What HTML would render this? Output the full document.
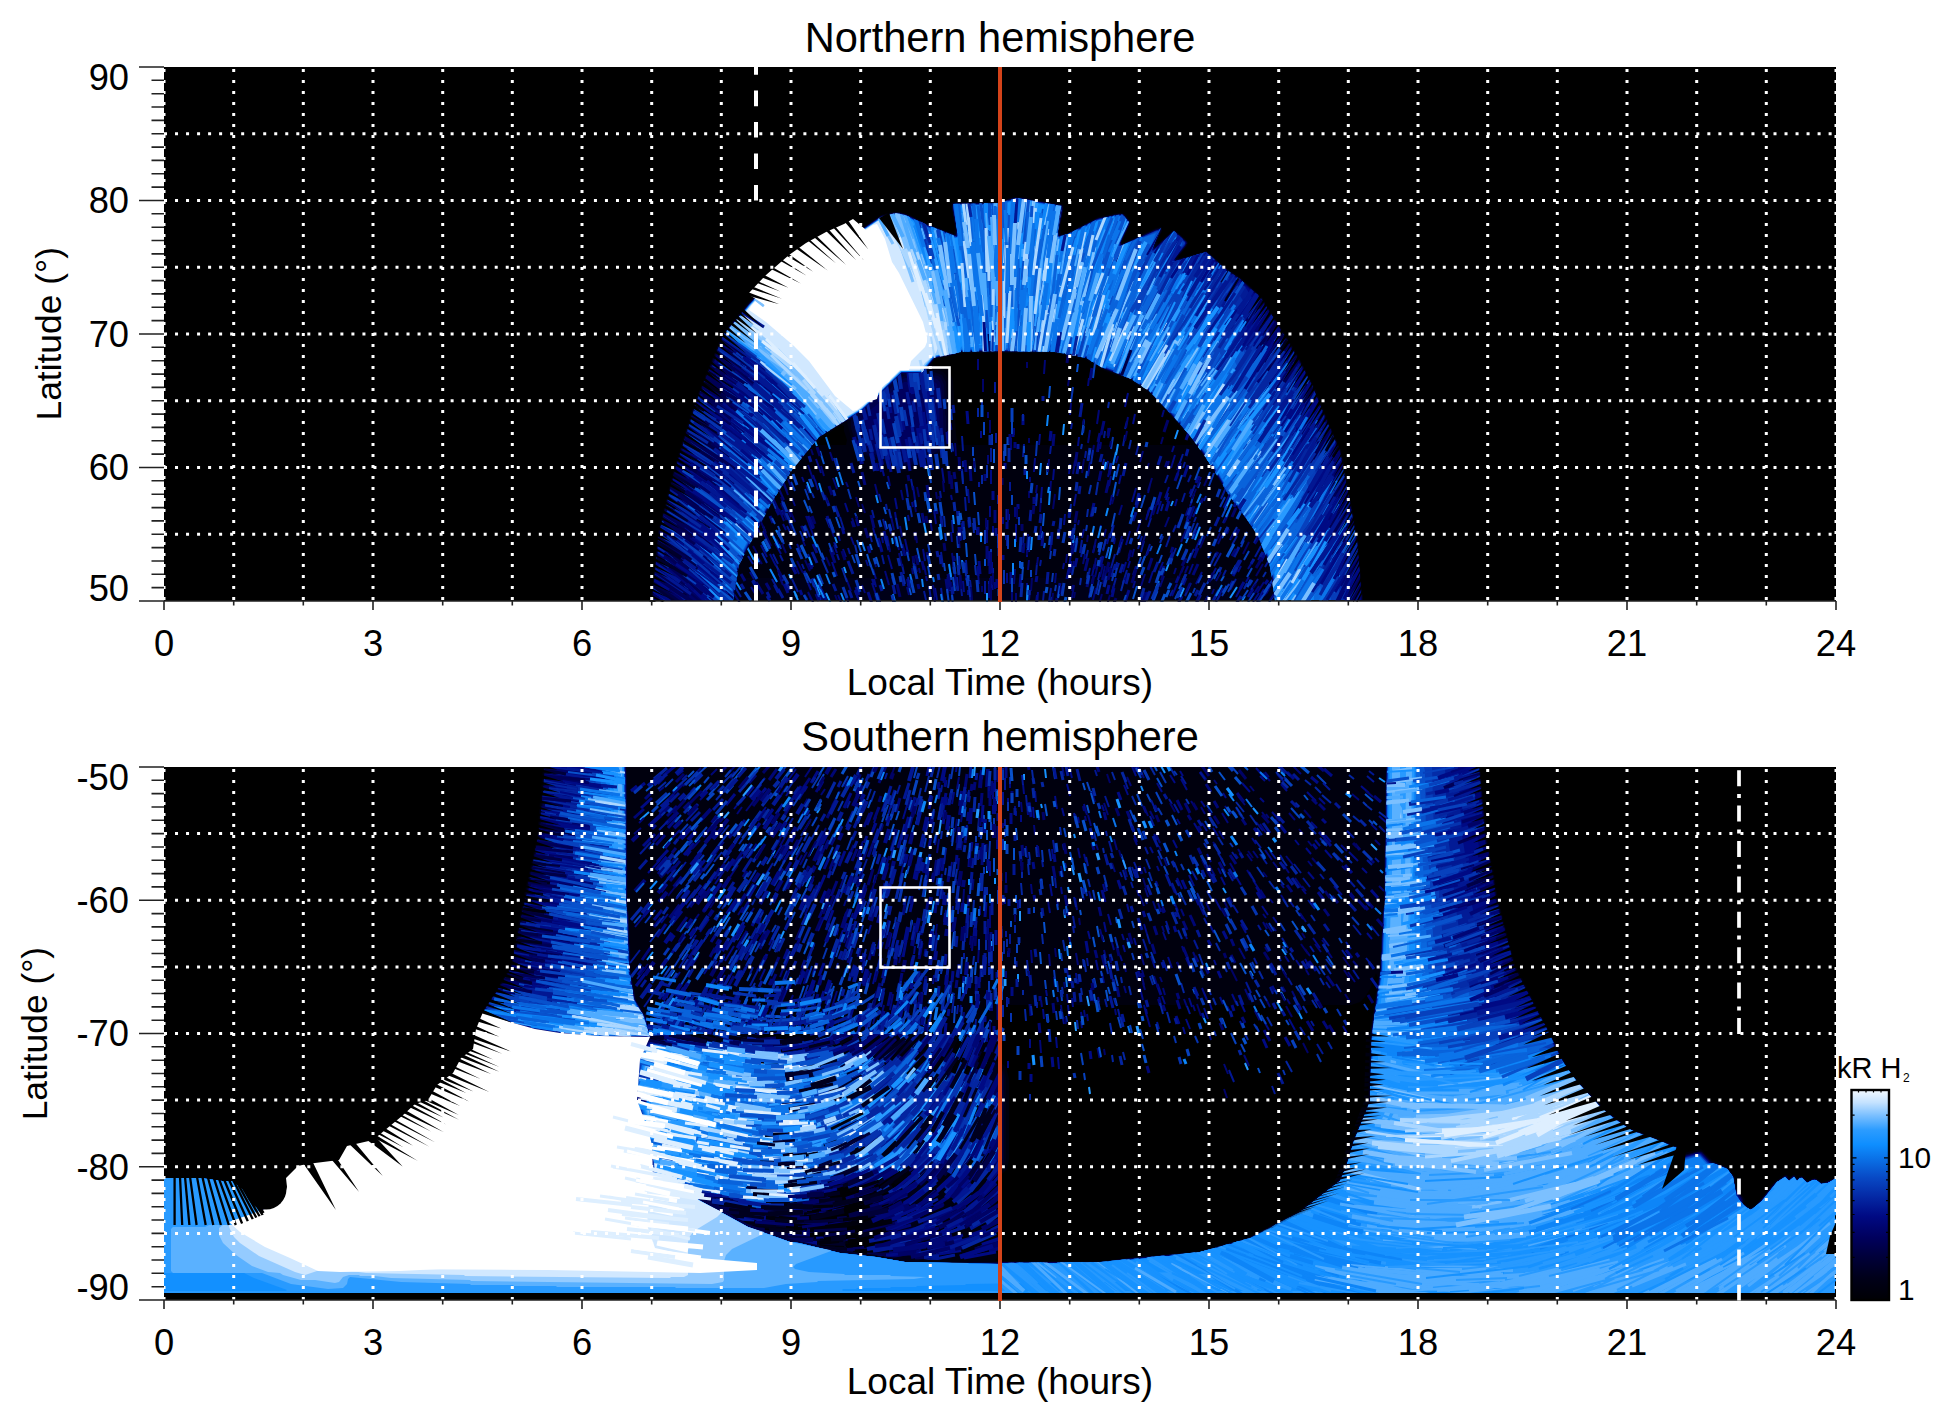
<!DOCTYPE html>
<html><head><meta charset="utf-8"><title>Aurora</title>
<style>html,body{margin:0;padding:0;background:#fff}svg{display:block}text{font-family:"Liberation Sans",sans-serif;fill:#000}</style></head><body>
<svg width="1950" height="1423" viewBox="0 0 1950 1423">
<rect width="1950" height="1423" fill="#fff"/>
<rect x="164.0" y="67.0" width="1672.0" height="534.0" fill="#000"/>
<rect x="164.0" y="767.0" width="1672.0" height="533.0" fill="#000"/>
<clipPath id="cn"><rect x="164" y="67" width="1672" height="535"/></clipPath>
<g clip-path="url(#cn)">
<path d="M1363 594l-1-1-4-55-17-88-12-26-13-34-20-38-34-55-22-20-15-10-18-16-28 7-1-1 9-11 1-4-13-12-2 0-15 14-1-3 5-10 0-4-6 1-33 15-1-1 9-20-6-8-8-1-19 4-31 16-6 1-1-6 4-22-2-2-22-3-17-4-10 0-16 5-44 0-2 2 4 24-1 6-28-11-16-8-10-3-8 0-11 3-21 14-10-9-29 21-40 26-33 36-25 29-30 75-19 61-16 63-7 69 712 0zM844 426l0 5 3 9-1 5-28 0-1-1 4-6 20-13zM932 363l3-4 27-6 92 0 31 6 18 11 27 10 18 12 27 28 18 24-1 1-234 0-2-10-3-55-3-8-4-4-13-3z" fill="#00000e" fill-rule="evenodd"/>
<path d="M1363 596l-1-1-4-55-17-89-33-76-12-22-34-55-22-20-15-10-19-17-21 7-7 1-1-1 11-15-4-5-10-8-17 15-1-3 6-12-1-3-39 17-1-1 9-19 0-3-6-7-3-1-24 5-31 16-6 1-1-6 4-19-1-5-46-8-20 6-43 0-1 5 4 21-1 6-28-11-21-10-9-2-17 4-20 14-9-9-2 0-27 20-40 26-25 27-34 39-27 66-22 70-1 8-15 56-7 67 712 0zM739 571l1-5 32-63 19-31 29-35 22-14 5-1 6 23 3 6 5 5 7 4 31 12 13-1 32-18 6-6 2-6-3-59-3-7-3-3-4-2-7 0-4-2 6-9 28-7 92 0 31 6 18 11 27 10 18 12 13 13 34 39 16 23 15 27 20 26 11 17 12 32 0 9-1 1-528 0z" fill="#000018" fill-rule="evenodd"/>
<path d="M1362 594l-1-1-4-55-17-88-33-76-12-22-34-55-20-18-15-10-19-17-31 8-1-1 11-13 1-4-12-11-2 0-17 16-2-1 7-15 0-3-5 1-34 16-1-3 9-20-7-8-6 0-19 4-31 16-8 2-1-2 5-25-1-4-22-3-17-4-10 0-16 5-44 0-1 4 5 27-1 1-30-11-21-10-9-2-15 4-21 14-10-9-29 21-40 26-32 35-26 31-1 5-28 68-19 61-16 63-7 69 82 0 5-34 26-49 5-12 20-32 29-36 28-17 3-1 1 1 0 8 5 17 7 9 36 15 10 0 5-2 28-16 5-5 2-5 0-18-1-1-2-40-4-7-8-3-8 0-1-2 10-12 13-2 13-4 94 0 31 6 18 11 27 10 18 12 39 42 24 34 18 31 18 23 12 20 10 26 5 33 87 0z" fill="#000028" fill-rule="evenodd"/>
<path d="M1362 596l-1-1-4-55-17-89-33-76-12-22-34-55-22-20-15-10-11-11-7-5-19 6-11 2-1-1 10-12 2-5-12-11-2 0-18 17-1-3 7-17-40 17-1-1 9-19 0-4-6-7-5 0-22 5-29 15-8 2-1-3 5-25-2-3-22-3-17-4-8 0-16 5-44 0-2 3 5 27-1 3-31-12-15-8-10-3-8 0-11 3-20 14-3 0-7-8-2 0-26 19-40 26-26 28-33 38-27 66-22 70-16 63-7 68 81 0 6-35 32-62 20-32 28-34 31-19 3 0 1 1-1 6 5 18 2 4 6 6 36 14 8-1 26-14 10-10 0-26-1-1-1-30-3-7-3-2-15-2 5-9 6-7 27-6 37 0 1-1 3 1 54 0 31 6 18 11 28 11 15 10 28 29 16 19 19 27 18 31 28 38 13 32 5 34 87 0zM900 376l2-2 3 1-3 2z" fill="#000038" fill-rule="evenodd"/>
<path d="M1362 596l-1-1-4-55-18-91-31-72-12-22-36-58-20-18-15-10-19-17-30 9-1-3 12-15-13-12-19 17-2-1 8-18-6 1-34 15-1-2 9-19 0-3-6-7-26 5-29 15-9 2-1-4 4-19 0-7-41-8-6 0-16 5-44 0-2 1 0 7 4 21-1 4-29-11-18-9-10-3-6 0-11 3-21 14-3 0-7-8-2 0-26 19-40 26-26 28-33 38-4 13-23 54-22 70 0 4-15 57-7 69 80 0 6-36 31-60 20-32 30-36 39-23 2 1-5 7 0 6 4 14 4 7 10 6 27 10 9-1 30-17 4-8-2-47-2-9-3-3-6-2-26 1-9 5-9 9-2-1 17-18 21 0 1-3 10-12 21-4 7-3 92 0 31 6 18 11 27 10 18 12 41 44 23 32 18 31 28 38 12 30 5 35 87 0zM880 396l1 1-4 3-1-1z" fill="#00004b" fill-rule="evenodd"/>
<path d="M933 381l-29 1-36 30-8 9 0 8 6 16 7 5 26 10 9 0 29-16 3-4-1-42-2-14zM1361 594l-1-1-4-55-17-88-32-74-12-22-34-55-20-19-15-10-19-17-8 1-23 7-2-2 11-13 1-4-11-10-2 0-18 17-2-1 0-2 8-17-24 9-16 8-1-3 9-19-3-6-5-4-24 5-31 16-7 1-1-7 4-23-46-8-20 6-43 0 4 25-1 7-30-11-20-10-8-2-18 4-20 14-9-9-2 0-27 20-40 26-57 64-4 13-23 54-22 70-16 64-7 67 79 0 6-34 33-64 20-32 26-32 45-27 17-15 22-23 21 0 12-15 28-7 92 0 31 6 21 12 26 10 18 12 38 41 23 32 18 31 26 35 6 11 10 26 5 33 85 0z" fill="#00005e" fill-rule="evenodd"/>
<path d="M1361 596l-1-1-4-55-17-89-33-76-12-22-34-55-21-19-15-10-18-16-31 8-1-2 12-15 0-2-11-10-2 0-19 18-1-4 7-17-39 17-1-4 9-20-6-7-6 0-19 4-31 16-8 2-2-3 5-28-45-8-20 6-44 0 5 30-1 2-6-1-25-10-20-10-9-2-17 4-20 14-10-9-68 46-33 36-25 30 0 5-25 59-18 57 0 4-4 10-9 37-5 26-1 37-3 31 73 0 6-35 32-62 20-32 26-32 6-5 39-23 40-38 21 0 13-16 22-4 4-2 94 0 31 6 18 11 27 10 18 12 40 43 23 32 18 31 28 38 13 33 5 33 85 0z" fill="#000571" fill-rule="evenodd"/>
<path d="M669 600l63 0 6-35 32-62 20-32 29-35 42-25 40-38 20 0 2-1 10-14 28-7 38 0 1-1 1 1 54 0 31 6 18 11 27 10 18 12 28 29 16 19 19 27 18 31 28 38 13 32 5 34 84 0 0-5-1-1-4-55-17-88-33-76-12-22-34-55-22-20-12-8-19-17-27 8-4 0-1-2 12-16-12-11-20 18-2-1 8-20-40 17-1-2 10-22-6-7-6 0-19 4-31 16-8 2-2-3 5-25-1-3-38-7-10 0-16 5-43 0-1 3 5 27-2 3-23-10-8-2-15-8-14-4-15 4-21 14-2 0-8-9-26 19-40 26-60 67 0 2 8 7 0 4-26 57-9 27-11 45-1 10-12 55-1 38z" fill="#000a84" fill-rule="evenodd"/>
<path d="M724 334l1 3 14 10 8 9-28 56-7 18 0 4-9 28 0 4-6 20-13 57 0 29-3 28 51 0 6-36 31-60 20-32 31-37 42-25 40-38 20 0 12-15 27-6 37 0 1-1 3 1 54 0 31 6 18 11 28 11 18 12 43 48 19 27 18 31 26 35 14 34 5 34 80 0-5-57-19-89-10-20-17-42-18-33-27-42-6-16-8-13-9-9-20-15-10-10-4 0-28 8-2-2 12-15 0-3-11-10-21 19-1-3 8-18-3 0-34 16-3 0-1-2 9-20 0-3-5-6-5 0-20 4-31 16-9 2-1-3 5-27-39-8-10 0-16 5-43 0-1 3 5 27-1 3-32-12-15-8-10-3-8 0-11 3-20 14-3 0-8-9-27 20-40 26z" fill="#021b96" fill-rule="evenodd"/>
<path d="M724 335l20 15 12 11 6 7 0 2-20 35-13 28-28 110-2 18 0 21-3 18 36 0 5-33 16-33 17-32 20-32 28-34 45-27 13-13 4-2 20-21 2-1 20 0 12-15 22-4 6-3 92 0 31 6 18 11 29 11 18 12 39 42 23 32 18 31 28 38 13 32 5 35 72 0 0-11-5-46-14-63-6-22-14-28-14-34-21-37-13-19-14-33-22-35-19-18-14 3-14 5-5-1 0-2 12-15 0-2-10-9-2 0-19 18-3-1 8-20-36 16-3 0-1-3 9-21-6-7-4 0-19 4-31 16-10 2-1-4 5-26-40-8-8 0-16 5-44 0-1 2 5 27-1 4-33-12-19-10-13-1-11 3-20 14-3 0-7-8-2 0-26 19-40 26-34 37z" fill="#042ca8" fill-rule="evenodd"/>
<path d="M725 334l0 2 11 7 30 26 14 14 2 5-6 7-17 27-9 20-6 21-10 23-24 67-6 47 27 0 6-35 32-62 20-32 30-36 42-25 40-38 21 0 12-15 21-4 7-3 93 0 31 6 18 11 27 10 18 12 41 44 23 32 18 31 27 37 14 34 5 33 63 0-5-54-11-47-12-39-10-18-19-43-26-43-18-43-22-33-12-23-5-1-21 6-6-1 1-4 11-14-11-10-21 19-2-1 0-2 8-18-3 0-36 16-2-2 10-21-3-6-4-3-24 5-29 15-10 2-1-5 4-19 0-6-40-8-6 0-16 5-44 0-1 7 4 21-1 5-21-7-19-8-8-5-10-3-6 0-12 3-20 14-3 0-7-8-2 0-26 19-40 26-34 37z" fill="#073db9" fill-rule="evenodd"/>
<path d="M725 334l0 2 24 17 14 14 8 6 16 18 3 5 0 3-7 8-15 23-27 55-27 72-5 43 22 0 7-38 32-61 21-33 28-33 42-25 40-38 21 0 12-15 20-4 7-3 37 0 1-1 3 1 54 0 31 6 18 11 28 11 18 12 25 26 19 23 18 26 18 31 28 38 13 32 5 34 54 0-4-43-3-16-9-35-14-40-33-66-8-12-28-63-12-21-21-31-16-11-4 1-7-1 1-5 9-12 0-3-8-8-22 19-2-2 8-20-36 16-3 0-1-3 10-22-5-6-6 0-19 4-29 15-10 3-3-3 5-28-43-8-22 6-42 0 5 30-2 2-3 0-21-9-3 0-14-6-5-4-12-4-6 0-11 3-23 15-8-9-2 0-27 20-40 26-32 35z" fill="#0851cc" fill-rule="evenodd"/>
<path d="M725 334l1 2 22 16 34 31 11 16 2 6-12 15-15 24-23 47-26 66-6 43 17 0 1-1 5-33 8-17 25-47 20-32 26-32 6-5 9-4 31-19 40-38 20 0 12-15 27-6 3-2 91 0 31 6 21 12 28 11 15 10 29 30 16 19 19 27 18 31 28 38 13 32 5 35 45 0-6-52-15-50-12-29-7-11-62-127-22-34-28-23-5-11 1-12-5-4-7 6-4-1 0-3 6-16-17 6-16 8-5-1 9-22 0-2-5-6-24 4-31 16-9 2-2-4 5-27-38-7-10 0-16 5-43 0 5 29-2 4-33-12-3 5-4-8-3-3-17-6-15 3-22 15-8-8-3-1-27 20-40 26-32 35z" fill="#0a67de" fill-rule="evenodd"/>
<path d="M726 333l2 4 22 16 29 26 17 23 4 9-11 13-16 25-22 43-25 67-2 24-3 17 8 0 1-2 5-33 33-63 20-32 29-35 11-5 34-21 39-37 20 0 12-15 23-5 7-4 35 0 1-1 3 1 53 0 31 6 19 11 28 11 18 12 29 31 18 22 16 23 15 27 31 43 13 33 5 33 36 0 0-11-4-33-14-47-11-25-17-31-22-46-36-63-15-21-6-6-9-6-15-15-5-7-6-14-4-4-6-11-1-14-2-4-4-1-16 7-4-2 10-23-5-7-23 4-31 16-10 2-2-2 5-28-1-1-38-7-8 0-16 5-43 0-1 1 5 30-4 2-8-4-12-3-5 21-5-4-9-25-4-4-7-3-9-2-15 4-21 14-2 0-8-9-26 19-40 26z" fill="#0c7df1" fill-rule="evenodd"/>
<path d="M726 334l20 15 37 34 25 36-11 15-15 25-15 33-4 6-7 19 30-49 26-32 8-6 5 1 35-21 40-38 22-1 12-15 24-5 5-6 34 0 1-1 5 1 53 0 31 6 19 11 26 10 19 12 14 13 35 42 16 24 18 32 27 38 13 34 4 33 29 0-5-45-8-27-7-18-46-89-41-64-12-15-19-11-16-13-8-9-7-11-16-36-3-12-3-3 3-11 0-17-1-1-20 3-29 15-10 3-4-4 5-27-42-8-22 6-41 0 5 29-2 3-4 0-7-3-1 1-3 32-2 7-4-4-14-24-6-20-3-6-3-2-11-4-8 0-4 2-4 0-24 15-2 0-8-9-26 19-40 26-35 38z" fill="#1290ff" fill-rule="evenodd"/>
<path d="M904 216l-12-1-11 3-20 14-3 0-7-8-4 1-24 18-40 26-33 36-23 28 2 3 22 16 32 29 23 32 17 17 7-2 30-18 42-39 20 0 12-15 20-4 5-3 1-17-6-23-25-50-8-13-1-6-7-18z" fill="#289aff" fill-rule="evenodd"/>
<path d="M904 217l-11-2-11 3-21 14-3 0-7-8-4 1-24 18-40 26-33 36-20 25 1 3 21 15 35 32 21 29 19 19 8-3 26-16 40-38 20 0 12-15 12-2 9-3 1-2 1-12-5-23-26-54-7-11-7-23-3-6z" fill="#5ab1ff" fill-rule="evenodd"/>
<path d="M897 216l-15 2-23 15-9-9-26 19-40 26-47 52-2 4 1 3 21 15 35 32 26 35 15 14 4-1 25-15 17-15 20-21 2-1 19 0 13-15 12-3 3-5 1-12-5-21-26-53-6-9-6-21z" fill="#94cbff" fill-rule="evenodd"/>
<path d="M887 218l-9 3-18 12-2 0-7-8-3 0-24 18-40 26-34 37-9 12 0 2 15 10 28 24 17 17 26 35 14 12 3 0 16-9 40-38 20-1 5-7 11-10 3-8 0-11-5-18-24-49-8-13-6-21-7-14z" fill="#d1e8ff" fill-rule="evenodd"/>
<path d="M877 224l-4 1-13 9-2 0-8-9-26 19-40 26-33 36-2 4 17 12 28 24 15 15 26 35 18 15 4-1 9-7 34-33 9 0 2-9 14-14 2-5 0-5-4-15-24-49-7-11-7-23z" fill="#ffffff" fill-rule="evenodd"/>
<clipPath id="cnb"><polygon points="652.0,601.0 659.0,533.0 676.0,467.0 697.0,400.0 724.0,334.0 753.0,301.0 783.0,268.0 825.0,240.0 850.0,222.0 859.0,232.0 881.0,217.0 896.0,213.0 905.0,215.0 930.0,226.0 958.0,237.0 953.0,204.0 998.0,203.0 1017.0,198.0 1062.0,206.0 1057.0,237.0 1068.0,234.0 1098.0,219.0 1122.0,214.0 1129.0,222.0 1118.0,247.0 1161.0,228.0 1150.0,254.0 1174.0,231.0 1187.0,243.0 1172.0,262.0 1206.0,252.0 1223.0,267.0 1241.0,280.0 1260.0,297.0 1276.0,322.0 1294.0,352.0 1312.0,385.0 1327.0,422.0 1340.0,452.0 1349.0,497.0 1357.0,542.0 1362.0,601.0 1275.0,601.0 1270.0,567.0 1258.0,536.0 1246.0,518.0 1228.0,494.0 1210.0,464.0 1191.0,437.0 1173.0,416.0 1149.0,391.0 1131.0,379.0 1101.0,367.0 1086.0,358.0 1055.0,352.0 1000.0,351.0 961.0,352.0 934.0,358.0 922.0,373.0 901.0,373.0 883.0,391.0 862.0,410.0 843.0,422.0 819.0,437.0 792.0,470.0 772.0,502.0 755.0,534.0 739.0,565.0 733.0,601.0"/></clipPath>
<g clip-path="url(#cnb)"><path d="M1299 404l23 -36M693 490l-35 -22M700 474l-15 -10M717 422l-19 -13M677 540l-18 -14M1249 325l30 -39M682 550l-38 -22M710 473l-36 -25M684 565l-24 -16M700 476l-23 -17M1346 551l14 -27M693 529l-44 -30" stroke="#000047" stroke-width="4" fill="none" stroke-linecap="butt"/>
<path d="M723 530l-16 -12M1325 503l13 -19M1328 474l11 -19M1298 468l22 -38M1263 395l33 -44M1305 412l17 -30M717 514l-21 -17M710 602l-26 -20M780 398l-25 -19M1317 469l14 -23M1324 520l19 -33M1331 521l13 -20M1311 462l16 -27M769 391l-27 -20M707 540l-15 -11M735 478l-23 -19M1262 387l22 -36M1332 530l14 -23M668 554l-17 -10M1329 592l31 -46M1337 553l10 -17M779 400l-39 -30M741 383l-16 -11M718 496l-45 -31M1341 583l20 -31M723 574l-33 -29M1309 489l18 -30M748 377l-29 -23M748 403l-32 -20M703 564l-25 -18M698 522l-21 -13M724 469l-35 -24M1115 262l14 -33M1210 292l24 -38M750 431l-31 -23M721 464l-25 -17M691 546l-19 -14M730 479l-41 -32M738 485l-32 -21M1306 416l13 -21M708 541l-28 -18M700 524l-19 -15M1292 455l30 -48M1326 523l30 -45M744 530l-48 -34M747 435l-23 -17M1249 372l20 -29M714 511l-24 -18M710 616l-39 -30M1214 281l11 -16M744 383l-30 -19M1339 600l27 -53M712 600l-18 -17M765 375l-36 -30M703 590l-44 -37M1314 489l18 -33M733 448l-24 -18M1318 446l17 -25M734 443l-38 -26M1339 503l11 -16M722 474l-23 -18M1336 581l11 -17M774 414l-49 -33M779 509l-14 -16M704 571l-29 -25M724 493l-29 -20M1153 255l9 -16M1319 497l28 -44M674 546l-29 -18" stroke="#000675" stroke-width="3" fill="none" stroke-linecap="butt"/>
<path d="M1271 453l17 -27M977 376l-7 -57M1168 320l29 -49M1308 603l14 -24M1196 334l17 -25M1148 295l16 -35M1140 315l24 -47M1177 310l26 -42M1291 489l17 -25M1204 342l22 -39M955 364l-3 -23M1198 299l14 -20M1180 284l12 -22M795 418l-13 -13M1183 334l22 -43M1290 546l18 -29M797 462l-42 -39M1122 278l17 -42M1211 483l15 -25M815 478l-38 -37M1072 382l15 -53M1139 394l12 -24M1143 321l19 -31M1206 337l18 -27M1169 323l27 -51M757 535l-14 -14M1293 523l20 -33M764 534l-37 -32M1131 386l9 -17M1154 348l21 -41M1291 560l24 -34M1293 532l13 -21M1138 299l12 -26M1197 327l27 -47M1165 314l21 -32M1203 387l28 -45M1171 352l19 -28M1272 526l33 -48M790 483l-42 -35M1183 296l14 -28" stroke="#1792ff" stroke-width="3" fill="none" stroke-linecap="butt"/>
<path d="M1148 338l15 -26M1282 444l32 -49M1299 560l12 -17M1194 286l22 -30M1259 497l17 -25M1048 334l5 -59M1089 336l13 -53M1330 523l16 -25M970 344l-5 -55M1005 214l1 -21M1046 345l5 -50M1040 352l9 -50M1255 467l21 -30M1173 424l28 -49M1025 357l1 -23M1057 318l8 -45M1125 329l22 -52M1243 509l13 -21M779 432l-45 -36M780 487l-28 -24M749 586l-44 -40M1005 245l2 -55M1030 253l7 -50M975 350l-5 -55M1104 267l7 -23M1115 361l8 -17M1301 505l27 -42M972 331l-7 -45M1232 510l33 -44M779 508l-38 -37M948 282l-14 -56M1165 344l18 -28M1101 295l11 -33M1180 445l26 -51M969 242l-6 -55M804 403l-22 -18M1179 271l11 -17M1012 245l2 -31M737 571l-40 -36M1212 326l15 -21M1155 338l12 -25M1159 391l27 -53M1044 350l5 -42M1155 411l17 -31M1084 301l7 -24M1130 391l16 -29M1018 336l3 -42M1153 322l16 -32M1064 262l4 -26M1160 425l18 -29M1130 404l20 -47M974 285l-5 -29M1170 405l23 -37M1248 535l32 -49M969 280l-4 -24M1215 498l33 -47M1318 614l24 -42M1250 507l21 -31M1005 349l2 -59M1087 308l7 -31M993 334l1 -27M1223 479l18 -24M1216 513l30 -48M970 247l-3 -25M983 346l-6 -46M1123 333l28 -50M1246 528l33 -46M1236 486l13 -21M1091 354l11 -33M947 279l-9 -48M811 424l-21 -22M1057 288l10 -59M1104 298l11 -30M1174 355l16 -29M1031 300l1 -23M1105 309l21 -55M1043 250l5 -32M1003 269l4 -56M960 303l-2 -20M1250 343l13 -19M1007 282l-2 -57M1260 410l21 -36M1322 563l10 -16M1323 579l16 -28M1023 342l4 -54M1275 589l24 -37M761 532l-15 -14M1304 596l19 -34M1277 560l18 -31M1226 432l10 -17M1326 566l16 -23M986 235l-1 -48M1032 309l7 -57M1043 332l9 -52M1147 377l20 -39M1189 409l15 -21" stroke="#0963db" stroke-width="2" fill="none" stroke-linecap="butt"/>
<path d="M1125 301l26 -54M743 553l-18 -17M768 507l-26 -21M1118 309l14 -29M1109 305l12 -33M1164 382l24 -47M1153 391l19 -37M1025 352l2 -37M1124 267l19 -38M800 466l-22 -25M1179 381l10 -17M1138 373l19 -42M760 528l-31 -32M1102 372l20 -53M1246 367l30 -41M1212 432l19 -30M786 410l-35 -26M767 423l-14 -12M1174 420l29 -43M1221 496l13 -17M1289 575l29 -49M946 306l-8 -42M1049 269l5 -39M1286 429l29 -48M1101 269l12 -30M1152 284l11 -20M1037 319l6 -40M1300 611l27 -37M1163 296l18 -31M1031 341l4 -29M1279 482l12 -19M1113 299l12 -33M1163 353l20 -35M1201 440l13 -19M1087 295l6 -26M1201 474l18 -29M1242 490l24 -41M1096 377l11 -35M1050 256l5 -28M1291 564l28 -40M1129 341l19 -47M1166 322l18 -31M1074 302l5 -19M1221 446l13 -22M1081 353l5 -21M1228 427l11 -19M723 609l-38 -32M1007 260l3 -45M1292 576l24 -37M1299 470l32 -45M718 539l-36 -24M1165 334l16 -26M826 436l-18 -22M988 329l1 -48M825 468l-34 -35M959 296l-7 -50M735 441l-41 -28M1162 408l11 -22M990 225l-2 -38M1275 510l26 -36M1145 318l14 -25M718 506l-35 -27M1265 503l16 -25M777 407l-21 -18M749 423l-20 -14M1125 285l13 -35M1160 369l9 -16M1184 331l19 -38M995 372l2 -50M1248 477l11 -18M1024 288l4 -40M1203 471l20 -28M974 275l-3 -42M1020 358l3 -31M1283 551l35 -47M767 518l-32 -30M1264 506l27 -47M726 519l-21 -17M1146 346l20 -44M761 420l-43 -37" stroke="#0851cc" stroke-width="4" fill="none" stroke-linecap="butt"/>
<path d="M745 376l-23 -18M770 483l-38 -31M1241 394l18 -29M1246 435l34 -45M723 439l-17 -14M1344 552l22 -41M1204 361l25 -37M1305 522l27 -39M1224 344l12 -17M1169 283l23 -38M685 572l-27 -20M1226 337l12 -19M750 501l-30 -26M1215 350l34 -49M1289 449l11 -20M1276 441l9 -16M1181 318l27 -50M722 384l-23 -13M678 533l-24 -17M1192 331l27 -42M947 258l-8 -54M1306 512l10 -17M1189 269l10 -17M1218 327l23 -38M1292 456l22 -35M685 568l-27 -21M1210 316l26 -44M768 426l-25 -18M1149 271l25 -43M1314 432l10 -17M1164 267l19 -31M1247 382l12 -17M733 382l-21 -16M1328 491l24 -35M727 613l-30 -28M727 601l-28 -28M1322 592l29 -51M1189 272l16 -24M1347 580l16 -33M761 483l-17 -15M751 527l-44 -36" stroke="#0425a0" stroke-width="2" fill="none" stroke-linecap="butt"/>
<path d="M771 390l-33 -29M1338 614l26 -44M766 430l-30 -25M1289 439l26 -44M707 597l-16 -12M713 607l-17 -17M1240 322l18 -28M1166 248l17 -29M724 484l-35 -22M770 424l-17 -16M1315 518l19 -34M742 483l-18 -13M779 426l-40 -34M764 427l-25 -22M739 461l-19 -16M782 417l-23 -22M766 456l-19 -16M719 610l-33 -30M1333 592l14 -24M1266 407l25 -42M1293 432l25 -39M747 444l-31 -27M737 428l-20 -17M1318 503l9 -17M791 413l-41 -33" stroke="#000a84" stroke-width="2" fill="none" stroke-linecap="butt"/>
<path d="M732 446l-34 -26M713 444l-17 -11M739 439l-47 -33M1274 360l10 -17M719 576l-42 -31M755 430l-40 -26M723 390l-25 -17M736 417l-37 -27M680 577l-19 -15M762 425l-44 -36M731 521l-43 -31M733 482l-37 -24M1244 324l17 -22M734 433l-43 -30M742 483l-40 -30M1120 226l8 -22M736 452l-19 -15M751 373l-48 -35M723 598l-45 -36M1354 608l11 -23M1291 406l26 -41M1254 363l25 -42M766 370l-27 -18M755 595l-37 -33M702 589l-16 -12M726 431l-18 -13M697 588l-41 -31M669 581l-28 -20M690 543l-16 -12M738 501l-46 -37M754 377l-41 -29M1305 446l25 -45M774 406l-28 -24M711 593l-32 -23M1270 365l15 -24M1296 397l15 -20M760 375l-32 -22M706 608l-38 -30M1278 420l28 -41M1329 474l11 -17M701 590l-39 -32M706 447l-32 -21M1330 543l23 -45M706 608l-37 -26M711 454l-34 -21M708 564l-49 -31M1297 385l17 -25M731 511l-46 -30M1259 327l15 -25M711 499l-15 -11M704 584l-40 -28M1257 319l11 -15M710 449l-24 -17M707 497l-31 -20M711 512l-27 -17M711 562l-29 -22M1310 463l20 -33M745 420l-17 -12M691 607l-34 -25M708 522l-43 -34M699 479l-20 -14M770 398l-39 -26M715 601l-29 -26M738 408l-43 -30" stroke="#000266" stroke-width="3" fill="none" stroke-linecap="butt"/>
<path d="M1292 538l15 -21M1125 332l20 -41M824 429l-31 -37M1161 339l12 -24M1190 342l13 -24M956 326l-5 -20M1030 323l1 -59M914 233l-7 -19M1025 225l2 -46M1253 559l23 -34M998 250l-0 -41M1123 384l20 -51M795 449l-28 -25M1245 518l25 -39M958 233l-3 -37M1190 329l19 -31M1107 249l9 -20M1021 366l1 -39M1125 280l17 -36M1112 283l8 -24M1176 375l13 -26M1106 308l19 -54M1141 406l25 -41M785 378l-21 -16M1207 411l25 -36M973 320l-2 -24M1239 451l36 -46M1182 333l19 -35M988 234l-4 -45M807 405l-38 -39M1097 277l9 -35M1178 382l27 -43M783 500l-25 -22M747 564l-36 -35M1002 238l-1 -31M1189 365l23 -44M955 365l-5 -32M950 318l-12 -44M1242 464l31 -40M779 514l-25 -22M780 373l-29 -24M813 404l-42 -40M1158 312l27 -48M1277 559l10 -17M969 280l-5 -51M1071 273l6 -26M1015 291l4 -51M988 365l-5 -57M944 272l-9 -45M1246 526l27 -43M823 427l-28 -35M1146 316l15 -24M1086 341l14 -48M759 543l-24 -24M1052 295l5 -55M1176 373l29 -49M999 268l-2 -46M744 597l-25 -25M1136 311l10 -22M1016 325l1 -43M1271 495l29 -47M748 618l-40 -40M1027 241l6 -50M936 284l-15 -46M1197 362l12 -20M1270 541l14 -22M1203 418l31 -49M1034 223l3 -20M1163 318l10 -20M1057 305l7 -41M1178 443l29 -50M1001 267l-1 -19M1200 352l14 -26M1189 330l13 -22M1114 308l17 -38M1201 478l23 -38M757 546l-33 -28M1186 403l12 -17M1097 351l7 -28" stroke="#289aff" stroke-width="3" fill="none" stroke-linecap="butt"/>
<path d="M1136 364l9 -19M1025 251l2 -19M1133 360l13 -30M1155 294l16 -32M1169 365l19 -31M985 291l-4 -50M738 576l-46 -37M753 529l-23 -19M1181 282l10 -18M974 355l-8 -44M1186 440l33 -49M1116 369l11 -33M1094 309l11 -41M1229 487l30 -39M967 335l-2 -21M828 437l-14 -18M1099 260l16 -48M1038 314l2 -34M1182 389l21 -40M1085 281l9 -33M1098 250l10 -37M1045 277l2 -24M1178 329l11 -16M1232 500l19 -30M1278 439l12 -20M975 360l-6 -54M1186 311l18 -29M1111 364l21 -46M954 295l-5 -27M1023 319l2 -37M984 243l0 -27M1016 330l4 -50M1083 347l16 -57M1112 385l10 -31M1137 383l16 -34M1026 315l0 -23M1190 389l13 -22M1074 299l14 -48M1308 593l29 -43M1204 317l21 -33M1030 318l2 -56M1233 503l15 -19M748 519l-30 -23M1002 227l-0 -36M1308 545l17 -25M1030 327l2 -46M1204 431l24 -43M948 308l-14 -52M1070 312l6 -40M749 536l-25 -22M1268 447l24 -39M1302 533l16 -27M1172 309l30 -48" stroke="#0d85f8" stroke-width="2" fill="none" stroke-linecap="butt"/>
<path d="M1016 318l0 -34M1280 570l28 -43M960 235l-7 -46M1097 278l13 -43M1247 562l30 -47M1265 573l31 -43M1285 445l11 -17M1091 369l8 -34M1123 312l16 -34M1338 573l11 -19M1091 331l16 -55M1068 260l13 -47M993 349l-2 -35M1181 443l15 -30M1124 382l18 -40M1114 276l15 -37M1018 332l-1 -56M1110 270l14 -31M1218 456l31 -46M1051 330l10 -48M737 607l-19 -18M1144 336l21 -42M1066 360l5 -28M1241 515l14 -24M1109 290l9 -26M960 319l-4 -22M1091 332l12 -39M1244 348l16 -22M1157 382l25 -43M1142 315l22 -38M985 239l-0 -35M1080 272l14 -52M1115 344l13 -30M1121 384l21 -48M1183 438l18 -36M1230 437l15 -21M992 318l0 -22M1152 248l10 -19M1020 228l4 -56M1016 360l4 -36M1019 366l2 -51M786 502l-27 -30M811 446l-36 -32M1120 330l15 -30M968 249l-6 -35M1066 359l8 -42M1250 487l13 -17M1136 293l13 -29M1244 457l19 -28M1280 518l15 -24M1205 393l33 -46M1229 501l24 -31M1215 295l13 -23M1123 389l10 -28M1001 239l1 -34M1128 304l23 -51M1018 298l-1 -49M963 243l-12 -56M1093 299l11 -45M1067 262l14 -52M1273 601l26 -38M1192 420l19 -35M1268 549l32 -43M1016 251l2 -20M1038 341l4 -23M995 251l-2 -42M1081 361l11 -42M1331 567l12 -18M960 296l-5 -32M1071 319l14 -57M774 420l-20 -15M1202 418l20 -34M1134 386l22 -42M795 441l-36 -37M1079 327l12 -42M1135 307l10 -19M982 245l-0 -37M811 450l-19 -22M1052 318l12 -58M733 503l-36 -27M1294 470l23 -42M754 411l-27 -19M1171 433l21 -38M959 230l-6 -29M1332 575l10 -17M1097 330l6 -21" stroke="#0963db" stroke-width="4" fill="none" stroke-linecap="butt"/>
<path d="M1294 514l21 -29M1155 325l29 -45M718 576l-32 -25M1296 566l12 -22M1345 560l14 -22M758 386l-42 -28M1191 314l14 -24M817 479l-36 -44M1238 438l34 -47M1290 517l25 -36M1219 506l18 -32M1265 355l26 -34M780 476l-19 -19M796 447l-17 -17M1031 375l7 -53M1131 307l11 -28M1246 406l16 -22M1212 366l16 -26M1251 352l22 -36M753 581l-31 -31M751 595l-34 -35M1220 367l27 -44M1314 561l9 -16M1245 450l23 -33M722 461l-31 -20M1258 456l16 -21M701 593l-40 -26M739 400l-24 -17M728 610l-35 -29M1281 415l17 -27M741 425l-17 -15M777 385l-26 -18M724 555l-21 -18M1158 277l9 -18M1322 486l27 -41M726 584l-21 -19M1218 351l11 -17M734 497l-21 -17M737 574l-22 -19M782 410l-42 -35M731 544l-30 -25M1267 401l28 -38M948 291l-11 -39M1072 383l14 -53M1236 439l20 -31M1179 305l16 -31M1304 437l23 -36M1310 484l19 -29M1256 337l11 -15M1229 439l31 -39M1242 418l17 -28M1304 588l34 -48M1250 563l27 -34M1057 222l7 -30M1202 346l16 -23M758 389l-39 -27M709 596l-44 -36M1207 376l22 -31M761 514l-43 -37M1237 340l27 -42M1170 306l19 -31M791 470l-31 -27M717 507l-39 -30M808 438l-27 -30M717 519l-30 -24M943 275l-7 -30M1229 424l26 -39M1139 331l28 -51M774 434l-31 -24M804 419l-30 -31M1243 449l28 -38M1353 586l11 -20M1190 321l32 -45M801 442l-29 -25M1080 368l10 -30M743 520l-43 -31M1203 352l26 -48M1311 585l24 -39M749 440l-23 -19M1272 494l13 -17M1287 416l24 -41M754 483l-45 -33M1307 585l25 -42M760 453l-16 -16M755 507l-28 -23M1253 376l28 -36M1255 472l30 -40M1138 277l9 -20M1198 323l28 -51M1170 255l12 -22M785 518l-31 -33M748 350l-26 -15M1076 374l10 -47M772 476l-23 -20M836 449l-29 -33M756 501l-16 -16M934 258l-17 -50" stroke="#0741bd" stroke-width="3" fill="none" stroke-linecap="butt"/>
<path d="M687 581l-49 -31M709 410l-23 -13M700 490l-37 -27" stroke="#000038" stroke-width="2" fill="none" stroke-linecap="butt"/>
<path d="M728 433l-48 -29M1284 491l23 -33M744 408l-48 -33M742 580l-34 -30M1316 469l26 -42M1304 526l13 -19M744 529l-29 -26M755 522l-40 -36M735 494l-46 -33M1307 552l9 -17M762 494l-21 -16M1353 578l9 -16M1278 465l26 -43M1315 548l18 -26M1278 381l22 -38M1214 282l17 -24M758 398l-25 -21M708 451l-18 -12M1285 512l16 -24M1218 314l30 -51M803 424l-24 -25M720 443l-35 -23M1266 376l21 -32M745 350l-22 -16M1187 338l23 -38M1153 281l14 -24M745 561l-41 -32M708 522l-42 -30M1324 543l26 -43M1210 385l30 -42M1299 553l21 -38M1176 301l16 -25M1199 318l18 -30M1233 403l26 -34M761 374l-25 -21M1188 327l14 -21M1323 585l12 -18M1300 549l31 -44M1314 556l19 -36M1234 416l19 -29M935 269l-18 -53M1257 401l13 -22M1173 287l14 -26M1319 577l27 -45M716 506l-32 -21M726 413l-35 -20M1176 280l9 -17M746 368l-40 -23M751 502l-21 -17M1314 581l15 -26M1307 448l14 -20M1182 296l24 -45M1260 430l11 -16M805 407l-31 -26M705 518l-16 -13M1264 433l10 -15M781 443l-25 -23M1175 321l24 -46M785 442l-24 -24M707 532l-42 -27M760 502l-30 -23M727 466l-47 -28M755 522l-32 -26M1163 284l26 -41M1189 298l13 -23M1226 390l13 -18M719 440l-39 -28M1302 531l16 -26M1151 272l14 -28M718 611l-42 -33M1341 507l9 -17M1345 598l27 -51M1261 411l12 -18M804 418l-13 -15M1183 292l24 -45M1235 378l28 -45M1249 319l24 -38M784 436l-16 -14M1197 374l28 -38M1286 390l25 -41M704 531l-34 -23M711 465l-23 -17" stroke="#0533af" stroke-width="3" fill="none" stroke-linecap="butt"/>
<path d="M953 354l-11 -46M1269 535l19 -32M849 434l-27 -34M929 305l-9 -33M912 276l-14 -37M1203 417l10 -19M1232 477l12 -16M1032 213l2 -18M817 391l-39 -42M825 406l-20 -23M1093 310l10 -27M967 292l-5 -48M1095 341l11 -37M776 357l-24 -21M814 388l-24 -26M815 404l-17 -16M932 280l-11 -45M1129 380l21 -36M762 337l-46 -32M919 278l-9 -21M990 335l2 -54M938 318l-9 -36M1102 267l13 -46M937 304l-7 -26M938 376l-7 -39M1086 333l11 -32M939 315l-17 -53M1140 367l27 -44M830 415l-17 -20" stroke="#acd7ff" stroke-width="2" fill="none" stroke-linecap="butt"/>
<path d="M781 389l-20 -18M1319 474l15 -22M740 525l-37 -28M739 492l-32 -27M1312 496l23 -43M773 461l-40 -30M782 429l-28 -24M1317 501l19 -30M753 416l-30 -22M722 495l-15 -11M718 492l-27 -22M1241 347l24 -33M709 574l-29 -20M747 512l-32 -24M738 491l-29 -24M714 539l-16 -14M717 519l-36 -29M764 387l-15 -12M1237 322l24 -34M1283 453l24 -40M762 367l-17 -11M723 460l-24 -16M707 500l-48 -30M717 534l-29 -23M1290 447l30 -49M757 464l-39 -30M1318 498l13 -18M1333 561l25 -37M1273 376l13 -19M727 600l-37 -30M716 593l-26 -24M825 456l-21 -27" stroke="#000a84" stroke-width="4" fill="none" stroke-linecap="butt"/>
<path d="M1236 471l31 -43M943 289l-7 -28M749 413l-32 -22M1228 393l10 -16M1262 379l14 -23M1036 329l6 -34M1191 343l18 -33M1299 472l11 -20M1125 318l17 -33M1082 363l11 -32M1250 543l22 -33M1235 397l12 -19M708 541l-24 -16M784 396l-19 -17M770 394l-16 -13M1098 329l10 -28M1009 359l-1 -33M794 446l-18 -17M1229 428l20 -32M1139 328l15 -35M984 245l-3 -26M1049 351l7 -35M1133 290l10 -18M1216 327l30 -50M1300 592l10 -17M807 454l-18 -20M697 603l-30 -26M1266 502l18 -25M1241 340l33 -47M1051 255l3 -26M1113 261l12 -25M1210 481l27 -40M1174 322l25 -40M1180 445l20 -39M990 262l-2 -32M1306 584l20 -32M711 529l-17 -12M1258 512l15 -22M1066 293l5 -31M1284 559l18 -26M1066 323l7 -50M1160 299l13 -27M1142 313l14 -29M1192 405l31 -47M1295 579l25 -37M1268 384l26 -36M766 536l-24 -21M736 461l-32 -24M1024 271l1 -36M1024 375l3 -52M1173 405l22 -35M1063 377l9 -59M1332 591l10 -15M1038 238l5 -29M994 233l-2 -35M754 429l-33 -27M1194 447l31 -50M1128 355l20 -50M1119 274l22 -55M1255 502l18 -24M1259 367l31 -42M1140 287l23 -38M759 503l-42 -39M1278 444l18 -31M1275 511l17 -26M1141 358l11 -23M751 462l-34 -26M1027 273l4 -31M1295 451l19 -32M1038 257l5 -28" stroke="#0851cc" stroke-width="2" fill="none" stroke-linecap="butt"/>
<path d="M1325 490l21 -32M719 432l-33 -20M711 476l-22 -16M718 453l-35 -20M714 491l-38 -28M1331 553l23 -43M704 603l-16 -13M733 388l-36 -22M720 448l-19 -14M691 563l-25 -20M1315 495l27 -46M1347 601l25 -52M743 399l-30 -21M684 551l-17 -12M700 605l-43 -33M1303 435l17 -26M1329 544l30 -49M751 367l-24 -17M1306 407l13 -24M711 493l-22 -15M713 545l-23 -20" stroke="#000266" stroke-width="4" fill="none" stroke-linecap="butt"/>
<path d="M1029 238l7 -50M801 459l-16 -15M1071 367l12 -44M977 321l-3 -35M840 426l-16 -23M893 244l-27 -49M1169 358l11 -20M1084 297l11 -50M1078 308l7 -24M908 246l-15 -41M1013 309l3 -36M1204 426l27 -48M1188 420l22 -34M764 306l-15 -12M781 367l-34 -25M1187 435l13 -22M1017 275l1 -28M958 323l-6 -57M965 232l-1 -20M1251 486l12 -18M821 400l-34 -39M1288 577l24 -40M1077 329l7 -28M913 282l-19 -56M950 348l-4 -21M975 334l-2 -19M906 238l-9 -27M1014 241l5 -50M919 267l-12 -38M1255 513l12 -16M1170 370l21 -33M952 331l-6 -32M1067 344l10 -38M1285 612l31 -45M1096 364l17 -42M933 317l-10 -35M1246 443l14 -17M1074 329l9 -28M1039 355l5 -27M1109 347l13 -40M982 253l-1 -22M742 337l-16 -12M952 288l-3 -26M1012 237l2 -25M801 468l-27 -27M1260 505l27 -39M1042 262l9 -47M1184 386l24 -43M954 358l-6 -38M912 260l-8 -25M1153 364l17 -28M1031 341l2 -36M1156 380l20 -40M914 247l-15 -34M816 427l-15 -15M1201 477l28 -40M954 289l-11 -55M792 377l-15 -13M1205 457l18 -28M1055 261l3 -22M1100 295l15 -37M1253 523l23 -34M928 301l-10 -42M957 358l-6 -26M952 290l-7 -29M1127 372l25 -45M1039 344l5 -28M1039 283l3 -48M1053 257l3 -34M945 325l-9 -30M1156 412l21 -38M1066 304l3 -19M1187 400l24 -35M1045 226l5 -23M1244 464l10 -16M993 353l-2 -26M769 357l-31 -22M1229 441l20 -34M1052 341l8 -56M820 409l-27 -29M754 543l-19 -19M1143 391l24 -49M1184 419l28 -44M834 412l-34 -36M1000 270l-2 -26M1218 439l12 -19M1115 338l20 -48" stroke="#7cc0ff" stroke-width="3" fill="none" stroke-linecap="butt"/>
<path d="M1306 504l21 -30M1055 291l5 -32M1192 371l10 -18M1317 538l22 -34M1055 277l2 -26M1121 310l24 -49M1163 393l28 -52M1203 469l22 -38M1050 318l3 -24M1081 340l13 -45M996 305l-1 -52M1100 274l11 -31M973 337l-4 -58M1185 429l18 -34M957 335l-3 -38M1271 594l35 -47M1013 257l0 -26M1045 320l2 -27M1207 429l26 -45M969 295l-1 -25M773 505l-16 -18M1285 556l19 -28M1246 520l12 -20M1225 443l28 -40M988 297l-1 -27M776 541l-46 -38M994 276l-2 -32M1248 487l19 -32M1020 322l4 -60M1082 250l12 -46M1108 243l11 -26M1192 306l31 -43M1140 358l10 -21M1119 282l23 -45M1151 386l23 -50M973 289l-4 -44M1130 297l8 -19M827 438l-42 -41M1119 390l23 -53M1168 413l11 -24M972 259l-1 -21M1028 321l1 -27M942 291l-10 -42M1281 610l16 -25M1230 492l15 -23M1258 403l13 -18M1197 391l13 -20M1323 598l15 -22M1121 392l18 -48M1246 528l19 -29M1096 383l17 -51M829 453l-37 -45M974 318l-4 -33M1241 379l22 -36M1041 302l6 -54M1159 390l20 -33M1055 330l5 -43M987 292l-6 -54M1029 339l6 -55M1149 356l12 -20M971 320l-2 -18M1146 311l9 -18M1161 380l15 -24M1185 305l20 -34M822 451l-40 -43M1067 320l7 -27M972 292l-5 -32M956 266l-8 -45M1098 246l16 -39M1200 408l11 -16M1265 501l14 -19M1000 295l2 -25M1070 330l5 -20M1004 334l1 -20M1252 441l28 -41M1159 339l16 -26M1157 361l21 -40M1098 234l9 -22M1126 330l14 -28M1003 356l3 -32M1110 339l12 -29M1254 545l16 -23M1057 338l6 -26M1230 398l24 -34M1198 426l10 -17M1025 300l2 -21M1136 380l10 -18M955 296l-13 -55M1017 262l4 -47M1207 411l15 -24M1136 380l19 -34M1241 440l15 -22M948 265l-7 -29M982 313l-3 -26M1229 451l11 -17M804 412l-37 -33M771 475l-46 -34M732 588l-22 -20" stroke="#0b74ea" stroke-width="2" fill="none" stroke-linecap="butt"/>
<path d="M907 250l-15 -38M1274 560l21 -33M1231 493l24 -35M810 385l-14 -15M1031 281l4 -35M1251 538l12 -17M992 286l-2 -37M1077 258l5 -25M748 331l-18 -11M905 257l-10 -22M1253 532l26 -33M1018 365l1 -60M799 388l-27 -28M1216 424l14 -23M932 291l-11 -38M1276 580l14 -20M1172 395l27 -42M797 376l-44 -37M1114 273l13 -38M1262 520l17 -24M1113 331l23 -54M1066 355l7 -26M1146 377l10 -19M953 344l-8 -36M1233 490l32 -44M946 366l-7 -25M1273 616l30 -39M984 241l-4 -43M1181 397l14 -28M1026 250l1 -49M796 475l-30 -28M926 307l-14 -54M916 251l-13 -35M1221 444l29 -46M1173 400l20 -39M757 346l-20 -12M1243 526l20 -27M922 274l-19 -51M1281 575l11 -16M995 314l-3 -46M1038 313l7 -38M1144 339l11 -20M747 332l-17 -12M1168 394l30 -46M1246 469l12 -20M996 246l2 -43M953 344l-5 -29M927 281l-14 -42M992 369l-1 -45M1011 352l2 -23M974 267l-5 -35M976 355l-3 -29M772 351l-31 -26M912 266l-19 -42M1066 337l10 -45" stroke="#7cc0ff" stroke-width="2" fill="none" stroke-linecap="butt"/>
<path d="M1324 586l21 -32M1285 467l26 -43M1263 451l26 -42M1258 435l19 -30M1296 531l21 -30M1241 387l21 -27M1283 479l15 -25M1317 585l14 -22M1289 462l24 -36M1202 330l35 -48M1204 358l27 -46M765 473l-33 -26M763 519l-38 -37M750 455l-20 -18M781 437l-17 -17M1261 429l18 -26M707 443l-36 -23M1316 535l31 -49M1071 247l5 -28M1309 552l21 -30M679 608l-36 -25M1225 317l19 -31M1316 583l14 -26M1256 396l23 -34M1198 311l15 -23M721 559l-21 -16M699 549l-40 -24" stroke="#0425a0" stroke-width="4" fill="none" stroke-linecap="butt"/>
<path d="M1158 314l19 -34M1260 424l16 -22M982 239l-3 -21M1104 368l17 -38M936 248l-6 -32M932 267l-10 -43M1308 505l10 -15M1190 420l10 -19M985 331l-2 -33M1219 332l15 -22M1240 531l29 -45M1243 436l25 -36M794 411l-21 -18M1209 434l10 -17M1011 233l2 -21M1189 332l16 -24M1030 294l3 -32M1225 350l18 -30M1019 316l5 -46M1262 579l21 -31M1094 376l18 -56M1220 448l19 -24M1272 592l12 -19M1159 378l17 -34M1028 320l2 -23M1042 225l6 -30M1099 371l10 -31M975 309l-1 -18M1120 348l18 -38M970 254l-7 -42M1017 302l2 -21M1268 473l15 -20M1076 278l12 -48M993 360l2 -52M1147 370l10 -17M1165 365l9 -17M1064 348l4 -29M1005 331l2 -27M1265 580l24 -41M982 334l-2 -21M1102 299l8 -18M1205 339l22 -37M1323 606l19 -31M1099 333l9 -32M1228 433l12 -18M802 399l-40 -37M1031 329l3 -56M1045 285l6 -47M1162 273l18 -35M746 541l-26 -23M994 346l-3 -51M961 263l-4 -49M1299 534l12 -17M1165 257l10 -20M1076 286l8 -38M976 286l-2 -32M735 600l-39 -37M1103 286l8 -25M1179 396l13 -22M797 449l-26 -28M1033 314l3 -22M1088 309l16 -49M1209 352l26 -36M1147 360l12 -22M1023 232l1 -35M1172 293l21 -38M981 262l-2 -24M1084 329l6 -28M1271 616l27 -42M1158 262l25 -46M1044 356l8 -39M1096 256l8 -30M1275 583l28 -42M1036 289l6 -32M797 448l-32 -30M1030 304l0 -29M1157 279l14 -25M1004 293l2 -35M1045 236l7 -39M1001 344l-1 -43M884 406l-12 -21M1246 419l25 -41M986 332l-7 -53M1297 572l26 -41M1038 342l2 -29M1170 339l28 -49" stroke="#0d85f8" stroke-width="3" fill="none" stroke-linecap="butt"/>
<path d="M996 230l-2 -44M1172 357l13 -21M1093 291l10 -26M1049 371l9 -49M816 447l-39 -44M972 347l-2 -45M760 345l-15 -11M1237 503l35 -44M810 397l-46 -38M953 341l-5 -31M1200 404l12 -17M914 238l-17 -43M1027 237l2 -37M1129 355l18 -39M814 455l-37 -36M1100 289l12 -36M941 255l-5 -25M1273 602l26 -35M1254 541l12 -15M748 343l-23 -14M763 344l-20 -13M1156 386l18 -37M920 266l-6 -17M1080 341l11 -44M1184 450l21 -41M1266 484l12 -21M942 259l-7 -29M1275 526l17 -27M1097 290l22 -52M774 365l-34 -25M835 439l-19 -23M796 391l-43 -41M1301 594l20 -29M1035 350l6 -45M1199 419l29 -39M1197 370l21 -29M941 310l-12 -48M1207 432l32 -43M1250 474l16 -25M827 423l-25 -26M964 253l-3 -40M1130 371l15 -30M757 575l-42 -36M977 252l-3 -29M1128 372l14 -25M814 431l-15 -19M933 307l-10 -29M1110 333l16 -50M1209 396l28 -47M1051 277l8 -53M914 256l-14 -46M925 277l-12 -49M936 304l-11 -40M1022 288l1 -39M809 397l-19 -21M1284 581l18 -30M1201 422l17 -24M794 495l-38 -39M1238 465l30 -42M1134 376l10 -22M1054 352l7 -40M915 255l-10 -32M955 322l-6 -49M1124 317l24 -48M1131 333l12 -27M985 373l-1 -49M968 300l-2 -22M1153 293l12 -19M993 339l1 -41M942 321l-8 -52M996 248l-0 -49M1202 479l25 -45M1175 379l11 -17M1230 472l25 -36M888 236l-16 -33M1135 306l9 -22M977 332l-4 -32M1137 310l10 -21M1177 446l20 -38M765 347l-50 -32M1264 518l23 -36M954 353l-3 -24M995 323l-1 -33M1002 354l-1 -48M783 371l-46 -32M1047 315l4 -45M1228 466l27 -41M1121 331l20 -42M1239 474l19 -27M939 299l-11 -46M932 271l-10 -43M1004 350l2 -39M1132 336l22 -41M999 349l0 -30M829 426l-26 -29" stroke="#4eabff" stroke-width="3" fill="none" stroke-linecap="butt"/>
<path d="M714 597l-39 -31M689 559l-17 -13M728 464l-33 -27M1331 531l18 -35M1336 604l23 -47M747 402l-39 -31M1338 497l16 -32M1342 549l9 -16M726 500l-43 -30M751 458l-43 -34M1289 410l21 -37M1336 577l12 -24M687 597l-29 -23M1247 346l21 -33M1312 510l21 -36M1348 531l11 -20M1341 529l13 -23M1257 382l28 -41M775 402l-21 -19M1281 356l16 -26M708 594l-29 -24M1266 338l11 -15M733 419l-15 -11M724 552l-42 -35M769 455l-46 -38M1263 353l22 -33M757 453l-35 -27" stroke="#000675" stroke-width="4" fill="none" stroke-linecap="butt"/>
<path d="M793 392l-27 -22M1173 310l10 -17M835 453l-34 -43M1266 481l26 -37M1255 450l31 -41M756 462l-38 -27M699 574l-23 -17M1267 462l29 -43M792 495l-25 -25M1164 331l26 -48M1143 290l24 -54M998 368l-2 -36M1301 579l14 -26M742 578l-38 -33M1168 343l28 -47M696 584l-21 -15M804 438l-26 -27M789 483l-37 -36M1226 293l18 -23M1251 470l23 -31M1137 279l23 -43M1292 557l18 -27M769 507l-45 -39M1268 466l27 -37M771 476l-19 -17M717 570l-44 -30M1298 490l13 -22M1261 455l20 -35M774 444l-43 -31M1255 479l33 -46M932 252l-12 -34M1310 582l11 -16M1251 440l29 -40M1269 370l20 -32M1036 368l2 -36M765 475l-14 -15M766 495l-21 -20M1262 477l13 -20M1149 307l18 -29M711 581l-27 -24" stroke="#0741bd" stroke-width="2" fill="none" stroke-linecap="butt"/>
<path d="M1017 230l-0 -52M922 289l-17 -40M997 296l-1 -23M993 342l-2 -21M950 369l-8 -39M1043 358l8 -59M973 295l-5 -37M929 301l-17 -52M1005 263l2 -35M1278 577l15 -26M835 420l-26 -29M1029 346l1 -38M1138 401l31 -51M1115 367l19 -45M1031 252l4 -44M1044 281l5 -48M928 305l-6 -27M847 427l-11 -16" stroke="#acd7ff" stroke-width="4" fill="none" stroke-linecap="butt"/>
<path d="M1218 385l28 -47M930 270l-15 -45M1059 306l8 -38M1179 283l25 -38M1012 254l2 -50M1104 270l9 -24M1089 301l17 -48M1061 281l9 -54M1160 393l13 -20M1094 266l8 -22M1271 589l19 -27M1184 450l28 -46M1172 306l13 -22M1200 417l30 -42M1058 269l6 -43M1162 377l17 -26M997 284l3 -54M986 227l-0 -35M1005 306l0 -25M1070 272l5 -34M1119 345l19 -44M1083 324l5 -24M1072 354l8 -49M1066 260l14 -48M1171 405l19 -32M1280 481l23 -32M1016 321l1 -33M1020 304l3 -47M1188 422l27 -42M1236 338l11 -16M1302 570l26 -40M1185 420l10 -15M1109 334l18 -51M1035 241l2 -29M1200 351l25 -36M1088 345l9 -28M1157 405l21 -40M1099 284l11 -42M772 448l-17 -13M1149 318l22 -43M1150 344l9 -19M1047 305l4 -48M1185 325l23 -42M1297 596l34 -48M1282 494l26 -44M1034 276l8 -46" stroke="#0d85f8" stroke-width="4" fill="none" stroke-linecap="butt"/>
<path d="M1118 354l16 -39M1114 246l21 -52M1189 410l23 -33M953 283l-5 -38M1298 588l30 -42M1269 542l22 -32M935 256l-7 -24M1202 441l26 -42M936 293l-12 -53M1053 252l8 -42M798 392l-43 -42M1180 440l19 -37M1038 363l8 -43M1004 368l-2 -37M1048 345l4 -21M814 411l-30 -31M1262 553l25 -36M955 353l-4 -22M1276 475l16 -26M1273 526l21 -28M1296 529l14 -25M1056 280l10 -49M1149 348l22 -39M1232 459l26 -43M1057 361l12 -53M1252 562l27 -41M1279 577l21 -34M1133 367l19 -34M1057 320l3 -19M834 436l-15 -17M1128 277l18 -35M1038 287l2 -19M1146 411l22 -43M1099 249l7 -19M1182 378l32 -47M956 365l-4 -33M801 488l-29 -32M1166 333l26 -48" stroke="#289aff" stroke-width="4" fill="none" stroke-linecap="butt"/>
<path d="M1252 431l20 -30M1307 566l16 -22M787 465l-35 -29M720 440l-28 -18M1137 279l24 -43M933 263l-8 -24M1347 564l13 -22M745 493l-16 -14M1324 510l20 -34M734 597l-18 -15M1249 416l14 -19M1324 602l15 -25M804 422l-22 -20M734 605l-24 -22M1285 475l22 -30M1145 313l22 -41M717 519l-39 -32M1207 335l30 -50M1253 344l28 -37M734 588l-40 -37M1159 309l20 -42M722 427l-30 -21M742 420l-44 -32M1013 361l-0 -22M1185 309l9 -18M1303 595l31 -48M793 447l-38 -38M1263 326l11 -16M763 521l-43 -41M1306 564l19 -36M1324 504l27 -44M1292 495l25 -37M734 400l-38 -27M770 502l-35 -34M1335 545l29 -51" stroke="#0533af" stroke-width="4" fill="none" stroke-linecap="butt"/>
<path d="M688 521l-38 -24M1222 283l15 -23M684 574l-46 -28" stroke="#000038" stroke-width="4" fill="none" stroke-linecap="butt"/>
<path d="M1093 249l6 -20M1235 528l29 -40M1189 423l17 -30M1071 303l8 -29M1163 341l10 -20M1192 388l31 -45M769 518l-45 -39M1182 407l23 -38M1115 244l14 -39M1274 539l21 -28M1236 495l27 -38M1246 532l31 -46M1268 476l13 -17M1232 300l12 -19M764 489l-16 -15M1049 313l4 -19M955 274l-2 -25M1272 507l19 -32M1068 258l6 -22M1028 276l4 -52M1159 421l27 -53M1283 622l28 -49M1299 579l11 -17M1175 369l15 -27M975 232l-5 -52M1133 281l10 -22M1024 244l5 -48M765 504l-23 -21M761 364l-16 -11M1296 455l21 -35M741 457l-21 -18M1241 462l27 -41M1224 389l11 -17M1238 483l15 -23M1227 491l11 -15M1251 474l32 -44M814 443l-36 -40M738 555l-15 -15M972 250l-2 -22M1267 474l12 -20M1180 416l21 -42M1160 399l25 -47M1270 548l25 -34M1247 551l30 -44M785 508l-35 -33M990 261l-1 -30M1103 264l9 -29M1138 373l23 -48M1141 306l11 -23M743 586l-29 -24M1181 310l16 -29M1075 281l14 -45M1053 359l7 -32M763 480l-44 -38M714 577l-23 -17M1179 435l15 -26M754 456l-32 -26M1214 403l17 -30M1269 486l23 -37M998 280l1 -45M1138 308l11 -20M1175 362l13 -25M1199 376l20 -33M947 261l-7 -51M1191 374l22 -38M740 418l-20 -16M1241 473l25 -42M1222 285l10 -17M990 350l-1 -53M759 467l-27 -24M1111 382l15 -42M807 468l-28 -28M1127 334l20 -49M827 451l-33 -38M1226 443l31 -50M1233 519l16 -25M1304 561l12 -17M1029 259l3 -53M1017 308l2 -40M1158 333l23 -37M1127 286l22 -42M761 482l-42 -34M1027 366l3 -35M1130 331l15 -33M1175 442l23 -37M1213 462l20 -33M946 262l-4 -25M984 231l-4 -33M999 301l-2 -48M1270 562l24 -38M1246 457l28 -40M1265 580l19 -27M1139 340l13 -22M1157 280l16 -26M1245 485l25 -36M1117 317l7 -19M996 330l1 -43M1121 334l20 -55M1015 346l5 -42M752 412l-21 -16M1197 393l23 -39M948 281l-5 -39M1262 617l29 -47M1245 464l16 -25M1103 272l15 -51M1006 307l1 -29M1274 553l34 -46M1021 233l5 -47M1062 353l6 -25M1111 247l19 -52M1061 284l5 -39M1157 305l29 -51M791 482l-18 -17M1186 319l18 -27M746 613l-35 -32M1244 487l26 -42M1176 328l24 -47M1238 502l32 -50M1186 335l12 -20M1108 276l22 -53M1233 504l23 -33M1022 280l2 -20M1158 297l12 -23M815 445l-18 -20M1271 557l29 -43M947 260l-10 -37M1183 443l13 -25M1234 331l25 -40M1221 491l18 -25M1036 292l5 -33M1325 539l22 -42M988 359l-1 -50M1236 527l22 -27M1098 376l13 -37M1277 408l19 -26M959 326l-9 -39M1298 463l15 -25M763 373l-21 -16M1180 331l15 -25M1115 256l10 -28M1175 337l29 -45M1334 567l25 -38M1329 571l29 -47M1164 386l17 -35M1004 228l-1 -52M1223 490l11 -15M1151 342l18 -37M1287 559l28 -46M1027 326l1 -20M1080 328l16 -52M1037 357l4 -25M1091 271l21 -53M1149 304l12 -24M1208 440l32 -43M1231 410l23 -33M752 572l-24 -24M975 259l-1 -44M1088 373l9 -26M724 509l-37 -27M1085 305l6 -23" stroke="#0851cc" stroke-width="3" fill="none" stroke-linecap="butt"/>
<path d="M1071 341l10 -52M1309 522l23 -44M1187 416l20 -34M973 269l-3 -33M1016 331l0 -28M982 287l0 -31M1086 262l12 -34M1267 444l29 -46M1140 359l29 -52M1262 496l11 -15M1112 349l9 -25M1082 313l17 -51M1007 258l-2 -48M1038 295l4 -55M965 341l-3 -51M991 333l-4 -45M1125 369l19 -40M779 464l-37 -32M1333 592l11 -19M959 302l-4 -22M992 283l-3 -27M1271 431l19 -30M1162 414l20 -33M1124 284l12 -28M1319 547l15 -22M1076 354l8 -40M1202 405l33 -47M991 306l1 -36M1001 310l1 -44M1060 262l7 -42M1293 609l25 -34M1037 268l3 -20M1191 323l16 -23M798 441l-40 -43M1041 273l7 -38M1308 530l29 -49M720 592l-25 -23M1016 317l-0 -27M1032 272l1 -30M967 345l-9 -48M1066 365l9 -43M1142 353l16 -29M776 375l-37 -32M1072 295l8 -44M1016 257l3 -28M1214 321l28 -47M1083 325l12 -55M1109 299l18 -54M1068 253l8 -27M1239 547l36 -47M1096 295l16 -39M1257 589l33 -49M954 286l-7 -57M1032 278l7 -46M1119 328l19 -38M1097 243l10 -30M1146 330l18 -38M1042 270l6 -53M1278 487l29 -48M762 475l-38 -28M1049 229l7 -36M784 510l-28 -29M1194 302l29 -47M1288 450l19 -33M1089 369l17 -46M973 242l-2 -36M1157 400l9 -16M1200 405l24 -34M1185 324l28 -51M1194 415l10 -15M1030 316l4 -52M1232 462l34 -48M1022 342l3 -54M1063 295l6 -30M1187 275l12 -18M1188 289l29 -44M972 311l-3 -21M1239 420l33 -47M1001 286l-2 -59M1279 577l20 -32M957 312l-11 -57M1109 281l6 -20M1061 363l7 -38M1227 421l18 -23M1037 317l2 -51M1052 364l11 -57M1095 247l17 -45M766 453l-31 -29M734 598l-46 -36M1222 477l23 -34M787 491l-36 -36M1250 539l32 -42M970 365l-4 -50M1058 334l6 -36M1269 578l11 -17M1112 240l8 -19M979 344l-5 -42M817 469l-33 -36M1235 474l32 -50M765 364l-21 -15M979 339l-4 -47M802 409l-36 -31M1283 593l20 -27M1159 429l26 -46M1109 252l10 -22M955 273l-4 -27M1142 384l27 -45M1061 286l7 -35M951 313l-10 -57M1130 378l19 -37M1027 363l5 -51M1259 491l10 -16M1029 251l2 -33M1003 359l1 -38M996 230l1 -23M1113 328l8 -25M963 233l-5 -34M1285 548l18 -26M805 465l-20 -23M1320 601l17 -29M1298 550l31 -48M975 258l-2 -47M1222 439l34 -47M1113 296l10 -26M1104 277l8 -20M1227 453l33 -43M967 277l-7 -34M1072 322l17 -52M1172 413l9 -18M772 450l-37 -32M976 284l-3 -35M1245 499l17 -27M1091 349l8 -32M1063 347l7 -30M1035 301l4 -23M1005 272l2 -29M1059 324l8 -36M1206 345l29 -40M774 473l-32 -33M1254 410l33 -47M1079 297l8 -42M1258 575l30 -45M1266 526l18 -25M1283 578l13 -20M1019 356l1 -30M1312 588l11 -19M972 337l-3 -24M1282 575l23 -38M1268 503l10 -16M1112 280l11 -24M1163 380l33 -50M800 477l-32 -28M1168 372l13 -23M984 256l-3 -33M1180 366l14 -22M1057 338l8 -41M1038 239l3 -26M1011 259l2 -46M980 285l-1 -23M752 468l-28 -24" stroke="#0b74ea" stroke-width="3" fill="none" stroke-linecap="butt"/>
<path d="M737 394l-45 -26M744 368l-19 -14M747 385l-34 -22M1354 577l10 -19M705 513l-36 -24M696 566l-15 -11M716 515l-30 -24M689 574l-25 -21M698 551l-26 -17M1329 504l26 -41M726 408l-23 -13M689 501l-22 -13M1262 344l27 -41M716 481l-31 -20M1286 392l23 -40M698 487l-43 -28M1313 459l27 -48M719 435l-19 -14M715 463l-45 -33M736 417l-27 -19M1243 331l30 -50M726 397l-20 -12M720 517l-47 -33M713 479l-42 -26M1055 236l14 -58M694 573l-20 -16M690 483l-15 -10M989 370l-1 -36M1264 362l28 -47M743 429l-40 -33M730 404l-45 -28M673 537l-18 -11M729 458l-31 -24M689 596l-35 -25M743 416l-29 -23M686 553l-45 -28M713 548l-40 -33M1257 349l28 -35M713 518l-48 -32M1331 554l31 -51M1330 528l23 -37M716 486l-39 -27" stroke="#000056" stroke-width="3" fill="none" stroke-linecap="butt"/>
<path d="M705 424l-19 -11M693 491l-16 -12M695 534l-15 -12M719 462l-21 -13M701 602l-36 -30M1347 604l24 -46M724 388l-19 -10M720 468l-18 -12M1346 579l25 -38M1288 397l25 -43M731 463l-45 -28M702 505l-24 -19M1307 448l30 -43M723 435l-18 -14M1345 560l22 -36M722 374l-19 -13M694 521l-22 -14M692 530l-45 -29M706 548l-37 -25M1303 398l16 -22M699 507l-23 -17M1253 319l15 -20M724 436l-37 -23M1294 403l13 -19M723 413l-23 -16" stroke="#000056" stroke-width="2" fill="none" stroke-linecap="butt"/>
<path d="M1275 601l21 -34M945 247l-6 -28M945 286l-7 -49M1137 289l23 -40M1035 326l5 -43M1039 293l3 -33M977 226l-2 -21M921 254l-17 -50M817 427l-34 -37M1000 229l-3 -42M1040 275l5 -42M961 282l-10 -57M1259 491l25 -41M1190 333l17 -31M944 285l-17 -55M990 341l-0 -19M1301 570l25 -35M945 299l-13 -48M798 394l-13 -13M759 531l-37 -35M745 556l-27 -24M1137 299l18 -37M1228 504l34 -46M1150 345l22 -41M1112 257l11 -26M1052 344l8 -41M1282 598l29 -42M1258 476l32 -41M1071 278l8 -28M1173 379l16 -24M964 357l-3 -44M1143 334l11 -19M1233 435l36 -47M1279 523l27 -42M1140 303l18 -39M1306 555l11 -18M1281 524l29 -51M1180 372l12 -18" stroke="#289aff" stroke-width="2" fill="none" stroke-linecap="butt"/>
<path d="M1112 311l17 -34M1082 279l11 -48M1004 328l2 -35M1184 331l9 -16M1164 350l28 -53M972 239l-3 -30M1126 307l10 -21M1252 445l12 -18M1068 278l6 -23M816 427l-25 -26M965 270l-5 -49M1259 505l14 -20M1133 367l19 -44M970 330l-3 -23M803 444l-22 -23M961 239l-3 -41M1117 335l18 -40M1250 449l10 -17M1111 317l11 -26M1276 402l14 -19M1010 285l0 -31M1297 532l12 -18M742 603l-38 -30M1039 259l6 -34M1298 491l28 -39M966 278l-5 -50M1064 317l5 -31M1020 359l4 -29M1238 471l28 -36M987 297l-5 -37M1162 381l11 -21M1084 253l13 -41M1103 258l15 -44M1278 532l25 -33M799 461l-35 -39M1273 538l30 -47M975 259l-2 -18M794 418l-31 -26M1043 346l6 -32M1254 543l25 -41M1291 609l30 -41M1069 289l10 -44M961 250l-5 -49M1282 545l21 -28M987 288l-3 -58M936 274l-8 -33M1197 384l22 -32M1189 396l18 -30M1136 357l16 -28M1242 467l34 -44M1242 381l20 -28M991 317l1 -59M1066 333l9 -34M760 512l-20 -16M1000 349l1 -23M1255 344l10 -16M1219 441l24 -34M1189 384l26 -43M1143 315l22 -41M1051 309l6 -54M1133 323l21 -47M1093 317l15 -49M1292 455l11 -19M1196 287l11 -16M1155 405l25 -40M1234 400l33 -50M1048 257l6 -53M756 544l-24 -20M1037 366l7 -42M1275 594l23 -37M777 411l-30 -26M985 348l-2 -59M1163 420l21 -41M1186 294l29 -43M1226 445l11 -17M1018 301l-0 -42M1228 490l20 -28M771 397l-22 -20M984 252l-6 -46M1082 357l7 -29M1125 260l19 -37M1312 536l12 -21M1010 287l-0 -33M1314 530l11 -20M1190 404l22 -33M1142 329l18 -35M1204 473l13 -20M756 516l-13 -14M1320 566l26 -43M954 322l-6 -33M1281 543l15 -20M1243 488l24 -34M999 250l-0 -51M1086 374l16 -48M1296 472l32 -46M1249 513l13 -20M1274 432l25 -42M962 314l-3 -31M1056 304l3 -30M785 437l-41 -40M1027 257l1 -36M1264 423l12 -16M1240 506l11 -15M1225 341l21 -30M1046 349l5 -39M773 546l-37 -34M1178 431l11 -19M737 540l-49 -35M1015 264l1 -51M1055 245l3 -28M1156 418l31 -47M1205 294l15 -21M1012 307l-0 -27M996 230l-1 -24M1288 545l23 -38M1255 528l27 -37M787 421l-43 -37M1289 477l13 -18M1059 318l6 -29M1202 449l27 -38M1088 358l6 -19M769 505l-28 -27M1234 467l34 -47M1292 582l14 -19M758 478l-35 -30M1236 397l31 -51M1174 368l15 -28M1045 355l7 -57M1148 323l19 -33M976 232l-2 -29M1227 409l15 -21M989 281l-1 -28M1093 252l7 -31M1286 618l30 -49M1027 243l1 -31M1176 355l15 -28M977 348l-7 -47M1066 341l8 -49M1284 589l28 -48M1109 313l7 -19M1250 403l29 -47M1116 322l10 -30M1072 324l10 -35M1131 301l23 -48M1235 494l23 -31M964 258l-4 -26M1268 548l9 -16M1134 326l25 -47M742 459l-21 -17M1021 297l7 -56M1249 499l31 -43M1249 492l19 -31M1239 485l18 -30M1250 438l15 -18M957 316l-6 -29M1087 362l20 -53M1156 384l22 -38M1032 253l3 -24M1091 378l16 -43M1034 296l6 -57M1014 254l1 -31M1131 291l8 -19M1258 505l28 -48M1122 377l18 -46M1123 383l11 -27M1059 346l9 -59M1007 275l-1 -33M1217 448l24 -34M1090 363l9 -39M968 334l-6 -40" stroke="#0963db" stroke-width="3" fill="none" stroke-linecap="butt"/>
<path d="M801 486l-26 -25M1137 310l10 -23M1262 452l11 -15M1307 541l9 -17M1161 329l17 -35M1172 286l10 -15M1341 545l8 -16M723 497l-40 -27M703 556l-43 -34M1124 283l16 -42M1163 356l21 -41M1171 312l21 -34M1284 418l30 -52M1206 372l17 -30M1064 376l7 -43M1131 312l29 -51M1163 422l12 -21M947 278l-9 -48M1208 343l22 -34M1230 398l17 -21M891 230l-13 -26M757 356l-42 -25M722 477l-25 -17M1304 456l14 -25M1309 476l28 -45M799 453l-29 -25M1298 537l20 -36M716 581l-17 -16M796 498l-42 -37M743 592l-29 -27M754 535l-17 -15M1251 424l17 -26M1199 347l18 -34M1188 345l25 -45M1255 425l21 -27M753 604l-40 -36M1257 378l27 -34M1153 321l26 -47M723 460l-33 -26M1156 286l8 -17M796 420l-15 -16M757 440l-26 -19M1167 322l16 -26M1294 556l20 -37M751 512l-25 -22M1303 566l30 -51M933 259l-12 -47M719 480l-19 -12M1255 325l20 -30M1158 290l15 -23M1294 570l30 -41M1189 275l29 -41M1151 280l22 -38M1163 253l19 -30M1215 353l13 -22M1183 326l22 -33" stroke="#0741bd" stroke-width="4" fill="none" stroke-linecap="butt"/>
<path d="M796 373l-34 -26M1117 244l19 -37M994 269l-3 -52M1113 384l21 -49M990 272l-4 -59M1299 571l18 -29M1160 417l15 -28M996 265l-2 -45M1278 601l13 -21M1214 422l23 -31M1053 227l6 -32M960 365l-7 -42M938 294l-5 -19M1147 295l8 -17M1126 352l16 -40M1075 266l10 -47M1080 364l10 -35M1086 336l4 -19M861 443l-32 -48M1197 398l20 -29M805 476l-33 -37M771 522l-37 -32M1259 464l18 -25M1267 532l23 -33M1188 382l11 -19M984 289l-4 -27M941 304l-8 -34M1130 362l27 -48M1201 386l13 -18M1077 293l6 -30M1154 401l15 -30M758 349l-25 -17M1040 271l8 -50M1061 274l6 -37M934 283l-6 -18M922 271l-12 -31M827 262l-21 -29M1239 521l31 -41M1150 361l19 -34M1040 290l2 -32M1262 506l23 -32M1189 398l11 -18M819 407l-22 -24" stroke="#4eabff" stroke-width="2" fill="none" stroke-linecap="butt"/>
<path d="M747 364l-43 -28M711 444l-27 -17M1112 401l19 -51M680 552l-34 -25M1262 335l18 -29M1270 352l19 -25M698 569l-46 -37M1297 414l27 -47M747 371l-35 -23M729 387l-34 -24M685 560l-45 -27M705 513l-45 -34M695 538l-37 -27M732 403l-25 -18M695 516l-18 -14M716 450l-40 -25M697 472l-25 -16M683 561l-29 -20M691 610l-43 -31M732 409l-45 -25M1276 361l22 -37M692 559l-37 -23" stroke="#000047" stroke-width="3" fill="none" stroke-linecap="butt"/>
<path d="M710 528l-43 -28M1282 377l28 -40M1178 268l10 -18M686 535l-28 -22M732 371l-16 -12M746 357l-40 -29M729 397l-21 -15M722 467l-40 -30M749 364l-39 -23M721 426l-16 -11" stroke="#000047" stroke-width="2" fill="none" stroke-linecap="butt"/>
<path d="M1007 343l3 -52M1196 429l28 -45M1024 261l2 -19M948 343l-3 -21M1004 318l0 -37M1274 614l26 -45M984 352l0 -27M815 394l-29 -35M1096 240l14 -35M1039 352l7 -42M807 390l-36 -35M993 305l0 -23M1093 335l11 -40M758 331l-34 -24M1110 361l18 -39M927 303l-19 -52M1080 254l5 -22M933 307l-16 -44M930 320l-12 -52M925 380l-5 -20M910 267l-18 -38M1196 452l33 -49M997 325l1 -28M939 334l-6 -29M946 372l-15 -51M966 225l-3 -23M925 277l-8 -25M1024 284l3 -37M971 246l-4 -43M1035 314l5 -46M929 295l-10 -30M1139 392l28 -47M1013 271l1 -26M969 278l-5 -37M792 369l-21 -18M965 307l-3 -44M1100 370l16 -57M1033 275l8 -57M984 328l-2 -39M1095 294l8 -21M987 272l-1 -44M1048 341l6 -32M1060 297l13 -50M989 281l-1 -44M860 441l-37 -45M1070 367l13 -48M1026 282l1 -35M1101 351l14 -39M796 389l-40 -30M1082 285l11 -50M1005 293l2 -48M1074 292l8 -44M840 428l-14 -19" stroke="#acd7ff" stroke-width="3" fill="none" stroke-linecap="butt"/>
<path d="M1341 570l15 -23M695 580l-30 -22M704 599l-21 -15M725 533l-30 -23M716 394l-16 -10M1310 445l17 -29M731 487l-41 -32M733 430l-38 -27M717 444l-40 -23M707 438l-23 -13M1321 465l19 -35M1306 459l35 -49M750 380l-16 -13M1342 500l10 -18M1276 389l16 -25M741 605l-16 -14M1269 384l27 -37M734 484l-23 -17" stroke="#000266" stroke-width="2" fill="none" stroke-linecap="butt"/>
<path d="M1007 293l1 -45M999 285l-0 -23M769 440l-33 -29M986 304l-7 -59M1011 237l3 -57M970 319l-3 -22M782 499l-20 -18M1185 400l12 -18M1048 258l6 -47M1042 320l5 -37M1234 482l14 -19M1184 382l19 -35M981 309l-4 -59M1113 324l18 -53M1285 493l21 -37M1249 550l28 -35M1295 605l15 -22M997 309l2 -44M1089 354l9 -25M1295 594l11 -19M987 355l-2 -27M1115 364l11 -25M1050 367l7 -48M1060 336l7 -34M978 254l-2 -35M1286 619l27 -43M967 355l-2 -26M982 316l-6 -45M1021 310l1 -20M1280 601l12 -18M924 247l-13 -44M948 283l-5 -24M1044 366l9 -44M1275 583l16 -23M1171 291l11 -16M1284 584l23 -41M995 277l3 -58M1017 222l5 -45M1119 264l13 -28M1260 559l20 -27M766 489l-34 -29M978 366l-3 -56M1084 309l18 -55M1151 329l19 -34M1210 416l18 -27M1207 339l11 -17M1030 277l3 -54M1197 475l29 -46M1224 486l31 -40M1200 423l28 -38M972 276l-1 -19M1025 345l5 -43M1162 383l15 -27M722 569l-14 -13M1064 331l7 -39M1015 277l2 -37M976 287l-3 -45M785 522l-33 -31M1061 331l11 -52M997 322l1 -19M1213 428l15 -27M1079 249l5 -24M787 484l-25 -22M961 246l-7 -58M1049 220l4 -21M1077 293l12 -37M944 261l-6 -23M1109 284l7 -22M968 343l-4 -25M813 451l-29 -29" stroke="#0b74ea" stroke-width="4" fill="none" stroke-linecap="butt"/>
<path d="M723 376l-17 -11M685 609l-44 -32M672 541l-20 -12M686 596l-48 -32M695 488l-34 -21M679 554l-30 -20M1259 332l23 -37M681 550l-28 -21M703 440l-27 -15" stroke="#000038" stroke-width="3" fill="none" stroke-linecap="butt"/>
<path d="M1313 528l22 -38M677 524l-23 -15M1229 351l31 -42M759 510l-39 -38M1293 465l15 -21M770 438l-26 -22M804 414l-40 -35M1345 591l27 -52M1211 306l24 -34M683 593l-49 -32M1211 306l14 -22M1322 560l10 -15M768 445l-26 -25M1263 410l12 -19M803 428l-39 -37M1282 449l24 -39M693 474l-22 -15M728 594l-45 -33M1231 357l29 -45M1309 526l26 -44M777 451l-28 -22M1187 301l27 -46M784 459l-40 -32M1225 325l20 -26M713 591l-21 -20M1346 619l28 -52M746 425l-18 -16M1292 470l33 -48M1240 338l17 -28M1325 550l23 -35M1201 275l21 -29M1224 340l11 -15M1275 420l30 -49M1322 546l9 -17M1271 382l16 -21M683 539l-29 -17M696 568l-42 -30" stroke="#021792" stroke-width="2" fill="none" stroke-linecap="butt"/>
<path d="M1291 521l29 -52M1255 414l30 -43M1324 516l11 -19M751 358l-45 -32M1327 600l22 -36M726 507l-16 -14M1273 405l24 -38M1324 485l28 -47M1345 606l30 -44M750 483l-32 -29M800 428l-40 -36M780 406l-31 -28M772 379l-17 -15M731 576l-41 -36M715 551l-14 -12M1340 522l18 -36M1241 351l14 -19M729 542l-29 -26M1166 257l23 -36M1312 592l28 -41M1194 272l19 -31M765 549l-26 -25M773 439l-18 -17M1204 290l15 -21M1160 277l22 -40M1273 452l9 -16M1208 333l27 -40M755 460l-46 -35M1275 420l31 -51M1062 251l6 -30M1015 227l4 -57M1246 350l14 -18M1290 459l28 -46M764 327l-42 -28M751 455l-16 -14M714 437l-20 -15M1196 316l31 -50M1265 380l23 -33M1222 307l15 -27M723 551l-24 -19M761 478l-40 -30M697 509l-34 -23M790 444l-34 -31M1217 370l34 -49M721 559l-25 -19M787 402l-45 -35M718 584l-20 -16M1188 296l22 -37M1318 538l16 -23M731 583l-42 -32M1236 351l23 -33M691 594l-40 -28" stroke="#021792" stroke-width="3" fill="none" stroke-linecap="butt"/>
<path d="M747 390l-32 -21M685 558l-48 -27M685 527l-25 -16M1333 526l23 -42M1268 371l24 -31M731 424l-26 -17M753 384l-36 -28M685 584l-31 -20M695 544l-27 -20M1284 382l25 -39M1332 535l31 -50M730 390l-39 -23M735 469l-50 -33M685 535l-21 -13M1333 524l24 -46M706 514l-28 -19M737 394l-21 -16M1302 416l11 -21M702 594l-45 -37M724 393l-32 -21M1350 606l13 -23M742 403l-32 -20M694 603l-48 -32M1344 543l12 -23" stroke="#000056" stroke-width="4" fill="none" stroke-linecap="butt"/>
<path d="M704 564l-16 -14M1321 584l28 -48M729 550l-28 -26M670 601l-32 -19M721 616l-34 -32M1241 337l24 -32M758 498l-44 -36M1293 455l19 -32M739 508l-32 -27M707 549l-15 -11M722 583l-24 -19M716 537l-26 -18M783 514l-24 -22M669 590l-28 -19M757 409l-37 -28M766 441l-43 -38M672 574l-20 -13M703 583l-27 -19M775 412l-16 -14M1310 502l26 -50M1324 565l22 -37M1171 278l22 -33M1253 346l14 -19M1187 275l14 -25M1305 504l19 -34M737 510l-43 -34M987 381l-3 -59M1201 282l13 -22M710 540l-22 -17M1321 532l20 -36M1281 426l11 -17M740 511l-32 -24M773 383l-30 -26M1335 592l14 -23M719 578l-17 -13M1344 599l19 -38M735 560l-43 -38M1226 329l11 -19M1289 419l25 -40M1291 395l13 -23M1285 432l19 -29M1243 346l31 -51M719 595l-21 -19M720 583l-23 -18M1268 375l17 -23M1311 543l29 -47M1318 542l24 -39M761 457l-15 -14M727 516l-24 -17M722 420l-40 -26M769 447l-38 -28M1187 272l15 -26M791 399l-23 -21M1317 480l13 -23M1281 421l12 -22M1245 389l29 -48M763 469l-22 -19M765 455l-45 -35M1226 299l18 -26M694 466l-22 -13M1334 579l13 -24M692 462l-23 -15M1316 479l13 -18" stroke="#000a84" stroke-width="3" fill="none" stroke-linecap="butt"/>
<path d="M708 557l-23 -17M1341 586l13 -23M706 483l-27 -18M1329 520l19 -38M1198 268l15 -26M1308 493l26 -46M725 475l-37 -23M756 407l-46 -33M748 426l-37 -30M1309 442l14 -20M1257 372l22 -33M763 415l-23 -20M716 556l-26 -18M1343 510l15 -23M694 590l-27 -22M739 505l-23 -20M1147 255l23 -40M774 408l-49 -33M768 534l-17 -17M748 463l-44 -37M1011 364l1 -26M724 521l-23 -17M1337 554l15 -24M712 574l-44 -38M1301 442l21 -33M757 389l-22 -18M739 466l-23 -16M760 384l-34 -24M722 485l-29 -19M753 439l-46 -35M1207 278l16 -24" stroke="#000675" stroke-width="2" fill="none" stroke-linecap="butt"/>
<path d="M797 368l-35 -27M759 333l-27 -19M931 315l-17 -51M903 249l-10 -31M921 291l-12 -39M940 341l-5 -23M806 377l-40 -38M815 388l-22 -25M947 362l-10 -49M936 328l-7 -28M863 441l-34 -46" stroke="#deefff" stroke-width="3" fill="none" stroke-linecap="butt"/>
<path d="M1030 355l1 -59M939 304l-6 -33M1096 358l21 -49M803 380l-13 -14M802 466l-16 -19M758 340l-46 -28M1208 451l21 -31M1024 285l3 -26M948 296l-8 -51M1188 435l16 -23M1022 366l4 -58M1018 245l7 -55M1140 395l24 -42M1136 362l11 -22M948 298l-8 -44M968 248l-4 -26M1012 352l2 -19M974 306l-5 -52M953 363l-6 -33M1260 603l30 -42M1228 476l11 -16M1190 394l20 -37M1194 444l34 -47M1076 287l6 -25M752 326l-22 -14M1140 363l10 -21M1112 352l8 -24M1117 300l19 -51M1264 566l17 -23M1062 340l13 -51M1295 614l19 -31M1051 263l5 -30M1045 353l10 -59M1002 373l0 -57M819 409l-37 -37M1275 595l15 -22M1012 285l-0 -31M950 283l-5 -41M1012 273l3 -50M1189 385l12 -23M898 238l-11 -31M995 245l-1 -30M817 414l-29 -36M1268 562l20 -33M1044 359l7 -42" stroke="#7cc0ff" stroke-width="4" fill="none" stroke-linecap="butt"/>
<path d="M1289 482l18 -33M691 556l-31 -21M785 442l-36 -35M1220 395l32 -45M758 477l-29 -24M1253 402l25 -38M760 362l-35 -25M1190 308l21 -34M1070 373l7 -37M1301 537l23 -32M1346 540l11 -19M1340 575l27 -46M743 423l-26 -17M1227 338l15 -21M733 563l-40 -29M1266 419l21 -31M1265 430l14 -18M740 364l-28 -20M669 567l-16 -11M1269 471l24 -35M1318 441l19 -31M1289 448l12 -18M1278 470l13 -20M1236 370l17 -27M1271 418l15 -23M1249 408l19 -25M1202 303l23 -41M701 527l-26 -18M1219 348l12 -19M1182 291l33 -48M1299 471l17 -28M1303 541l28 -47M1248 392l28 -42M1297 426l24 -43M729 474l-46 -30M1188 282l10 -18M801 408l-23 -24M1251 400l33 -49M1348 561l17 -29M1222 337l17 -26M930 243l-12 -37M1320 595l23 -42M739 348l-18 -14M697 519l-48 -33M1153 307l26 -51M769 504l-41 -38M1197 277l19 -29M1228 352l12 -20M716 420l-30 -19M768 454l-24 -21M1287 451l9 -16M971 217l-4 -25M1183 462l22 -42M1252 403l33 -44M708 443l-36 -23M1183 298l22 -42M1199 323l23 -40M715 476l-35 -24M1284 500l31 -47M1315 566l13 -20M1264 433l32 -45M750 493l-27 -21M1295 471l25 -39M1264 422l13 -19M1166 269l26 -50M796 399l-21 -20M1156 271l20 -31M780 450l-26 -21" stroke="#0425a0" stroke-width="3" fill="none" stroke-linecap="butt"/>
<path d="M1187 350l31 -43M1288 525l12 -16M1114 274l13 -31M1195 455l14 -21M1203 469l13 -23M1305 565l13 -18M1241 431l29 -37M1192 369l24 -41M961 362l-7 -36M835 458l-34 -43M1028 378l1 -56M1303 580l26 -45M1265 487l18 -26" stroke="#1792ff" stroke-width="4" fill="none" stroke-linecap="butt"/>
<path d="M835 431l-15 -20M795 503l-33 -33M1027 254l4 -37M925 280l-7 -20M1054 235l10 -54M1181 389l14 -25M903 237l-17 -36M791 458l-30 -28M809 396l-24 -21M998 306l-1 -25M1125 336l10 -21M1175 421l11 -21M986 310l-2 -37M1112 364l14 -33M1279 578l26 -43M951 321l-6 -31M797 495l-29 -31M1064 353l11 -40M1076 311l9 -44M1128 378l16 -31M983 295l-5 -42M1233 450l19 -30M832 428l-35 -40M1071 337l6 -28M1180 448l24 -43M997 345l2 -33M1146 319l13 -25M848 444l-30 -35M1230 492l23 -33M782 509l-35 -33M1215 447l30 -44M1090 301l8 -28M956 371l-4 -40M942 296l-6 -26M957 366l-8 -40M848 252l-29 -34M994 289l-5 -53M1284 572l14 -25" stroke="#4eabff" stroke-width="4" fill="none" stroke-linecap="butt"/>
<path d="M1345 575l22 -38M992 372l1 -42M703 533l-36 -22M1147 290l8 -17M1173 340l30 -47M1246 556l28 -37M738 598l-45 -39M1156 262l11 -22M1232 385l30 -49M1301 537l13 -20M739 393l-23 -17M1318 467l33 -50M790 392l-34 -32M710 573l-43 -37M1281 399l25 -41M725 570l-26 -20M1292 399l25 -40M1309 534l25 -43M714 442l-38 -26M1273 434l13 -18M734 608l-45 -39M713 463l-32 -21M1253 434l27 -43M1154 261l13 -22M1281 456l15 -24M764 491l-27 -26M1332 513l27 -45M1148 286l22 -43M758 551l-38 -36M1309 567l20 -36M1267 430l27 -43M765 378l-32 -25M715 412l-15 -11M1297 519l24 -37M1230 426l28 -43M793 518l-41 -39M754 375l-34 -24M1164 302l14 -28M1250 346l27 -37" stroke="#0533af" stroke-width="2" fill="none" stroke-linecap="butt"/>
<path d="M1195 328l32 -47M1184 274l17 -31M767 490l-47 -37M1298 472l19 -34M1268 425l25 -34M779 394l-24 -20M1195 277l14 -21M1243 315l27 -41M1325 541l25 -41M746 517l-45 -35M761 458l-34 -26M1309 491l20 -34M760 498l-38 -34M747 474l-33 -25M1054 370l6 -38M1296 427l13 -19M1170 266l10 -20M1309 428l22 -35M782 422l-15 -14M1259 442l33 -48M1238 314l28 -47M1233 392l28 -46M1311 573l27 -39M1226 357l20 -30M1292 461l24 -37M1244 318l27 -39M1317 492l16 -31M782 408l-29 -23M1310 507l23 -31M680 582l-22 -16M1310 535l13 -20M1261 332l19 -26M1234 516l11 -17M777 419l-40 -36" stroke="#021792" stroke-width="4" fill="none" stroke-linecap="butt"/>
<path d="M733 388l-48 -32M1225 301l27 -45M706 466l-49 -29M704 411l-18 -10" stroke="#00001e" stroke-width="2" fill="none" stroke-linecap="butt"/>
<path d="M1176 289l9 -16M1259 434l20 -28M730 609l-21 -20M744 583l-32 -30M1179 308l13 -27M1154 345l21 -43M1210 350l21 -32M943 280l-10 -48M792 385l-26 -21M1091 366l5 -19M775 493l-15 -17M1298 569l12 -20M760 357l-24 -18M1141 286l10 -18M746 571l-25 -26M1273 474l26 -43M743 539l-17 -17M804 474l-39 -34M1178 350l20 -33M1177 341l28 -46" stroke="#1792ff" stroke-width="2" fill="none" stroke-linecap="butt"/>
<path d="M681 558l-34 -22" stroke="#00002b" stroke-width="4" fill="none" stroke-linecap="butt"/>
<path d="M721 393l-33 -19M1333 457l11 -19M700 451l-32 -17" stroke="#00001e" stroke-width="3" fill="none" stroke-linecap="butt"/>
<path d="M1281 350l13 -19" stroke="#00001e" stroke-width="4" fill="none" stroke-linecap="butt"/>
<path d="M932 313l-6 -20M929 310l-7 -24" stroke="#deefff" stroke-width="2" fill="none" stroke-linecap="butt"/>
<path d="M687 576l-50 -30M685 492l-25 -14M1326 451l15 -29" stroke="#00002b" stroke-width="3" fill="none" stroke-linecap="butt"/>
<path d="M717 433l-49 -30" stroke="#00002b" stroke-width="2" fill="none" stroke-linecap="butt"/></g>
<clipPath id="cnd"><polygon points="733.0,601.0 739.0,565.0 755.0,534.0 772.0,502.0 792.0,470.0 819.0,437.0 843.0,422.0 862.0,410.0 883.0,391.0 901.0,373.0 922.0,373.0 934.0,358.0 961.0,352.0 1000.0,351.0 1055.0,352.0 1086.0,358.0 1101.0,367.0 1131.0,379.0 1149.0,391.0 1173.0,416.0 1191.0,437.0 1210.0,464.0 1228.0,494.0 1246.0,518.0 1258.0,536.0 1270.0,567.0 1275.0,601.0 1275.0,602.0 733.0,602.0"/></clipPath>
<g clip-path="url(#cnd)"><path d="M773 523l-3 -7M1160 576l4 -10M1007 529l0 -7M910 407l-2 -10M884 453l-3 -13M859 595l-3 -8M802 595l-2 -5M1157 505l4 -13M1175 481l3 -8M868 446l-5 -20M1166 511l3 -10M874 460l-4 -16M1233 576l4 -7M1196 483l3 -7M961 540l-1 -13M960 541l-1 -14M885 412l-3 -15M844 534l-2 -7M1058 597l2 -14M882 552l-4 -14M1112 597l2 -9M1005 469l0 -6M989 566l-0 -15M922 418l-2 -15M1003 560l0 -5M978 576l-0 -10M996 536l-0 -8M887 544l-3 -13M872 604l-4 -12M1234 507l3 -7M1184 477l4 -12M993 500l-0 -9M1176 583l3 -7M951 430l-1 -7M891 413l-2 -13M886 444l-4 -17M896 391l-2 -14M1190 494l2 -5M948 444l-1 -12M911 393l-2 -10M1186 440l3 -8M1091 517l3 -14M826 600l-5 -11M1178 604l4 -8M830 524l-3 -8M788 593l-4 -9M813 529l-5 -13M891 472l-4 -22M1224 508l6 -13M915 455l-2 -10M1100 567l3 -11M910 471l-3 -20M870 553l-2 -7M1261 561l5 -9M878 471l-2 -8M1013 437l0 -6M1183 585l3 -7M796 574l-5 -10M1034 504l0 -7M1193 539l4 -9M968 424l-1 -13M1050 441l1 -10M1070 538l1 -8M1011 584l0 -12M1107 594l2 -9M1125 602l4 -12M929 401l-3 -23M883 451l-4 -19M1248 597l5 -8M992 590l-0 -9M1265 584l3 -4M978 535l-0 -8M1075 567l2 -9M1042 546l1 -14M1069 572l2 -11M987 530l-0 -10M1023 425l0 -10M1143 605l5 -13M1061 592l1 -6M817 553l-4 -9M882 430l-3 -16M1136 508l4 -13M928 445l-2 -16M1020 587l1 -13M1133 521l3 -9M1036 582l1 -6M1067 579l2 -10M980 574l-1 -13M959 548l-1 -15M930 432l-1 -11M1240 589l4 -7M904 430l-2 -12M1018 509l0 -5M908 449l-2 -10M1069 516l1 -7M880 402l-2 -11" stroke="#000a84" stroke-width="3" fill="none" stroke-linecap="butt"/>
<path d="M911 595l-3 -12M1043 526l1 -13M822 557l-5 -13M1113 497l3 -15M975 505l-1 -13M967 557l-1 -14M872 550l-2 -6M889 489l-2 -7M1179 589l6 -13M1106 558l3 -11M1059 500l1 -13M920 562l-3 -14M871 567l-4 -13M833 529l-3 -7M1221 581l3 -5M1133 599l4 -13M1082 435l2 -15M886 514l-2 -7M824 464l-4 -13M1077 372l1 -8M1058 598l2 -12M1020 568l0 -7M861 552l-4 -12M809 512l-5 -12M840 528l-4 -11M994 463l-0 -14M1047 475l1 -12M879 567l-3 -10M1044 548l1 -5M1222 538l5 -10M952 452l-1 -6M1143 561l2 -5M767 552l-5 -10M887 529l-2 -8M860 487l-2 -6M958 566l-1 -13M1041 538l1 -7M1000 478l-0 -12M1231 574l5 -9M1049 398l1 -12M985 566l-0 -7" stroke="#0851cc" stroke-width="2" fill="none" stroke-linecap="butt"/>
<path d="M862 450l-3 -10M860 460l-4 -17M930 395l-2 -21M910 385l-2 -16M900 448l-4 -20M912 449l-2 -10M913 394l-2 -17M925 431l-2 -19M921 449l-3 -21M862 460l-5 -18M878 431l-3 -12M929 444l-3 -20M923 441l-2 -16M889 456l-3 -15M862 464l-4 -17M858 454l-4 -17M882 465l-3 -15M897 434l-2 -10" stroke="#000a84" stroke-width="4" fill="none" stroke-linecap="butt"/>
<path d="M779 571l-3 -6M958 524l-1 -13M1188 482l3 -7M962 596l-1 -10M839 560l-2 -6M1041 533l0 -6M807 538l-5 -12M1074 533l1 -9M1131 516l2 -6M1080 553l2 -13M1255 557l6 -11M1117 569l2 -6M1251 590l7 -11M881 502l-2 -8M943 602l-2 -14M953 533l-1 -13M998 504l-0 -9M783 561l-3 -6M755 586l-3 -5M1182 502l3 -9M1112 592l4 -14M1214 566l7 -13M1185 596l6 -13M1111 577l2 -7M953 601l-2 -14M999 503l-0 -14M931 600l-2 -14M1223 576l3 -6M821 600l-5 -12M904 574l-2 -10M941 513l-1 -11M1085 458l1 -7M1232 545l5 -9M1161 511l2 -7M1123 583l4 -13M989 586l-0 -5M1115 570l2 -8M1136 455l3 -12M1189 560l5 -11M1146 556l4 -12M1197 603l4 -8M844 530l-4 -13M1093 553l2 -8M777 582l-4 -7M778 590l-6 -11M941 498l-1 -7M1183 468l2 -6M753 564l-5 -8M958 589l-1 -12M1089 598l2 -11M926 600l-2 -9M872 542l-2 -7M910 588l-2 -11M813 567l-5 -13M1040 566l1 -6M1086 559l2 -9M1204 501l2 -5M1138 549l4 -13M804 569l-2 -5M1043 601l1 -10M963 467l-0 -6M971 588l-1 -8M1081 557l2 -10M1233 571l6 -11M954 573l-1 -11M778 593l-4 -8M1187 519l2 -6M1194 522l2 -5M790 532l-3 -6M1141 552l3 -11M985 594l-0 -13M1113 570l2 -6M966 511l-1 -14M858 598l-3 -7M887 510l-1 -6M1111 536l2 -9M850 554l-2 -6M1029 549l1 -13M894 584l-2 -7M1123 446l2 -11M1230 590l6 -11M1166 547l4 -11M960 569l-1 -13M990 598l-0 -9M1007 546l0 -11M1170 596l3 -6M1223 523l6 -12M1098 580l2 -8M1103 465l1 -6M1173 532l3 -7M874 518l-2 -8M1190 497l5 -12M943 567l-2 -15M884 564l-2 -9M1137 504l2 -7M810 537l-5 -12M1049 602l2 -14M995 393l-0 -11M1269 586l3 -4M1087 581l3 -13M1230 540l3 -6M1148 527l3 -9M886 530l-3 -11M1265 567l4 -7M830 528l-4 -10M1023 457l1 -13M1029 552l1 -8M778 564l-5 -10M1215 604l5 -9M894 602l-2 -7M993 583l-0 -15M741 597l-6 -10M991 462l-0 -14M913 490l-2 -11M1254 543l6 -12M1189 560l4 -9M1023 545l1 -12M1221 499l6 -14M1166 500l2 -7M1106 469l2 -8M1178 468l5 -14M1071 429l1 -6M963 482l-1 -13M1036 575l1 -12M1172 558l4 -10M1099 566l2 -9M1103 551l3 -12M798 592l-6 -13M979 487l-0 -5M963 451l-1 -15M1050 454l1 -8M996 443l-0 -10M1125 429l2 -8M1006 540l0 -5M1104 438l1 -7M908 497l-2 -13M1111 568l4 -14M1147 517l3 -10M967 574l-1 -14M1009 520l0 -6M1165 483l3 -8M1010 491l0 -9" stroke="#021792" stroke-width="2" fill="none" stroke-linecap="butt"/>
<path d="M1112 532l2 -7M760 533l-3 -5M776 541l-4 -8M896 519l-1 -7M881 472l-2 -9M1123 572l3 -10M1007 583l0 -10M1246 582l3 -5M1167 502l2 -5M1172 596l5 -12M937 600l-2 -12M1150 519l4 -13M993 536l-0 -10M1236 597l7 -13M1108 572l1 -5M880 602l-2 -7M1027 590l0 -7M1050 551l1 -6M754 579l-4 -7M801 552l-4 -8M776 566l-6 -12M815 481l-2 -6M925 561l-2 -12M1092 576l2 -9M969 503l-1 -14M1133 588l2 -7M944 483l-2 -15M1108 438l2 -10M876 579l-3 -10M821 473l-5 -14M1258 560l4 -7M913 507l-1 -5M859 601l-4 -11M1078 446l1 -9M990 517l-0 -11M1039 445l1 -11M936 524l-2 -14M1034 472l1 -14M1195 551l5 -12M811 590l-3 -7M964 592l-1 -11M1003 524l0 -7M1107 544l3 -11M1219 596l4 -8M1238 572l3 -6M883 543l-1 -6M1119 553l4 -14M1177 476l4 -13M952 542l-1 -10M1116 463l2 -7M1108 477l2 -8M1064 525l1 -11M1082 538l2 -9M1147 555l2 -5M837 576l-5 -14M1029 600l1 -10M1036 603l1 -8M757 597l-6 -10M875 535l-2 -7M884 476l-3 -13M1110 505l2 -10M876 587l-2 -8M1189 574l4 -10M818 490l-3 -10M1126 545l4 -14M1037 605l1 -13M1112 593l2 -8M1036 501l1 -8M1016 530l0 -6M1132 502l4 -14M846 557l-3 -8M908 553l-3 -14M1133 575l3 -9M874 585l-2 -6M781 554l-6 -11M981 438l-0 -7M1196 602l6 -12M1175 506l2 -7M868 566l-2 -6M964 570l-1 -9M1261 594l3 -5M1165 498l4 -11M767 557l-6 -12M1098 452l1 -8M1119 484l2 -9M1172 452l2 -6M892 569l-4 -14M977 535l-0 -6M1171 468l4 -13M1027 557l0 -8M837 553l-3 -8M897 509l-2 -11M1193 517l4 -9M1069 567l2 -13M1114 544l1 -6M1149 583l4 -12M1041 499l1 -12M991 484l-0 -14M968 595l-0 -5M979 584l-1 -11M1133 424l2 -10M840 541l-2 -7M1074 506l2 -12M992 573l-0 -11M1128 568l2 -7M962 529l-0 -6M780 547l-4 -8M1213 574l3 -6M915 500l-2 -14M1141 566l2 -6M927 581l-1 -5M767 540l-4 -9M1040 540l1 -14M848 512l-3 -9M1069 474l1 -10M889 546l-2 -10M956 586l-1 -13M1071 556l1 -7M1088 476l2 -14M1090 593l1 -6M836 548l-2 -6M804 482l-2 -5M1053 480l1 -11M1253 602l6 -9M1063 569l1 -6M1125 407l3 -14M1159 572l4 -10M1157 514l4 -13M854 545l-3 -8M952 500l-1 -5M909 588l-2 -9M786 530l-3 -6M1248 569l3 -5M1196 584l6 -12M1016 542l0 -14M1190 506l2 -5M876 595l-4 -12M1146 520l3 -11M909 521l-1 -6" stroke="#000a84" stroke-width="2" fill="none" stroke-linecap="butt"/>
<path d="M895 594l-2 -9M852 598l-3 -8M958 591l-1 -5M770 598l-3 -6M1260 557l3 -5M938 557l-1 -6M1146 601l4 -10M1213 601l6 -11M1257 602l7 -11M1126 584l3 -11M829 506l-3 -8M1185 528l3 -9M1158 465l3 -9M1047 584l1 -12M915 386l-1 -10M882 591l-2 -6M889 469l-3 -13M1169 562l4 -10M1154 572l4 -10M950 591l-2 -14M1051 545l1 -13M1025 475l0 -7M911 451l-2 -14M902 432l-4 -22M904 586l-3 -14M953 594l-1 -8M1195 596l3 -6M1040 523l1 -9M790 590l-4 -7M1030 521l1 -11M758 588l-5 -8M971 601l-1 -14M1215 526l4 -9M811 462l-2 -6M1069 518l1 -6M1251 564l3 -5M889 550l-4 -14M1136 505l3 -12M954 413l-1 -8M817 563l-5 -11M915 412l-2 -11M1120 573l3 -9M836 591l-3 -7M854 473l-3 -10M853 574l-5 -13M1000 510l0 -15M1236 604l5 -8M942 527l-1 -11M1100 462l2 -8M922 444l-2 -11M839 517l-4 -11M1079 494l1 -8M1053 526l1 -5M909 404l-2 -12M1186 456l2 -7M889 401l-3 -17M770 601l-3 -5M1018 449l0 -5M744 589l-3 -5M1230 586l3 -5M1187 539l4 -9M815 583l-2 -5M783 598l-5 -9M872 440l-2 -11M964 534l-1 -13M1123 476l3 -13M1073 552l2 -11M914 440l-2 -14M784 515l-2 -5M810 493l-3 -8M1007 520l0 -11M926 443l-2 -12M942 439l-1 -11M881 466l-5 -22M1043 401l0 -5M897 546l-2 -10M783 581l-4 -8M941 564l-1 -9M1080 417l2 -14M1151 510l3 -9M871 452l-5 -20M1058 539l1 -10M809 581l-5 -10M1234 573l7 -13M1234 557l5 -10M925 388l-2 -16M1077 474l2 -12" stroke="#021792" stroke-width="3" fill="none" stroke-linecap="butt"/>
<path d="M899 473l-3 -16M935 442l-2 -18M865 452l-3 -14M932 440l-2 -14M901 467l-3 -18M925 458l-2 -12M912 417l-2 -12M919 385l-3 -21M872 452l-3 -11M882 433l-4 -20M899 465l-2 -11M901 389l-2 -15M925 385l-2 -15M940 408l-2 -20M888 400l-2 -11M918 398l-3 -19M879 448l-5 -23M920 411l-2 -16M932 470l-2 -15" stroke="#0425a0" stroke-width="4" fill="none" stroke-linecap="butt"/>
<path d="M765 531l-2 -5M1241 544l6 -12M952 420l-1 -11M1241 547l3 -7M1138 539l2 -5M823 584l-4 -10M1112 581l2 -8M857 518l-2 -5M795 491l-4 -9M808 583l-4 -10M1111 449l2 -12M1050 559l1 -8M1095 513l1 -6M1198 488l2 -6M1209 486l5 -13M1008 549l0 -14M1099 555l3 -13M975 472l-1 -14M1203 606l5 -10M992 445l-0 -11M1004 461l0 -10M1207 584l4 -8M1219 532l2 -5M1268 604l8 -12M1089 494l2 -9M965 539l-1 -12M879 547l-4 -13M1000 463l-0 -12M998 548l-0 -14M1098 595l3 -13M1191 503l3 -9M1207 536l4 -9M1052 582l1 -9M784 544l-6 -14M958 548l-1 -12M1222 596l7 -12M796 535l-5 -12M1055 591l1 -6M930 554l-2 -10M776 509l-6 -14M1220 507l5 -10M1153 600l5 -12M1083 433l1 -7M1036 456l1 -15M1051 602l1 -5M781 549l-2 -5M964 540l-1 -9M1004 584l0 -14M946 541l-1 -8M851 499l-3 -10M902 556l-1 -5M1019 525l0 -8M1086 531l1 -6M1269 585l7 -10M999 466l-0 -7M1071 402l2 -15M991 560l-0 -11M1208 558l3 -6M1193 593l2 -5M1115 577l2 -9M985 544l-0 -14M809 500l-4 -11M1198 583l4 -8M1228 592l6 -11M1117 555l4 -13" stroke="#0533af" stroke-width="2" fill="none" stroke-linecap="butt"/>
<path d="M927 407l-3 -22M888 460l-5 -22M930 468l-2 -13M906 462l-3 -15M935 420l-3 -23M930 427l-3 -21M866 440l-3 -13M875 471l-4 -18M883 445l-3 -14M859 432l-4 -16M924 393l-3 -21M922 467l-3 -17M925 398l-3 -22M918 450l-2 -14M925 468l-3 -18M938 440l-1 -10M866 420l-3 -12M893 452l-3 -14M922 426l-3 -19" stroke="#021792" stroke-width="4" fill="none" stroke-linecap="butt"/>
<path d="M1132 557l2 -8M941 534l-1 -5M913 574l-1 -6M784 521l-5 -12M1165 527l4 -10M1216 581l5 -9M1102 580l3 -14M1100 577l3 -13M935 597l-2 -12M917 572l-2 -8M991 565l-0 -13M851 591l-5 -13M1037 565l1 -8M1257 593l7 -11M858 526l-2 -7M1012 602l0 -14M1181 573l3 -7M833 461l-3 -9M932 531l-2 -12M1174 574l2 -6M1142 545l4 -12M1270 600l6 -9M837 489l-4 -11M1088 443l2 -13M1050 493l1 -12M865 593l-3 -8M742 606l-8 -12M824 476l-3 -10M855 527l-3 -9M1255 544l5 -8M1197 487l4 -10M1185 534l5 -13M821 587l-4 -10M1218 544l4 -9M799 574l-4 -9M1181 542l5 -12M890 552l-1 -6M811 599l-3 -7M1066 563l1 -9M783 585l-3 -7M760 564l-5 -9M1027 548l1 -14M953 452l-1 -7M991 584l-0 -8M969 528l-1 -8M954 568l-2 -15M949 443l-1 -12M890 486l-2 -10M1072 575l2 -14M903 500l-2 -10M1008 522l0 -13M1078 525l1 -5M784 500l-5 -11M1093 600l3 -12M814 527l-4 -10M1119 547l3 -11M1186 592l4 -9M1095 577l3 -13M1014 435l0 -7M1224 523l4 -8M1160 575l2 -5M814 528l-3 -7M978 370l-0 -11M1162 417l2 -7M1073 474l2 -13M805 546l-3 -8M1014 584l1 -15M787 491l-4 -10M1137 532l4 -13M1140 462l3 -11M1119 515l3 -10M891 534l-2 -10M926 575l-2 -9M1055 583l1 -10M1097 424l2 -14M995 589l-0 -7M1015 517l0 -10M1124 583l2 -6M966 580l-0 -6M813 479l-5 -14M828 503l-3 -8M848 487l-2 -5M1148 491l4 -13M1044 374l1 -14M1072 591l1 -6M814 537l-5 -13M1251 598l8 -12M1264 596l7 -11M894 530l-3 -14M791 517l-3 -7M788 495l-5 -13M1095 564l1 -6M804 532l-3 -6M988 464l-0 -9M1048 472l1 -13M814 604l-5 -10M791 487l-3 -8M1083 564l2 -10M1160 587l4 -11M909 595l-2 -8M987 543l-0 -14M1011 450l0 -12M1262 595l8 -12M876 567l-1 -5M795 506l-3 -8M1104 537l2 -8M989 598l-0 -14M878 496l-3 -12M1109 486l2 -10M1128 561l2 -8M1185 573l3 -7M881 605l-4 -12M1103 584l3 -12M859 526l-3 -10M974 468l-0 -7M1167 468l2 -7M1165 467l2 -6M1126 428l2 -11M1141 586l4 -12M889 585l-4 -14M1070 415l1 -12M1100 449l1 -7M1097 452l2 -12M1030 482l0 -5M1227 534l2 -5M1076 545l1 -8M1093 553l3 -14M902 537l-2 -11M1028 570l1 -10M1075 549l2 -13M779 511l-6 -13M1214 546l6 -13M1266 594l3 -5M920 573l-1 -5M1083 425l1 -6M1197 533l3 -7M842 605l-4 -10M1148 493l2 -8M899 550l-2 -9M955 561l-1 -5M1100 530l1 -5M1036 493l1 -8M810 526l-4 -10M902 567l-3 -14M1088 386l1 -8M1212 594l2 -5M988 418l-0 -6M1072 598l2 -13M1016 604l0 -11" stroke="#000675" stroke-width="2" fill="none" stroke-linecap="butt"/>
<path d="M830 449l-4 -12M934 582l-1 -5M1197 503l4 -9M1226 517l6 -13M1156 588l3 -7M1113 465l3 -13M898 547l-2 -10M1186 543l2 -5M1157 554l4 -10M1216 596l6 -11M941 540l-2 -13M768 551l-5 -10M912 582l-2 -8M791 579l-2 -5M780 537l-4 -7M896 605l-3 -11M830 584l-4 -10M865 551l-3 -9M943 605l-2 -11M963 569l-1 -9M1027 600l1 -15M1098 538l3 -12M1113 480l2 -9M843 485l-4 -13M1092 536l2 -10" stroke="#0b74ea" stroke-width="2" fill="none" stroke-linecap="butt"/>
<path d="M1060 594l1 -8M1087 542l1 -7M786 553l-4 -9M785 513l-4 -10M982 592l-0 -6M1092 456l2 -11M1177 470l2 -7M1161 580l4 -11M1071 548l2 -14M1231 539l5 -9M1112 504l2 -7M795 522l-5 -12M766 533l-5 -11M758 555l-5 -9M1179 577l4 -10M956 456l-1 -13M952 587l-1 -5M1153 515l4 -13M950 590l-2 -14M1200 548l5 -12M1192 499l4 -10M1243 554l6 -12M813 455l-2 -6M1052 603l1 -10M940 501l-1 -5M917 543l-1 -7M849 604l-3 -8M983 392l-0 -13M1027 368l0 -6M1029 498l0 -7M1253 588l3 -4M1110 447l1 -6M823 600l-2 -5M993 585l-0 -12M1256 576l7 -12M830 566l-4 -9M810 571l-5 -11M935 603l-1 -6M762 564l-6 -10M916 512l-2 -11M771 546l-6 -13M1161 444l2 -7M837 600l-2 -5M1040 512l1 -14M879 607l-4 -12M1000 562l-0 -11M944 492l-1 -11M1147 469l2 -6M986 527l-0 -9M1074 598l1 -6M792 530l-3 -8M803 573l-6 -12M1204 486l4 -9M919 497l-2 -10M1125 441l2 -10M1177 528l2 -6M834 537l-5 -14M784 505l-3 -8M1017 519l0 -12M859 507l-3 -10M972 601l-1 -14M991 601l-0 -13M1053 509l2 -15M1082 473l2 -14M1027 555l1 -11M1031 591l1 -13M959 544l-1 -13M820 597l-5 -11M865 513l-3 -9M1107 605l3 -10M937 499l-1 -7M1099 605l3 -11M990 433l-0 -13M1117 496l2 -7M990 590l-0 -12M1029 443l0 -5M1068 386l1 -7" stroke="#000266" stroke-width="2" fill="none" stroke-linecap="butt"/>
<path d="M890 407l-2 -13M895 585l-3 -12M914 593l-3 -13M1098 566l1 -6M926 501l-1 -9M913 427l-3 -21M1146 447l1 -5M1247 587l4 -7M860 567l-4 -13M783 542l-5 -10M1264 593l6 -9M859 459l-4 -15M859 461l-6 -21M933 390l-2 -19M757 579l-7 -12M813 487l-3 -8M1153 601l4 -10M968 581l-0 -6M1151 510l4 -13M1008 445l0 -8M876 564l-2 -6M1005 456l0 -12M1185 539l5 -13M1031 493l1 -10M944 457l-2 -22M1141 575l3 -8M1099 552l2 -10M1223 593l4 -7M1012 422l0 -14M795 567l-4 -9M920 523l-2 -10M942 516l-2 -14M797 485l-4 -11M879 603l-3 -10M1090 597l3 -11M1156 583l4 -12M951 580l-1 -7M915 443l-2 -11M1213 546l3 -7M919 390l-3 -24M770 549l-5 -10M898 413l-3 -19M885 411l-4 -20M881 527l-2 -7M1130 524l3 -9M824 560l-3 -7M1161 575l3 -7M945 409l-1 -10" stroke="#0741bd" stroke-width="3" fill="none" stroke-linecap="butt"/>
<path d="M1027 479l0 -8M777 582l-7 -13M839 470l-3 -9M951 577l-2 -13M1131 517l3 -10M1242 601l3 -5M1177 556l5 -12M893 544l-1 -6M818 588l-4 -9M779 548l-6 -12M1073 543l1 -8M845 603l-4 -10M824 598l-6 -13M884 589l-3 -10M1109 559l3 -14M1015 547l0 -8M981 542l-0 -10M923 587l-1 -8M1048 493l1 -6M878 503l-2 -8M822 493l-3 -10M1040 475l1 -12M907 530l-2 -13M1027 601l1 -15M942 539l-2 -15M954 524l-1 -9M1106 516l2 -8M1049 505l1 -14M1013 575l0 -12M1047 426l1 -11M1196 514l5 -13M741 590l-5 -8M1031 550l1 -13M817 547l-5 -11" stroke="#0d85f8" stroke-width="2" fill="none" stroke-linecap="butt"/>
<path d="M916 389l-2 -16M867 443l-5 -23M928 391l-1 -11M903 421l-2 -14M899 437l-3 -16M938 445l-3 -24M898 443l-4 -20M896 456l-4 -19M910 458l-2 -11M888 449l-3 -12M898 405l-3 -15M897 392l-3 -15M929 390l-2 -16" stroke="#0741bd" stroke-width="4" fill="none" stroke-linecap="butt"/>
<path d="M1194 558l4 -10M787 520l-4 -9M1085 571l3 -13M763 594l-7 -12M1053 446l1 -12M924 570l-2 -9M955 479l-1 -7M865 485l-3 -13M1072 554l1 -8M1109 475l2 -9M950 587l-2 -13M1056 604l1 -6M971 481l-1 -14M1215 557l3 -5M1071 573l2 -9M745 581l-4 -7M1087 587l2 -10M812 569l-3 -6M835 563l-5 -14M779 515l-3 -6M1075 552l2 -11M908 555l-1 -5M995 523l-0 -13M1201 503l2 -5M1106 493l3 -13M1186 516l3 -8M985 481l-0 -7M1193 575l5 -11M1101 435l3 -14M1090 380l2 -12M854 527l-2 -6M1148 570l4 -12M997 588l-0 -9M990 574l-0 -11M1143 599l2 -7M905 556l-3 -12M1108 436l1 -8M919 589l-1 -5M966 472l-1 -12M1232 556l4 -7M834 555l-3 -8M1076 544l1 -6M1099 481l2 -10M987 559l-0 -13M770 590l-4 -7M1010 444l0 -10M1072 540l1 -9M819 601l-3 -7M948 593l-2 -14M1236 535l3 -6M1141 604l3 -10M874 528l-3 -13M929 499l-2 -14M1015 448l0 -6M1075 466l2 -14M924 523l-2 -10M1189 519l5 -13M1023 553l1 -10M937 514l-1 -6M1171 553l2 -6M1094 569l1 -5M1098 442l2 -9" stroke="#000675" stroke-width="3" fill="none" stroke-linecap="butt"/>
<path d="M1060 529l1 -11M1188 515l3 -8M807 600l-3 -5M1110 469l1 -6M883 459l-4 -17M940 446l-2 -16M957 493l-1 -11M900 462l-2 -11M1233 574l4 -7M870 416l-3 -15M1141 598l3 -10M1029 595l0 -5M1088 461l2 -13M1076 491l1 -9M825 500l-3 -8M1182 583l4 -9M1219 572l2 -5M1224 535l4 -8M1104 587l3 -11M939 580l-1 -6M1035 533l1 -7M955 511l-1 -9M896 414l-3 -19M1072 539l2 -11M1039 540l0 -5M1112 542l2 -7M1199 595l6 -12M938 438l-1 -12M889 399l-4 -22M918 453l-2 -11M1092 516l2 -9M1020 552l1 -15M835 496l-2 -6M942 458l-1 -12M900 566l-2 -8M931 462l-2 -16M975 530l-1 -12M1054 556l1 -7M990 445l-0 -10M970 527l-1 -9M889 419l-2 -12M999 556l-0 -13M927 391l-3 -22M791 524l-5 -11M970 525l-1 -8M1021 597l1 -14M898 461l-2 -10M959 575l-1 -10M1009 462l0 -14" stroke="#0425a0" stroke-width="3" fill="none" stroke-linecap="butt"/>
<path d="M812 565l-3 -8M987 606l-0 -13M1195 540l5 -13M811 493l-4 -11M1180 597l4 -9M929 476l-1 -8M1012 592l0 -11M759 562l-4 -8M1116 455l2 -11M820 595l-3 -7M1171 506l2 -5M822 586l-5 -11M1175 439l3 -9M798 600l-3 -6M831 604l-5 -11M846 573l-2 -6M839 487l-3 -10M754 560l-7 -13M837 543l-2 -6M1230 598l7 -11M797 597l-3 -6M817 446l-2 -5M1063 435l1 -11M1166 571l4 -11M1225 510l6 -13M926 533l-2 -10M1104 470l2 -8" stroke="#1792ff" stroke-width="2" fill="none" stroke-linecap="butt"/>
<path d="M1098 548l1 -5M1116 477l3 -13M1167 565l3 -7M955 591l-2 -14M1076 543l1 -5M1012 592l0 -14M1093 378l2 -15M1141 567l4 -11M979 525l-1 -13M874 575l-4 -12M807 601l-3 -6M811 583l-5 -10M1086 478l1 -7M1244 560l5 -9M1022 580l1 -13M1124 601l2 -6M953 606l-1 -11M1141 508l4 -13M1160 539l2 -5M1214 579l5 -10M1192 539l2 -5M1247 577l5 -9M1187 563l4 -10M902 548l-3 -12M855 563l-3 -8M1091 590l2 -11M945 571l-1 -8M1222 517l5 -11M1159 563l3 -8M1137 569l4 -12M976 565l-1 -11M775 524l-3 -6M1175 599l4 -8M916 507l-1 -7M780 531l-2 -5M930 577l-2 -11M1075 552l2 -12M1211 580l3 -6M819 597l-2 -5M1199 545l4 -10M973 456l-0 -9M1259 602l8 -12M1089 455l1 -5M931 483l-2 -14M1112 527l3 -14M1150 551l2 -5M1049 545l1 -9M949 604l-2 -15M1031 577l0 -7M1195 480l5 -13M1177 489l5 -14M839 470l-3 -12M1208 477l2 -5M832 552l-3 -9M909 561l-2 -9M812 487l-3 -8M1028 550l1 -13M1024 453l0 -7M955 573l-1 -11M1012 434l0 -13M1242 599l6 -9M812 513l-3 -7M984 435l-0 -13M1247 604l7 -11M1012 505l0 -10" stroke="#0741bd" stroke-width="2" fill="none" stroke-linecap="butt"/>
<path d="M821 589l-2 -6M970 597l-1 -11M1070 512l1 -8M898 529l-2 -11M982 484l-0 -9M1080 585l1 -7M791 549l-2 -5M1263 577l3 -5M838 471l-4 -13M804 541l-4 -10M828 573l-6 -14M818 594l-5 -12M1129 449l2 -9M912 517l-2 -11M1072 575l2 -9M966 576l-1 -13M982 409l-0 -8M847 582l-5 -14M1096 495l2 -13M987 478l-0 -13M960 522l-1 -11M953 451l-1 -8M1233 534l4 -7M857 553l-2 -8M1160 543l3 -7M1081 449l1 -5M1041 503l0 -5M784 507l-2 -6M963 484l-1 -13M814 498l-2 -5M905 584l-2 -9M1108 408l1 -6M1191 531l3 -8M837 548l-2 -5M915 572l-2 -12M1244 589l3 -6M967 496l-1 -10M1087 517l1 -8M1087 578l1 -6M891 518l-2 -9M1110 538l3 -12M1036 506l1 -12M767 563l-5 -10M1121 591l3 -11M814 587l-3 -8M978 417l-0 -9M1091 464l2 -14M1096 594l3 -14M1210 566l6 -13M1193 534l5 -11M945 527l-1 -11M976 575l-1 -10M1023 421l0 -7M1103 550l3 -11M974 533l-1 -10" stroke="#0425a0" stroke-width="2" fill="none" stroke-linecap="butt"/>
<path d="M960 471l-1 -14M927 523l-1 -7M832 495l-3 -9M950 484l-1 -13M1256 568l6 -10M820 456l-3 -9M918 565l-2 -10M783 579l-5 -9M1075 523l2 -12M1022 531l0 -7M952 489l-1 -14M1182 566l4 -8M1232 517l4 -9M1205 602l3 -5M1129 557l2 -7M1033 514l1 -9M1132 583l4 -14M916 540l-1 -8M815 524l-3 -8M961 589l-1 -14M1002 485l0 -7M1209 582l4 -9M900 597l-3 -13M1114 603l2 -5M914 563l-1 -7M945 551l-1 -8M909 481l-1 -6M1108 580l3 -12M868 538l-3 -10M1106 573l3 -11M928 559l-1 -7M1164 432l4 -12M845 560l-3 -9M1067 363l2 -14M1092 584l2 -9" stroke="#000266" stroke-width="3" fill="none" stroke-linecap="butt"/>
<path d="M933 425l-1 -12M955 574l-1 -7M1062 596l2 -13M926 447l-2 -18M901 582l-1 -6M978 592l-1 -12M861 444l-5 -20M1130 544l2 -6M885 434l-3 -15M891 531l-2 -7M1178 528l5 -14M1217 497l3 -8M895 607l-3 -12M867 439l-4 -15M917 579l-3 -13M964 573l-1 -11M802 559l-5 -11M1183 559l4 -9M834 533l-5 -14M1087 584l2 -9M930 566l-2 -11M907 426l-3 -16M787 512l-4 -10M1155 593l4 -10M806 531l-2 -5M886 405l-4 -20M859 428l-3 -12M930 513l-2 -11M909 510l-2 -12M788 584l-5 -9M1177 598l5 -11M931 419l-2 -20M934 448l-2 -18M1063 543l2 -11M902 469l-3 -17M894 467l-4 -19M894 466l-3 -13M869 445l-4 -16M944 464l-2 -22M835 512l-2 -6M968 586l-1 -8M1170 564l2 -6M1182 560l5 -11M1152 599l5 -12M927 389l-2 -20M929 452l-1 -11M931 437l-2 -14M860 592l-4 -12M947 466l-1 -15M847 598l-4 -11M1083 554l2 -10M886 403l-2 -10M1249 585l3 -5" stroke="#0533af" stroke-width="3" fill="none" stroke-linecap="butt"/>
<path d="M918 400l-3 -18M916 465l-3 -16M863 461l-4 -15M885 456l-4 -21M886 455l-2 -10M912 387l-2 -17M932 395l-2 -17M934 422l-3 -23M896 466l-2 -11M900 436l-4 -20M858 431l-4 -17M938 469l-2 -15" stroke="#0533af" stroke-width="4" fill="none" stroke-linecap="butt"/>
<path d="M1227 557l7 -13M1185 529l3 -7M1064 606l2 -9M1237 519l4 -8M1022 569l0 -7M751 601l-6 -9M1046 593l1 -6M807 558l-6 -13M982 417l-0 -12M835 577l-2 -5M1166 597l3 -7M959 525l-1 -9M929 510l-2 -12M1185 605l6 -12M999 596l-0 -7M936 511l-1 -8M961 520l-1 -7M1161 604l4 -10M1026 464l0 -9M1168 589l3 -6" stroke="#0851cc" stroke-width="3" fill="none" stroke-linecap="butt"/></g>
<polygon points="748.0,294.0 766.0,275.0 789.0,255.0 806.0,243.0 826.0,232.0 844.0,224.0 853.0,219.0 865.0,229.0 872.0,242.0 880.0,267.0 890.0,284.0 902.0,308.0 911.0,328.0 914.0,340.0 906.0,348.0 899.0,352.0 897.0,368.0 889.0,382.0 880.0,387.0 877.0,399.0 868.0,402.0 858.0,399.0 848.0,391.0 838.0,379.0 828.0,365.0 818.0,352.0 804.0,338.0 792.0,328.0 781.0,318.0 771.0,310.0 762.0,303.0" fill="#fff"/>
<path d="M740.9 293.7L743.7 290.6L779.4 304.2ZM746.7 287.4L748.9 285.1L782.0 298.8ZM752.3 281.3L754.2 279.4L780.3 291.5ZM757.5 275.7L760.2 272.8L788.5 287.8ZM766.8 266.9L768.8 265.1L800.9 283.4ZM776.1 258.6L777.9 257.0L806.7 275.8ZM782.3 253.2L784.7 251.0L813.3 271.8ZM792.1 245.8L794.8 243.9L827.7 270.5ZM804.1 237.6L806.3 236.4L836.2 263.6ZM810.4 234.1L813.1 232.6L846.3 265.1ZM822.5 227.4L825.7 226.0L856.0 260.1ZM829.9 224.0L832.3 223.0L864.4 261.1ZM841.8 218.5L845.4 216.4L868.2 249.2Z" fill="#000"/>
<polygon points="879,218 889,213 903,249" fill="#000"/>
<path d="M646.4 600.1L646.8 596.6L671.7 610.6ZM646.9 595.4L647.2 592.5L673.0 606.7ZM647.6 589.0L647.9 586.2L667.6 597.5ZM648.3 582.3L648.5 579.9L674.2 594.1ZM648.9 576.4L649.3 572.3L666.9 583.4ZM649.6 569.6L649.9 566.6L668.6 577.9ZM650.1 564.8L650.4 561.8L675.5 576.5ZM650.7 558.9L651.1 555.7L672.9 568.9ZM651.2 554.3L651.5 552.0L669.5 562.9ZM651.8 548.6L652.1 546.1L671.9 558.1ZM652.3 543.8L652.6 541.3L673.2 553.9ZM653.0 537.7L653.2 535.0L673.4 547.5ZM653.3 534.4L653.7 530.3L670.9 542.0ZM654.3 528.1L655.2 524.6L678.4 539.6ZM655.8 522.3L656.7 518.6L677.2 532.3ZM657.1 517.0L657.8 514.4L680.6 528.9ZM658.8 510.7L659.5 507.7L685.4 524.4ZM660.0 506.0L661.0 502.2L679.3 515.1ZM661.1 501.9L661.9 498.8L682.5 512.7ZM662.3 496.9L663.3 493.3L689.0 510.7ZM663.8 491.2L664.8 487.5L683.4 500.8ZM665.7 484.1L666.4 481.1L692.1 498.4ZM666.9 479.4L667.6 476.8L686.1 489.7ZM667.9 475.6L668.6 472.8L690.2 487.8ZM669.5 469.2L670.5 465.6L687.8 478.5ZM671.1 463.3L672.1 460.1L693.9 475.8ZM672.6 458.5L673.6 455.2L693.5 469.8ZM673.9 454.4L674.9 451.3L692.4 464.4ZM675.2 450.3L676.2 447.1L696.6 462.2ZM676.7 445.4L677.7 442.2L694.9 455.3ZM678.7 439.0L679.4 436.8L701.0 452.3ZM680.5 433.4L681.6 429.9L707.3 449.1ZM682.7 426.2L683.7 423.3L701.4 437.0ZM684.4 421.0L685.4 417.9L711.4 437.5ZM685.9 416.3L686.7 413.5L706.3 428.6ZM687.1 412.3L687.9 409.8L710.8 427.1ZM689.1 406.0L690.3 402.4L712.7 420.2ZM690.4 401.9L691.3 399.1L715.3 417.7ZM691.7 397.7L692.4 395.5L719.9 416.3ZM693.5 393.1L694.5 390.7L714.4 406.5ZM695.7 387.7L697.0 384.7L723.0 405.4ZM697.7 382.9L699.3 379.0L723.9 399.4ZM699.8 377.9L701.0 374.8L726.0 395.1ZM702.3 371.8L703.7 368.2L723.5 385.2ZM704.8 365.7L705.7 363.5L728.1 381.7ZM706.7 361.0L707.8 358.2L728.2 375.4ZM709.1 355.1L710.3 352.3L736.7 374.3ZM711.1 350.2L712.3 347.3L734.6 366.4ZM714.0 343.2L715.1 340.5L732.6 355.9ZM715.5 339.4L717.0 335.9L735.7 352.9ZM717.9 333.6L719.4 330.1L746.4 353.8ZM719.7 329.8L721.6 327.4L739.0 343.3ZM722.4 326.4L724.5 323.8L745.9 343.2ZM726.3 321.6L728.5 318.9L755.8 343.3ZM729.6 317.6L731.3 315.5L752.6 334.7ZM731.4 315.3L734.0 312.1L756.8 333.5ZM734.9 311.0L736.7 308.7L753.9 324.9ZM737.0 308.3L739.6 305.2L763.8 328.0Z" fill="#000"/>
<path d="M1262.4 290.4L1264.5 293.7L1248.1 313.9ZM1265.6 295.5L1267.3 298.1L1253.0 316.2ZM1267.9 299.0L1269.7 301.8L1251.6 325.2ZM1270.2 302.7L1271.6 304.8L1258.4 321.8ZM1272.6 306.4L1274.4 309.3L1258.3 329.8ZM1276.4 312.4L1277.9 314.7L1262.7 334.7ZM1280.5 318.8L1282.1 321.6L1266.3 342.1ZM1284.1 325.0L1286.2 328.3L1272.1 345.9ZM1287.4 330.5L1289.2 333.4L1272.1 356.0ZM1290.5 335.7L1292.6 339.1L1277.9 357.7ZM1293.1 340.0L1294.4 342.1L1280.5 360.9ZM1295.1 343.3L1297.0 346.5L1281.4 366.8ZM1297.6 347.4L1299.2 350.5L1282.1 373.5ZM1300.1 352.1L1302.0 355.6L1283.5 380.4ZM1304.0 359.4L1305.3 361.6L1291.8 380.1ZM1306.5 363.8L1307.6 366.0L1290.7 389.8ZM1308.8 368.1L1310.5 371.2L1295.2 391.8ZM1311.0 372.1L1312.5 375.0L1293.6 401.5ZM1314.4 378.4L1315.7 380.8L1301.0 401.4ZM1316.2 382.4L1317.6 385.7L1305.2 402.3ZM1319.0 389.3L1320.1 392.0L1301.6 418.7ZM1321.8 396.1L1323.2 399.7L1303.8 427.3ZM1324.0 401.6L1325.1 404.4L1308.1 429.1ZM1325.9 406.3L1327.3 409.7L1313.5 428.8ZM1328.2 412.1L1329.5 415.2L1315.7 434.7ZM1330.2 417.0L1331.2 419.4L1314.8 443.7ZM1331.9 421.0L1333.3 424.2L1317.2 447.5ZM1334.6 427.1L1335.8 430.0L1318.0 456.4ZM1336.6 431.7L1337.9 434.8L1323.3 455.9ZM1339.6 438.7L1340.7 441.2L1327.8 460.2ZM1341.2 442.5L1342.2 444.8L1327.8 466.6ZM1343.6 449.2L1344.1 451.7L1329.0 475.1ZM1345.0 456.3L1345.6 459.5L1333.5 477.6ZM1345.9 461.2L1346.5 463.8L1327.6 493.5ZM1346.7 464.9L1347.4 468.5L1330.3 494.8ZM1348.1 471.9L1348.5 474.1L1336.0 493.8ZM1349.1 476.8L1349.8 480.5L1337.2 499.5ZM1350.0 481.7L1350.5 484.3L1332.7 512.9ZM1351.0 486.8L1351.7 490.1L1335.6 515.3ZM1352.2 493.1L1352.9 496.8L1337.8 520.3ZM1353.2 498.7L1353.7 501.3L1338.5 525.9ZM1354.4 505.4L1354.9 508.4L1337.9 536.1ZM1355.7 512.8L1356.4 516.4L1337.5 547.1ZM1356.5 517.3L1357.0 520.3L1343.1 542.8ZM1357.3 521.9L1357.8 524.9L1341.8 551.1ZM1358.1 526.6L1358.6 529.0L1342.0 556.7ZM1359.3 533.2L1360.0 536.9L1341.8 566.9ZM1360.3 541.0L1360.5 544.1L1344.7 570.6ZM1360.7 546.0L1361.0 550.1L1343.2 579.9ZM1361.3 553.3L1361.5 556.1L1349.5 576.3ZM1361.7 558.2L1362.0 561.5L1350.2 581.0ZM1362.4 566.3L1362.6 568.8L1345.6 598.6ZM1363.0 573.5L1363.3 577.3L1345.7 607.7ZM1363.6 581.0L1363.9 584.3L1349.3 609.5ZM1364.0 586.5L1364.3 590.0L1347.0 620.4Z" fill="#000"/>
</g>
<clipPath id="cs"><rect x="164" y="767" width="1672" height="534"/></clipPath>
<g clip-path="url(#cs)">
<path d="M164 1177l0 116 1671 0 0-116-7 4-7 1-5-4-3 0-5 3-6-5-5 2-2-3-2 0-4 3-2-3-2 0-11 7-11 15-8 8-5 3-6-5 1-4-8-10-2-12-8-10-14-6-12-12-18 4-3-6-50-19-23-17-33-35-7-10-52-102-18-69-3-22-4-17-5-31-5-58-937 0-6 70-13 58-13 67-3 9-26 41 5 4 19 7 28 8 12 1 13 3 26 1 14 2 32 0 6 2-6 17-3 28 0 19 15 47 0 17-1 1-6-2-1 82-1 1-298 0-30-17-37-29-7-2-5 1-8-9-17-13-10 0-22-3-35 0zM1378 978l-8 54-2 70-16 39-8 27-5 11-40 32-50 26-50 14-100 10-103 0-1-1 2-2 0-79 10-10 2-10 0-80-3-12-6-5 0-56 1-1 350 0 9-3 5-5 5-8 6-16z" fill="#00000e" fill-rule="evenodd"/>
<path d="M164 1177l0 116 1671 0 0-115-13 5-7-5-7 4-7-6-4 3-3-4-5 4-3-4-10 6-19 23-5 4-3 0-6-5 0-5-7-10-2-12-6-8-17-7-11-11-16 5-3-6-5-3-45-17-26-19-29-31-11-15-50-98-18-69-3-22-7-34-7-74-94 0-2 139-1 1-3 63-9 61-2 70-16 39-8 27-6 13-41 32-50 26-50 14-100 10-175 0-5-2 1-1 5 0 6-3 0-80 5-3 8-1 16 0 9-2 33 0 4-5 1-6 0-81-2-8-4-4 0-3-7-3-92-20-97-10-76-3-1-1-36 0-28 4-11 3-3-5-3-12-10-16-5-29-2-59-1-1-1-144-83 0-6 69-13 58-14 72-28 46 6 4 19 7 34 9 6 0 13 3 26 1 14 2 40 0 1 1-7 13-2 7-3 31 1 16 12 34 3 18 0 9-2 2-8-2 0 47-1 1 0 34-1 1-303 0-29-17-33-26-5-2-6 0-9-11-17-13-10 0-22-3-35 0z" fill="#000018" fill-rule="evenodd"/>
<path d="M164 1177l0 116 1671 0 0-115-7 4-7 1-5-4-3 0-6 3-5-5-2 0-3 3-2-4-2 0-4 4-2-4-2 0-8 5-15 19-9 8-3 1-7-5 0-5-7-9-2-13-7-9-15-6-11-11-18 4-3-7-50-19-26-19-28-30-10-14-52-101-18-69-3-22-4-17-5-31-5-59-93 0-2 141-1 1-3 62-9 61-2 70-16 39-8 27-5 11-7 7-34 26-50 26-50 14-100 10-162 1-1-1-31 0-29-5-14-1-1-1 1-1 9 0 4-2 0-65-1-2 2-2 9-1 40-11 67-2 8-1 3-3 1-4 0-85-1-4-5-7-12-4-44-10-44-8-39-2-62-7-19 0-1-1-19 0-1-1-19 0-1-1-19 0-1-1-21 0-43 6-5-9-3-12-9-14-6-32-2-59-1-1-1-142-81 0-6 68-13 58-14 72-11 20-17 25 0 3 25 10 31 8 32 4 13 0 14 2 38 0 8 2-7 10-3 8-3 26 0 21 12 34 3 15 0 15-2 2-9-3 0 47-1 1 0 34-1 1-306 0-27-16-31-25-7-3-4 0-10-12-17-13-10 0-22-3-35 0z" fill="#000028" fill-rule="evenodd"/>
<path d="M164 1177l0 116 1671 0 0-115-9 5-5 0-5-4-3 0-6 3-5-5-2 0-3 3-3-4-5 4-4-4-8 5-15 19-9 8-3 1-7-5-1-6-6-8-2-12-7-10-16-6-9-10-6 0-13 4-4-8-49-19-26-19-28-30-11-15-21-43-11-18-19-38-18-69-3-22-7-34-7-74-93 0-2 141-1 1-3 63-9 61-2 69-15 37-8 27-7 15-40 31-50 26-50 14-100 10-99 0-1 1-94-1-29-5-36-4-22-5-1-1 3-2 0-44-2-3 22-15 6-2 37-1 48-11 61-1 8-2 3-8 0-78-1-6-3-6-9-4-37-9-53-10-103-6-1-1-81-3-1-1-61 3-4-6-4-15-10-17-5-28-2-59-1-1-1-144-80 0-6 67-13 58-14 72-2 6-27 41 0 2 26 10 31 8 6 0 13 3 26 1 13 2 44 0 4 2-7 9-4 10-3 27 0 18 13 38 3 25-3 4-10-3 0 47-1 1 0 34-1 1-308 0-24-14-34-27-8-2-11-13-17-13-10 0-22-3-35 0z" fill="#000038" fill-rule="evenodd"/>
<path d="M164 1177l0 116 1671 0 0-114-9 4-5 0-8-4-5 4-6-6-2 0-3 3-4-4-4 4-4-4-11 8-17 21-5 4-3 0-6-5-3-8-4-5-3-15-5-7-11-5-6-1-10-11-18 4-4-8-48-18-26-19-30-32-11-15-21-43-11-18-18-36-18-69-3-22-7-34-7-75-92 0-2 139-1 1-3 62-9 61-2 70-17 42-8 27-5 11-42 33-51 26-46 13-70 6-31 4-163 1-1-1-31 0-29-5-36-4-41-10-9-1-25-10 0-16-1-2-5-2 2-2 35-5 6-2 41-23 40-1 49-11 61-1 6-2 2-3 0-87-1-3-8-6-50-12-45-8-74-4-1-1-17 0-1-1-80-2-1-1-71 1-4-9-3-12-10-17-5-29-2-59-1-1-1-144-80 0-6 70-13 58-14 72-29 45 27 11 31 8 6 0 13 3 12 0 27 3 46 0 3 2-6 6-4 7-3 10-1 20-1 1 0 20 13 38 2 11 0 17-4 1-9-3 0 47-1 1 0 34-1 1-310 0-22-13-31-25-7-4-3 0-12-14-17-13-10 0-22-3-35 0z" fill="#00004b" fill-rule="evenodd"/>
<path d="M1835 1179l-13 5-7-5-7 4-7-6-4 4-3-5-5 5-3-5-8 5-5 5-14 18-5 4-5 1-7-6-1-5-5-7-3-14-7-9-12-5-3 0-8-9-4-2-16 5-3-8-51-20-26-19-27-29-13-18-18-38-14-23-18-36-18-69-3-22-7-34-7-74-91 0-2 140-1 1-3 62-9 61-2 70-16 39-8 27-6 13-6 6-34 26-52 27-46 13-14 2-10 0-77 8-99 0-5 2-92-2-29-5-36-4-41-10-9-1-42-15-44-24-3-3 1-2 52 10 10 0 37-6 42-23 40-1 42-10 72-3 3-4 0-86-1-2-6-5-17-5-73-15-68-4-1-1-16 0-1-1-18 0-1-1-52-1-1-1-25 0-1-1-59 0-10 2-5 4-6 10-3 14-1 36 14 42 1 23-3 2-11-4 0 47-1 1 0 34-1 1-312 0-21-13-31-25-5-3-4 0-12-15-17-13-10 0-22-3-35 0-1-1 0 116 1671 0zM548 767l-6 68-19 88-8 45-6 10-11 12-14 22 22 9 27 8 17 2 12 3 25 1 14 2 47 0 2 1 1-2-6-19-10-16-5-28-2-59-1-1-1-146z" fill="#00005e" fill-rule="evenodd"/>
<path d="M1835 1179l-7 4-7 1-7-5-3 3-4 1-5-5-2 0-3 3-4-4-4 4-4-4-11 8-16 20-5 4-5 0-5-4-2-6-6-9-2-13-6-8-11-5-6-1-9-10-5 0-13 4-2-2-1-6-48-18-17-11-11-9-29-31-12-17-9-20-19-35-4-5-18-36-18-69-3-22-7-34-7-75-91 0-2 141-1 1-3 62-9 61-2 70-16 39-8 27-6 13-41 32-48 25-53 15-100 10-99 0-1 1-93-2-29-5-36-4-41-10-9-1-42-15-48-26-2-2 1-3 50 10 14 1 38-6 28-16 15-7 41-1 42-10 31 0 13-2 23 0 5-5 0-84-2-4-11-5-11-2-19-6-55-10-70-4-1-1-37-1-1-1-25 0-1-1-50-1-1-1-56 0-9 2-4 3-5 7-4 15-2 34 14 43 2 26-4 2-11-4 0 47-1 1 0 34-1 1-313 0-21-13-31-25-8-3-12-15-17-13-10 0-22-3-35 0-1-1 0 116 1671 0zM550 767l-5 67-26 134-8 14-8 4-5 5-14 20 4 3 16 5 5 3 25 7 12 1 13 3 25 1 19 3 47 0-5-19-11-19-5-29-2-59-1-1-1-143z" fill="#000571" fill-rule="evenodd"/>
<path d="M1835 1179l-7 4-7 1-5-4-3 0-6 3-5-5-2 0-3 3-3-4-5 4-4-4-8 5-14 18-10 9-3 1-8-6-7-14-2-13-6-8-14-6-3 0-10-10-17 5-2-2-1-7-48-18-17-11-11-9-29-31-10-14-29-55-6-7-11-4-15-32-16-67-11-66-5-68-85 0-2 141-1 1-3 62-9 61-2 70-16 39-8 27-6 13-41 32-50 26-50 14-101 10-98 0-1 1-94-2-29-5-36-4-41-10-9-1-42-15-48-26-4-4 2-2 5 0 5 2 46 9 11 0 34-5 34-19 12-5 34 0 50-11 31 0 1-1 33-1 2-1 2-5 0-80-2-5-11-5-34-9-51-9-73-4-1-1-18 0-1-1-69-2-1-1-80-1-7 2-7 7-4 10-2 14-1 28 14 43 2 25-2 2-3 0-11-4 0 47-1 1 0 34-1 1-315 0-20-13-28-23-9-4-13-16-17-13-10 0-22-3-35 0-1-1 0 116 1671 0zM557 767l-4 64-24 138-9 16-10 1-9 4-10 11-5 7-1 4 22 9 24 7 29 5 25 1 14 2 51 1-6-21-10-17-5-29-2-58-1-1-1-144z" fill="#000a84" fill-rule="evenodd"/>
<path d="M1835 1179l-7 4-7 1-5-4-3 0-6 3-5-5-2 0-3 3-3-4-5 4-4-4-8 5-14 18-10 9-3 1-8-6-7-13-2-14-6-8-9-4-9-2-8-9-5 0-14 4-3-9-49-19-26-19-29-31-10-14-26-48-4-3-17-5-21-9-2-3-11-30-8-46-5-21-3-29-6-37-4-68-71 0-2 142-1 1-3 62-9 61-2 69-16 39-8 27-6 13-41 32-50 26-50 14-100 10-99 0-1 1-94-2-29-5-36-4-41-10-9-1-42-15-48-26-5-5 2-2 5 0 5 2 46 9 14 0 33-5 37-21 10-3 35 0 49-11 31 0 1-1 30-1 3-3 0-84-1-2-8-4-41-11-48-8-77-4-1-1-18 0-1-1-92-3-1-1-52 0-6 2-7 7-5 19-1 34 14 42 1 22 1 1-1 3-2 1-14-5 0 47-1 1 0 34-1 1-316 0-17-11-31-25-7-3-14-17-17-13-10 0-22-3-35 0-1-1 0 116 1671 0zM568 767l-4 71-11 69-7 59-3 9-7 15-24 0-1 1-2-1-11 5-7 7-6 9 2 2 21 8 33 9 6 0 13 3 26 1 13 2 48 0 2 1 1-2-6-19-10-16-5-29-2-59-1-1-1-144z" fill="#021b96" fill-rule="evenodd"/>
<path d="M1835 1179l-7 4-7 1-5-4-3 0-6 3-5-5-2 0-3 3-3-4-5 4-4-4-8 5-14 18-10 9-3 1-5-3-5-6-5-10-2-14-6-8-9-4-9-2-9-9-18 4-3-9-49-19-26-19-32-35-15-23-4-10-10-16-37-11-30-14-3-3-8-30-10-67-4-45-3-19-3-71-58 0-2 142-1 1-3 62-9 61-2 69-16 39-8 27-6 13-41 32-50 26-50 14-100 10-99 0-1 1-94-2-29-5-36-4-41-10-9-1-42-15-48-26-5-4 1-4 55 11 18 0 31-5 43-23 40-1 41-10 9-1 29 0 1-1 29-1 3-4 0-79-1-3-9-5-18-4-22-7-40-7-72-4-1-1-37-1-1-1-66-2-1-1-72-1-5 2-6 6-5 16-2 33 14 43 2 13 0 16-3 1-14-5 0 47-1 1 0 34-1 1-317 0-21-14-28-23-5-2-14-17-17-13-10 0-22-3-35 0-1-1 0 116 1671 0zM579 767l-3 72-8 61-6 68-7 24-16 3-34 0-11 5-9 11 5 3 35 12 36 7 25 1 14 2 49 0-5-19-11-20-4-25-2-59-1-1-1-145z" fill="#042ca8" fill-rule="evenodd"/>
<path d="M1835 1179l-7 4-7 1-5-4-3 0-6 3-5-5-2 0-3 3-3-4-5 4-4-4-8 5-14 18-10 9-3 1-8-6-7-12-2-15-6-8-12-5-7-1-9-9-17 5-3-10-49-19-26-19-29-31-12-17-2-5-4-4-3-8-6-8-27-6-28-9-25-12-15-10-7-33-7-69 0-12-5-51-2-69-44 0-2 140-1 1-3 62-9 61 0 18-2 8-1 45-16 39-8 27-6 13-41 32-50 26-50 14-100 10-98 0-1 1-95-2-29-5-36-4-41-10-9-1-42-15-53-29-1-4 2-2 53 11 14 1 38-6 33-19 10-4 40-1 47-11 27 0 11-2 22-1 2-5 0-73-1-1 1-1-2-4-10-4-7-1-39-12-33-5-77-4-1-1-18 0-1-1-82-3-1-1-68-1-8 5-4 8-2 8-1 24-1 1 1 16 14 43 1 23-4 1-14-5 0 47-1 1 0 34-1 1-318 0-22-15-27-22-4-1-11-15-20-16-10 0-22-3-35 0-1-1 0 116 1671 0zM590 767l-2 68-7 69-3 60-5 29-2 2-8 2-23 3-38 0-11 5-5 6 23 10 17 4 7 3 22 3 6 2 26 1 13 2 49 0-5-19-11-19-4-25-2-59-1-1-1-146z" fill="#073db9" fill-rule="evenodd"/>
<path d="M1835 1179l-7 4-7 1-5-4-3 0-6 3-5-5-2 0-3 3-3-4-5 4-4-4-8 5-14 18-10 9-3 1-8-6-6-9-3-18-6-8-12-5-8-1-7-8-18 4-3-10-47-18-17-11-11-9-29-31-13-20-3-2-6-9-25-4-28-7-30-11-20-11-10-15-5-36-8-128-1-1-1-65-1-4-36 0-2 141-1 1-3 62-9 61-3 70-16 39-8 27-6 13-41 32-50 26-50 14-100 10-98 0-1 1-95-2-29-5-36-4-41-10-9-1-42-15-53-29-2-2 0-3 2-2 58 12 13 0 33-5 35-20 10-4 39-1 43-11 34-2 23-5 0-75-5-4-40-14-15-4-15-2-91-5-1-1-119-5-1-1-42 0-8 5-4 10-3 25 0 18 14 42 2 27-2 2-17-6 0 47-1 1 0 34-1 1-319 0-23-16-23-19-5-3-3 0-1-1 2-1-10-13-20-16-10 0-22-3-35 0-1-1 0 116 1671 0zM596 767l-2 70-1 1-4 70-1 1-2 59-4 26-8 5-14 4-8 0-9 2-45 0-11 6 23 10 17 4 7 3 12 1 13 3 11 0 6 2 24 1 1 1 48 0-5-18-11-19-5-29-2-59-1-1-1-143z" fill="#0851cc" fill-rule="evenodd"/>
<path d="M1835 1179l-7 4-7 1-5-4-3 0-6 3-5-5-2 0-3 3-3-4-5 4-4-4-8 5-14 18-10 9-3 1-5-3-9-11-3-19-6-8-12-5-7 0-8-8-18 4-3-11-49-19-15-10-19-17-21-23-12-18-5-2-28-3-36-7-41-14-11-13-11-24 0-10-3-21-6-124-1-1-1-72-1-4-31 0-2 142-1 1-3 62-9 60-3 70-16 39-8 27-6 13-41 32-50 26-50 14-100 10-98 0-1 1-95-2-29-5-36-4-41-10-9-1-42-15-53-29-3-3 1-4 4-1 14 4 41 8 15 0 32-5 29-17 15-7 40-2 23-6 22-8 0-91-10-6-15-3-244-13-6 1-7 5-5 18-2 29 2 10 13 38 2 27-3 1-17-6 0 47-1 1 0 34-1 1-320 0-19-13-28-23-7-3 2-1-10-13-20-16-10 0-22-3-35 0-1-1 0 116 1671 0zM601 767l-1 73-1 1-1 34-2 18-1 57-1 1 0 22-1 1-1 21-21 11-8 2-26 3-19 0-1-1-20-1-6 3 17 8 20 5 3 2 29 5 25 1 17 3 46 0 1-2-5-16-11-18-5-29-2-59-1-1-1-144z" fill="#0a67de" fill-rule="evenodd"/>
<path d="M1835 1179l-7 4-7 1-5-4-3 0-6 3-5-5-2 0-3 3-3-4-5 4-4-4-8 5-14 18-10 9-3 1-5-3-9-11-3-19-6-8-12-5-9 0-6-7-5 0-12 4-2-2 0-6-2-4-49-19-26-19-29-31-10-15-67 0-39-8-6-3-14-14-4-6-6-13-6-23-6-150-1-1 0-80-28 0-2 143-1 1-3 62-9 60-3 69-16 39-8 27-6 13-41 32-50 26-50 14-100 10-98 0-1 1-95-2-29-5-36-4-41-10-9-1-42-15-53-29-4-6 2-3 3 0 14 4 15 2 26 6 16 0 8-2 7 0 16-3 42-24 8-2 22-2 5-2 0-109-218-12-8 3-4 6-3 11-1 24-1 1 1 14 13 38 3 30-2 2-19-7 0 47-1 1 0 34-1 1-321 0-20-14-27-22-7-1-1-1 4-2-10-13-20-16-10 0-22-3-35 0-1-1 0 116 1671 0zM606 767l-1 72-1 1-2 74-1 1-1 81-7 5-22 11-9 2-18 2-45-1 8 4 29 9 12 1 12 3 12 0 27 3 49 0-5-19-8-12-3-7-4-25-2-59-1-1-1-145z" fill="#0c7df1" fill-rule="evenodd"/>
<path d="M1709 1164l27 30-3-17-5-7-13-6zM866 1133l-3-2-13 1-12 5-4 4 0 2 3 2 13-1 12-5 4-4zM1835 1179l-7 4-7 1-5-4-3 0-6 3-5-5-2 0-3 3-3-4-5 4-4-4-8 5-14 18-12 10-3-1-9-9-6 7-32 27-8 0-39-8-3-2 0-4 4-7-2-9 2-33 1-3 4-3 21-6 0-6-2-4-47-18-17-11-11-9-21-22-17-22-110 1-3-3-15 0-8-8-8-19-3-14-3-27-2-103-1-1 2-126-26 0-3 159-1 1-2 45-9 61 0 18-1 1 0 15-2 1-1 34-16 39-8 27-6 13-41 32-50 26-50 14-100 10-98 0-1 1-95-2-29-5-36-4-41-10-9-1-42-15-53-29-4-3-1-6 6-1 9 3 42 8 17 1 33-6 23-15 6-6 0-117-170-10-8 4-4 10-3 27 0 14 14 41 3 32-1 1-5-3-16-5 0 47-1 1 0 34-1 1-322 0-16-11-31-25-6-1-1-1 4-2-10-13-20-16-10 0-22-3-35 0-1-1 0 116 1671 0zM624 767l-14 0-1 84-1 1 0 27-1 1 0 85-1 1 1 30-13 11-22 11-29 4-22 0 4 2 36 8 12 0 27 3 48 0-5-18-11-19-5-35 0-23-1-1 0-22-1-1 0-64-1-1z" fill="#1290ff" fill-rule="evenodd"/>
<path d="M1715 1164l19 21-1-8-5-7zM864 1133l-11-1-10 3-7 5 0 3 11 1 10-3 7-5zM1835 1179l-7 4-7 1-5-4-3 0-6 3-5-5-2 0-3 3-3-4-5 4-4-4-8 5-14 18-10 9-3 1-7-5-3 1-34 30-5 3-6 0-40-8-6-2-3-4-4 0-55 18-10-1-7-12-9-26 4-6 37-10 34-12 7 1 6 8 3-19 6-5 22-6 1-1-1-4-25-11-23-8-17-11-11-9-29-31-7-11-10 1-109 0-1-1 4-2-1-1-14 0-5 1-5 3-26 0-1-1 3-4 3-10 3-44 3-2 2-6-1-10-4-4 0-52 1-1 0-16 2-18 2-135-24 0-2 148-1 1-2 54-7 55 0 36 1 6 3 2-1 1-10 0-1 32-16 39-8 27-6 13-41 32-41 21 42-21 45-35 1 1 0 19 2 2 0 61-2 5 0 24-1 1-502 0-1-1 1-1 13 0 1-1 33 0 1-1 25 0 1-1 48-1 1-1 237-3 1-1 30-1 6-1 0-1-29-3-16 0-1-1-53-1-1-1-48-2-6-1-1-1 1-1 33-4-19 2-99 0-1 1-1-1-30 0-1-1-63-1-29-5-36-4-41-10-9-1-42-15-53-29-5-4-4-7 2-2 23 6 44 7 1-1 1 1 9-1 13-5 0-60 18-4 8-6 0-2-2-1-10 0-13 5-1-1 0-69-123-7-7 3-4 9-2 12-1 30 14 42 3 31-2 1-5-3-16-5 0 47-1 1 0 34-1 1-323 0-16-11-28-23-4-2-6 0-1-1 6-3-13-16-17-13-10 0-22-3-35 0-1-1 0 96 80 0 10 5 33 12-1 1-122 0 0 2 1671 0zM614 767l0 59-1 1 0 45-1 1 0 97 1 1 1 25-16 15-26 13-10 2-19 1 17 4 11 0 5 2 11 0 13 2 48 0-5-18-8-12-4-9-4-25-2-59-1-1-1-144z" fill="#289aff" fill-rule="evenodd"/>
<path d="M1606 1170l-1-2-5-2-15 8-25 10-19 6-35 8-34 4-44 0-13-2-4 6 0 3 4 6 22 1 1 1 41-1 31-4 38-9 5-2 7-7 40-12 4-4 2-4zM861 1133l-13 1-7 3-3 3 1 3 13-1 7-3 3-3zM801 1121l-5-1-12 3-5 4 0 2 5 1 12-3 5-4zM1612 1117l-16-14-25-28-41 18-37 10-39 4-26-1-9-2-10 1-10 4-5 4-5 9-1 11 2 10 4 8 8 9 12 8 17 2 38 0 27-3 21-4 37-11 26-11 19-10zM1434 1069l8 0 4-2-8 0zM927 1277l-36-1-1-1-45 0-1-1-35-2-14-3-2-2 3-3 35-13-1-1-40-8-42-15-58-32-5-6-21-10 6-1 31 9 18 3 1-1 1 1 13 0 1-1 2 1 0-73 9-7 1-6-4-3-6-1 0-47-82-5-5 2-2 4-4 17-1 30 14 41 2 14 0 13 2 5 3 3-2 1-10-6-16-5 0 47-1 1 0 34-1 1-325 0-38-30-10-6-13 3-16 8-23 0-4 2-32 0-2 2 0 42 2 2 89 0 29 11 37 5 15-1 4-4 1-5 2-2 51 5 69 2 1 1 42 0 1 1 42 0 1 1 118 0 1 1 88 0 22-4 31-2 1-1 96-2zM1409 993l-2 8 2 6 2 0 2-8-2-6zM1412 767l-6 0-1 115-1 1 0 29-2 18-1-1 0-96 2-16-1-9-2-3 0-38-8 0 0 127-1 1-2 74-4 31 5 17 3 5-2 12-1 58-1 10-15 37-8 27-4 8 1 2 3 0 3-4 9-29 17-42 2-71 9-61 3-64 1-1zM618 767l0 130-1 4 1 1 1 72 2 12 0 11-21 20-25 12-7 1 6 2 11 0 5 2 10 0 1 1 46 0 1-1-5-16-13-21-4-25-2-60-1-1-1-144z" fill="#5ab1ff" fill-rule="evenodd"/>
<path d="M764 1232l-16-5-48-26-42-26-20-8-2 0 0 47-1 1 0 34-1 1-326 0-41-32-6-3-17 4-12 6-9 0-4 3 0 7 4 8 13 12 16 11 16 6 12 1 3 2 18 5 14 0 20 3 4-1 4-5 6-2 10 0 1 1 15 0 16 2 79 2 1 1 241 3 11-2 1-2 0-19 2-6 6-6 31-15zM860 1135l-9-1-8 3-3 4 9 1 8-3zM784 1127l7 0 4-2 1-2-7 0-4 2zM745 1106l-3-3-4-1-7 1-8 4-4 7 3 3 4 1 7-1 8-4zM1603 1110l-25-26-9 6-23 11-22 8-23 6-39 5-24 0-23-3-10 8-2 4 0 10 5 9 5 5 6 2 51 1 26-3 28-6 33-11 35-17 8-5zM655 1049l-4 2-4 10-3 38 7 23 7 17 2 10 1 21 3 4 28 7 1-1 4 1 2-1 0-55 9-4 6-7 0-5-5-4-9 1-1-1 0-30 1-1-1-22zM647 1034l-5-18-9-13-6-4-26 24-18 8 5 2 10 0 1 1zM1401 812l-1 4 1 12 1-4z" fill="#94cbff" fill-rule="evenodd"/>
<path d="M722 1212l-22-11-42-26-22-8 0 47-1 1 0 34-1 1-329 0-42-33-7 0-15 4-9 4-3 0 0 2 5 10 6 6 19 13 36 16 10 3 15-5 6-4 0-3-4-5 1-2 15 7 13 8 15 2 98 2 1 1 205 2 1-1 13 0 4-2 0-33 2-6 4-5 23-14zM686 1147l-7-1-5 4 0 3 7 1 5-4zM857 1135l-9 1-4 2-1 3 9-1 4-2zM1566 1122l-8 2-10 5-2 3 8-2 10-5zM704 1113l-2-1-4 1-2 4 2 1 4-1zM742 1107l-5-3-6 1-6 3-3 5 5 3 6-1 6-3zM696 1073l-6-1-3 1-3 4 6 1 3-1zM655 1050l-5 8-2 7-2 35 4 13 12 28 2 11 0 15 2 3 2-1 0-118zM647 1034l-6-19-6-7-5-3-28 24-7 3 6 2z" fill="#d1e8ff" fill-rule="evenodd"/>
<path d="M327 1250l15 8 13 10 10 0 1 1 227 1 6 1 1-1 28-1 4-3 2-4 0-12zM636 1167l0 39 4-8 8-6 7-1 13 3 13 0 3-2-1-2-25-15zM847 1139l4 0 2-2-4 0zM737 1108l-5-1-4 2-1 3 5 1 4-2z" fill="#ffffff" fill-rule="evenodd"/>
<path d="M876 817l-2 6M1315 840l5 6M1289 1019l6 11M908 802l-5 17M782 845l-8 13M1252 838l4 6M1146 1009l1 5M766 807l-10 14M823 848l-6 12M1183 1027l2 7M990 861l-0 15M959 833l-1 7M1215 899l6 11M1296 960l4 6M984 958l-1 16M1201 801l4 6M1168 957l4 11M1307 792l9 9M1299 913l4 6M664 778l-6 6M1104 922l2 10M1334 886l8 9M1262 906l6 9M1311 822l6 6M1177 878l5 11M1379 816l9 8M1277 774l7 8M1202 988l5 12M1227 1006l4 8M1235 854l3 4M1067 784l3 12M1154 834l3 6M745 797l-5 6M1076 973l1 9M1162 996l3 8M1241 924l5 9M1220 997l3 7M680 830l-8 8M1088 931l2 8M1123 945l2 7M1256 822l7 9M875 823l-3 9M1084 854l2 8M668 914l-7 9M1122 934l2 6M1049 907l1 6M1055 796l2 13M1362 787l7 6M680 972l-4 6M1098 997l1 5M1015 806l0 7M1242 783l8 9M1189 875l5 11M1016 811l0 5M1306 848l5 6M1046 990l1 6M1127 904l2 8M860 859l-2 6M995 776l-0 16M1232 994l5 11M1102 805l2 6M954 792l-2 12M1150 847l3 6M1264 1021l5 9M1062 808l2 8M1021 815l0 7M1120 955l2 6M1349 852l9 9M1082 892l2 8M790 790l-4 6M832 995l-5 16M1008 951l0 6M1253 880l7 11M1308 872l6 7M1170 775l5 8M1260 798l4 4M1069 766l3 12M831 868l-3 8M701 773l-9 9M742 799l-8 10M1206 965l3 8M1144 1005l3 12M1134 938l2 7M1131 764l5 12M1143 806l3 7M1235 875l6 10M1090 995l1 6M1008 1061l0 7M1134 835l3 7M1173 840l4 8M1209 1001l3 9M1151 821l2 5M1214 960l2 5M1184 931l3 8M709 966l-5 8M993 783l-0 16M942 800l-3 16M1325 835l6 7M886 858l-4 14M997 840l-0 9M1072 998l1 9M945 913l-1 9M1209 1034l2 6M1189 998l3 9M922 858l-3 15M1067 994l1 9M1265 850l7 10M761 918l-3 6M851 920l-6 17M1177 819l3 5M1033 807l1 11M934 975l-1 9M1102 973l2 10M1069 936l2 10M787 786l-7 11M1162 905l3 7M871 925l-3 9M1273 917l4 6M1350 895l4 5M1281 784l6 7M1194 823l6 10M929 1019l-2 14M1043 1009l1 10M1157 866l2 5M1081 1012l2 13M1181 779l6 11M883 857l-5 17M1008 798l0 6M1285 956l4 6M680 911l-6 9M1050 884l2 12M1343 1026l5 9M1362 868l5 5M1103 884l2 8M1202 823l5 8M737 964l-8 14M885 964l-3 14M981 965l-1 17M1171 884l4 9M1052 849l1 10M1137 890l2 6M680 910l-7 9M937 833l-2 12M1075 898l2 12M1108 914l3 11M1204 1008l4 11M1061 887l1 7M843 930l-6 17M1225 806l6 8M796 769l-10 14M1272 812l8 9M1068 1005l1 11M724 871l-9 13M764 873l-9 14M1035 791l1 11M1319 798l6 6M776 930l-7 15M691 851l-4 5M1257 887l7 11M1275 819l6 8M877 967l-4 17M1240 1001l5 11M1056 1037l1 11M1213 828l5 8M1124 785l4 10M989 959l-0 7M1207 854l4 8M1091 988l2 13M709 919l-9 13M1151 956l4 12M1371 824l6 6M1260 776l5 5M734 946l-9 15M1325 850l7 8M1155 805l3 6M952 862l-2 15M1144 867l2 6M765 969l-5 11M1163 932l3 8M1221 877l4 8M1010 780l0 8M725 975l-8 14M1210 925l4 8M967 923l-1 7M1063 1019l1 5M915 946l-1 8M1186 1019l4 10M957 764l-1 8M1156 881l2 5M1144 924l3 10M1027 805l1 10M643 917l-8 10M1158 903l3 9M1096 960l2 10M1084 804l2 9M1023 784l1 10M1305 959l4 7M737 841l-8 11M1186 958l4 9M1367 933l5 6M769 1017l-4 9M1057 899l1 7M1199 904l5 11M958 888l-2 15M1256 887l7 11M1078 817l1 6M1140 988l3 12M1295 840l4 5M1075 814l2 8M896 836l-3 11M983 1028l-0 13M1157 783l5 9M664 787l-5 4M683 833l-5 6M1037 845l1 8M1256 768l8 9M690 779l-7 7M1313 938l7 10M1067 968l1 9M930 763l-3 12M696 935l-8 12M660 860l-12 13M942 874l-2 12M1111 939l3 11M1030 1039l0 9M678 995l-4 7M824 917l-6 14M714 998l-5 9M980 906l-0 9M1005 897l0 7M1361 786l8 7M866 954l-5 17M1018 900l0 9M869 1003l-4 16M1038 846l1 11M1180 771l3 5M1223 793l3 5M1281 884l3 4M1058 1057l1 12M853 913l-4 12M904 863l-4 16" stroke="#000a84" stroke-width="2" fill="none" stroke-linecap="butt"/>
<path d="M1253 808l5 6M794 868l-6 11M1379 778l6 4M887 848l-3 9M1281 992l4 8M991 941l-0 11M952 829l-1 7M672 838l-9 10M1282 949l4 6M1018 974l0 8M1250 971l3 5M811 876l-5 11M1161 766l4 7M815 845l-6 11M1298 1011l4 8M820 808l-3 5M770 892l-3 6M997 792l-0 12M843 819l-4 9M882 989l-3 12M1024 774l0 6M1074 834l1 4M671 1033l-3 4M667 966l-6 8M995 878l-0 6M987 866l-0 7M850 928l-3 10M684 992l-6 11M912 920l-1 6M1206 963l3 7M784 931l-4 9M913 977l-2 10M1041 804l1 4M1005 841l0 9M1203 1016l3 7M1064 910l1 8M949 994l-1 10M653 952l-6 8M720 814l-7 9M683 1010l-3 4M1072 865l2 10M649 812l-9 8M1045 769l1 9M1223 888l3 5M934 901l-2 12M775 850l-3 6M1002 839l0 5M907 870l-2 8" stroke="#1792ff" stroke-width="2" fill="none" stroke-linecap="butt"/>
<path d="M670 842l-5 6M997 972l-0 6M964 802l-1 7M1346 950l6 8M866 888l-3 10M913 899l-3 13M1118 792l3 8M685 936l-9 12M928 817l-3 13M970 850l-1 17M796 893l-4 8M941 858l-3 17M762 886l-4 7M741 941l-4 7M972 842l-1 9M655 834l-12 12M823 781l-5 9M1054 854l1 8M949 1009l-1 7M915 797l-4 15M957 855l-1 9M1345 865l7 8M784 1012l-5 12M943 797l-2 12M919 865l-3 15M781 939l-4 8M814 892l-4 10M946 1023l-1 13M755 920l-3 6M846 995l-3 11M969 792l-1 10M838 859l-4 8M1324 838l7 8M1287 772l7 7M872 910l-3 10M746 1002l-5 11M1298 1004l3 6M707 990l-6 11M760 823l-9 12M1086 941l2 12M701 860l-6 8M1102 890l3 12M683 770l-6 5M766 931l-7 13M824 991l-5 15M860 879l-3 8M988 859l-0 12M688 1010l-5 9M867 836l-3 7M887 798l-5 14M985 1016l-0 6M902 834l-4 14M705 860l-7 9M1040 996l0 5M842 937l-4 11M721 940l-8 13M1280 825l6 8M829 858l-5 11M1218 971l3 7M1319 832l6 6M667 884l-6 8M1029 1063l0 6M818 771l-7 12M789 956l-6 14M853 1008l-4 13M872 812l-5 13M675 766l-12 10M752 947l-7 13M868 842l-2 6M851 793l-7 15M799 840l-8 15M773 809l-8 11M1313 844l4 5M959 964l-1 14M813 879l-4 9M864 953l-3 9M1285 1037l5 9M644 967l-6 8M788 949l-4 10M812 894l-5 10M678 817l-10 11M1030 807l1 10M1006 766l0 12M1052 1057l1 10M847 923l-3 9M1033 862l1 7M697 946l-8 12M830 1019l-5 16M713 1028l-7 13M790 851l-7 12M801 790l-6 10M926 949l-1 7M989 785l-0 13M1257 892l4 7M1194 894l5 11M847 1026l-5 16M910 1020l-2 14M984 824l-0 8M735 794l-9 11M677 945l-5 8M801 786l-8 12M872 890l-2 8M1077 979l1 5M662 910l-8 10M1174 926l2 6M1318 892l6 8M979 977l-0 11M803 1015l-4 12M838 928l-2 7M945 810l-2 14M1012 987l0 9M1176 1016l3 8M1311 777l7 6M761 784l-4 5M838 845l-4 10M736 1017l-8 15M674 794l-10 10M1322 819l4 4M784 995l-3 7M825 875l-7 16M1208 940l3 6M913 957l-2 13M1118 880l3 9M681 1011l-6 11M694 843l-10 12M836 948l-6 17M824 963l-5 13M645 783l-10 8M998 813l-0 8M996 930l-0 15M932 796l-3 13M888 924l-3 14M847 886l-3 7M964 976l-1 13M791 862l-7 12M752 844l-9 14M1324 769l8 7M887 885l-4 15M1356 953l3 4M819 1029l-3 8M819 888l-5 12M650 909l-7 8M1272 986l3 6M882 932l-4 17M930 762l-3 14M729 832l-6 7M847 912l-3 8M1138 971l2 6M975 927l-1 9M953 835l-1 7M959 835l-2 15M698 955l-7 11M931 837l-2 10M668 850l-11 12M1031 1074l0 8M1136 764l5 11M833 910l-6 16M1090 1051l1 8M922 973l-1 8M1254 828l6 8M652 798l-11 10M732 893l-6 9M944 858l-2 13M1371 890l7 8M953 971l-1 11M1157 984l4 11M677 997l-8 12M956 879l-1 6M719 872l-5 7M917 864l-3 15M691 994l-4 6M861 853l-6 17M730 1001l-6 11M637 786l-6 5M824 1009l-2 6M1034 895l1 6M790 981l-6 14M666 924l-9 13M1232 1005l2 6M884 1011l-2 8M695 788l-4 4M937 974l-1 8M745 820l-9 11M983 843l-1 17M656 825l-4 4M983 805l-1 17M922 992l-2 14M876 823l-4 10M689 892l-5 7M645 974l-9 12M1223 931l4 8M1001 873l0 8M845 851l-6 15M1182 880l4 9M906 941l-3 16M899 1000l-2 8M838 828l-4 8M785 845l-5 9M767 954l-5 11M1263 1039l4 9M726 895l-6 9M864 899l-5 15M1242 939l4 8M919 1002l-1 6M718 931l-7 11M795 834l-4 8M941 1024l-1 8M830 991l-4 13M994 1026l-0 13M1143 911l2 6M756 885l-8 14M946 793l-3 17M899 945l-2 9M946 780l-1 7M976 921l-1 13M968 981l-0 7M749 901l-7 12M916 975l-1 7M1000 972l-0 12M817 963l-4 12M735 772l-5 6M1011 813l0 11M805 960l-3 8M852 943l-3 8M947 980l-2 17M763 910l-7 13M850 937l-3 11M682 911l-11 14M946 954l-1 11M766 788l-8 10M985 887l-1 16M891 933l-3 14M875 947l-2 9M693 846l-7 8M1309 961l7 10M738 901l-6 9M986 902l-1 15M1069 975l1 8" stroke="#000a84" stroke-width="3" fill="none" stroke-linecap="butt"/>
<path d="M1053 1003l1 10M889 883l-4 15M928 901l-2 13M1350 893l4 5M836 769l-5 8M667 1010l-9 15M741 970l-4 8M915 923l-1 6M849 780l-4 7M1139 866l3 8M835 837l-4 8M998 770l-0 12M973 879l-1 11M810 778l-9 13M711 901l-8 11M912 896l-2 8M861 946l-3 11M756 996l-3 7M902 992l-2 12M747 871l-4 6M1287 885l5 7M1206 784l5 8M874 841l-6 16M720 951l-6 9M922 994l-1 10M1312 799l5 5M822 783l-6 9M680 861l-9 11M1098 1048l2 10M676 848l-4 5M886 766l-7 17M1060 871l1 5M854 845l-4 9M1368 902l5 6M809 970l-5 14M1358 900l8 9M823 909l-4 9M1188 815l3 5M939 782l-1 7M1198 826l3 5M651 793l-6 6M873 910l-3 9M1214 801l4 7M1307 1021l6 10M687 917l-10 14M849 937l-3 10M959 827l-2 16M677 806l-10 10M1039 1023l1 10M1198 848l3 6M1152 944l3 10M949 874l-1 8M777 769l-8 11M902 879l-3 12M852 949l-4 14M926 976l-2 13M1242 819l4 6M1065 895l2 11M891 992l-3 14M1230 855l6 9M837 881l-6 15M941 962l-1 9M765 939l-5 10M698 896l-8 11M1147 1066l2 7M776 974l-5 11M1237 793l7 9M992 781l-0 14M777 895l-4 8M651 947l-9 13M813 1006l-5 14M991 932l-0 7M879 807l-5 13M981 847l-1 12M720 868l-7 10M691 972l-3 5M902 973l-3 17M805 811l-5 8M905 904l-2 11M1177 993l2 6M998 826l-0 14M866 885l-4 14M1195 956l3 6M1327 976l7 10M936 933l-2 17M743 851l-10 15M746 967l-5 9M1190 915l5 11M666 865l-8 9M936 905l-1 8M867 848l-4 12M957 980l-1 8M808 799l-4 7M677 873l-7 8M1154 926l3 9M715 1003l-7 13M922 926l-1 9M1012 791l0 12M860 785l-4 8M661 918l-7 9M1231 955l4 8M983 850l-1 15M793 801l-9 15M1067 909l1 7M969 895l-1 11M1319 804l6 6M734 976l-7 13M992 783l-0 8M975 782l-1 8M795 1023l-6 15M779 957l-4 9M913 813l-4 15M772 979l-3 6M1163 1005l2 6M1177 800l5 10M829 895l-5 13M905 984l-2 10M982 793l-1 13M959 898l-1 11M873 944l-4 16M665 835l-9 10M922 943l-3 16M807 786l-3 5M1030 1004l1 12M911 797l-3 11M702 850l-7 9M834 859l-4 10M757 844l-7 11M1377 919l6 7M996 992l-0 8M1096 763l3 9M1022 845l1 11M1095 950l2 8M747 931l-6 10M809 866l-7 15M733 833l-4 5M1222 909l4 7M1200 772l6 8M842 1027l-5 17M684 1023l-4 7M1264 1030l6 11M1185 803l5 10M661 833l-8 9M1183 947l5 12M800 938l-7 16M897 1026l-2 13M733 829l-5 7M888 863l-3 10M1219 862l6 11M998 1003l-0 17M697 999l-9 15M1332 896l6 7M1260 890l5 8M1162 908l2 5M1117 987l2 10M863 798l-3 7M697 927l-5 7M1355 844l5 6M889 920l-4 15M1370 859l4 4M1282 987l3 5M777 994l-3 7M1053 866l2 12M1092 843l2 7M1231 939l3 7M1374 796l7 6M885 1013l-1 6M1102 955l3 12M1099 907l2 9M945 777l-1 6M1317 765l7 6M1323 1021l5 8M740 1000l-7 14M715 948l-5 9M977 977l-1 17M1029 802l1 6M967 774l-2 15M1127 811l4 10M967 826l-2 17M713 825l-10 12M724 956l-3 6M885 883l-4 15M818 994l-4 12M789 845l-8 14M1177 1000l3 9M726 767l-5 5M757 844l-8 12M724 1023l-3 6M840 855l-7 16M896 833l-5 17M880 983l-3 11M1183 921l4 9M1104 812l2 8M999 886l-0 6M1028 763l1 7M1324 909l5 7M920 858l-3 14M1242 1017l3 6M986 844l-0 8M782 1029l-4 10M793 878l-6 11M1255 1010l5 10M857 849l-5 12M934 811l-2 10M756 775l-7 8M900 798l-4 14M972 784l-1 7M1365 906l3 4M770 876l-6 11M644 809l-10 9M1134 765l3 7M692 956l-8 13M835 802l-8 16M870 813l-6 14M675 859l-8 9M990 791l-0 15M725 994l-4 7M858 803l-3 7M716 873l-6 9M691 826l-9 10" stroke="#000675" stroke-width="3" fill="none" stroke-linecap="butt"/>
<path d="M683 783l-10 10M905 847l-4 15M682 877l-8 10M821 846l-7 15M968 915l-1 13M913 831l-3 13M961 841l-1 9M868 971l-4 15M678 812l-12 12M654 962l-9 13M896 958l-1 7M860 791l-7 15M907 834l-3 10M711 888l-7 10M755 1023l-4 9M981 776l-1 12M831 765l-5 9M962 801l-2 14M965 790l-2 15M716 830l-11 13M972 936l-1 9M766 956l-8 15M746 894l-7 11M669 806l-9 9M987 927l-0 13M842 833l-3 7M759 873l-6 9M667 892l-8 10M772 1012l-3 6M986 1029l-0 13M730 877l-7 11M862 785l-5 11M638 835l-6 6M947 929l-1 7M969 812l-1 9M826 1015l-4 11M665 885l-7 8M955 917l-2 15M686 991l-6 10M913 849l-4 17M882 824l-2 7M875 906l-4 15M770 789l-9 12M940 1025l-1 7M971 808l-1 16M734 844l-10 13M767 891l-7 13M860 774l-5 11M933 812l-2 12M680 905l-10 13M728 819l-6 8M725 967l-7 12M862 873l-4 12M887 867l-4 13M822 975l-3 10M807 896l-3 6M995 797l-0 14M754 884l-7 12M962 791l-2 15M723 841l-10 14M763 1008l-7 15M792 979l-4 10M981 1029l-0 11M781 823l-9 14M881 958l-2 8M934 873l-2 9M835 1003l-4 13M909 1000l-3 17M702 997l-5 9M942 890l-1 9M847 913l-5 15M782 868l-4 8M769 930l-8 15M758 934l-7 12M908 928l-2 12M829 840l-4 9M991 1000l-0 7M937 860l-2 15M711 809l-11 12M692 919l-6 9M815 866l-3 6M690 803l-6 6M717 816l-5 7M758 788l-8 10M989 919l-0 9M747 1014l-5 11M894 861l-2 9M891 947l-2 7M713 910l-4 6M645 880l-10 11M725 864l-5 7M991 1002l-0 9M782 880l-6 11M714 985l-7 13M926 863l-2 10M706 891l-9 13M703 868l-8 11M915 931l-3 15M965 926l-1 16M876 897l-4 15M719 995l-5 9M849 909l-6 16M796 827l-4 7M982 770l-1 9M964 880l-1 7M988 769l-1 18" stroke="#000675" stroke-width="4" fill="none" stroke-linecap="butt"/>
<path d="M748 933l-7 12M741 1026l-5 11M925 878l-1 8M955 1006l-1 17M761 909l-4 8M905 882l-1 6M869 978l-2 7M877 897l-5 16M1166 857l3 8M1130 1025l2 8M1286 1020l3 5M867 781l-6 13M895 923l-2 6M925 1016l-1 10M1034 907l0 6M798 893l-6 12M1057 904l1 6M1091 791l2 6M1115 998l2 8M936 834l-2 9M942 906l-1 9M1231 1033l5 11M993 934l-0 17M834 834l-5 10M833 847l-5 11M687 931l-7 9M1261 1015l5 9M1231 766l7 8M960 767l-1 9M867 929l-4 13M1084 1073l1 7M817 817l-5 9M874 1000l-4 16M1132 921l2 7M927 910l-2 14M916 803l-4 14M1259 848l6 9M1369 820l4 4M958 787l-1 8M755 819l-6 8M793 1008l-3 7M1164 866l4 9M788 786l-4 6M967 957l-1 8M834 1026l-4 14M866 909l-4 13M1291 808l9 10M949 826l-2 11M971 880l-1 14M920 939l-2 9M690 970l-9 15M793 1017l-2 6M1045 980l1 9M770 827l-4 5M734 781l-5 5M789 911l-4 9M1061 1009l1 9M719 784l-10 11M1256 990l4 7M1017 944l0 9M761 861l-4 6M678 1026l-4 7M1115 975l3 11M909 866l-2 8M771 1025l-4 10M835 925l-4 10M906 1010l-3 15M858 887l-3 10M1260 999l5 9M991 822l-0 8M814 944l-2 6M1339 938l3 5M778 1002l-6 13M959 784l-2 13M789 803l-5 8M811 988l-2 6M1137 794l5 12M1250 963l5 10M1081 887l2 11M1241 1044l4 8M795 912l-7 14M1155 883l3 7M875 944l-3 10M805 870l-4 7M1002 977l0 12M1154 807l2 5M1222 869l4 8M641 915l-7 8M984 815l-0 9M1130 810l4 9M918 763l-4 15M1064 828l2 9M1046 997l1 8M747 999l-6 11M1296 986l3 5M810 954l-3 8M1094 978l2 9M659 973l-7 10M789 817l-9 14M954 828l-2 18M776 893l-6 12M683 820l-6 6M1053 766l2 13M709 777l-5 6M1087 782l3 9M1317 775l9 9M985 895l-1 16M708 765l-13 12M910 896l-4 17M1147 794l4 8M1156 792l6 12M749 881l-6 10M1102 935l2 7M733 956l-4 8M1118 1017l3 11M834 1027l-4 13M1136 768l5 10M962 957l-1 17M824 774l-7 12M1207 805l5 8M722 814l-10 12M1205 821l5 8M780 786l-10 13M1038 810l1 10M1052 876l1 10M1140 1029l3 10M888 805l-6 17M1101 971l1 5M1081 1053l2 12M980 878l-0 8M1002 952l0 9M986 852l-0 7M1002 988l0 12M1121 854l4 12M802 992l-4 11M828 901l-5 12M764 960l-5 11M1061 990l1 11M773 854l-6 10M830 1010l-4 13M807 888l-6 12" stroke="#0741bd" stroke-width="2" fill="none" stroke-linecap="butt"/>
<path d="M989 994l-0 14M890 795l-3 9M899 1027l-3 18M982 873l-1 18M895 1005l-3 14M722 926l-6 10M701 999l-4 8M942 804l-3 16M747 879l-9 13M686 1010l-4 7M666 870l-5 6M858 932l-5 16M779 781l-5 6M910 1015l-3 15M747 947l-7 13M801 944l-3 8M849 784l-7 13M739 1023l-7 14M807 816l-8 13M699 859l-9 12M938 966l-2 12M813 933l-5 12M793 905l-6 12M743 822l-10 14M850 886l-3 9M815 904l-7 15M679 944l-5 7M727 850l-4 5M988 997l-0 13M734 887l-7 11M997 789l-0 10M838 939l-5 14M872 1011l-4 16M977 991l-0 10M797 894l-5 10M785 815l-3 5M718 915l-3 5M862 810l-5 13M811 837l-8 15M753 956l-4 8M788 971l-4 10M709 1009l-3 6M921 796l-2 9M901 912l-2 10M986 887l-0 8M702 774l-9 9M889 906l-2 7M750 1025l23 2M872 1018l9 -7M654 1028l21 5M985 999l5 -9M690 1028l21 4M651 1020l11 3M858 1019l10 -6M773 1025l16 -0M672 1036l22 6M682 1017l25 4M734 1037l14 2M758 1034l10 1M700 998l10 3M900 1004l8 -10M906 1040l13 -16M731 1024l26 4M709 995l16 4M769 1027l18 1M646 990l22 6M682 1035l14 3M733 1014l15 3M796 1044l17 -4" stroke="#0425a0" stroke-width="4" fill="none" stroke-linecap="butt"/>
<path d="M846 900l-2 6M1009 952l0 5M1262 812l5 7M1104 950l2 8M1163 988l2 7M1273 862l6 8M1125 869l2 8M1218 868l3 6M1147 1016l3 11M1100 929l3 12M1003 823l0 5M1292 991l3 6M1031 884l1 10M1238 796l7 9M793 995l-6 14M990 906l-0 14M1134 838l3 7M1342 866l4 4M739 825l-9 12M766 810l-8 11M1286 856l7 9M1031 950l1 13M1287 999l3 5M875 1016l-2 8M1048 900l1 8M1104 803l4 12M826 828l-7 14M671 1006l-7 12M1266 814l3 4M788 832l-8 14M1061 1005l1 11M1193 952l4 9M1092 792l3 10M964 1012l-1 10M1026 846l1 12M826 845l-5 11M1263 914l3 4M853 878l-3 8M1245 989l5 11M1124 963l2 9M754 908l-5 8M973 938l-1 13M1159 997l2 8M1300 913l6 9M808 969l-4 9M1141 954l3 11M1347 831l6 6M783 833l-8 14M644 818l-5 5M1267 1001l3 6M1293 766l8 8M756 798l-10 13M1247 870l5 8M1081 1021l1 7M1308 861l4 5M1375 840l5 5M1174 902l4 9M1087 1014l1 7M1145 888l3 9M1222 813l6 10M893 994l-3 16M700 840l-8 9M802 855l-8 16M825 789l-4 6M1156 834l4 9M1348 972l7 10M736 765l-10 11M1021 802l1 10M1352 794l7 6M790 968l-5 11M902 1003l-2 12M702 891l-6 8M1281 895l5 8M1236 808l6 9M1305 964l3 5M1244 1055l5 11M1184 999l3 8M1080 975l1 7M916 1003l-2 14M1263 773l7 8M959 858l-1 12M1181 909l3 7M1140 770l4 8M1191 801l4 6M1270 899l3 4M1308 841l4 5M742 807l-5 7M1239 948l6 11M1379 886l5 5M780 840l-8 13M1061 866l2 11M889 856l-4 13M964 889l-1 16M725 954l-8 13M1302 886l4 5M1230 863l5 9M1281 993l4 8M846 872l-6 16M738 865l-8 12M1040 1040l1 13M1302 889l4 5M972 1000l-1 15M1142 970l2 7M840 791l-8 15M1306 970l3 5M706 920l-4 7M874 766l-5 12M1219 831l5 8M1049 954l1 12M1083 806l1 5M719 939l-3 5M798 1014l-5 14M676 869l-7 9M670 807l-9 9M1229 897l3 6M859 985l-2 7M1341 845l6 6M979 946l-1 17M1150 811l4 8M1084 1010l1 7M717 826l-6 7M1154 976l4 12M1162 926l2 6M1114 839l3 11M641 828l-7 6M1201 807l4 7M1089 891l2 8M1205 967l3 7M863 841l-6 16M1062 765l2 11M908 787l-3 11M1315 944l6 8M992 946l-0 16M1096 844l2 6M1213 842l3 4M743 907l-5 8M849 1015l-5 16M670 863l-9 11M1214 780l3 4M959 777l-2 12M724 980l-5 9M863 844l-4 10M699 914l-5 7M1247 854l5 7M1160 977l2 5M701 768l-8 8M727 930l-4 7M1224 1064l4 10M1076 953l2 12M1085 816l1 5M1209 865l6 11M1322 940l4 5M810 903l-5 12M717 769l-6 6M726 815l-6 7M849 929l-5 14M1253 851l5 7M884 1005l-3 12M895 936l-4 16M1265 947l3 5M742 944l-4 6M1266 923l6 9M1238 849l3 5M1250 786l4 5M1260 824l6 9M674 866l-7 8M1127 777l4 9M1141 973l3 12M1085 808l2 7M800 851l-5 9M817 885l-3 6M1078 848l2 10M917 1033l-1 7M1305 949l5 7M939 839l-2 14M1159 846l2 5M815 762l-10 15M783 969l-3 8M1143 983l2 7M963 807l-2 15M1366 791l7 6M839 891l-4 11M719 782l-5 6M851 991l-4 14M1093 994l2 9M1111 964l1 5M961 1005l-1 7M1029 971l0 6M1193 1005l2 6M799 1027l-3 8M1164 858l3 8M1144 806l4 10M1054 977l1 10M706 793l-6 7M718 819l-7 9M1273 927l3 4M1158 999l2 7M878 971l-3 11M1295 878l7 10M1263 922l4 7M1265 772l4 5M865 800l-4 10M1041 878l1 8M1006 872l0 11M1140 895l4 11M736 955l-4 8M1283 864l6 9M1006 971l0 7M1088 815l3 11M807 852l-7 13M1325 947l7 11M738 991l-6 12M1353 961l5 6M1112 863l3 9M1206 902l4 9M814 876l-3 6M921 939l-2 10M847 933l-3 9M1289 813l6 7M1124 986l2 7M1182 946l2 6M1153 901l3 9M1041 1000l1 7M1115 1009l1 6M837 991l-5 16M1034 825l1 10" stroke="#000675" stroke-width="2" fill="none" stroke-linecap="butt"/>
<path d="M1003 839l0 11M1005 829l0 8M1088 879l2 8M712 928l-9 14M979 818l-1 13M1094 832l2 9M1216 943l4 8M687 778l-11 10M893 1012l-2 8M1150 976l3 9M1084 884l3 12M949 799l-1 6M1170 767l5 9M1315 787l6 6M1025 1009l1 12M1150 766l5 9M1064 909l1 6M1103 848l1 5M795 779l-9 13M746 1023l-3 7M1104 954l2 10M665 1001l-8 13M890 921l-3 14M1028 864l1 11M808 833l-4 8M1311 915l4 6M1036 847l1 10M1129 986l2 9M1003 1005l0 12M969 1025l-1 15M995 765l-0 9M1029 852l1 8M961 1018l-1 16M1325 965l6 9M1236 1001l2 5M1213 998l3 7M1309 827l7 7M1353 816l7 6M1085 864l2 10M1280 965l6 10M810 821l-9 15M1167 1012l3 11M750 958l-4 8M722 852l-8 10M967 979l-1 15M660 929l-10 13M1259 971l4 8M1214 1031l2 5M760 997l-6 13M1305 780l6 5M671 1010l-5 8M989 951l-0 12M859 923l-5 15M1234 812l3 5M1007 997l0 10M1224 966l3 6M809 872l-7 14M881 1017l-2 8M688 959l-6 9M1276 772l7 7M901 981l-2 9M1032 770l1 8M694 1028l-5 9M832 983l-6 17M691 826l-6 6M1182 897l4 8M1019 801l0 6M974 900l-1 14M1328 1042l4 7M756 870l-9 15M698 927l-8 12M999 817l-0 13M912 920l-2 12M1123 1052l2 8M1203 909l4 8M1077 1020l1 9M1199 954l4 11M1379 812l9 7M1062 1012l1 7M837 862l-5 13M802 823l-5 8M896 917l-1 6M1026 966l1 10M1236 802l8 10M1083 959l1 8M1326 959l6 8M1132 796l4 9M665 812l-5 5M1114 998l2 7M1312 1000l5 8M943 881l-3 18M1320 838l7 8M797 763l-8 11M1004 941l0 13M1030 1094l0 6M921 788l-3 13M1283 899l5 8M974 956l-1 9M1020 899l0 9M814 994l-2 7M763 846l-4 6M755 983l-3 6M942 831l-1 8M1177 962l4 10M823 845l-3 6M1081 988l1 7M1174 862l4 10M1315 966l5 8M957 869l-2 14M1264 996l3 5M1049 849l2 12M1357 880l8 9M1209 817l5 9M1149 872l3 9M857 1000l-3 9M1112 772l3 8M1007 939l0 8M747 1016l-3 7M1063 940l2 11M1010 777l0 7M1060 827l1 8M1209 990l2 5M989 967l-0 8M1021 883l1 12M1239 813l5 6M767 819l-4 6M666 782l-8 7M755 899l-3 6M866 949l-2 8M688 1007l-9 15M934 822l-2 11M941 761l-4 17M664 916l-8 10M819 825l-8 15M1178 930l4 9M950 774l-2 14M1062 987l1 7M965 827l-1 10M1322 795l9 8M896 835l-5 16M790 951l-6 13M1345 856l7 7M1284 777l4 4M986 940l-0 10M1022 872l0 6M724 791l-8 9M871 789l-4 11M1367 806l5 4M808 985l-5 14M1280 880l4 5M1112 1055l1 7M763 912l-3 6M979 803l-1 13M1320 978l4 7M1221 858l4 8M1329 894l5 6M732 774l-9 9M1207 891l5 9M1023 990l0 5M1257 828l5 7M1106 965l2 9M1250 815l7 10M684 937l-8 11M727 1014l-3 6M1303 1006l4 7M1181 983l3 10M1160 1003l3 11M780 876l-6 10M1166 925l3 9M1290 953l4 7M1146 859l4 10M1015 925l0 8M1204 843l3 5M882 823l-6 16M745 944l-7 13M1121 977l1 6M797 1026l-5 14M672 874l-11 13M946 868l-1 7M1218 837l5 8M690 992l-9 15M761 784l-11 13M1000 805l-0 6M748 832l-9 12M962 1007l-1 14M755 986l-5 11M1299 990l6 11M1031 1006l1 9M991 967l-0 7M1269 881l6 8M783 854l-4 7M777 962l-6 14M1199 899l5 10M1042 934l1 10M808 1003l-5 13M729 856l-5 7M1210 817l7 11M1197 893l5 11M1281 987l2 4M852 957l-5 16M899 983l-2 9M1200 967l4 9M929 776l-4 16M724 868l-6 8M1286 1061l6 11M1349 775l5 4M1110 1023l2 11M819 886l-7 15M1282 859l5 7M881 955l-4 16M1084 960l2 12M729 825l-8 10M866 901l-3 8M1277 765l8 9M875 791l-4 11M830 932l-6 15M990 934l-0 17M1245 1034l3 6M1267 1017l5 9" stroke="#0425a0" stroke-width="2" fill="none" stroke-linecap="butt"/>
<path d="M696 919l-9 14M987 830l-0 10M1014 848l0 12M715 1013l-7 14M681 815l-6 7M1304 795l4 5M791 903l-6 12M876 854l-5 16M867 960l-2 6M919 812l-3 12M644 883l-8 9M1108 987l2 7M1338 894l4 5M1258 1013l4 8M1066 906l1 7M863 778l-4 9M997 791l-0 10M715 1021l-3 6M1087 805l2 8M757 941l-7 14M1106 990l2 11M767 915l-7 13M688 841l-8 10M1080 910l1 5M1154 765l3 6M705 968l-8 12M1044 922l1 11M1180 892l2 5M763 839l-6 9M744 844l-5 7M752 987l-7 15M872 892l-5 16M842 987l-4 14M966 794l-2 16M1016 895l0 8M815 971l-2 6M1116 917l1 6M1265 930l4 6M772 989l-5 10M815 1021l-6 16M840 852l-3 7M1016 828l1 12M1108 961l2 8M653 785l-7 6M970 843l-1 15M730 917l-7 12M1244 766l4 4M1207 881l5 10M764 882l-8 14M906 861l-2 6M715 926l-5 8M979 909l-0 7M695 780l-6 6M1373 821l4 4M664 990l-3 5M1093 937l2 10M949 987l-1 13M1138 1002l1 6M939 974l-1 7M1083 783l2 7M1061 871l1 6M1193 989l2 5M1240 963l6 11M781 940l-6 12M1097 926l2 11M703 968l-7 11M976 962l-1 13M804 986l-2 6M1094 994l1 7M691 840l-10 12M1070 852l2 10M743 769l-9 11M871 800l-3 8M1219 772l6 8M674 920l-10 14M905 840l-2 9M1084 863l2 10M670 793l-13 12M1222 1018l4 10M830 905l-3 8M926 1024l-1 7M692 945l-10 15M749 905l-9 15M1142 1044l2 7M821 804l-3 6M1072 858l2 12M894 824l-5 16M1157 778l5 9M964 981l-1 7M1365 794l8 7M809 942l-5 12M792 1029l-3 7M1045 804l2 12M720 1024l-8 16M745 765l-4 5M694 771l-6 6M1226 914l5 9M845 1001l-3 11M1223 1000l5 11M1327 956l6 9M687 922l-7 10M1258 1068l2 5M754 885l-7 11M886 925l-3 13M684 904l-6 8M1040 952l1 12M1091 793l3 11M1094 823l3 10M1172 815l5 10M751 973l-4 8M704 831l-9 11M1214 930l6 12M798 846l-7 12M1292 921l6 9M1189 881l6 12M683 889l-6 8M912 800l-3 10M834 986l-5 17M934 925l-2 15M760 1003l-6 13M953 993l-1 6M959 819l-1 7M743 929l-6 11M954 932l-2 17M1200 971l3 7M824 767l-5 8M1129 870l4 11M839 792l-3 7M994 858l-0 14M808 1022l-3 9M914 825l-2 7M721 911l-4 6M683 865l-10 12M999 855l-0 13M831 994l-6 17M777 821l-5 8M1148 878l4 10M1011 921l0 6M714 864l-9 12M752 844l-7 11M899 830l-4 15M1099 1047l2 10M791 977l-5 13M899 811l-3 9M851 946l-4 12M932 929l-1 9M1201 873l3 6" stroke="#0851cc" stroke-width="2" fill="none" stroke-linecap="butt"/>
<path d="M1145 899l2 5M1194 940l4 9M1323 783l7 7M1375 858l4 4M686 887l-10 12M1151 800l5 11M1353 925l8 10M1317 1044l6 10M1288 978l4 7M942 785l-1 7M1346 942l5 7M1147 934l3 10M1176 880l3 6M1336 984l5 8M1308 900l7 9M900 785l-3 9M1003 792l0 13M1200 772l5 7M1379 826l6 6M1125 781l3 8M1005 778l0 12M1105 882l2 9M687 775l-5 5M1105 796l4 11M1228 872l5 9M773 863l-8 13M1260 854l7 10M865 961l-3 12M1010 934l0 10M1006 931l0 6M887 773l-2 6M1150 816l4 10M937 938l-2 16M946 848l-2 16M1131 882l2 6M1127 938l2 9M681 880l-5 6M967 825l-1 15M1280 855l3 5M793 1028l-4 10M1181 776l5 8M964 953l-0 6M1209 873l5 10M731 1008l-5 10M1073 916l2 12M1057 997l1 5M729 898l-7 11M845 884l-5 14M716 854l-9 12M920 947l-1 8M1303 878l7 9M1105 999l2 8M1347 831l7 7M717 961l-4 7M1005 819l0 7M1176 908l4 11M1311 1021l3 5M651 842l-11 12M1300 1027l5 8M1065 863l1 5M1095 770l2 6M1166 921l3 9M1027 960l1 11M1073 926l1 7M1136 972l2 8M1278 956l3 5M1086 857l2 9M940 881l-2 15M752 940l-4 8M1204 918l3 6M1232 852l5 7M1254 958l3 6M1132 867l4 11M958 1023l-1 10M846 968l-5 16M1310 946l4 6M1172 898l3 8M793 818l-7 12M894 800l-3 8M1134 862l4 10M1109 841l3 11M892 802l-4 13M1158 856l4 10M1366 958l8 10M765 778l-5 6M1187 957l3 8M1169 799l3 5M1087 958l1 8M869 901l-4 14M865 883l-4 12M837 895l-6 15M1196 865l3 6M922 1009l-1 8M1348 879l7 8M1026 795l1 11M1229 1070l5 12M802 837l-6 11M1003 768l0 9M1055 878l1 10M979 850l-1 10M1192 871l5 9M1294 864l7 9M1258 925l3 5M748 964l-7 13M871 973l-4 15M1240 1021l3 7M922 941l-1 7M653 994l-9 13M1163 960l4 11M1123 870l3 10M1307 963l3 5M688 954l-9 14M793 1011l-6 15M912 959l-1 7M668 821l-9 9M710 929l-4 6M954 996l-2 17M1335 854l8 8M1326 982l4 6M980 1019l-0 8M853 811l-7 16M692 901l-5 7M1246 982l5 11M1289 900l5 7M723 983l-9 16M1323 938l6 8M1367 776l7 6M712 928l-7 11M883 942l-4 14M758 970l-8 16M1042 860l1 7M1143 939l4 12M1371 926l8 10M820 882l-3 7M867 859l-6 16M671 967l-8 11M753 967l-3 7M1106 831l1 5M1172 883l5 12M1022 775l1 10M1312 903l4 5M1120 872l2 5M920 931l-2 11M1281 767l9 9M640 950l-10 13M1353 970l6 9M959 900l-1 14M1270 851l6 8M1074 897l2 10M834 822l-6 13M970 796l-1 6M774 940l-5 11M1074 813l2 11M1320 874l4 5M1187 1006l3 8M1063 844l1 6M953 906l-2 17M968 921l-1 17M1195 992l3 7M1145 847l3 7M838 963l-2 6M1271 963l4 7M850 801l-3 7M688 891l-5 6M1118 1009l2 9M1233 905l5 8M1363 898l7 8M958 1005l-1 9M1270 987l3 7M883 980l-1 6M686 862l-6 8M894 847l-4 13M1174 804l5 9M698 808l-12 13M1255 840l6 8M884 992l-3 15M1249 872l6 10M779 935l-4 8M1282 938l6 10M1272 1086l3 8M976 1019l-1 12M1053 840l2 13M646 967l-9 12M1367 860l5 5M720 1005l-8 15M969 790l-1 7M1369 771l5 4M675 870l-8 9M1218 853l5 8M1037 1002l0 6M1342 950l5 7M1157 1022l2 7" stroke="#021792" stroke-width="2" fill="none" stroke-linecap="butt"/>
<path d="M1096 1000l2 12M821 800l-6 11M887 911l-2 8M1054 801l1 6M1157 888l2 6M1300 814l4 4M902 845l-4 16M1011 768l1 13M887 885l-4 13M1262 854l3 5M936 779l-2 11M1164 843l4 9M1232 811l5 7M1144 1055l2 8M690 980l-7 11M916 848l-2 7M747 999l-5 11M792 768l-10 14M1083 880l3 12M979 883l-1 13M1329 895l5 6M785 871l-5 9M800 894l-6 12M795 1017l-5 12M1227 807l3 5M705 874l-4 5M1069 975l1 6M953 910l-1 12M715 886l-4 5M944 847l-1 8M859 993l-4 16M963 826l-1 12M1178 833l4 8M858 782l-4 9M747 844l-5 7M1243 1038l3 6M818 985l-2 7M857 807l-7 15M858 892l-3 10M1082 1016l1 9M1047 1014l1 8M855 984l-4 15M772 968l-8 16M933 1035l-1 6M965 807l-1 10M1096 826l3 10M1007 825l0 11M689 885l-5 7M1110 934l2 8M990 815l-0 7M868 840l-5 14M844 934l-3 8M737 824l-7 9M1176 974l4 11M1191 888l5 11M741 833l-7 10M769 872l-5 8M1133 815l3 7M857 928l-5 16M691 806l-4 5M757 768l-10 12M760 1005l-6 14M779 790l-4 6M672 953l-5 7M770 877l-4 7M756 826l-7 10M752 912l-6 10M1235 777l6 7M702 818l-11 12M960 987l-1 12M1142 1016l1 5M1301 766l8 7M1215 786l7 10M998 869l-0 6M1166 820l3 6M849 762l-7 12M791 869l-4 7M1083 820l3 11M941 878l-1 9M684 1026l19 3M668 1023l12 3M704 1016l12 3M646 1013l24 7M748 1030l11 2M782 1032l24 -1M916 1037l7 -10M961 1044l10 -16M722 1022l10 2M760 989l14 1M801 1019l21 -6M717 985l15 3M658 1029l15 2M765 1016l21 1M844 1012l18 -10M776 1006l19 -2M662 1020l18 3M668 1020l13 2M670 1019l12 2M733 1036l20 2" stroke="#0851cc" stroke-width="3" fill="none" stroke-linecap="butt"/>
<path d="M1093 788l2 8M1344 1020l3 5M853 924l-4 11M971 1028l-0 9M801 975l-4 9M1330 878l8 10M965 802l-1 7M922 803l-3 14M1116 961l2 10M991 951l-0 11M707 1005l-9 15M995 768l-0 12M792 1002l-6 14M1111 853l2 5M1042 782l1 5M982 970l-0 7M925 909l-2 12M890 950l-2 8M1214 844l6 10M928 821l-3 12M899 886l-3 13M1172 861l3 6M876 851l-2 6M1282 782l6 6M776 981l-3 7M784 1029l-3 9M839 852l-2 6M810 927l-7 16M779 926l-7 14M835 782l-8 16M869 782l-3 6M1307 821l7 8M944 996l-2 15M769 809l-6 9M1249 993l4 9M1079 974l1 8M1003 895l0 8M1080 993l1 9M745 796l-8 9M1227 962l3 7M784 938l-6 13M772 793l-10 13M750 779l-11 13M689 808l-5 5M761 923l-5 10M930 854l-3 16M1308 924l7 10M925 918l-3 15M706 1024l-8 15M950 866l-1 10M903 940l-4 17M1040 889l1 6M1110 954l2 7M1291 866l6 8M777 822l-8 13M862 904l-3 9M1033 788l1 10M805 1008l-2 6M992 966l-0 14M1190 855l4 9M1360 820l6 6M904 1030l-1 7M1204 861l4 8M906 828l-2 7M784 1026l-4 9M1090 990l2 10M1119 909l3 10M1001 929l0 9M889 795l-6 16M1075 978l1 5M1129 819l4 11M746 1015l-7 14M772 1019l-3 7M1065 968l1 5M779 1030l-4 11M692 840l-4 5M1122 772l4 10M797 897l-3 6M1049 1029l1 13M801 1006l-4 9M1033 778l1 6M1123 886l3 9M952 789l-2 11M734 779l-11 13M934 765l-3 12M724 786l-6 6M853 891l-3 8M641 964l-10 13M1139 769l3 6M668 907l-5 7M802 1010l-4 11M751 871l-4 6M700 873l-6 8M949 896l-1 9M761 850l-8 12M955 862l-2 15M938 878l-1 7M729 938l-6 11M975 797l-1 15M904 854l-3 10M895 804l-4 14M1227 898l5 9M1020 851l1 10M1295 930l7 10M991 993l-0 15M922 799l-4 16M1319 887l5 6M1356 889l7 8M848 951l-3 9M893 866l-3 12M696 788l-12 12M871 1003l-4 16M771 878l-7 13M1110 863l2 6M960 835l-1 13M845 872l-3 7M1121 1017l2 10M874 945l-2 7M1239 1050l2 5M861 862l-5 14M851 973l-2 8M833 957l-4 11M778 840l-6 10M730 862l-6 8M889 886l-3 12M1061 991l1 6M1061 771l2 9M1323 944l5 8M742 1022l-4 9M1295 803l4 4M761 811l-10 14M851 909l-3 8M712 783l-12 13M778 996l-6 13M1183 928l3 8M976 848l-1 17M1172 912l5 12M906 982l-1 7M1035 995l1 11M642 907l-11 13M753 849l-6 9M1029 859l0 6M762 1026l-6 14M669 999l-9 14M667 768l-13 11M835 917l-6 15M1242 941l5 10M1093 979l2 9M1255 980l4 7M1120 1056l2 9M1083 888l1 6M927 951l-1 6M910 790l-4 15M964 933l-1 17M995 986l-0 14M678 1028l-4 7M859 860l-3 8M724 956l-4 6M1028 803l1 8M1029 908l0 6M887 1029l-1 6M965 845l-1 7M1019 937l0 6M706 844l-8 10M859 948l-2 6M1294 997l4 8M869 1018l-3 13M900 1016l-3 16M769 919l-7 13M1266 944l4 7M927 983l-2 12M959 881l-2 18M818 1035l10 -3M735 1013l18 3M963 1035l12 -23M653 1038l12 1M711 1027l17 2M879 1048l16 -16M759 1028l17 -0M974 1039l9 -18M740 1028l16 1M943 1012l11 -19M709 1012l22 3M654 1033l17 4M890 1017l16 -16M647 1027l23 6M669 1010l23 3M767 1040l19 1M843 1026l11 -4M775 1040l20 -1M877 1030l11 -10M780 1034l22 -1M775 1023l23 -2M837 1004l20 -12" stroke="#0425a0" stroke-width="3" fill="none" stroke-linecap="butt"/>
<path d="M1281 1009l4 7M1371 978l7 10M957 936l-1 11M919 1031l-2 15M667 774l-13 11M735 935l-9 15M767 1022l-6 15M741 833l-7 10M1292 878l7 10M699 1027l-6 10M884 988l-3 12M768 891l-3 5M973 858l-1 10M895 790l-5 15M874 942l-2 8M876 845l-3 10M678 1016l-9 15M683 1019l-7 13M844 989l-2 7M1277 815l7 8M1001 926l0 11M889 819l-2 7M875 889l-3 9M985 953l-0 11M902 998l-1 6M951 981l-1 13M1240 853l3 5M840 889l-4 12M971 764l-1 14M734 882l-6 9M1175 1018l2 6M757 819l-8 11M766 893l-5 9M985 921l-0 13M1207 868l5 10M783 804l-7 10M730 927l-5 8M1315 999l6 9M918 798l-4 16M878 906l-3 11M713 858l-10 13M869 774l-3 7M1132 826l2 6M825 814l-4 7M696 890l-11 14M740 902l-5 8M813 895l-6 13M839 845l-5 12M698 804l-7 8M793 798l-8 13M948 967l-1 10M1030 975l1 11M891 906l-2 9M876 875l-2 8M1349 903l7 8M1307 963l3 4M1313 993l6 10M909 783l-5 16M1278 1073l5 11M694 958l-8 12M1198 820l4 6M919 971l-2 15M1202 1013l2 5M1287 877l6 8M708 996l-3 6M1241 920l6 10M916 1004l-2 14M663 993l-4 6M885 924l-4 16M723 799l-10 11M1014 864l0 11M856 921l-3 9M943 803l-2 14M1369 962l5 7M862 875l-3 8M716 958l-5 8M694 995l-9 15M1280 862l5 7M698 940l-4 6M1008 998l0 6M958 970l-1 7M885 926l-2 9M739 932l-6 10M880 854l-3 10M992 900l-0 15M734 960l-4 8M1131 906l2 6M700 812l-9 9M718 847l-7 9M832 1011l-3 9M1105 854l3 11M780 943l-4 9M1077 769l3 12M646 980l-5 7M1335 803l5 5M693 969l-5 8M894 939l-3 14M856 831l-4 9M1072 981l1 7M810 896l-7 16M1146 1000l2 7M1090 828l3 11M905 824l-4 16M815 777l-3 5M767 1005l-6 13M983 1015l-1 17M1135 869l3 9M701 885l-9 12M1166 874l5 12M647 860l-8 9M914 955l-2 9M815 889l-3 6M791 917l-6 13M809 810l-3 5M797 888l-6 13M1175 912l2 5M1016 961l0 6M1122 1014l2 8M1009 899l0 7M715 979l-4 6M902 857l-2 9M770 1001l-3 7M944 892l-1 7M697 940l-6 9M906 896l-2 9M888 1012l-2 12M1147 885l4 10M898 940l-3 12M1015 832l0 9M908 995l-3 16M669 803l-10 9M1202 870l3 7M1212 874l4 8M823 831l-6 11M1029 803l0 6M1015 808l0 7M778 986l-3 7M873 1009l-3 11M667 1020l-6 9M885 1015l-3 15M902 875l-2 7M1293 774l6 6M860 1026l-3 10M716 872l-8 11M1138 918l4 12M822 854l-5 11M931 795l-2 7M1290 948l3 4M972 872l-1 11M796 961l-4 9M666 1028l-9 14M831 871l-3 7M968 908l-1 15M1162 962l2 6M829 923l-3 7M1110 969l2 10M976 976l-0 8M783 986l-7 16M1153 836l5 11M1263 823l7 10M939 859l-3 17M1230 1011l2 6M1197 930l3 7M891 786l-4 13M853 933l-5 16M984 955l-1 17M807 914l-5 11M926 979l-2 13M1291 801l6 6M977 773l-1 7M731 850l-4 5M762 981l-3 6M675 916l-5 7M679 793l-9 9M846 949l-4 11M1054 768l2 11M1194 987l4 9M1074 992l1 10M730 975l-8 15M1017 979l0 8M915 926l-3 14M744 922l-7 11M841 781l-3 6M860 815l-6 13M799 787l-5 7M887 967l-4 16M939 986l-1 11M842 951l-3 8M1066 766l2 10M812 868l-7 14M873 906l-3 11M752 858l-9 14M940 788l-2 11M769 795l-6 8M1270 964l6 11M1042 908l1 8M757 928l-6 11M719 781l-9 9M774 826l-5 8M1113 979l3 12M857 841l-3 7M678 839l-4 5M951 793l-2 12M739 995l-6 13M766 884l-6 11M726 915l-6 9M884 1015l-3 12M779 991l-4 9M1324 924l5 7M790 825l-5 8M790 838l-5 9M1110 996l3 12M1035 949l1 8M1239 995l4 10M1273 1003l3 6M976 917l-1 16M803 1026l-5 13M1229 869l6 10M1302 961l5 8M814 943l-6 16M1164 794l3 5M819 840l-4 8M750 944l-5 9M746 768l-8 9M863 763l-6 12M842 826l-3 6M965 787l-2 13M863 1018l18 -15M805 993l10 -1M792 1001l19 -3M810 1030l12 -3M758 1027l23 1M917 1020l10 -13M725 997l14 3M846 1031l19 -13M764 996l17 -1M804 1024l21 -4M721 1038l23 5M828 1025l23 -9M907 1000l8 -10M961 1001l9 -21M873 1046l17 -12M703 994l23 4M655 1010l22 5M654 1019l21 5M831 1024l21 -8M746 989l12 2M648 1025l21 6M833 1014l20 -8M661 1026l19 3M657 1036l19 5M689 1022l16 5M680 1038l15 3M659 983l11 3M792 1043l25 -6M722 1008l20 2M840 1044l12 -7M704 1022l23 5M911 1043l9 -11M742 1011l21 3M670 1028l21 5M706 1023l20 5M686 1001l25 7M670 1004l10 2" stroke="#021792" stroke-width="3" fill="none" stroke-linecap="butt"/>
<path d="M723 901l-5 7M1041 1056l1 11M713 961l-5 8M920 1026l-1 9M720 950l-5 9M892 814l-2 6M1335 844l8 9M868 983l-3 11M843 977l-3 8M1056 843l1 9M949 893l-1 8M939 960l-1 6M839 855l-4 8M1097 867l2 7M849 990l-3 10M1209 767l3 5M733 785l-7 8M1018 1046l0 9M1343 814l8 8M699 869l-10 13M1199 1023l2 6M1242 1023l2 5M1324 1008l3 5M672 808l-4 4M1294 1005l5 8M972 967l-1 16M1322 841l4 4M699 787l-11 12M826 971l-3 9M890 955l-3 14M714 793l-7 7M943 956l-2 15M861 868l-2 6M835 818l-6 12M1187 1049l2 7M849 1006l-2 6M838 924l-4 12M1225 908l4 8M1113 982l2 9M1029 806l1 6M853 873l-5 13M954 881l-1 12M1226 763l7 8M1004 1034l0 7M921 1004l-1 8M1275 827l4 5M801 872l-5 10M893 948l-2 8M741 899l-8 13M878 840l-3 8M680 851l-6 7M780 934l-7 15M1060 1011l1 8M900 984l-3 17M753 1024l-3 6M1101 978l1 5M812 1017l-2 7M1296 906l3 4M1138 828l5 12M801 876l-5 9M883 767l-5 12M1292 1040l4 8M1007 844l0 10M887 793l-3 7M658 806l-6 6M1193 958l4 9M1075 816l3 12M1012 793l0 10M864 799l-7 16M693 1003l-8 14M875 767l-4 10M1271 817l6 7M1241 939l5 9M778 1001l-7 17M1285 779l7 7M1157 909l2 5M1015 908l0 7M902 763l-3 9M1017 789l0 8M1041 879l1 10M917 780l-4 15M1299 985l6 10M912 1046l14 -20M684 1014l23 5M678 1029l10 3M825 993l9 -4M967 1023l11 -19M652 1034l24 4M940 1004l10 -19M788 1029l16 -1M873 1032l10 -7M861 1039l17 -12M827 1045l21 -10M769 990l12 0M850 1021l20 -12M663 1036l24 7M694 995l23 7M744 1028l23 1M841 1010l18 -9M966 1018l8 -13M743 1020l11 2M738 1033l10 2M652 1013l20 5M863 1045l17 -13M690 993l13 2M861 1004l20 -13M766 1021l19 -1M981 1037l10 -17M974 1015l5 -14M800 1010l21 -3M878 1030l18 -16M845 1045l12 -7M828 1031l17 -6M803 1030l13 -4M783 1020l17 -1M674 1031l24 5M884 1047l14 -11M713 1033l23 6M653 1026l19 3M674 1003l23 5M911 1021l8 -11M689 1001l15 3M712 1016l17 4" stroke="#0741bd" stroke-width="3" fill="none" stroke-linecap="butt"/>
<path d="M1368 995l5 8M1214 816l5 8M1264 952l5 8M834 895l-4 10M824 777l-4 7M684 934l-5 8M1064 843l2 11M685 800l-12 13M1193 803l4 7M920 993l-1 9M890 932l-4 17M1009 948l0 5M980 818l-0 8M666 1016l-4 6M1220 1023l3 7M721 818l-11 13M805 964l-4 10M1092 983l1 7M1353 843l4 4M1002 900l0 5M748 777l-9 11M1202 766l7 10M1318 1001l4 7M782 786l-5 7M763 793l-10 13M822 917l-6 14M873 869l-5 16M764 934l-6 12M1156 815l3 7M1325 891l5 7M877 991l-4 17M1043 812l1 8M765 844l-9 15M1117 947l2 9M1239 770l7 9M1022 862l0 8M785 846l-8 13M821 1016l-4 13M1329 1025l6 10M1224 953l2 5M976 930l-1 16M946 812l-1 7M798 840l-6 11M926 1024l-1 7M770 765l-7 8M971 858l-1 8M802 926l-6 14M684 774l-8 8M785 988l-6 15M828 902l-5 12M989 934l-0 18M1006 885l0 8M881 796l-2 6M1262 815l7 8M1129 933l3 11M1116 808l3 8M808 804l-3 6M702 791l-12 12" stroke="#000266" stroke-width="3" fill="none" stroke-linecap="butt"/>
<path d="M932 931l-2 16M889 829l-4 14M945 895l-1 10M912 983l-1 6M945 766l-3 15M908 927l-3 15M753 786l-7 9M734 859l-8 12M967 962l-1 13M697 1015l-6 11M690 829l-9 10M684 988l-9 14M988 990l-0 10M827 833l-5 11M947 975l-1 10M681 984l-7 11M667 959l-6 9M806 786l-8 13M826 891l-5 12M963 903l-1 9M928 869l-3 17M830 980l-4 12M814 980l-6 17M723 827l-10 12M855 965l-4 12M919 918l-3 14M688 983l-9 14M721 945l-5 8M740 954l-5 8M860 902l-6 17M798 774l-5 7M985 819l-1 14M695 929l-5 7M779 872l-7 13M852 876l-4 10M760 790l-8 10M714 896l-10 15M807 895l-3 6M786 822l-5 8M790 878l-6 12M936 951l-1 9M880 915l-2 8M931 897l-1 8M833 1020l-2 7M681 821l-7 7M698 999l-4 7M721 883l-10 15M701 853l-10 12M737 899l-10 15M813 984l-4 12M767 1008l-5 11M909 817l-4 15M925 1007l-3 18M708 1016l-6 11M867 969l-4 15M764 924l-5 10M747 1012l-4 9M880 1025l-3 15M773 815l-9 14M707 884l-8 11M949 815l-2 15M684 903l-9 12M927 817l-3 14M864 794l-3 6M889 816l-2 6M947 910l-2 15M891 1014l-3 17M661 815l-12 11M825 835l-6 11M744 925l-8 14M672 933l-7 10M728 941l-6 10M696 831l-8 9M806 896l-6 14M669 991l-6 9M830 932l-4 10M994 805l-0 9M809 993l-6 15M907 854l-2 9M753 1015l-5 11M975 928l-0 8M978 994l-1 14M869 1012l-4 15M667 857l-11 13M670 865l-8 10M946 797l-1 8M903 1002l-3 15M856 967l-2 8M674 935l-4 6M860 1015l-3 11M788 846l-5 9M804 971l-5 13M707 791l-6 6M862 890l-3 9" stroke="#000a84" stroke-width="4" fill="none" stroke-linecap="butt"/>
<path d="M1161 900l2 6M1099 811l2 7M856 1016l-3 12M854 882l-3 8M763 763l-8 9M985 823l-0 6M1367 924l5 6M1380 870l3 3M961 794l-1 6M712 855l-5 7M1246 799l6 8M999 823l-0 12M1067 946l1 10M677 997l-6 10M937 795l-2 8M990 894l-0 9M702 834l-7 8M1066 977l1 10M1260 772l7 7M1375 908l6 6M851 779l-4 7M886 970l-1 6M1053 990l1 7M1113 818l3 9M952 994l-1 9M966 977l-0 7M1254 1006l3 6M732 899l-4 6M803 814l-5 9M1128 1026l2 7M939 935l-1 5" stroke="#0b74ea" stroke-width="2" fill="none" stroke-linecap="butt"/>
<path d="M1363 802l4 4M1019 938l0 7M1280 923l5 8M990 841l-1 18M787 765l-7 9M976 836l-0 6M984 867l-0 7M821 799l-4 8M1158 850l4 9M954 761l-3 18M731 770l-6 7M916 1000l-3 17M1319 966l6 9M806 905l-6 13M698 825l-4 5M1364 1004l4 6M1252 962l3 6M1256 1026l3 6M1008 802l0 9M847 875l-6 17M1269 965l4 8M1243 938l5 10M785 860l-6 11M906 840l-3 13M989 981l-0 11M668 860l-9 10M1066 1016l1 6M996 988l-0 9M934 809l-2 10M852 986l-4 13M840 945l-4 12M693 923l-4 5M810 814l-3 5M848 776l-6 11M760 943l-5 9M843 801l-5 10M748 873l-4 6M729 899l-5 8M693 877l-7 9M736 1029l-6 12M1254 995l2 5M771 1026l-5 11M1195 1036l3 7M783 1014l-4 11M801 794l-8 12M955 931l-1 15M942 966l-1 8M1337 1009l4 7M1144 821l2 5M860 815l-3 6M926 875l-2 13M750 936l-5 9M985 845l-1 17M1025 848l1 9M896 791l-5 14M798 978l-3 7M949 917l-1 9M913 768l-4 12M1296 910l4 6M1174 1036l2 7M1186 799l3 5M749 829l-7 9M671 966l-6 9M721 921l-7 11M994 818l-0 7M1283 1070l2 5M737 950l-6 11M1003 770l0 10M1178 893l2 5M753 944l-4 8M1047 1015l1 8M1250 972l3 7M683 953l-9 14M931 765l-2 8M1230 843l3 4M742 765l-10 12M911 816l-3 12M742 857l-10 14M897 804l-2 8M1275 990l2 4M1015 957l0 7M740 859l-8 12M888 814l-2 6M807 859l-4 9M1057 981l1 11M756 772l-10 12M968 974l-1 10M1115 937l3 11M931 1014l-2 13M1132 953l2 7M827 948l-4 11M765 940l-3 6M1054 970l1 9M1269 923l5 8M707 827l-11 13M926 838l-2 10M1174 771l3 4M673 779l-8 8M798 1015l-3 9M1257 867l7 10M1254 1024l3 5M904 849l-4 15M764 779l-7 9M789 879l-6 12M838 1006l-4 13M933 1005l-1 7M1181 864l3 6M922 875l-3 15M689 1014l-5 9M803 843l-7 12M939 881l-2 15M771 827l-4 6M824 1018l-5 17M851 1007l-3 11M864 874l-3 7M979 939l-0 11M782 907l-4 8M655 910l-10 13M998 970l-0 7M1042 850l1 12M1352 917l7 8M1160 772l6 11M793 1016l-3 7M821 773l-9 15M878 1020l-2 10M863 925l-3 10M1098 1001l2 9M1056 1011l1 9M1158 808l4 7M776 925l-4 7M758 770l-11 13M694 939l-7 11M749 1026l-4 8M1151 952l4 11M1317 1054l4 8M775 1015l-6 15M982 827l-1 12M1156 1024l3 11M678 858l-5 6M980 827l-1 10M1061 953l1 8M1283 946l4 7M1152 975l3 9M704 855l-11 13M969 852l-1 7M1104 875l3 12M812 966l-6 17M688 824l-8 9M1041 912l1 6M1308 1036l2 4M729 832l-11 14M1236 807l6 9M1011 1013l0 9M654 843l-5 6M1093 890l2 10M1247 935l4 8M999 966l-0 11M781 854l-7 12M748 912l-6 9M855 991l-3 11M999 856l-0 18M935 1033l-1 9M852 837l-5 13M998 890l-0 14M849 895l-2 6M857 1015l-4 13" stroke="#0533af" stroke-width="2" fill="none" stroke-linecap="butt"/>
<path d="M674 998l-5 8M925 889l-1 8M652 903l-5 6M1307 988l4 6M1143 821l3 7M1117 799l3 9M1118 919l2 9M930 910l-2 13M1003 967l0 10M971 996l-0 7M739 924l-7 12M725 889l-7 10M885 922l-2 7M748 940l-4 7M1227 788l6 8M902 987l-2 11M989 811l-0 8M1273 838l3 4M736 966l-3 6M1033 1055l1 10M674 970l-4 6" stroke="#1792ff" stroke-width="3" fill="none" stroke-linecap="butt"/>
<path d="M961 871l-2 15M905 960l-2 12M877 765l-3 7M994 824l-0 14M665 872l-5 5M893 773l-2 6M697 805l-9 10M896 829l-2 7M830 889l-4 9M717 965l-6 11M963 927l-1 14M915 806l-3 11M801 883l-3 6M779 813l-7 11" stroke="#000266" stroke-width="4" fill="none" stroke-linecap="butt"/>
<path d="M837 851l-4 8M911 847l-2 6M1245 1063l3 7M963 983l-0 5M824 903l-2 6M1123 860l3 9M1302 926l4 6M729 812l-5 6M834 926l-4 11M887 904l-2 8M1277 1002l5 9M1068 887l1 5M722 919l-5 8M1089 1087l1 7M941 820l-2 14M1020 911l0 10M1087 996l2 10M1000 956l-0 5M1000 990l0 5M752 785l-9 11M699 952l-5 8M848 965l-4 12M975 766l-1 10M1371 844l6 6M1075 1022l1 9" stroke="#289aff" stroke-width="2" fill="none" stroke-linecap="butt"/>
<path d="M730 912l-7 11M961 1033l-1 8M657 881l-7 8M723 813l-4 4M1229 794l5 7M687 1012l-4 6M963 987l-0 6M1070 942l1 6M973 769l-1 9M1281 772l4 4M663 884l-4 5M677 787l-4 4M884 772l-3 8M781 900l-6 12M731 926l-3 6M1188 869l3 5M1098 892l2 9M663 1002l-6 10M760 843l-6 8M865 907l-3 10M701 785l-5 5M949 904l-2 13M840 824l-6 13M1059 949l1 10M782 831l-3 5M936 1022l-2 13M1063 861l2 10M1141 786l2 5M808 808l-4 7M927 857l-1 7M1175 851l2 5M1268 847l4 5M745 1024l-3 7M1313 955l5 8M1055 979l1 8M963 806l-1 7M890 1020l-2 9M969 879l-0 6M1110 836l2 6M749 819l-5 7M922 1028l-1 5M886 793l-3 9M766 836l-6 9M858 894l-5 14M756 828l-8 12M763 1017l-6 12M910 1028l-2 14M1224 809l5 7M1283 942l3 5" stroke="#0d85f8" stroke-width="2" fill="none" stroke-linecap="butt"/>
<path d="M777 893l-3 6M985 957l-1 18M858 967l-4 15M898 946l-3 13M700 865l-7 9M875 889l-3 11M675 1002l-6 10M812 884l-3 7M806 871l-8 16M740 971l-4 8M872 1028l-3 13M885 857l-3 8M685 794l-6 6M958 900l-1 10M941 1023l-2 17M920 855l-3 16M712 1026l-5 9M661 775l-13 11M851 852l-5 11M879 829l-5 14M780 795l-7 10M766 882l-9 16M650 903l-8 10M735 887l-8 12M784 769l-8 10M924 834l-3 13M919 1015l-1 9M773 910l-7 12M683 767l-7 7M867 801l-5 11M812 869l-4 8M895 869l-4 15M651 984l-10 14M673 854l-4 5M890 884l-3 12M884 1020l-2 11M931 957l-1 8M830 907l-5 13M879 1030l-3 14M710 1020l-4 8M923 862l-2 9M894 1008l-2 12M842 812l-4 9M857 876l-3 7M880 987l-3 11M977 843l-1 9M973 913l-1 12M708 916l-9 14M803 804l-6 10M908 981l-2 10M855 966l-3 10M828 1005l-5 14M856 775l-6 11M669 800l-8 7M961 832l-2 16M663 981l-7 10M749 848l-5 7M913 767l-4 14M837 800l-7 14M767 857l-5 8M787 777l-7 10M970 977l-1 11M743 971l-8 15M841 1007l-3 10M798 860l-4 8M737 779l-9 10M920 812l-3 13M703 940l-10 15M898 922l-4 17M797 944l-6 13M707 987l-7 13M916 992l-2 12M740 992l-7 13M666 1015l-3 6M689 890l-7 9M840 1024l-4 15M850 824l-3 6M744 946l-5 10M736 1023l-7 15M938 899l-1 6M866 1015l11 -7M767 1040l13 -0M951 1039l11 -22M817 1000l14 -3M742 1006l17 2M872 1037l10 -7M790 1007l24 -5M955 1035l8 -13M773 1035l12 -0M938 1033l8 -16M719 1004l25 2M888 1041l10 -9M662 1026l12 3M687 1011l13 2M671 992l14 3M905 1033l13 -16M780 1014l10 -1M688 1008l14 3M744 1039l24 1M752 1022l16 2M791 1024l25 -4M935 1034l9 -15M979 1039l6 -11" stroke="#021792" stroke-width="4" fill="none" stroke-linecap="butt"/>
<path d="M1304 810l7 8M1224 901l4 8M1104 1049l1 6M877 874l-5 16M897 760l-5 14M1065 1017l1 7M1263 872l4 5M1208 809l4 6M1301 944l7 10M1170 803l5 9M1286 1006l6 11M990 1021l-0 17M1302 933l3 5M1021 860l1 12M862 872l-5 13M1202 860l4 8M722 972l-6 11M1299 829l4 5M957 819l-2 13M901 955l-2 8M1064 982l1 6M853 925l-4 12M1143 878l3 10M1107 774l3 9M1015 914l0 8M1231 969l6 12M1001 984l0 8M1344 970l6 9M972 937l-1 11M1222 908l5 9M1110 957l1 6M1312 858l7 8M1283 971l4 7M1079 918l1 7M1248 851l5 7M717 897l-7 11M811 819l-8 14M1303 1043l5 10M1055 948l1 9M1119 850l2 7M1345 994l5 8M750 843l-5 7M1224 1089l3 9M648 964l-8 11M816 841l-8 16M1311 900l7 9M1021 859l0 7M675 887l-7 9M937 924l-2 16M1343 957l7 10M1207 871l4 7M1177 962l2 6M1197 1004l4 12" stroke="#000266" stroke-width="2" fill="none" stroke-linecap="butt"/>
<path d="M921 852l-1 5M999 790l-0 6M1137 1026l2 9M784 764l-5 7M1302 927l3 4M764 874l-7 11M1000 912l-0 12M810 913l-5 12M978 809l-1 9M1097 853l2 7M1005 979l0 7M698 863l-8 10M1128 942l2 6M1079 873l2 9M694 1009l-3 5M895 850l-2 8" stroke="#289aff" stroke-width="3" fill="none" stroke-linecap="butt"/>
<path d="M907 1027l-1 8M1226 924l5 10M902 888l-3 14M852 918l-4 13M1241 887l5 8M940 962l-1 9M1139 1002l2 6M1252 906l5 9M934 935l-2 16M761 909l-8 14M738 955l-8 15M886 808l-3 9M1220 1018l3 6M789 827l-6 10M803 875l-4 8M1333 853l6 7M972 912l-1 15M996 1030l-0 10M1041 881l1 8M1146 953l2 5M1295 1031l5 9M677 973l-8 12M1129 867l3 10M710 881l-6 8M1191 963l3 9M698 772l-13 13M1144 770l5 10M673 994l-7 11M642 786l-8 7M673 1008l-8 13M727 801l-11 13M1363 851l9 9M667 793l-11 10M1188 890l5 11M671 863l-10 12M990 771l-1 15M1143 831l3 8M919 773l-2 6M953 817l-1 11M1230 919l6 11M690 871l-10 13M669 948l-5 7M1317 862l8 9M1074 1073l1 5M804 926l-5 12M1205 839l3 5M821 999l-4 10M729 930l-4 7M673 970l-7 10M860 982l-3 11M1020 1071l0 9M860 779l-5 10M1148 913l3 8M1201 855l5 9M1201 998l3 7M1186 830l4 7M811 956l-5 12M1098 803l2 6M689 944l-9 13M926 880l-3 17M670 860l-6 7M903 873l-4 16M810 799l-5 8M919 933l-2 11M1179 1057l2 7M887 881l-3 11M977 1034l-0 7M743 1022l-6 12M1193 857l5 9M1230 957l3 5M888 1038l15 -15M892 1042l19 -17M719 1003l20 3M690 1012l10 3M905 1000l16 -18M894 1029l15 -16M931 1044l7 -13M737 1013l21 2M678 1032l10 2M836 1043l23 -11M913 1042l10 -14M688 1037l12 3M757 1019l10 0M877 1041l18 -17M811 1019l13 -3M698 1016l15 4M733 993l23 3M899 1042l8 -9M964 1049l11 -19M767 1004l22 -1M888 1039l10 -8M914 987l15 -20M761 1000l16 2M916 1021l9 -12M774 1036l17 0" stroke="#0533af" stroke-width="3" fill="none" stroke-linecap="butt"/>
<path d="M975 908l-1 13M1276 887l4 6M937 1007l-2 13M1234 872l3 5M673 1030l-6 10M825 857l-6 13M869 907l-2 7M977 846l-1 8M966 828l-1 8M665 1037l18 6M706 1016l24 4M647 1013l23 3M670 1037l18 3M933 1032l12 -22M703 1016l17 4M650 1019l13 2M646 1019l21 4M870 1030l19 -17M781 1011l20 -1M692 1022l22 6M996 1004l7 -18M884 1034l17 -16M648 1009l16 3M848 988l10 -4M956 1028l6 -12M820 1041l24 -7M818 1022l19 -6M655 1003l25 7M781 1005l14 -1M993 989l5 -10M970 1036l5 -11M899 1032l11 -12M688 1040l20 4M836 1044l14 -5M832 1016l23 -10M706 1025l24 5M653 977l23 4M785 1034l24 -2M752 1000l13 -0M674 1017l13 3M649 1031l14 4M909 1034l7 -8" stroke="#0b74ea" stroke-width="3" fill="none" stroke-linecap="butt"/>
<path d="M1171 896l3 8M790 797l-7 10M1167 765l3 6M785 828l-3 5M1149 821l3 7M1037 810l1 8M819 1007l-3 8M712 894l-5 7M764 1005l-5 11M1196 868l3 6M917 962l-2 9M833 952l-2 6M813 942l-2 5M902 993l-1 7M1093 842l1 4M798 1026l-4 10M1346 793l5 4M940 878l-1 6M966 904l-1 10M1314 903l5 7M1184 1059l2 5M852 777l-4 8M925 801l-3 11M846 1003l-4 14M936 988l-1 7M984 766l-1 9M1231 836l6 9M1250 944l4 7M884 863l-3 11M691 1032l24 6M712 1015l24 6M889 1023l8 -8M670 1017l24 5M752 1025l16 0M670 1026l20 4M713 1018l20 2M893 1029l9 -7M810 1018l15 -4M733 1037l23 4M895 1015l13 -14" stroke="#0d85f8" stroke-width="3" fill="none" stroke-linecap="butt"/>
<path d="M798 1005l16 -2M835 1005l15 -6M885 1027l13 -11M762 1042l14 1M719 1032l23 5M657 1034l25 5M891 1046l10 -10M801 1001l12 -3M997 1041l6 -13M826 1020l23 -9M806 1021l25 -5M696 1036l11 3M738 1017l15 1M661 1012l16 3M818 1036l14 -6M811 1036l18 -4" stroke="#0533af" stroke-width="4" fill="none" stroke-linecap="butt"/>
<path d="M706 1016l23 5M675 1000l20 4M745 1027l16 2M731 1008l16 4M724 1005l19 2M878 1044l14 -11M809 1019l14 -3M647 1008l23 4M732 1037l22 4M721 1028l12 1M833 1033l22 -9M691 1032l12 2M823 1011l20 -6M805 1016l14 -4M707 1024l24 5M931 1011l12 -18M747 1015l11 2M719 1040l10 2M747 1026l12 2M957 1052l13 -22M827 1031l24 -10M910 1004l8 -12M892 1048l17 -16M979 1023l12 -21M658 1037l25 4M866 1017l12 -9" stroke="#0963db" stroke-width="3" fill="none" stroke-linecap="butt"/>
<path d="M904 1038l13 -15M712 1009l21 5M775 983l20 -1M727 1030l11 2M839 1040l16 -8M789 1029l12 -1M799 1034l22 -5M835 1034l23 -10M738 1015l12 2M726 1017l15 4M704 1014l25 3M700 1023l13 2M960 1039l4 -9M737 1040l13 2M713 1022l12 3M741 1008l14 3M658 1030l17 3M831 1044l13 -5" stroke="#0b74ea" stroke-width="4" fill="none" stroke-linecap="butt"/>
<path d="M983 1042l5 -13M684 1007l18 3M846 1002l14 -6M848 1042l21 -12M733 1027l24 4M862 1042l18 -11M669 1028l14 4M731 1028l24 5M867 1045l17 -14M971 1022l4 -10" stroke="#0741bd" stroke-width="4" fill="none" stroke-linecap="butt"/>
<path d="M860 1026l17 -13M993 1044l8 -17M739 989l24 1M678 1017l14 3M756 1038l17 1M680 1035l15 4M929 1004l7 -11M721 1008l13 2M728 1013l13 3" stroke="#0851cc" stroke-width="4" fill="none" stroke-linecap="butt"/>
<path d="M670 1009l21 3M902 991l15 -20M758 990l15 1M808 1033l16 -5M682 1014l24 6M684 1034l10 2M810 1027l19 -6M932 1030l10 -16M666 990l25 5M674 1032l20 3" stroke="#0963db" stroke-width="4" fill="none" stroke-linecap="butt"/>
<path d="M930 1032l11 -15M764 1029l24 -1M698 998l21 6M653 1030l23 5M924 1017l10 -15M800 1004l21 -4M706 985l23 4" stroke="#0d85f8" stroke-width="4" fill="none" stroke-linecap="butt"/>
<clipPath id="clb"><polygon points="545.0,767.0 539.0,833.0 525.0,900.0 511.0,968.0 495.0,994.0 483.0,1012.0 510.0,1022.0 535.0,1029.0 560.0,1033.0 600.0,1036.0 650.0,1037.0 650.0,1037.0 643.0,1015.0 634.0,1000.0 629.0,968.0 626.0,900.0 625.0,767.0"/></clipPath>
<g clip-path="url(#clb)"><path d="M580 914l27 3M570 1015l36 5M600 799l23 4M554 994l55 11M600 921l30 5M575 960l42 5M580 791l39 4M517 1005l37 7M569 901l58 7M560 969l50 5M576 806l35 5M586 956l53 7M580 894l31 5M577 1010l23 3M577 955l29 4M594 997l23 5M487 1007l43 6M584 816l52 8M577 780l36 8M587 838l25 2M572 931l39 6M578 1009l28 6M536 1025l23 2M563 892l56 9M592 864l31 5M578 991l35 6M565 981l49 6M610 837l32 4M584 790l28 5M517 1003l57 8M613 920l27 3M551 1019l26 4" stroke="#0b74ea" stroke-width="2" fill="none" stroke-linecap="butt"/>
<path d="M535 927l32 4M508 983l57 8M545 764l54 7M491 990l31 6M525 896l24 4M529 925l38 5M509 969l29 6M520 946l37 4M517 789l58 10M519 942l53 6M519 915l25 4M528 920l36 3M526 955l23 5M531 785l52 8M541 919l24 5M540 770l41 7M546 795l29 4M490 990l26 4M503 980l52 9M539 873l29 4M540 767l49 6M534 820l32 4M517 961l47 7M521 907l47 10M515 923l44 4" stroke="#000266" stroke-width="2" fill="none" stroke-linecap="butt"/>
<path d="M588 846l43 8M604 889l39 8M583 931l42 7M590 989l27 6M596 966l24 2M564 1025l45 6M578 897l49 5M610 820l28 4M592 921l22 3M597 913l48 6M597 891l50 9M549 1005l54 11M608 797l32 6M568 1011l51 6M579 874l53 9M574 1025l46 4M577 1018l58 11M607 903l24 2M576 941l53 11" stroke="#289aff" stroke-width="2" fill="none" stroke-linecap="butt"/>
<path d="M582 825l37 7M577 856l48 7M573 952l36 5M509 1007l48 9M560 851l31 4M576 939l27 4M566 870l22 3M531 982l39 4M519 984l55 10M589 774l25 2M544 893l32 5M573 770l24 4M579 988l20 3M563 800l44 6M565 923l22 4M581 864l41 6M553 850l48 7M569 797l29 4M490 1015l21 3M549 925l45 9M568 993l39 7M564 910l56 5M583 966l28 3M553 924l39 5M563 841l20 3M559 852l32 5M553 957l40 8M557 916l41 8M531 972l55 7M558 808l26 3M563 819l26 3M575 959l41 7M556 897l37 8M473 995l45 6M537 928l43 9M545 948l46 6M572 902l46 6" stroke="#0741bd" stroke-width="2" fill="none" stroke-linecap="butt"/>
<path d="M593 789l27 5M608 873l25 5M596 771l25 4M590 878l50 11M568 1029l21 3M588 771l41 8M490 1015l44 7M615 961l20 3M607 930l36 4M596 881l59 6M585 912l38 4M595 891l48 7M608 919l28 3M599 920l48 6M575 985l48 8M496 1016l41 9M604 947l26 5" stroke="#1792ff" stroke-width="2" fill="none" stroke-linecap="butt"/>
<path d="M477 1000l27 3M526 770l37 7" stroke="#00000c" stroke-width="2" fill="none" stroke-linecap="butt"/>
<path d="M554 1000l34 6M579 930l24 3M582 945l25 2M563 898l58 7M545 850l39 5M553 856l42 8M545 936l41 4M543 842l30 6M499 990l36 7M580 857l24 3M538 969l35 5M554 850l28 6M561 874l20 3M565 866l54 11M573 888l36 4M518 968l38 4M603 907l48 6M560 938l51 10M543 930l24 5M541 947l25 4M563 942l39 4M579 918l24 4M549 914l45 8M543 966l37 7M568 876l46 8M580 941l23 3M489 988l39 6M577 798l51 9M530 888l58 12M492 985l40 5M581 884l22 4" stroke="#0533af" stroke-width="3" fill="none" stroke-linecap="butt"/>
<path d="M550 821l40 6M528 963l46 7M542 901l50 8M516 906l25 3M535 874l58 10M494 965l43 5M538 931l39 6M532 942l50 5M535 960l45 5M546 793l34 7M528 891l52 11M565 822l24 4M537 877l44 8M497 949l44 9M534 936l23 3M545 796l50 7M527 766l41 8M539 883l55 8M536 853l33 6M541 765l58 8M542 872l35 4M537 855l59 9M545 901l28 6M549 765l39 8M546 885l27 5M524 986l59 10" stroke="#000675" stroke-width="3" fill="none" stroke-linecap="butt"/>
<path d="M532 882l58 7M544 790l36 4M535 894l40 6M606 807l40 5M580 790l33 4M535 926l40 6M551 828l35 4M562 907l55 6M521 931l44 8M526 923l41 6M537 866l35 6M580 784l27 2M545 805l35 7M537 799l40 8M549 771l39 8M558 938l56 8M529 957l37 6M612 932l32 3M542 998l40 5M552 988l44 6M556 961l45 6M537 1005l23 4M583 787l23 4M542 993l55 9M560 865l54 11M515 977l47 8M521 859l41 6M536 850l27 5M509 972l33 4M537 840l35 5M567 952l37 8M581 844l28 3M476 1005l44 6M542 780l54 8M562 924l52 5M547 857l25 5M564 955l38 8" stroke="#0425a0" stroke-width="3" fill="none" stroke-linecap="butt"/>
<path d="M521 936l50 8M536 968l56 9M568 875l53 7M570 961l44 9M613 984l38 3M575 877l36 4M560 995l54 9M567 969l48 9M531 957l30 3M545 854l40 6M536 924l28 3M568 783l21 3M507 988l25 3M523 947l49 6M569 772l57 12M576 905l26 4M580 951l30 3M552 831l53 9M545 813l58 8M539 923l28 3M545 996l56 8M537 908l44 7M552 776l56 12M565 987l53 6M525 961l34 6M558 900l22 2M561 976l44 6M552 966l30 6M588 817l24 3" stroke="#0533af" stroke-width="2" fill="none" stroke-linecap="butt"/>
<path d="M534 806l41 7M527 815l48 7M511 960l45 9M528 825l54 7M487 985l39 4M535 849l26 5M523 850l53 6M522 958l25 5M522 844l51 9M519 842l49 5M513 932l46 5M506 949l56 6M518 967l32 3M515 928l56 6M507 909l55 5" stroke="#000056" stroke-width="2" fill="none" stroke-linecap="butt"/>
<path d="M553 778l30 5M539 891l31 5M564 861l39 6M541 810l39 8M518 916l45 9M539 885l30 3M527 980l34 4M542 777l46 5M527 906l33 4M545 810l20 2M559 956l56 10M567 895l28 6M516 940l46 9M530 948l34 5M543 863l30 5M549 788l33 4M561 886l47 7M541 873l25 4M559 992l23 4M528 935l55 11M551 989l44 7M509 922l50 7M477 986l53 9M571 888l40 6M545 884l20 3M570 985l26 5M549 990l53 10M504 986l54 6M565 872l52 6M536 782l41 7M543 792l42 4M530 945l41 6M524 849l54 8M517 927l55 6M565 830l45 7" stroke="#0425a0" stroke-width="2" fill="none" stroke-linecap="butt"/>
<path d="M537 920l42 6M528 938l51 6M532 971l49 7M517 881l31 4M542 890l34 7M556 815l29 4M539 958l48 8M539 819l50 8M532 834l21 3M545 779l31 6M529 914l47 5M533 866l59 10M541 774l56 6M559 767l30 4M526 947l35 7M540 841l40 7M547 830l37 4M525 898l48 6M531 983l46 10M529 890l48 6M533 940l24 2M535 873l31 5M531 947l27 3M564 776l22 4M520 913l50 7" stroke="#000675" stroke-width="2" fill="none" stroke-linecap="butt"/>
<path d="M514 952l32 5M533 986l58 8M567 965l31 3M515 910l49 6M513 904l45 8M554 795l50 10M545 909l57 10M488 998l32 5M484 994l44 4M500 997l49 5M526 870l49 8M572 851l21 2M538 990l37 7M505 893l59 9M545 984l49 5M563 811l44 5M520 907l39 7M527 896l32 5M520 999l32 3M527 826l59 9M523 989l53 11M534 767l59 9M565 956l24 3M529 922l30 3M519 992l50 7M531 766l54 5M545 855l20 4M536 994l21 4M565 886l40 5M538 989l56 10M535 868l39 6M565 782l52 5M517 946l24 4M523 811l55 9M552 956l55 11M511 901l41 6M528 904l33 4M600 835l53 6" stroke="#021792" stroke-width="3" fill="none" stroke-linecap="butt"/>
<path d="M569 780l24 5M545 974l30 3M547 876l34 5M531 903l57 8M540 927l27 4M553 910l34 5M562 826l20 2M551 776l50 10M543 905l42 5M539 958l48 6M491 984l23 3M558 824l32 5M531 963l57 7M546 859l53 7M547 921l55 11M532 986l21 4M526 1027l34 6M504 949l33 5M547 984l20 2M529 888l51 7M547 859l54 9M562 766l40 6M539 972l33 3M539 881l56 9M502 977l25 3M530 912l53 9M561 842l34 7M568 835l33 4M548 959l40 7" stroke="#000a84" stroke-width="3" fill="none" stroke-linecap="butt"/>
<path d="M515 871l36 4M495 946l45 7" stroke="#00002b" stroke-width="2" fill="none" stroke-linecap="butt"/>
<path d="M593 980l27 3M591 991l21 3M601 854l41 5M602 988l42 4M601 974l44 6M514 1022l43 6M514 1022l55 7M557 1015l23 2M614 828l21 4M521 1022l35 6M521 1023l21 4M582 841l54 7M589 1007l56 7M582 911l53 9M567 999l59 8" stroke="#289aff" stroke-width="3" fill="none" stroke-linecap="butt"/>
<path d="M549 855l24 3M524 880l55 7M518 915l42 8M518 978l23 3M508 938l56 9M526 906l29 3M484 987l37 7M541 776l48 7M487 964l52 11M538 828l32 3M527 971l41 5M539 768l46 6M513 933l57 10M529 956l31 5M523 928l47 6M528 840l40 6M514 965l46 7M531 885l36 4M509 977l54 8M534 872l33 5M503 969l57 7M531 879l46 8M518 971l47 9M520 942l37 4M540 856l44 8M526 815l55 8M482 988l47 8M533 889l36 5M523 979l33 4" stroke="#000266" stroke-width="3" fill="none" stroke-linecap="butt"/>
<path d="M607 1008l54 9M585 866l52 8M602 970l24 3M604 938l44 7M601 823l27 3M587 915l57 12M591 1017l59 7M610 995l28 3M569 1010l51 7M621 1030l26 3M582 892l56 11M597 830l36 7M608 834l21 4M591 939l60 5M585 982l53 5M598 905l30 4M589 1020l50 5M599 882l33 3M624 1019l35 3" stroke="#7cc0ff" stroke-width="3" fill="none" stroke-linecap="butt"/>
<path d="M554 857l36 7M514 868l51 8M477 992l37 8M541 961l29 4M506 976l24 4M493 994l53 9M529 799l41 8M551 779l52 9M531 915l55 11M545 900l58 11M568 774l37 4M557 844l27 4M552 922l43 6M550 896l31 6M519 900l41 8M529 850l27 4M536 977l55 11M535 795l24 3M557 951l24 4M519 805l59 12M523 815l45 5M547 884l41 7M561 906l21 4M552 864l36 5M560 792l46 9M542 858l48 6M551 960l24 2M530 982l45 4M550 940l28 5M539 987l49 8" stroke="#000a84" stroke-width="2" fill="none" stroke-linecap="butt"/>
<path d="M538 976l53 10M569 944l24 5M519 948l27 3M622 986l21 2M611 826l29 3M518 942l28 3M578 819l22 4M558 846l44 7M541 988l43 9M524 943l42 8M530 794l43 5M536 988l57 8M567 768l36 5M537 874l31 5M519 813l53 10M547 844l20 3M528 768l55 9M615 963l30 3M502 953l59 10M556 936l54 7M530 938l22 4M559 860l54 11M520 912l38 7M523 846l55 10M548 971l40 9M615 814l20 2M549 978l46 5M531 881l28 3M571 930l24 4M559 978l40 6M517 855l51 7M521 876l48 5M551 926l54 5M555 901l31 6M505 947l48 10M553 847l52 9M518 964l43 6M548 899l57 11M524 879l38 7" stroke="#021792" stroke-width="2" fill="none" stroke-linecap="butt"/>
<path d="M605 991l43 5M604 1021l55 11M616 1032l29 3M587 1008l48 10M579 1027l35 6M598 892l47 10M611 1022l24 4M599 985l55 10M574 1025l39 4M582 1018l34 3M605 769l27 5M614 863l21 2M604 1010l57 10M560 1021l54 10M606 921l23 4M604 997l29 3M599 993l58 12M600 1028l47 5M600 892l48 10M605 803l31 5M595 888l50 9M615 1029l37 7" stroke="#acd7ff" stroke-width="2" fill="none" stroke-linecap="butt"/>
<path d="M594 938l28 4M581 1010l32 4M587 891l55 8M536 1022l31 6M598 951l31 4M575 1031l32 4M597 965l22 4M598 861l31 4M599 790l33 4M623 1021l45 8" stroke="#4eabff" stroke-width="2" fill="none" stroke-linecap="butt"/>
<path d="M592 862l53 6M581 926l58 10M569 996l40 5M600 896l29 4M517 1013l45 6M585 834l29 3M494 1007l20 3M595 774l56 9M585 1035l39 4M599 987l22 2M578 792l47 6M581 796l37 7M577 805l43 4M590 879l47 6M593 965l38 6M605 975l49 10M589 1002l37 4M590 1001l40 8M563 1020l41 5M596 832l37 6M533 1008l29 5M593 871l53 9M580 832l42 7M573 1011l44 5M606 824l20 3M589 886l55 10M557 1018l44 8M557 1003l50 6" stroke="#0d85f8" stroke-width="2" fill="none" stroke-linecap="butt"/>
<path d="M511 864l54 9M518 907l29 5M521 824l55 11M512 950l25 5M520 856l35 3M515 909l29 5M531 799l32 7M520 823l44 8" stroke="#000047" stroke-width="2" fill="none" stroke-linecap="butt"/>
<path d="M576 1006l47 6M597 962l38 5M574 872l50 7M596 766l23 3M480 1010l58 9M602 992l26 3M600 948l22 3M491 1013l54 5M531 1026l25 4M565 929l52 6M568 1006l54 9M523 1022l57 9M573 887l48 10M591 934l52 7M577 989l41 5M577 1004l42 4M600 945l38 4M589 800l51 5M566 988l54 7M600 974l34 4M586 919l50 5M584 981l32 5M563 932l57 7M585 766l35 5" stroke="#0d85f8" stroke-width="3" fill="none" stroke-linecap="butt"/>
<path d="M585 850l35 7M564 816l43 7M591 1035l27 2M528 999l23 4M577 952l50 8M554 912l56 12M560 1003l50 6M582 918l33 5M522 999l44 8M549 988l36 4M586 984l21 4M570 979l56 5M573 798l31 5M477 1001l42 5M503 1019l34 6M567 907l31 4M516 1012l49 5M547 989l20 3M556 935l27 5M553 948l29 4M568 772l48 6M577 903l51 5M547 1010l24 5M565 950l30 6M587 920l29 4M539 1013l36 7M511 995l25 5M567 995l56 11M600 813l53 8" stroke="#0851cc" stroke-width="2" fill="none" stroke-linecap="butt"/>
<path d="M510 871l46 4M513 891l30 3M497 905l54 8" stroke="#00001e" stroke-width="2" fill="none" stroke-linecap="butt"/>
<path d="M577 933l32 4M535 989l47 5M540 971l56 7M552 849l48 8M545 965l41 8M555 989l27 4M515 993l32 5M591 798l24 5M579 852l47 9M557 836l41 4M542 982l49 8M559 815l47 7M545 839l44 9M534 976l44 9M576 852l44 8M521 1007l27 5M543 876l53 11M575 959l42 7M545 910l44 6M549 914l57 12M563 842l27 3M539 978l34 4M592 774l22 3M496 994l51 7M556 819l40 5M603 948l51 9M503 989l43 9M480 992l49 10M552 889l46 6M564 932l31 5M548 956l38 4" stroke="#0741bd" stroke-width="3" fill="none" stroke-linecap="butt"/>
<path d="M596 828l54 6M596 799l24 3M603 854l36 4M593 1009l22 2M595 803l45 7M580 978l37 6M602 988l55 8M562 1016l58 5M606 983l28 4M578 978l51 5M610 890l27 3M579 801l58 8M574 1024l21 2M595 900l49 9M597 942l41 6M591 937l33 4M589 996l43 8M606 963l32 4M565 1022l37 4M606 885l30 3M555 1029l44 5M594 833l58 8M610 985l39 8M573 982l48 10M595 798l42 4M582 945l36 7M606 881l38 4M593 824l28 3M596 775l51 10M590 779l51 6M614 908l20 4" stroke="#1792ff" stroke-width="3" fill="none" stroke-linecap="butt"/>
<path d="M575 853l42 7M585 911l52 6M567 995l35 6M585 994l51 9M580 789l40 6M574 945l29 3M597 877l25 3M576 837l38 5M572 1011l39 3M543 1020l32 4M600 998l23 3M530 1005l52 5M584 927l47 9M512 1007l44 6M532 1017l57 6M520 1004l23 4M585 799l59 12M576 811l36 7M565 991l48 6M524 1022l31 5M552 997l53 7" stroke="#0b74ea" stroke-width="3" fill="none" stroke-linecap="butt"/>
<path d="M608 834l31 4M629 1027l37 7M599 1024l54 11M603 931l44 7M588 876l49 9M588 799l53 8M606 892l38 6M591 931l48 9M598 879l54 9M599 799l33 7M602 960l29 6M607 919l39 8M597 908l38 6M623 1025l25 3M553 1029l33 3M607 952l21 3M601 869l30 4M608 917l33 4M592 905l45 9M590 809l48 8M622 1020l36 5M606 1020l24 2" stroke="#7cc0ff" stroke-width="2" fill="none" stroke-linecap="butt"/>
<path d="M550 817l20 3M536 775l49 5M506 939l45 7M499 972l46 6M506 954l39 7M530 934l23 2M489 983l43 9M525 873l25 5M522 881l41 7M529 773l34 6M515 839l58 9M515 796l56 5M522 847l51 5" stroke="#000056" stroke-width="3" fill="none" stroke-linecap="butt"/>
<path d="M523 821l41 8M496 922l57 9M513 861l47 5" stroke="#000038" stroke-width="2" fill="none" stroke-linecap="butt"/>
<path d="M579 1012l55 5M607 928l31 6M613 1007l32 6M584 1017l47 8M614 1005l49 9M589 1028l42 9M597 909l54 11M595 802l48 5M600 857l33 6M596 985l59 9M559 1027l50 8M597 1024l45 5M607 899l27 5M599 918l51 6M598 1024l27 3M594 1003l53 7M572 1016l44 7M588 1001l59 9" stroke="#acd7ff" stroke-width="3" fill="none" stroke-linecap="butt"/>
<path d="M579 993l49 7M575 830l29 4M573 841l39 4M576 859l25 3M563 953l42 6M558 962l48 7M570 985l24 4M577 816l28 3M563 912l41 7M568 818l55 10M594 815l32 6M573 900l20 3M568 1004l39 8M554 1010l37 7M564 897l46 4M585 1002l24 2M620 1010l46 6M553 989l50 7M567 811l55 9M571 947l39 5M521 1019l28 3M559 930l49 8M566 914l54 7" stroke="#0963db" stroke-width="2" fill="none" stroke-linecap="butt"/>
<path d="M565 831l52 8M494 999l52 9M565 896l57 11M516 1017l30 5M589 981l26 4M591 988l28 3M574 969l59 8M579 931l53 9M580 981l53 7M581 899l50 10M592 822l39 7M557 907l57 5M568 995l52 11M565 976l40 5M560 888l57 11M574 1000l43 9M579 905l51 11" stroke="#0963db" stroke-width="3" fill="none" stroke-linecap="butt"/>
<path d="M579 833l26 6M558 978l25 2M562 981l26 4M579 845l49 7M557 885l44 8M585 974l34 4M562 901l41 8M562 962l33 7M584 999l23 2M536 981l48 10M553 991l28 6M559 904l25 4M558 931l42 8M561 938l43 4M551 942l51 10M575 835l20 3M586 922l38 7M583 910l37 7M591 932l24 5M552 946l52 7M542 936l48 6M553 993l41 5M551 965l43 8M540 1011l32 3M560 813l46 9M549 1010l29 4M519 997l50 10M604 818l43 4M485 1014l33 5M542 907l48 5M585 802l33 6M583 954l25 5M607 878l39 5M579 982l35 7" stroke="#0851cc" stroke-width="3" fill="none" stroke-linecap="butt"/>
<path d="M500 906l46 6" stroke="#00000c" stroke-width="3" fill="none" stroke-linecap="butt"/>
<path d="M582 981l57 12M590 874l51 7M592 837l40 6M567 1012l49 7M593 797l36 7M570 1010l32 5M583 847l56 10M595 1013l43 4M553 1029l38 7M602 923l47 5M563 1026l21 3M593 875l34 6M597 1011l37 4M581 1014l57 12" stroke="#4eabff" stroke-width="3" fill="none" stroke-linecap="butt"/>
<path d="M488 967l46 5M489 974l43 9M525 829l38 6M522 860l24 5M491 974l32 4M502 907l51 11M528 767l38 7" stroke="#000038" stroke-width="3" fill="none" stroke-linecap="butt"/>
<path d="M502 894l48 7M511 879l39 4M491 937l51 6" stroke="#00001e" stroke-width="3" fill="none" stroke-linecap="butt"/>
<path d="M524 881l23 3M507 851l55 9M517 917l24 4M524 871l22 3M511 912l23 4M516 932l22 3M511 869l55 7" stroke="#000047" stroke-width="3" fill="none" stroke-linecap="butt"/></g>
<path d="M539.3 763.6L538.9 768.0L557.7 769.7ZM538.9 768.4L538.6 771.8L558.3 774.3ZM538.4 773.9L538.0 778.0L563.6 781.5ZM537.8 780.4L537.5 784.0L555.7 786.2ZM537.3 785.5L537.0 789.4L559.5 792.4ZM536.9 790.4L536.5 794.8L560.0 797.9ZM536.1 799.1L535.8 802.2L560.5 806.4ZM535.5 805.5L535.3 808.6L552.9 811.2ZM534.9 812.4L534.7 815.1L554.6 818.5ZM534.5 817.4L534.2 820.8L561.0 825.6ZM533.9 823.2L533.6 826.7L558.6 831.1ZM533.6 827.4L533.2 831.0L556.8 835.0ZM532.4 835.3L531.7 838.4L554.5 842.6ZM531.4 840.1L530.6 844.1L557.0 848.8ZM529.6 848.6L529.1 851.1L548.8 854.9ZM528.4 854.4L527.7 857.9L552.2 862.6ZM527.0 861.4L526.3 864.3L546.9 868.3ZM525.8 867.0L525.0 870.6L546.5 874.6ZM524.6 872.5L523.9 876.0L548.6 881.0ZM523.7 877.1L523.0 880.5L542.6 884.2ZM522.2 884.0L521.7 886.5L544.5 891.6ZM521.4 887.9L520.8 891.0L548.6 897.3ZM520.2 893.5L519.6 896.5L547.6 903.0ZM519.5 897.0L518.6 901.3L548.2 907.6ZM518.4 902.5L517.9 905.1L539.8 910.1ZM516.8 910.0L516.2 913.0L539.2 918.2ZM515.7 915.5L515.0 919.1L537.8 924.1ZM514.1 923.2L513.4 926.5L538.2 932.3ZM512.5 931.0L511.8 934.4L540.2 941.4ZM511.0 938.6L510.3 941.8L537.1 948.6ZM509.7 944.7L508.9 948.4L533.4 954.3ZM508.3 951.4L507.6 955.0L534.5 961.8ZM506.7 959.3L506.0 962.9L536.8 971.1ZM506.4 964.4L504.0 968.2L535.2 976.3ZM503.4 969.2L502.0 971.5L525.1 977.9ZM501.7 972.0L499.5 975.5L520.6 980.5ZM498.2 977.6L496.2 980.9L527.1 989.4ZM494.8 983.1L492.9 986.2L523.2 994.8ZM492.5 986.9L490.4 990.2L515.0 996.8ZM489.8 991.4L487.6 994.7L519.7 1003.9ZM486.0 997.0L483.6 1000.6L514.9 1009.5ZM482.8 1001.9L481.2 1004.2L513.2 1014.3ZM478.7 1007.9L476.5 1011.3L508.2 1020.7Z" fill="#000"/>
<clipPath id="crb"><polygon points="1387.0,767.0 1385.0,900.0 1381.0,968.0 1372.0,1035.0 1370.0,1101.0 1354.0,1142.0 1346.0,1167.0 1340.0,1181.0 1300.0,1212.0 1250.0,1238.0 1200.0,1252.0 1100.0,1262.0 1000.0,1263.0 1000.0,1293.0 1836.0,1293.0 1836.0,1178.2 1829.3,1182.6 1822.0,1184.8 1814.6,1179.7 1808.0,1184.8 1801.3,1177.5 1797.6,1183.4 1794.0,1176.7 1789.5,1182.6 1786.5,1176.7 1776.0,1183.0 1761.0,1202.0 1751.0,1210.0 1744.0,1206.0 1736.0,1196.0 1733.0,1177.0 1727.0,1169.0 1713.0,1163.0 1683.0,1169.0 1680.0,1149.0 1652.0,1138.0 1631.0,1130.0 1613.0,1118.0 1601.0,1108.0 1591.0,1097.0 1576.0,1081.0 1562.0,1061.0 1550.0,1035.0 1534.0,1005.0 1515.0,968.0 1497.0,900.0 1485.0,833.0 1479.0,767.0"/></clipPath>
<g clip-path="url(#crb)"><path d="M1699 1264l88 -53M1766 1249l79 -80M1218 1231l69 28M1783 1267l73 -55M1807 1263l53 -47M1808 1222l51 -45M1380 1167l59 10M1580 1294l90 -32M1332 1239l62 12M1671 1273l98 -63M1443 1225l76 -7M1457 1183l78 -7M1409 1214l65 5M1337 1121l108 20M1600 1150l54 -34M1425 1078l116 -11M1580 1266l89 -34M1372 1150l65 13M1323 1267l55 11M1241 1268l50 22M1497 1191l58 -10M1795 1205l35 -39M1367 1042l73 7M1690 1263l58 -35M1099 1251l96 67M1214 1272l43 18M1580 1155l41 -21M1663 1262l84 -47M1364 1079l75 12M1746 1262l75 -65M1075 1262l57 47M1521 1259l90 -25M1225 1269l41 21M1646 1274l98 -47M1697 1257l96 -64M1074 1251l51 43M1529 1269l51 -11M1193 1248l64 32M1724 1249l32 -25M1602 1182l68 -33M1698 1297l60 -33M1628 1159l59 -34M1325 1231l51 11M1733 1227l73 -57M1543 1171l92 -33M1519 1230l64 -12M1359 1103l94 15M1255 1285l48 14M1794 1204l48 -44M1309 1239l98 20M1343 1039l82 23M1414 1257l71 1M1051 1240l61 55M1328 1205l66 16M1320 1204l76 15M1323 1176l50 18M1148 1257l88 47M1373 1226l40 4M1515 1163l101 -39M1498 1201l58 -12M1504 1264l54 -12M1653 1263l71 -45M1757 1210l38 -33M1761 1207l45 -39M1588 1267l87 -32M1330 1224l89 20M1551 1189l50 -22M1555 1200l55 -19M1429 1118l110 -19M1136 1262l59 36M1342 1195l71 10M1271 1212l48 17M1506 1195l82 -27M1359 1250l50 7M1619 1184l68 -38M1327 1020l100 -3M1354 1039l95 8M1765 1227l66 -63M1589 1282l93 -42M1040 1239l94 68M1339 1176l117 15M1692 1261l58 -41M1590 1269l79 -31M1690 1254l96 -66M1052 1265l49 36M1574 1279l43 -15M1064 1258l82 57M1316 1122l116 24M1512 1096l76 -31M1767 1246l68 -63M1334 1169l58 14M1366 1243l116 15M1323 1149l69 19M1731 1297l61 -45M1803 1210l32 -31M1179 1248l86 40M1168 1263l39 22M1457 1232l115 -25M1690 1322l98 -69M1783 1254l33 -25M1705 1266l78 -52M1409 1184l62 -3M1177 1278l52 27M1369 1265l88 9M1657 1255l72 -36M1189 1238l77 38M1402 1247l80 3M1375 1225l72 7M1711 1256l68 -43M1092 1281l35 22M1691 1320l96 -56M1322 1119l94 22M1318 1172l92 19M1021 1250l79 71M1404 1292l89 -2M1504 1247l86 -21M1297 1210l112 29" stroke="#289aff" stroke-width="5" fill="none" stroke-linecap="butt"/>
<path d="M1460 1194l65 -12M1311 1212l42 13M1625 1222l60 -34M1504 1216l114 -28M1402 924l41 -10M1173 1280l43 23M1242 1238l61 23M970 1251l82 70M1580 1230l105 -47M1471 1177l65 -8M1408 866l23 -3M1324 1234l42 10M1353 1190l56 11M1731 1276l66 -43M1394 963l42 -6M1470 1239l118 -16M1405 1102l51 2M1460 1277l46 -0M1459 1239l111 -15M1627 1253l64 -30M1328 1124l81 21M1261 1286l49 13M1716 1261l63 -45M1539 1223l80 -25M1157 1253l76 42M1809 1221l34 -35M1317 1253l75 20M1511 1256l113 -35M1624 1191l94 -65M1376 1231l105 -1M1386 850l15 -1M1489 1083l61 -14M1347 1065l61 22M1641 1314l90 -43M1398 1075l82 5M1332 1256l57 11M1048 1244l51 41M1402 1062l47 2M1500 1084l42 -15M1305 1196l50 14M1219 1234l102 45M1640 1253l38 -18M1393 977l30 -5M1134 1257l61 42M1303 1233l45 14M1302 1134l113 26M1317 1102l112 32M1539 1269l104 -37M1736 1257l70 -51M1479 1183l82 -21M1157 1242l96 48M1641 1250l90 -61M1661 1209l53 -29M1354 1063l39 12M1698 1230l42 -33M1220 1227l97 41M1382 913l33 -4M1712 1276l35 -23M1388 859l44 -5M1753 1265l85 -74M1181 1252l70 35M1474 1259l50 -4M1589 1248l54 -18M1575 1216l85 -40M1410 981l35 -9M1582 1195l101 -55M1296 1219l63 17M1665 1279l46 -28M1592 1256l63 -30M1292 1270l100 20M1447 1251l41 -2M1315 1219l67 13M1610 1228l64 -27M1290 1259l72 21M1615 1305l55 -25M1570 1249l90 -30M1206 1236l89 42M1102 1249l92 52M1014 1239l63 56M1778 1247l76 -78M1536 1274l49 -10M1287 1248l106 28M1415 1250l119 -5M989 1238l83 70M1630 1277l88 -51M1479 1248l111 -16M1613 1215l39 -18M1774 1257l43 -37M1688 1256l77 -49M1250 1230l64 25M1528 1267l86 -29M1697 1221l38 -30M1287 1239l61 18M1073 1237l94 73M1128 1263l66 38M1035 1240l68 63M1671 1266l63 -35M1384 1016l73 -11M1329 1185l93 16M1381 1243l115 8M1393 1079l49 10" stroke="#1792ff" stroke-width="3" fill="none" stroke-linecap="butt"/>
<path d="M1421 1092l111 -6M1671 1265l85 -54M1759 1263l76 -58M1377 1225l101 7M1365 1149l56 8M1627 1256l77 -43M1358 1137l71 10M1548 1278l81 -21M1517 1265l104 -36M1416 1253l92 2M1355 1238l100 7M1389 906l19 -3M1791 1245l79 -82M1019 1242l56 56M1433 1244l102 -12M1319 1181l65 13M1512 1263l81 -23M1588 1275l46 -19M1727 1222l36 -24M1297 1171l98 30M1398 1082l60 3M1307 1189l97 24M1353 1059l106 15M1339 1238l64 14M1683 1268l95 -55M1769 1224l34 -27M1642 1285l71 -36M1364 1094l69 12M1586 1169l76 -36M1605 1277l82 -37M1183 1241l81 41M1079 1262l35 24M1619 1176l90 -67M1479 1093l72 -16M1794 1262l48 -41M1326 1218l48 10M1245 1224l108 33M1623 1267l69 -31M1461 1207l83 -12M1256 1257l111 40M1403 961l26 -3M1385 1109l40 8M1186 1252l88 38M1418 1287l85 4M1112 1250l60 38M1394 1236l54 1M1367 1184l40 7M1307 1124l97 35M1607 1239l47 -24M1518 1195l49 -15M1469 1106l60 -10M1746 1295l90 -64M1723 1237l71 -51M1010 1268l44 36M1176 1258l103 48M1692 1217l84 -68M1305 1278l45 9M1324 1256l62 14M1265 1189l106 32M1344 1183l41 12M1276 1180l106 38M1388 1183l92 2M1304 1186l58 21M993 1266l42 40M1353 1277l81 11M1623 1254l40 -16M1491 1212l114 -37M1505 1244l94 -29M1382 1079l76 14M1592 1239l63 -24M1379 1074l85 14M1675 1279l89 -51M1479 1281l68 -7M1034 1270l31 29M1418 1180l44 -1M1484 1261l68 -9M1749 1238l42 -35M1191 1257l73 40M1563 1252l86 -31M1065 1259l92 66M1778 1202l41 -34M1612 1278l67 -25M1658 1267l92 -52M1361 1087l47 14M1426 1257l105 -7M1737 1254l55 -44M1350 1206l49 9M1754 1253l39 -34M1292 1209l57 19M1451 1250l49 -2M1343 1228l63 13M1413 1257l96 3M1790 1235l48 -45M1681 1319l101 -52M1409 966l19 -3M1346 1194l80 14M1402 904l23 -5M1557 1254l84 -25M1432 1085l82 -6M1478 1278l62 -7M1385 1233l111 10M1407 926l17 -3M1718 1226l42 -31M1466 1237l117 -14M1422 1251l42 -2M1754 1229l53 -50M1396 1239l66 7M1345 1253l118 15M1465 1230l110 -21M1562 1254l97 -40M1362 1067l97 14M992 1244l47 49M1099 1246l90 54M1789 1264l37 -27M1371 1165l81 14M1758 1269l75 -69M1318 1182l114 30M1131 1242l61 34M1311 1178l70 20M984 1256l72 64M1168 1234l61 40M1673 1260l53 -27M1395 849l39 -4M1625 1286l43 -20M1468 1093l71 -15M1709 1232l48 -36M1439 1252l97 -9M1720 1248l73 -55M1386 1290l44 4M1358 1095l117 20M1322 1028l106 16M1190 1229l78 46M1478 1186l74 -9M1610 1282l87 -41M1305 1181l78 25M1443 1236l59 -4M1306 1199l53 13M1739 1279l58 -41M1657 1258l75 -42" stroke="#289aff" stroke-width="3" fill="none" stroke-linecap="butt"/>
<path d="M1469 989l35 -13M1422 1024l77 -14M1453 878l39 -15M1452 958l25 -9M1513 1043l66 -26M1520 1048l46 -20M1464 1019l44 -9M1412 892l38 -7M1406 914l39 -5M1496 1039l83 -29" stroke="#0533af" stroke-width="2" fill="none" stroke-linecap="butt"/>
<path d="M1672 1237l44 -30M1386 825l17 -2M1381 887l21 -2M1636 1234l98 -62M1640 1200l96 -58M1397 904l39 -6M1630 1211l68 -46M1608 1229l100 -56M1427 1057l54 -5M1290 1256l63 19M1223 1243l88 35M1214 1232l106 47M1293 1245l88 18M1240 1231l38 17M1423 1060l83 -8M1556 1253l97 -35M1387 856l29 -4M1032 1256l91 65M1560 1254l99 -40M1417 952l22 -3M1174 1238l91 44M1454 1080l108 -33M1670 1227l47 -30M1388 986l31 -2M1663 1253l97 -61M1579 1238l38 -13M1390 1048l40 5M1404 788l30 -4M1323 1197l43 11M1679 1225l35 -23M1639 1202l90 -60M1571 1239l92 -38M1253 1256l51 20M1627 1254l100 -55M1698 1220l59 -45M1396 967l35 -7M1699 1216l67 -50M1277 1245l108 26M1207 1227l66 35M1380 1023l94 -11M1370 872l41 -6M1376 890l39 -2M1678 1207l41 -30" stroke="#0d85f8" stroke-width="4" fill="none" stroke-linecap="butt"/>
<path d="M1380 784l42 -6M1409 1216l58 -1M1380 1158l85 5M1495 1209l57 -9M1397 837l23 -3M1387 1124l89 2M1345 1043l97 21M1374 987l26 -0M1396 975l29 -4M1382 804l27 -4M1523 1164l81 -32M1386 987l15 -0M1371 831l39 -2M1387 851l23 -2M1378 885l39 -2M1381 1164l107 -1M1386 836l30 -2M1383 901l14 -1M1455 1140l118 -19M1395 884l17 -2M1406 791l16 -3M1392 835l26 -4M1391 910l19 -3M1435 1144l94 -5M1383 792l32 -3M1366 1043l57 12M1387 998l44 -7M1382 877l30 -2M1400 999l16 -2M1378 821l32 -1M1494 1106l73 -22M1491 1127l59 -15M1494 1162l43 -8M1397 822l18 -3M1489 1118l91 -33M1502 1120l108 -43M1479 1147l42 -10M1389 838l23 -4M1405 1134l59 3M1392 914l33 -6M1393 958l22 -3M1384 855l35 -2M1376 1010l70 -13" stroke="#7cc0ff" stroke-width="3" fill="none" stroke-linecap="butt"/>
<path d="M1793 1249l85 -84M1389 1255l104 6M1321 1187l72 21M1378 1072l108 5M1553 1276l83 -26M1470 1211l72 -14M1651 1280l71 -40M1334 1244l101 16M1492 1238l90 -16M1469 1240l115 -26M1799 1245l64 -65M1723 1306l98 -69M1466 1211l60 -7M1735 1233l52 -47M1577 1272l93 -42M1809 1207l51 -47M1276 1266l50 17M1306 1140l99 23M1562 1144l48 -23M1345 1065l111 32M1807 1250l42 -42M1350 1125l87 19M1589 1271l99 -45M1464 1223l116 -25M1713 1302l58 -34M1279 1201l58 25M1480 1195l61 -8M1703 1180l35 -25M1433 1241l87 -0M1788 1241l74 -61M1399 1257l98 2M1333 1039l101 30M1003 1238l75 63M1572 1265l45 -13M1585 1175l78 -39M1484 1204l57 -14M1459 1239l77 -8M1773 1219l39 -32M1377 1069l84 10M1291 1281l83 23M1332 1244l116 9M1669 1265l84 -47M1693 1242l49 -31M1615 1188l67 -36M1329 1235l91 15M1473 1200l114 -26M1535 1277l101 -35M1802 1220l51 -58M1100 1246l64 45M1530 1240l55 -14M1445 1199l56 -7M1759 1265l85 -72M1637 1265l62 -37M1406 1223l48 2M1590 1272l45 -18M1467 1083l77 -20M1395 1250l96 6M1570 1195l78 -35M1310 1175l65 18M1702 1277l77 -58M1374 931l26 -0M1356 1154l100 12M1392 1277l83 8M1636 1284l84 -40M1380 916l18 -1M1716 1235l51 -39M1628 1281l98 -48M1437 1244l50 -5M976 1258l66 68M1392 901l43 -8M1543 1264l91 -24M1579 1156l72 -38M989 1242l87 79M1092 1234l64 53M1318 1166l104 21M1381 1166l102 8M1350 1149l61 10M1682 1295l90 -58M1169 1236l90 43M1366 1064l110 15M1438 1247l95 -5M1783 1264l57 -45M1472 1178l78 -20M1645 1263l40 -22M1203 1250l57 25M1508 1197l55 -16M1388 1078l85 11M1414 1175l108 -9M1496 1170l92 -33M1434 1081l42 -0M1045 1246l57 51M1769 1284l74 -67M1481 1223l106 -22M1486 1163l44 -7M1708 1258l39 -27M1333 1239l54 9M1589 1309l80 -35M1310 1133l99 35M1484 1265l63 -8M1389 1228l83 8M1792 1304l79 -73M1748 1269l67 -55M1763 1307l56 -43M1565 1269l41 -12M1352 1202l118 5M1286 1182l89 24M1137 1250l91 49M1745 1232l65 -62M1621 1273l63 -29M1620 1290l106 -53M1354 1065l54 18M1441 1179l100 -11M1687 1294l75 -40M1532 1258l73 -21M1410 1085l92 1M1530 1187l107 -41M1578 1280l103 -41M1347 1191l98 18M1206 1271l64 27M1325 1198l110 19M1542 1182l78 -27M1396 1290l53 4M1451 1239l102 -12M1647 1279l39 -21M1416 1189l107 -13M1698 1307l90 -53M1569 1276l60 -19M1482 1204l52 -11M1592 1268l97 -47M1430 1281l67 1" stroke="#289aff" stroke-width="4" fill="none" stroke-linecap="butt"/>
<path d="M1220 1250l102 47M1388 895l24 -2M1275 1224l43 19M1677 1243l89 -55M1414 913l31 -5M1644 1188l58 -32M1402 847l35 -6M1239 1255l90 39M1284 1258l55 18M1655 1182l48 -29M1210 1263l99 48M1678 1222l76 -50M1264 1231l74 23M1232 1260l63 27M1144 1269l65 34M1634 1237l83 -41M1671 1214l44 -30M1427 1079l103 -20M1620 1241l97 -47M1345 1023l65 3M1282 1244l96 30M1680 1239l73 -50M1294 1254l88 17M1589 1207l41 -17M1337 1052l71 21M1617 1245l90 -40M1602 1211l103 -52M1370 977l32 -0M1390 1027l77 -7M1392 1057l42 8M1370 998l35 -3M1219 1241l45 22M1208 1249l106 47" stroke="#0d85f8" stroke-width="2" fill="none" stroke-linecap="butt"/>
<path d="M1680 1203l89 -60M1495 1223l46 -7M1635 1182l48 -31M1553 1204l58 -20M1536 1172l93 -38M1262 1258l50 20M1354 1038l41 10M1344 1175l113 12M1248 1255l70 30M1605 1210l50 -23M1214 1249l106 41M1301 1236l51 19M1526 1246l52 -11M1640 1172l36 -21M1419 1082l65 -2M1703 1280l71 -42M1702 1270l42 -30M1263 1274l78 20M1326 1113l73 19M1725 1265l91 -71M1428 1259l113 -15M1537 1231l70 -19M1219 1233l63 33M1555 1222l101 -43M1081 1240l90 69M1601 1313l109 -44M1381 1052l40 6M1133 1240l57 36M1426 1079l86 -6M1419 1084l117 -10M1706 1285l61 -45M1366 1233l84 7M1509 1259l70 -20M1213 1250l84 37M1523 1240l51 -12M1575 1254l39 -15M1385 1015l68 -11M1278 1188l92 30M1555 1179l76 -39M1364 1250l54 8M1534 1247l74 -23M1284 1218l100 33M1337 1067l79 24M1641 1277l60 -30M1051 1241l62 53M1300 1176l106 23M1795 1275l71 -61M1128 1240l96 61M1786 1276l52 -45M1713 1274l69 -52M1786 1202l32 -30M1234 1274l58 20M1515 1259l98 -30M1297 1179l95 31M1352 1248l110 5M1348 1186l90 15M1290 1249l96 31M1066 1263l67 53M1245 1257l56 19M1575 1167l38 -15M1320 1222l114 22M1413 1087l96 -4M1309 1275l45 14M1722 1234l37 -28M1438 1268l86 -12M1379 1088l100 5M1383 1088l59 7M1048 1245l43 38M1766 1223l83 -71M1075 1237l92 73M1250 1259l56 23M1085 1241l80 55M1177 1233l69 42M1349 1270l73 13M1603 1235l85 -47M1652 1213l56 -34M1347 1036l111 18M990 1231l73 71M1386 1263l118 9M1313 1263l84 16M1347 1140l71 14M1341 1089l66 18M1538 1283l98 -37M1619 1224l98 -65" stroke="#1792ff" stroke-width="5" fill="none" stroke-linecap="butt"/>
<path d="M1705 1284l76 -48M1767 1251l53 -44M1606 1142l41 -28M1683 1222l55 -33M1324 1015l116 -17M1606 1176l86 -47M1370 1008l70 -14M1412 1244l61 -2M1538 1277l91 -31M1260 1266l108 36M1565 1202l49 -20M1326 1250l93 15M1314 1283l89 18M1179 1249l66 33M1008 1246l86 67M1566 1213l61 -20M1471 1076l67 -14M1601 1248l98 -58M1511 1263l89 -21M1560 1207l43 -14M1255 1217l100 40M979 1246l67 55M1090 1240l81 50M1019 1262l45 42M1336 1064l71 27M1275 1255l45 18M1097 1260l47 38M1030 1257l75 53M1086 1242l96 61M1032 1258l67 61M1455 1261l55 -1M1303 1190l69 22M1625 1229l89 -45M1366 1016l107 -18M1520 1212l112 -33M1585 1215l71 -27M1587 1280l89 -41M1453 1266l48 -2M1502 1307l102 -28M1605 1243l45 -17M1359 1186l49 10M1368 1267l108 5M1297 1231l38 13M1453 1183l68 -7M1314 1111l108 25M1566 1246l86 -39M1523 1299l57 -15M1287 1212l42 18M1337 1162l89 16M975 1254l95 72M1669 1260l60 -39M1329 1237l118 13M1176 1231l65 42M1281 1210l94 31M1482 1079l50 -14M1355 1250l110 14M1289 1196l101 23M1514 1196l99 -40M1653 1184l37 -27M1582 1240l103 -43M1206 1247l92 35M1138 1264l76 50M1627 1181l65 -43M1650 1237l78 -51M1401 883l38 -5M1796 1274l67 -62M1771 1226l74 -68M1396 1295l106 -5M1450 1249l88 -11M1329 1027l96 5M1737 1268l93 -71M1750 1306l69 -48M1283 1263l63 23M1355 1217l77 6M1350 1084l44 13M1080 1254l76 53M1314 1211l45 16M1400 1083l43 6M1333 1024l90 7M1414 985l28 -6M1518 1090l95 -41M1734 1261l61 -44M1593 1186l89 -56M1521 1222l109 -37" stroke="#1792ff" stroke-width="4" fill="none" stroke-linecap="butt"/>
<path d="M1391 1182l84 8M1711 1299l67 -46M1492 1170l55 -12M1445 1271l44 0M1379 1023l46 -1M1574 1178l103 -50M1449 1271l41 -3M1516 1184l51 -13M1370 1180l115 4M1594 1288l76 -25M1815 1278l34 -27M1404 1185l103 -7M1349 1158l118 18M1478 1190l57 -11M1408 1279l97 0M1471 1171l65 -7M1418 1105l89 -1M1585 1295l55 -22M1348 1285l88 11M1315 1267l118 20M1363 1084l107 21M1514 1148l66 -20M1343 1154l103 19M1783 1283l52 -39M1349 1226l104 19M1459 1174l114 -16M990 1263l34 28M1601 1283l37 -15M1438 1177l43 -3M1421 1177l70 2M1446 1229l92 -11M1367 1278l46 9M1688 1299l79 -47M1393 1157l90 2M1776 1278l34 -24M1502 1287l93 -22M1416 1270l97 0M1342 1167l106 24M1677 1297l93 -48M1528 1282l43 -7M1513 1277l46 -8M1731 1313l69 -48M1329 1135l89 20M1371 791l38 -5M1483 1242l77 -14M1454 1098l52 -6M1445 1280l56 -7M1625 1178l43 -25M1460 1233l65 -10M1475 1194l69 -7M1365 1269l88 8M1349 1019l75 -4M1779 1290l42 -28M1431 1231l62 -2M1437 1290l99 -7M1451 1159l91 -17M1377 1196l80 11M1517 1098l90 -43M1402 828l20 -3M1418 1117l105 -11M1552 1096l37 -21M1394 1195l51 2M1575 1179l55 -22M1750 1306l63 -44M1748 1315l81 -66M1546 1165l111 -46M1456 1189l58 -7M1421 1174l60 -3M1361 1016l41 -2M1476 1196l108 -28M1465 1107l96 -21M1520 1219l63 -13M1413 1188l61 -1M1471 1095l46 -9M1513 1211l102 -38M1422 1223l44 1M1490 1181l52 -10M1553 1193l86 -30M1398 1115l100 -6M1573 1149l43 -20M1362 1105l66 13M1459 1091l63 -7M1387 1278l95 -0M1738 1310l54 -40M1484 1102l56 -15M1440 1210l115 -19M1429 1174l46 2" stroke="#4eabff" stroke-width="4" fill="none" stroke-linecap="butt"/>
<path d="M1383 834l42 -4M1385 994l32 -4M1488 1204l88 -19M1388 1160l86 0M1397 868l23 -5M1384 823l19 -2M1479 1208l97 -23M1384 889l28 -4M1410 1210l80 -3M1358 1145l84 12M1388 936l32 -2M1483 1147l79 -14M1357 1086l76 18M1403 846l15 -2M1557 1123l45 -24M1377 905l34 -5M1379 897l36 -1M1545 1196l84 -32M1391 887l35 -2M1509 1207l49 -8M1356 1147l41 11M1433 1115l78 -8M1383 913l37 -6M1393 771l19 -3M1382 878l15 -2M1426 1210l72 -6M1513 1140l105 -44M1498 1165l94 -25" stroke="#7cc0ff" stroke-width="2" fill="none" stroke-linecap="butt"/>
<path d="M1610 1172l39 -19M1383 1240l110 1M1457 1226l44 -5M1537 1143l42 -14M1382 1276l46 5M1398 1283l62 0M1740 1304l65 -47M1373 1219l115 10M1474 1173l43 -5M1494 1153l68 -15M1424 1296l116 -10M1766 1299l54 -37M1382 1176l114 3M1412 1225l64 3M1053 1256l57 41M1560 1154l41 -16M1510 1220l93 -28M1351 1265l78 7M1396 969l38 -7M1514 1163l82 -28M1448 1159l57 -3M1451 1176l50 -5M1598 1144l44 -29M1515 1173l91 -38M1378 1199l104 2M1013 1244l87 67M1425 1166l83 -6M1450 1110l103 -26M1330 1270l49 11M1077 1247l80 61M1516 1165l61 -21M1385 1267l48 6M1399 1292l116 -10M1779 1305l83 -63M1367 1283l112 1M1375 822l31 -3M1532 1283l85 -21M1434 1172l83 -2M1380 1223l61 7M1352 1156l87 20M1511 1182l85 -20M1529 1287l72 -21M1348 1280l94 16M1736 1278l42 -26M1759 1297l60 -44M1372 1021l54 -2M1496 1192l91 -17M1757 1322l88 -65M1503 1233l85 -25M1719 1290l72 -53M1617 1284l39 -15M1739 1301l61 -40M1444 1198l61 -3M1421 1266l77 1M1318 1276l93 15M1419 1166l98 -2M1562 1198l101 -46M1367 1282l83 9M1388 1180l66 7M1438 1086l70 -9M1465 1189l106 -16M1383 824l38 -4M1748 1299l59 -37M1325 1270l80 20M1533 1300l90 -28M1472 1242l84 -14M1573 1291l91 -32M1519 1291l46 -10M1532 1296l65 -16M1561 1167l76 -43M1562 1290l50 -18M1534 1287l95 -22M1549 1167l63 -26M1501 1179l50 -12M1509 1184l79 -28M1437 1104l88 -7M1347 1157l50 10M1783 1292l57 -46M1648 1307l103 -52M1387 1189l41 4M1384 1204l93 10M1407 1233l118 -11M1536 1170l60 -20M1460 1287l40 -5M1528 1299l93 -23M1774 1315l94 -64M1366 1179l76 7M1346 1132l87 16M1412 1288l116 -13M1348 1142l75 17M1377 1094l64 8" stroke="#4eabff" stroke-width="2" fill="none" stroke-linecap="butt"/>
<path d="M1476 873l23 -11M1459 778l26 -9M1479 929l39 -18M1444 788l35 -14M1476 892l18 -7" stroke="#000056" stroke-width="4" fill="none" stroke-linecap="butt"/>
<path d="M1645 1250l79 -46M1553 1217l82 -35M1681 1245l80 -52M1622 1249l91 -54M1531 1251l94 -36M1320 1212l41 12M1395 1020l60 -6M1253 1257l74 23M1659 1201l70 -43M1313 1216l50 16M1532 1079l39 -21M1588 1230l102 -44M1221 1252l53 29M1342 1041l63 13M1386 1030l89 -2M1518 1225l103 -32M1293 1188l84 26M1360 1047l117 4M1260 1260l77 28M1576 1223l56 -20M1290 1249l78 24M1595 1229l82 -33M1661 1231l87 -55M1256 1211l75 30M1529 1232l84 -27M1356 1019l118 -12M1375 1023l90 -7M1278 1269l84 27M1594 1231l40 -17M1340 1035l66 13M1658 1228l52 -32M1641 1220l88 -53" stroke="#0d85f8" stroke-width="5" fill="none" stroke-linecap="butt"/>
<path d="M1315 1278l78 14M1548 1293l85 -26M1567 1283l55 -19M1557 1139l43 -18M1510 1302l87 -22M1409 1200l72 -4M1330 1279l56 13M1374 1202l108 14M1352 1023l55 0M1703 1290l47 -24M1358 1269l73 14M1407 1108l93 3M1502 1203l61 -13M1439 1281l89 -6M1598 1294l45 -19M1386 1104l88 8M1774 1275l46 -39M1541 1168l69 -30M1451 1190l108 -21M1341 1282l88 15M1625 1304l92 -44M1396 1233l101 6M1524 1286l76 -16M1486 1223l56 -10M1391 1184l112 5M1815 1278l35 -29M1545 1279l65 -18M1406 1210l87 2M1375 1124l57 8M1790 1299l38 -28M1448 1195l91 -13M1571 1301l97 -32M1774 1314l68 -58M1492 1185l79 -17M1482 1209l80 -13M1647 1296l64 -34M1352 1216l83 13M1344 1187l96 17M1353 1172l108 8M1668 1307l87 -41M1422 1227l103 -5M1484 1219l44 -9M1551 1190l43 -15M1699 1290l44 -29M1372 1108l54 8M1379 1201l93 7M1789 1292l49 -40M1381 1189l49 5M1410 1284l56 -2M1497 1227l86 -17M1367 1225l113 11M1394 1102l74 3M1416 1215l77 0M1564 1197l74 -28M1621 1284l46 -19M1475 1184l58 -12M1331 1139l107 28M1342 1268l51 9M1466 1192l95 -19M1432 1108l101 -10M1607 1293l58 -24M1407 1113l66 3M1447 1186l66 -6M1738 1284l39 -26M1588 1150l57 -35M1451 1183l79 -7M1432 1239l94 -4M1567 1162l62 -28M1469 1291l93 -20M1600 1189l73 -36M1538 1095l40 -21M1380 1192l90 2M1562 1149l99 -48M1661 1309l86 -47M1499 1194l89 -25M1475 1203l81 -18M1376 1008l52 -10M1492 1155l70 -13M1583 1146l55 -29M1367 1216l87 10M1497 1301l105 -30M1510 1228l58 -17" stroke="#4eabff" stroke-width="5" fill="none" stroke-linecap="butt"/>
<path d="M1504 1174l70 -14M1135 1268l41 24M1412 1095l56 4M1632 1286l54 -22M1511 1152l88 -28M1035 1255l55 41M1425 1237l69 -3M1394 896l41 -6M1385 1278l96 8M1427 1121l115 -13M1323 1135l118 21M1453 1172l54 -2M1354 1206l102 9M1771 1303l61 -44M1340 1204l107 19M1672 1298l51 -31M1758 1292l71 -48M1654 1297l68 -38M1367 1031l45 2M1353 1017l88 -6M1488 1113l109 -45M1572 1168l84 -43M988 1253l33 35M1551 1312l106 -43M1682 1299l59 -31M1464 1192l115 -20M1335 1025l115 5M1810 1294l40 -37M1404 854l21 -3M1390 1279l116 8M1430 1218l86 -9M1375 1087l55 10M1459 1120l99 -19M1582 1178l91 -53M1668 1310l99 -66M1368 1101l66 8M1428 1114l95 -12M1549 1194l77 -36M1565 1193l52 -21M1340 1127l94 21M1171 1264l58 28M1416 1197l67 4M1571 1187l89 -40M1370 1102l111 6M1763 1292l80 -61M1505 1209l71 -22M1346 1277l75 7M1531 1279l87 -18M1740 1287l75 -51M1562 1151l43 -20M1395 793l22 -3M1385 1275l46 2M1389 942l42 -6M1534 1091l69 -32M1409 1277l41 3M1367 1177l105 5M1376 798l27 -1M1395 1181l95 3M1748 1286l82 -63M1625 1286l48 -19M1389 1093l115 -0M1532 1295l74 -25M1421 1226l86 -5M1337 1052l106 26M1719 1288l67 -42M1528 1245l54 -15M1349 1135l77 18M1563 1183l48 -23M1555 1138l84 -42M1421 1246l77 3M1580 1297l45 -13M1351 1130l103 10M1402 985l27 -5M1392 1231l88 -3M1407 1180l87 -5M1760 1296l88 -60M1606 1176l71 -41M1580 1169l106 -55M1425 1273l78 1M1540 1154l82 -43M1390 1163l50 7M1403 836l24 -2M1561 1169l75 -30M1361 1218l59 11M1548 1185l72 -26M1515 1102l48 -16M1549 1179l39 -16M1405 1205l60 6M1348 1197l110 7M1410 1095l54 6M1517 1170l64 -22M1412 1196l61 -2M1353 1270l73 12M1517 1217l53 -16M1347 1182l100 17M1414 1226l87 -6M1532 1208l59 -20M1454 1190l104 -22M1367 907l40 -1M1447 1225l67 -4M1748 1310l86 -73M1372 878l31 -2M1509 1093l58 -21M1589 1137l37 -17M1017 1247l57 54M1532 1194l77 -29M1459 1164l70 -6M1676 1291l68 -38M977 1261l47 39M1584 1195l74 -36" stroke="#4eabff" stroke-width="3" fill="none" stroke-linecap="butt"/>
<path d="M1367 890l45 -3M1292 1238l110 22M1258 1218l89 30M1273 1222l92 34M1400 1036l43 2M1642 1225l99 -66M1405 899l26 -3M1503 1085l85 -39M1529 1223l110 -40M1558 1208l92 -32M1380 907l44 -5M1245 1258l75 28M1378 902l39 -1M1387 1054l64 8M1617 1243l67 -30M1671 1219l68 -52M1686 1236l95 -69M1403 1036l45 -1M1155 1241l98 60M1556 1244l92 -37M1416 965l35 -6M1675 1224l62 -39M1382 908l17 -2M1683 1243l49 -36M1618 1187l72 -46M1226 1249l94 37M1211 1224l92 41M1259 1214l97 39M1395 844l19 -3M1304 1275l72 16M1592 1216l92 -48M1625 1205l91 -67M1374 993l15 -1M1431 1076l118 -18M1648 1242l91 -48M1598 1238l84 -41M1385 853l36 -5M1387 1029l80 -6" stroke="#0d85f8" stroke-width="3" fill="none" stroke-linecap="butt"/>
<path d="M1433 831l17 -4M1437 998l14 -3M1421 1030l99 -16M1413 781l33 -5M1392 1021l109 -20M1437 1003l21 -7M1421 831l33 -9M1418 1001l28 -6M1418 865l37 -6M1409 898l22 -5M1435 913l15 -3M1457 1050l76 -19M1409 826l44 -7M1414 843l33 -7M1429 785l30 -9M1443 1050l87 -16M1428 960l43 -11M1430 985l42 -10M1416 845l30 -7M1413 810l42 -9M1418 996l42 -7M1502 1077l77 -33M1400 1022l112 -20M1433 858l27 -8M1429 946l23 -5M1366 784l43 -6M1450 1043l52 -11M1440 948l25 -7M1406 958l41 -6M1423 913l31 -9" stroke="#0851cc" stroke-width="3" fill="none" stroke-linecap="butt"/>
<path d="M1475 955l40 -16M1439 816l40 -15M1453 792l43 -13M1448 1016l91 -20M1482 1045l107 -38M1459 1020l52 -11M1482 1030l95 -28M1486 1031l77 -21M1465 809l19 -6M1459 970l34 -12M1454 900l26 -10M1483 1032l56 -16M1467 1018l66 -16" stroke="#0425a0" stroke-width="2" fill="none" stroke-linecap="butt"/>
<path d="M1467 981l35 -16M1473 916l27 -9M1463 903l27 -8M1407 814l40 -8M1460 833l27 -9M1428 859l17 -5M1481 1036l106 -32M1494 953l18 -7M1440 1011l99 -21M1463 1028l86 -21M1409 804l43 -6M1490 992l13 -5M1475 960l41 -14M1497 1001l38 -17M1465 930l20 -6M1467 943l31 -11" stroke="#0425a0" stroke-width="4" fill="none" stroke-linecap="butt"/>
<path d="M1434 938l18 -6M1457 981l35 -11M1442 933l25 -8M1458 955l27 -8M1426 880l32 -9M1451 1032l54 -9M1428 860l25 -7M1416 905l25 -4M1443 940l38 -14M1389 1018l106 -19M1400 907l43 -6" stroke="#0741bd" stroke-width="4" fill="none" stroke-linecap="butt"/>
<path d="M1435 909l43 -10M1415 1032l101 -19M1491 1065l78 -29M1476 1049l98 -30M1432 1008l55 -11M1423 773l31 -6M1425 795l31 -7M1528 1067l52 -26M1450 952l39 -11M1436 926l20 -5M1460 1030l62 -15M1435 909l39 -9M1460 1065l111 -37M1436 906l14 -5" stroke="#0741bd" stroke-width="2" fill="none" stroke-linecap="butt"/>
<path d="M1486 1044l40 -12M1418 1045l114 -21M1387 1011l97 -20M1450 1050l47 -8M1465 1044l79 -21" stroke="#0851cc" stroke-width="5" fill="none" stroke-linecap="butt"/>
<path d="M1450 1073l89 -24M1419 788l30 -8M1536 1072l43 -19M1496 1065l78 -33M1408 849l41 -10M1414 830l43 -12M1422 1049l90 -14M1435 1055l82 -13M1440 949l16 -5M1425 982l42 -13M1397 1054l94 -5M1534 1080l60 -33M1415 874l23 -4M1413 1051l86 -9" stroke="#0963db" stroke-width="4" fill="none" stroke-linecap="butt"/>
<path d="M1463 877l13 -5M1468 1029l49 -12M1502 1036l59 -21M1430 902l43 -9M1501 1052l85 -33M1462 775l18 -7M1456 1009l45 -10M1474 1025l48 -11M1435 804l22 -7M1405 954l44 -7M1484 976l23 -8M1446 874l33 -12M1466 1042l113 -35" stroke="#0533af" stroke-width="4" fill="none" stroke-linecap="butt"/>
<path d="M1475 1114l66 -19M1605 1279l90 -49M1168 1236l59 38M1321 1039l114 32M1336 1142l82 22M1690 1259l61 -43M1396 1072l106 2M1771 1226l45 -44M1519 1276l92 -23M1320 1134l104 30M1352 1062l106 22M1408 1087l77 1M1486 1270l79 -18M1462 1269l44 -5M1288 1276l43 15M1544 1297l99 -27M1419 1080l82 -4M1417 1073l59 -2M1473 1256l105 -14M1149 1261l44 25M1762 1228l71 -72M1608 1277l84 -42M1784 1244l52 -44M1380 1218l119 4M1258 1228l66 31M1749 1225l82 -68M1724 1287l60 -40M1560 1188l64 -30M1761 1292l54 -40M1549 1276l71 -17M1127 1273l54 38M1323 1142l70 23M1589 1262l86 -43M1456 1280l51 -2M1348 1226l86 12M1715 1196l36 -30M1530 1236l54 -17M1335 1269l87 15M1609 1209l77 -41M1352 1081l61 18M1599 1170l72 -48M1044 1265l65 56M1787 1283l35 -26M1349 1238l93 12M1470 1106l105 -29M1756 1231l78 -83M1378 959l23 -1M1398 1002l37 -4M1798 1268l65 -66M1056 1278l32 24M1388 1267l109 -5M1740 1244l70 -59M1379 1233l74 10M1081 1251l36 28M1545 1303l114 -33M1779 1276l71 -64M1378 1034l77 1M1429 1175l45 -2M1615 1234l50 -25M1608 1202l71 -39M1326 1064l92 35M1209 1216l88 49M1470 1213l88 -13M1555 1203l80 -37M1561 1270l66 -22M1475 1227l49 -4M1615 1273l59 -24M1112 1265l53 38M983 1236l76 69M1360 1034l60 8M1413 1111l104 -6M1341 1211l52 10M1584 1249l55 -20M1377 992l38 -6M1545 1174l46 -14M1613 1267l83 -42M1331 1097l79 28M1569 1252l65 -25M1793 1297l43 -29M1466 1237l65 -11M1519 1084l69 -26M1617 1290l78 -39M1505 1247l113 -33M1426 1254l86 -5M1450 1296l90 -10M1332 1168l53 16M1806 1290l46 -36M1520 1246l108 -28M1465 1165l86 -13M1410 1200l110 0M1507 1263l84 -18M1346 1275l50 9M1368 1041l67 8M1579 1137l43 -23M1590 1290l96 -46M1783 1285l41 -34M1376 857l42 -2M1694 1240l39 -22M1766 1264l71 -54M1238 1210l90 31M1400 989l42 -8M1707 1292l93 -66M1654 1271l98 -53M1273 1193l72 29M1495 1234l41 -6M1598 1214l98 -50M1678 1208l93 -66M1427 1261l64 -4M1299 1283l93 17M1177 1238l56 32M1396 1248l114 -8M1434 1260l52 -1M1577 1264l51 -22M1158 1246l77 43M1484 1262l115 -19M1757 1239l91 -75M1327 1179l42 14M1427 1204l116 -17M1412 1214l62 1M1302 1186l50 15M1405 1267l55 5M1070 1253l47 37M1692 1256l48 -27" stroke="#289aff" stroke-width="2" fill="none" stroke-linecap="butt"/>
<path d="M1394 970l29 -4M1388 867l25 -2M1525 1201l69 -23M1378 785l27 -0M1395 1164l57 1M1370 1142l48 12M1381 1126l77 9M1376 851l40 -5M1377 957l25 -3M1383 931l23 -4M1311 1161l110 29M1389 946l15 -2M1384 836l17 -2M1384 1160l92 12M1386 932l26 -1M1379 803l26 -2M1383 848l18 -2M1545 1147l97 -56M1437 1161l80 -3M1368 880l42 -1M1382 959l22 -3M1499 1137l61 -18M1470 1135l112 -35M1399 883l23 -2M1463 1122l98 -27M1502 1214l98 -33M1359 1083l71 17M1549 1198l106 -45M1396 975l19 -2M1510 1200l65 -16M1483 1142l43 -9M1500 1112l55 -14M1484 1170l88 -17M1431 1130l61 -4M1564 1134l55 -29M1392 987l21 -2M1561 1146l48 -25M1403 812l19 -3" stroke="#7cc0ff" stroke-width="4" fill="none" stroke-linecap="butt"/>
<path d="M1463 810l14 -6M1508 1038l69 -23M1500 1027l73 -21M1442 823l40 -10M1434 784l28 -9M1377 784l19 -1M1452 836l41 -17M1450 820l36 -13M1503 995l36 -17M1445 970l22 -5M1450 869l15 -4M1453 780l34 -11M1485 1026l77 -21" stroke="#021792" stroke-width="2" fill="none" stroke-linecap="butt"/>
<path d="M1424 928l38 -12M1442 1032l68 -11M1384 1014l99 -18M1401 1009l82 -17M1409 1025l102 -18M1434 969l25 -6M1431 940l15 -4M1457 1032l40 -9M1431 1042l55 -8M1395 840l42 -4M1467 1060l113 -31M1400 833l33 -6" stroke="#0851cc" stroke-width="4" fill="none" stroke-linecap="butt"/>
<path d="M1469 1064l68 -20M1424 1070l71 -4M1601 1237l78 -40M1591 1211l78 -38M1399 934l33 -6M1571 1209l40 -18M1659 1207l76 -52M1426 920l21 -3M1407 890l15 -2M1380 916l17 -2M1619 1246l95 -50M1566 1237l42 -13M1400 1035l78 -6M1409 894l38 -6M1367 1019l117 -18M1603 1248l103 -54" stroke="#0b74ea" stroke-width="2" fill="none" stroke-linecap="butt"/>
<path d="M1234 1241l91 30M1330 1171l78 13M1159 1254l83 45M1682 1259l92 -71M1377 1226l65 5M1584 1206l55 -23M1349 1181l69 11M1792 1313l73 -55M1651 1251l94 -61M1425 1181l77 -4M1523 1090l83 -48M1649 1290l96 -48M1338 1078l92 28M1720 1265l41 -27M1757 1263l63 -44M1350 1083l106 22M1385 1255l105 -2M1212 1240l90 36M1574 1212l97 -38M1662 1244l89 -61M1535 1236l101 -28M1426 1278l105 -12M1762 1223l52 -50M1639 1233l35 -20M1734 1237l51 -37M1384 772l36 -2M1601 1213l74 -42M1465 1256l85 -6M1413 990l16 -2M1364 1076l43 13M1275 1227l80 31M1471 1295l53 -7M1120 1233l81 51M1407 1091l118 -13M1513 1184l90 -30M1568 1240l75 -29M1487 1252l102 -22M1402 1062l81 2M1356 1221l43 8M1611 1194l100 -62M1182 1267l38 21M1186 1249l78 41M1572 1199l55 -20M988 1235l85 76M1651 1193l43 -27M1470 1092l112 -34M1319 1250l50 12M1309 1243l43 10M1105 1269l52 31M1583 1144l68 -34M1342 1077l64 22M1819 1226l31 -27M1609 1269l74 -39M1445 1263l95 -14M1597 1186l97 -67M1735 1314l71 -46M1563 1218l52 -19M1763 1228l72 -63M1019 1260l64 54M1417 1229l100 -6M1658 1248l82 -52M1769 1277l36 -24M1401 882l41 -7M1197 1264l105 50M1380 1238l107 11M1065 1249l61 46M1782 1226l56 -52M1322 1186l51 16M967 1230l83 80M1336 1252l69 10M1427 1233l52 -1M1616 1273l37 -17M1172 1273l66 31M1800 1234l54 -51M1301 1197l58 15M1477 1249l45 -3M1443 1248l80 -3M1785 1265l80 -81M1251 1203l93 43M1220 1249l86 32" stroke="#1792ff" stroke-width="2" fill="none" stroke-linecap="butt"/>
<path d="M1477 926l29 -11M1466 797l23 -10M1491 969l40 -16" stroke="#000056" stroke-width="2" fill="none" stroke-linecap="butt"/>
<path d="M1455 804l20 -6M1454 784l33 -9M1454 860l29 -11M1457 969l41 -15M1468 921l21 -7M1472 914l21 -8M1459 882l16 -5M1426 794l15 -3M1488 996l38 -17M1461 808l15 -4M1449 792l33 -10M1476 930l36 -13M1473 925l26 -10M1454 930l40 -14M1478 982l37 -15M1479 1000l19 -7M1460 943l33 -10" stroke="#0425a0" stroke-width="3" fill="none" stroke-linecap="butt"/>
<path d="M1471 1147l84 -16M1521 1119l51 -17M1404 1137l114 -3M1550 1120l74 -36M1497 1132l44 -8" stroke="#deefff" stroke-width="2" fill="none" stroke-linecap="butt"/>
<path d="M1363 1152l86 14M1430 1119l104 -16M1425 1129l88 -1M1366 1097l54 11M1464 1158l52 -6M1552 1198l84 -37M1413 1150l67 3M1350 1119l116 11M1504 1143l57 -12M1547 1117l56 -30M1386 1157l113 7M1538 1125l47 -22M1469 1117l56 -9M1456 1225l95 -19M1526 1099l79 -33M1532 1118l61 -30M1473 1115l115 -28M1536 1151l39 -12M1416 1117l84 -2M1374 1142l70 5M1401 1105l106 2M1346 1138l102 15M1484 1131l102 -27M1534 1200l79 -27M1464 1217l54 -7M1425 1154l73 -6" stroke="#7cc0ff" stroke-width="5" fill="none" stroke-linecap="butt"/>
<path d="M1469 1146l57 -5M1499 1149l72 -18M1372 1143l86 8M1476 1153l46 -5M1493 1147l60 -17M1457 1129l66 -12M1499 1139l111 -34M1498 1118l60 -16M1526 1123l102 -52M1535 1105l80 -34M1497 1156l44 -13M1525 1134l62 -19" stroke="#acd7ff" stroke-width="5" fill="none" stroke-linecap="butt"/>
<path d="M1503 1151l76 -28M1525 1117l90 -39M1480 1139l101 -25M1472 1120l71 -16M1564 1123l55 -26M1404 1146l67 1M1405 1131l73 -3M1386 1146l74 1M1421 1151l114 -8M1425 1157l80 -6M1518 1121l39 -10M1535 1125l95 -42" stroke="#acd7ff" stroke-width="3" fill="none" stroke-linecap="butt"/>
<path d="M1455 1146l48 -2M1435 1135l79 -12M1555 1125l72 -39M1535 1122l55 -21M1512 1119l54 -14M1544 1116l56 -22" stroke="#deefff" stroke-width="3" fill="none" stroke-linecap="butt"/>
<path d="M1484 928l32 -12M1474 999l30 -14M1462 822l39 -13M1475 896l28 -13M1478 856l22 -7M1498 942l20 -8M1504 971l21 -8M1458 908l37 -12M1465 873l33 -11M1454 907l28 -8M1481 938l39 -15" stroke="#000266" stroke-width="3" fill="none" stroke-linecap="butt"/>
<path d="M1422 987l34 -10M1463 1040l107 -32M1452 937l17 -6M1453 992l32 -9M1460 880l40 -13M1476 1043l68 -20M1422 833l39 -10M1435 1022l110 -24M1473 1024l70 -17M1454 788l17 -7M1479 1006l39 -17M1427 989l25 -7M1455 964l15 -4M1410 926l38 -10M1461 929l41 -15M1446 894l31 -9M1455 801l20 -6M1437 841l40 -13M1432 874l37 -10M1523 1036l39 -15" stroke="#0533af" stroke-width="3" fill="none" stroke-linecap="butt"/>
<path d="M1431 823l23 -7M1359 974l44 -2M1435 835l20 -4M1475 895l39 -15M1490 955l40 -14M1425 892l37 -8M1460 1015l108 -24M1462 774l32 -14M1443 976l34 -12M1490 931l22 -11M1431 919l36 -12M1435 813l27 -6" stroke="#000a84" stroke-width="3" fill="none" stroke-linecap="butt"/>
<path d="M1415 817l25 -7M1416 993l42 -11M1438 1063l107 -23M1422 917l33 -10M1420 930l15 -4M1420 918l23 -3M1404 1048l114 -12M1492 1057l50 -14M1416 1038l92 -10M1431 869l20 -6M1422 942l36 -11M1423 911l22 -4M1393 947l41 -9" stroke="#0963db" stroke-width="2" fill="none" stroke-linecap="butt"/>
<path d="M1480 1067l85 -33M1429 824l14 -3M1422 829l18 -5M1375 974l16 -2M1407 985l36 -7M1525 1065l37 -17M1465 1059l67 -18M1410 886l20 -3M1411 802l35 -5M1479 1058l69 -20M1429 1005l40 -11M1428 944l25 -7M1393 1035l102 -13M1418 1043l106 -16M1406 974l27 -4M1428 989l38 -13M1414 1055l117 -12" stroke="#0963db" stroke-width="3" fill="none" stroke-linecap="butt"/>
<path d="M1458 886l27 -9M1427 878l14 -3M1474 866l17 -7M1478 1020l46 -11M1448 960l22 -5M1491 963l23 -10M1435 942l16 -4M1442 936l21 -6" stroke="#021792" stroke-width="4" fill="none" stroke-linecap="butt"/>
<path d="M1470 914l26 -12M1453 938l26 -10M1438 887l26 -8M1470 988l28 -10M1444 946l37 -12M1443 896l40 -15" stroke="#000675" stroke-width="4" fill="none" stroke-linecap="butt"/>
<path d="M1683 1216l75 -61M1664 1251l64 -33M1425 1062l92 -16M1660 1212l75 -59M1634 1241l64 -32M1403 829l43 -10M1615 1233l89 -50M1392 990l31 -4M1649 1235l94 -70M1452 1054l44 -4M1432 1049l67 -3M1636 1202l67 -35M1391 956l41 -8M1413 987l40 -12M1496 1071l55 -15" stroke="#0b74ea" stroke-width="3" fill="none" stroke-linecap="butt"/>
<path d="M1540 1113l39 -13M1365 1131l103 17M1516 1153l106 -48M1386 1136l111 -2M1456 1127l110 -21M1366 1132l78 11M1505 1156l91 -30M1505 1116l70 -20" stroke="#acd7ff" stroke-width="2" fill="none" stroke-linecap="butt"/>
<path d="M1499 1072l46 -14M1406 1037l111 -11M1402 1054l115 -2M1479 1071l49 -15M1416 1016l47 -7M1462 1046l55 -11M1459 1054l41 -7" stroke="#0963db" stroke-width="5" fill="none" stroke-linecap="butt"/>
<path d="M1619 1238l69 -31M1425 1000l18 -3M1418 922l15 -4M1686 1226l40 -24M1633 1207l56 -33M1689 1230l83 -53M1410 827l31 -7M1643 1197l72 -52M1418 995l35 -6M1377 911l21 -1M1365 1016l112 -19M1446 1059l56 -7M1693 1222l52 -40M1665 1200l90 -62M1421 1036l58 -4M1613 1237l85 -38M1425 1061l102 -11" stroke="#0b74ea" stroke-width="4" fill="none" stroke-linecap="butt"/>
<path d="M1430 808l14 -2M1493 991l28 -10M1476 963l40 -14M1436 867l33 -8M1469 886l17 -7M1488 976l16 -6M1422 812l31 -9M1452 804l21 -7M1429 878l24 -8M1486 998l29 -10M1439 873l21 -7M1469 879l17 -5M1494 1047l96 -36M1480 914l15 -7M1453 807l19 -5M1448 800l38 -12M1452 832l23 -7M1428 960l24 -6" stroke="#021792" stroke-width="3" fill="none" stroke-linecap="butt"/>
<path d="M1413 1142l96 1M1378 1147l78 7M1441 1138l117 -25M1508 1116l83 -25M1489 1131l77 -18M1478 1131l74 -16M1413 1122l118 -12M1460 1123l101 -24M1546 1123l54 -23M1502 1118l48 -13M1452 1137l103 -25M1451 1161l110 -23M1400 1120l112 2M1394 1123l50 8M1518 1120l55 -23" stroke="#acd7ff" stroke-width="4" fill="none" stroke-linecap="butt"/>
<path d="M1650 1223l61 -35M1415 1033l52 -6M1459 1054l59 -10M1614 1241l89 -50M1344 1011l68 -9M1650 1234l72 -43M1682 1236l90 -66M1616 1199l91 -54M1439 1056l66 -9M1697 1232l51 -33" stroke="#0b74ea" stroke-width="5" fill="none" stroke-linecap="butt"/>
<path d="M1478 960l25 -11M1463 813l17 -6M1464 951l39 -15M1439 911l31 -9" stroke="#000675" stroke-width="3" fill="none" stroke-linecap="butt"/>
<path d="M1377 841l19 -1M1406 989l43 -11M1452 997l29 -12M1436 823l16 -5M1448 1047l83 -15M1445 946l40 -15M1455 994l43 -13M1438 810l29 -6M1438 900l39 -12M1403 857l43 -10M1428 877l31 -7M1470 1040l86 -23M1443 936l27 -9M1429 785l25 -7M1465 1043l59 -14M1446 820l18 -6M1438 839l25 -5M1440 933l35 -9M1434 874l29 -9M1439 1043l62 -12" stroke="#0741bd" stroke-width="3" fill="none" stroke-linecap="butt"/>
<path d="M1469 880l32 -14M1490 974l18 -9M1473 869l18 -8M1458 771l14 -5M1458 843l28 -11M1487 907l25 -8" stroke="#000056" stroke-width="3" fill="none" stroke-linecap="butt"/>
<path d="M1414 857l32 -5M1454 1039l87 -19M1444 979l32 -9M1430 889l30 -9M1422 912l40 -10M1450 1061l96 -18M1419 913l43 -12M1454 1052l112 -33" stroke="#0851cc" stroke-width="2" fill="none" stroke-linecap="butt"/>
<path d="M1467 886l41 -16M1509 979l20 -10" stroke="#000047" stroke-width="4" fill="none" stroke-linecap="butt"/>
<path d="M1433 884l39 -13M1507 1000l41 -16M1435 793l14 -3M1438 778l37 -13M1482 1006l51 -11M1436 980l22 -5M1470 1000l21 -9" stroke="#000a84" stroke-width="4" fill="none" stroke-linecap="butt"/>
<path d="M1461 869l13 -4M1501 988l25 -11M1454 796l20 -8M1465 891l34 -14M1476 947l22 -8M1476 955l34 -12M1480 962l40 -18M1477 924l30 -10" stroke="#000266" stroke-width="2" fill="none" stroke-linecap="butt"/>
<path d="M1448 1021l116 -27" stroke="#0425a0" stroke-width="5" fill="none" stroke-linecap="butt"/>
<path d="M1550 1123l66 -31M1444 1135l92 -14M1537 1135l100 -58M1496 1143l102 -39M1442 1131l56 -2M1542 1120l88 -41M1519 1133l84 -36" stroke="#deefff" stroke-width="5" fill="none" stroke-linecap="butt"/>
<path d="M1526 1079l73 -37M1457 1029l62 -15M1405 1017l74 -13M1465 1058l95 -32" stroke="#0741bd" stroke-width="5" fill="none" stroke-linecap="butt"/>
<path d="M1474 1010l47 -10M1505 1017l44 -11M1519 1023l42 -13" stroke="#000a84" stroke-width="5" fill="none" stroke-linecap="butt"/>
<path d="M1540 1118l50 -20M1405 1140l83 5M1483 1137l81 -25M1525 1134l82 -28" stroke="#deefff" stroke-width="4" fill="none" stroke-linecap="butt"/>
<path d="M1431 861l43 -9M1511 1015l47 -12M1514 998l22 -10M1446 900l30 -11" stroke="#000a84" stroke-width="2" fill="none" stroke-linecap="butt"/>
<path d="M1501 1036l66 -19" stroke="#0533af" stroke-width="5" fill="none" stroke-linecap="butt"/>
<path d="M1494 987l35 -16" stroke="#000047" stroke-width="3" fill="none" stroke-linecap="butt"/>
<path d="M1451 772l17 -6M1463 780l14 -4" stroke="#000675" stroke-width="2" fill="none" stroke-linecap="butt"/>
<path d="M1484 996l24 -10M1468 826l14 -5" stroke="#000266" stroke-width="4" fill="none" stroke-linecap="butt"/>
<path d="M1477 1013l77 -17M1499 1038l72 -22" stroke="#021792" stroke-width="5" fill="none" stroke-linecap="butt"/>
<path d="M1496 939l16 -7" stroke="#000047" stroke-width="2" fill="none" stroke-linecap="butt"/></g>
<path d="M1484.5 763.1L1484.8 766.8L1468.1 771.0ZM1484.9 767.7L1485.1 770.2L1469.0 774.8ZM1485.5 774.4L1485.8 777.6L1464.3 783.8ZM1486.1 781.3L1486.4 784.7L1469.3 789.2ZM1486.6 786.4L1486.9 789.7L1468.4 794.8ZM1487.3 794.5L1487.6 797.2L1465.1 804.1ZM1487.9 801.4L1488.2 804.6L1471.2 809.3ZM1488.4 806.2L1488.6 808.7L1472.0 813.6ZM1489.1 813.8L1489.4 817.2L1470.9 822.3ZM1489.7 820.8L1490.1 824.7L1473.9 828.7ZM1490.3 827.8L1490.7 831.8L1466.1 838.9ZM1491.1 833.7L1491.9 838.1L1473.1 842.8ZM1492.4 840.9L1493.1 844.5L1473.9 849.7ZM1493.3 845.8L1494.1 850.2L1471.4 856.4ZM1494.6 853.4L1495.4 857.6L1477.8 862.0ZM1495.8 860.0L1496.6 864.4L1470.3 872.0ZM1496.6 864.5L1497.2 867.9L1477.0 873.8ZM1497.6 869.9L1498.2 873.4L1471.7 881.5ZM1498.6 875.2L1499.1 878.0L1479.7 883.9ZM1499.8 882.4L1500.5 886.0L1474.4 894.0ZM1500.7 887.2L1501.1 889.7L1482.7 895.4ZM1501.7 892.6L1502.4 896.9L1484.5 901.4ZM1503.1 899.6L1503.8 902.2L1483.9 908.4ZM1504.2 903.8L1505.0 906.9L1481.9 914.0ZM1505.9 910.4L1506.8 913.8L1487.1 919.5ZM1507.6 916.6L1508.5 920.1L1483.7 927.8ZM1508.7 921.0L1509.4 923.5L1481.7 932.8ZM1510.6 928.2L1511.3 930.9L1487.9 938.5ZM1511.9 932.9L1512.7 936.1L1485.9 944.8ZM1513.6 939.6L1514.5 942.7L1495.3 948.5ZM1515.0 944.7L1516.1 948.7L1492.0 955.8ZM1517.0 952.1L1517.7 955.0L1488.7 964.8ZM1518.5 958.0L1519.6 962.3L1495.5 969.3ZM1519.7 962.5L1520.7 966.3L1501.1 971.9ZM1521.7 968.1L1523.1 970.7L1495.9 979.8ZM1524.1 972.7L1526.1 976.5L1506.0 982.2ZM1527.5 979.3L1529.5 983.1L1509.2 988.8ZM1530.7 985.5L1532.5 988.9L1507.5 996.8ZM1533.7 991.4L1535.1 994.0L1514.9 1000.5ZM1536.8 997.4L1538.1 999.9L1514.5 1007.8ZM1538.7 1001.2L1540.5 1004.6L1517.6 1011.7ZM1541.1 1005.7L1543.1 1009.3L1513.7 1018.9ZM1544.6 1012.2L1546.3 1015.4L1521.5 1023.4ZM1547.7 1017.9L1549.4 1021.2L1522.4 1030.1ZM1550.1 1022.6L1551.6 1025.3L1529.4 1032.6ZM1552.5 1026.9L1553.9 1029.7L1532.3 1036.7Z" fill="#000"/>
<path d="M1554.1 1029.7L1557.1 1036.2L1523.3 1044.7ZM1560.5 1043.5L1563.1 1049.2L1531.4 1057.3ZM1564.2 1051.5L1566.9 1057.3L1525.3 1068.8ZM1571.0 1063.8L1574.4 1068.6L1531.4 1080.9ZM1575.8 1070.6L1579.2 1075.4L1543.2 1085.1ZM1581.0 1078.3L1585.3 1082.9L1540.3 1095.7ZM1588.6 1086.4L1593.2 1091.3L1544.1 1105.2ZM1596.5 1094.8L1601.1 1099.9L1548.4 1114.9ZM1604.3 1104.0L1610.0 1108.8L1565.9 1120.7ZM1610.9 1109.6L1615.7 1113.5L1573.0 1125.4ZM1618.6 1116.0L1622.4 1118.5L1568.5 1135.0ZM1625.6 1120.7L1629.5 1123.3L1584.0 1136.8ZM1631.7 1124.7L1635.7 1127.4L1592.5 1140.0ZM1638.4 1128.7L1642.5 1130.3L1594.9 1144.9ZM1648.6 1132.6L1655.7 1135.3L1600.9 1151.1ZM1663.6 1138.4L1667.9 1140.1L1610.8 1157.5ZM1674.5 1142.7L1679.5 1144.7L1627.6 1160.0ZM1685.4 1146.2L1687.0 1152.0L1637.5 1165.0Z" fill="#000"/>
<polygon points="1677,1146 1686,1150 1684,1170 1662,1189" fill="#000"/>
<polygon points="1836,1222 1830,1236 1826,1254 1836,1254" fill="#000"/>
<path d="M1366.1 1032.7L1366.0 1036.3L1389.8 1036.6ZM1365.9 1038.9L1365.8 1041.7L1386.5 1041.9ZM1365.7 1044.9L1365.6 1047.9L1385.4 1047.6ZM1365.5 1052.4L1365.4 1056.4L1386.9 1055.4ZM1365.2 1059.9L1365.2 1062.8L1385.6 1062.0ZM1365.1 1065.9L1365.0 1069.1L1391.5 1068.1ZM1364.9 1071.9L1364.7 1076.4L1384.3 1074.3ZM1364.7 1077.5L1364.6 1082.0L1385.9 1079.7ZM1364.6 1082.5L1364.4 1086.7L1383.8 1084.4ZM1364.4 1088.4L1364.3 1091.0L1384.6 1089.2ZM1364.2 1095.5L1364.1 1098.1L1392.4 1095.8ZM1364.0 1101.2L1362.6 1104.9L1389.3 1101.7ZM1361.7 1107.3L1360.1 1111.3L1387.2 1107.6ZM1360.1 1111.5L1358.5 1115.5L1379.9 1112.0ZM1358.2 1116.4L1357.3 1118.7L1381.7 1115.6ZM1356.9 1119.7L1355.7 1122.8L1377.9 1119.3ZM1355.3 1123.9L1354.3 1126.6L1374.6 1123.3ZM1353.0 1129.9L1351.5 1133.8L1371.9 1129.6ZM1350.2 1137.4L1348.5 1141.5L1375.5 1136.1ZM1347.6 1144.1L1346.6 1147.5L1368.3 1142.8ZM1345.7 1150.2L1344.5 1154.1L1369.9 1148.3ZM1343.5 1157.2L1342.6 1160.1L1369.4 1154.2ZM1341.2 1164.7L1340.3 1167.5L1361.9 1162.2ZM1339.6 1169.3L1338.0 1173.0L1359.0 1167.2ZM1337.7 1174.0L1336.5 1176.8L1366.4 1169.3ZM1336.0 1177.9L1334.7 1181.0L1364.4 1173.2ZM1332.8 1183.4L1329.8 1185.7L1352.8 1179.6ZM1327.8 1187.4L1324.6 1189.9L1345.9 1183.8ZM1321.5 1192.3L1318.4 1194.8L1344.1 1187.2ZM1316.3 1196.5L1314.1 1198.1L1337.0 1191.3ZM1311.4 1200.4L1308.2 1202.8L1339.5 1193.0ZM1306.3 1204.4L1303.2 1206.9L1330.3 1197.8ZM1300.5 1209.0L1297.1 1211.7L1329.1 1200.6ZM1296.6 1212.1L1293.2 1214.7L1316.0 1206.4ZM1290.6 1215.9L1287.8 1217.4L1313.8 1208.1ZM1283.9 1219.5L1281.6 1220.7L1312.1 1209.4ZM1278.5 1222.4L1274.8 1224.3L1297.4 1215.5ZM1273.3 1225.2L1270.6 1226.6L1292.8 1217.7ZM1267.3 1228.4L1264.8 1229.7L1290.2 1219.2ZM1261.8 1231.3L1257.9 1233.3L1289.4 1219.8ZM1256.4 1234.2L1254.1 1235.4L1276.1 1225.7ZM1250.4 1237.4L1246.4 1239.5L1277.6 1225.2Z" fill="#000010"/>
<clipPath id="csw"><polygon points="650.0,1036.0 700.0,1034.0 800.0,1034.0 900.0,1034.0 1000.0,1034.0 1000.0,1262.0 905.0,1259.0 840.0,1250.0 790.0,1239.0 748.0,1224.0 700.0,1198.0 655.0,1171.0 652.0,1145.0 637.0,1100.0 640.0,1060.0"/></clipPath>
<g clip-path="url(#csw)"><path d="M789 1148l27 -5M889 1161l12 -10M773 1193l21 0M839 1090l25 -12M793 1102l18 -3M811 1089l15 -4M718 1194l17 2M835 1054l24 -14M871 1106l25 -20M871 1130l26 -20M787 1121l31 -7M866 1073l27 -24M919 1139l8 -10M718 1049l25 3M898 1158l13 -15M780 1105l12 -1M759 1196l34 -1M880 1122l23 -21M783 1089l37 -5M851 1161l12 -7M901 1101l19 -25M964 1073l8 -14M908 1136l13 -15M844 1082l28 -16M776 1122l15 -0M810 1133l19 -4M863 1091l28 -21" stroke="#0741bd" stroke-width="3" fill="none" stroke-linecap="butt"/>
<path d="M861 1089l25 -16M681 1046l21 4M909 1166l20 -26M837 1109l15 -6M830 1127l31 -17M661 1170l25 4M788 1067l38 -5M813 1126l35 -14M753 1054l36 -2M898 1079l19 -26M652 1067l24 5M816 1160l23 -6M871 1125l22 -19M856 1091l28 -22M848 1087l22 -16M766 1056l17 -0M652 1101l15 3M784 1082l16 -3M657 1055l26 8M758 1061l36 1M648 1130l22 6M659 1132l35 10M765 1191l29 3M635 1104l30 8M907 1119l14 -15M778 1062l17 -1M823 1102l32 -15M720 1112l22 2M920 1103l13 -20M885 1174l23 -22M853 1156l31 -18M682 1110l29 6M722 1047l21 2M841 1119l11 -6M846 1177l28 -11M839 1088l14 -7M832 1145l25 -11M650 1166l14 2M669 1070l29 6M638 1053l29 4M668 1130l19 3M675 1186l38 7M851 1164l14 -9M922 1129l12 -16M816 1158l15 -6M931 1098l15 -25" stroke="#4eabff" stroke-width="4" fill="none" stroke-linecap="butt"/>
<path d="M714 1097l21 5M745 1095l28 4M670 1119l33 9M776 1152l13 -1M658 1067l32 9M952 1128l15 -30M668 1079l22 5M929 1084l10 -16M773 1136l15 0M985 1121l11 -25M720 1134l29 5M881 1103l16 -13M670 1118l21 3M663 1154l23 6M746 1191l34 0M984 1113l10 -21M710 1172l27 5M753 1075l20 -0M656 1129l22 6M665 1055l35 8M711 1154l34 7M734 1067l39 5M653 1051l22 3M688 1166l31 8M681 1121l22 3M719 1099l19 3M733 1093l23 2M691 1155l17 2M988 1136l12 -30M697 1135l31 7M679 1173l14 3M973 1153l16 -36M958 1137l19 -34M952 1167l9 -12M946 1125l18 -29M948 1114l6 -13M896 1145l19 -19M697 1069l13 3M929 1064l8 -12M730 1106l27 2M728 1102l29 2M631 1100l28 5M756 1147l16 1M708 1184l31 6M735 1084l30 5M913 1107l22 -33M749 1100l23 -0M754 1155l25 2M737 1194l29 3M747 1134l26 3M642 1134l28 7M710 1178l34 5M657 1050l34 6M641 1159l35 5" stroke="#0d85f8" stroke-width="4" fill="none" stroke-linecap="butt"/>
<path d="M848 1229l21 -3M881 1057l14 -13M991 1126l10 -24M770 1205l14 1M717 1199l29 5M836 1207l25 -5M805 1050l32 -8M991 1118l14 -35M933 1182l18 -23M997 1092l5 -12M809 1193l13 -1M860 1237l28 -5M952 1069l6 -12" stroke="#000047" stroke-width="4" fill="none" stroke-linecap="butt"/>
<path d="M831 1165l25 -12M839 1117l34 -18M758 1098l33 -1M721 1101l30 6M646 1069l18 3M835 1096l21 -10M778 1148l17 -1M786 1058l23 -3M793 1156l33 -4M645 1093l20 3M839 1082l12 -6M790 1190l39 -5M680 1069l15 3M907 1125l15 -21M856 1153l10 -6M853 1146l28 -16M855 1182l33 -20M656 1132l28 5M807 1120l20 -4" stroke="#4eabff" stroke-width="3" fill="none" stroke-linecap="butt"/>
<path d="M694 1072l27 4M665 1124l21 5M651 1121l29 5M680 1142l34 9M795 1119l28 -6M652 1062l27 7M701 1126l35 9M688 1099l30 8M653 1164l26 6M682 1186l15 4M742 1063l17 2M709 1168l28 7M748 1137l12 2M691 1173l27 4M755 1182l19 2M658 1085l24 7M686 1087l32 5M730 1151l35 4M711 1102l14 4M638 1075l17 3M639 1077l29 7M697 1111l26 5M849 1145l27 -18M688 1045l34 10M643 1092l30 9M701 1188l25 5M760 1188l38 -2M702 1114l35 7M663 1098l33 6M833 1141l14 -6M762 1159l22 -1M657 1120l39 7M703 1072l21 5M742 1068l37 3M672 1134l18 5M722 1123l15 3M685 1063l32 4M712 1124l40 3M758 1135l31 -2M688 1065l13 2M698 1164l36 7M762 1142l14 1M707 1101l33 7M650 1113l39 5M673 1116l18 3M760 1196l12 1M741 1105l25 4M784 1108l12 -1M702 1086l29 6M727 1091l33 6M676 1128l16 2M683 1068l37 9M645 1120l24 6M629 1073l36 9M653 1113l34 5M682 1159l15 3M774 1088l38 -7M686 1096l39 6M644 1165l39 6M661 1124l34 5M660 1111l29 9M722 1146l25 5M661 1089l15 2M668 1079l22 5M670 1062l13 3M631 1093l25 7M761 1185l18 2M642 1055l26 6M672 1173l27 5M656 1125l39 6M641 1137l37 10M781 1106l36 -4M706 1167l21 3M658 1147l32 4M734 1192l40 2M747 1172l12 0M668 1178l22 3M764 1150l38 0M715 1070l17 2M671 1175l24 6M724 1116l20 2M754 1175l28 2M643 1080l34 6M722 1178l36 7M715 1101l38 3M696 1156l33 5M643 1096l35 8M743 1138l19 3M675 1156l36 6" stroke="#deefff" stroke-width="4" fill="none" stroke-linecap="butt"/>
<path d="M811 1114l30 -12M805 1118l35 -8M886 1102l15 -13M844 1125l30 -18M870 1093l12 -8M831 1129l29 -15M753 1176l15 -0M859 1150l19 -13M927 1096l14 -25M956 1182l20 -30M989 1160l13 -27M881 1160l22 -22M913 1126l13 -15M772 1087l39 -6M856 1169l15 -9M817 1103l14 -4M780 1097l33 -4M786 1117l24 -2M785 1101l19 -2M927 1139l16 -23M811 1073l18 -4M773 1139l37 -6M785 1137l23 -3M626 1090l27 4M677 1039l24 6M884 1163l26 -29M812 1048l15 -3M900 1088l17 -22" stroke="#0741bd" stroke-width="5" fill="none" stroke-linecap="butt"/>
<path d="M775 1195l29 -1M856 1063l16 -10M888 1077l19 -22M764 1115l23 -0M766 1172l20 2M852 1098l30 -21M803 1164l28 -5M747 1099l15 2M776 1139l22 -0M853 1175l30 -21M750 1168l37 1M746 1125l16 1M789 1079l12 -2M810 1156l18 -5M842 1068l30 -18M763 1151l20 0M822 1131l22 -10M794 1151l33 -7M861 1080l27 -20M769 1054l18 -0M732 1050l19 3M783 1115l25 -2M856 1091l11 -7M780 1176l38 -5M769 1176l12 1M734 1087l27 4M813 1099l29 -10M790 1073l22 -3M804 1075l15 -3M791 1137l29 -5M788 1130l29 -6" stroke="#0851cc" stroke-width="3" fill="none" stroke-linecap="butt"/>
<path d="M652 1063l28 7M734 1102l14 1M921 1129l9 -13M699 1130l27 7M649 1138l22 6M700 1097l24 6M668 1141l19 6M912 1120l16 -20M847 1090l31 -18M717 1133l19 2M650 1100l31 6M646 1069l24 4M715 1143l27 4M869 1120l29 -23M686 1069l35 7M905 1071l11 -13M706 1105l27 5M933 1155l7 -11M718 1113l22 3M694 1160l25 4M705 1108l19 2M943 1142l9 -14M646 1137l30 9M653 1066l36 9M683 1115l25 5M884 1131l20 -21M712 1107l19 2M891 1122l10 -11" stroke="#1792ff" stroke-width="3" fill="none" stroke-linecap="butt"/>
<path d="M746 1099l26 0M676 1166l32 5M931 1132l13 -22M946 1099l17 -34M782 1073l31 -3M785 1087l35 -3M689 1174l26 5M677 1044l28 7M729 1149l32 3M702 1110l33 8M779 1171l39 -1M706 1147l24 5M748 1152l25 1M674 1125l29 6M720 1193l15 3M738 1082l25 1M826 1150l29 -15M787 1091l36 -3M767 1096l33 -1M793 1065l38 -6M711 1096l30 7M713 1068l14 4M766 1080l37 1M719 1155l29 5M751 1195l29 3M688 1054l21 5" stroke="#0b74ea" stroke-width="5" fill="none" stroke-linecap="butt"/>
<path d="M914 1179l26 -27M931 1123l14 -22M970 1228l16 -9M957 1227l19 -11M983 1059l7 -13M955 1199l22 -20M946 1250l36 -12M873 1092l18 -15M794 1038l30 -7M730 1039l36 2M945 1188l21 -20M755 1221l20 3M922 1180l17 -22M921 1080l16 -21M926 1245l14 -5M922 1068l9 -10M978 1070l10 -22M912 1199l25 -20M978 1249l15 -5M695 1036l35 10M935 1085l17 -24M917 1050l21 -25M888 1123l12 -13M905 1089l9 -10M894 1062l21 -24M938 1078l6 -11M859 1061l29 -19" stroke="#021792" stroke-width="5" fill="none" stroke-linecap="butt"/>
<path d="M645 1058l27 7M730 1110l19 4M653 1083l27 4M650 1172l30 5M665 1151l24 5M704 1116l14 4M652 1108l22 4M779 1129l35 -5M791 1191l15 -2M669 1071l19 3M722 1137l23 5M705 1099l18 5M831 1147l21 -8M786 1178l38 -2M708 1120l21 6M651 1047l19 4M747 1168l20 2M668 1081l15 3M725 1118l18 4M643 1123l30 8M647 1156l28 6M717 1113l30 6M651 1078l13 3M688 1062l25 7M675 1134l23 7M773 1070l39 -6M726 1089l25 2M709 1132l16 4M716 1106l31 6M682 1132l26 3M783 1129l23 -3M737 1076l17 2M759 1131l23 1M785 1126l21 -1M840 1138l16 -7M709 1142l18 4M721 1157l25 3M683 1086l37 5M672 1100l24 4M700 1139l26 6M713 1085l32 5M674 1140l19 4M762 1115l28 0M720 1138l16 3M735 1116l26 2M739 1196l22 1M767 1071l24 0M653 1159l24 4M692 1098l29 7M726 1183l19 4" stroke="#deefff" stroke-width="5" fill="none" stroke-linecap="butt"/>
<path d="M749 1157l14 1M897 1064l12 -14M728 1182l18 3M690 1106l17 4M692 1082l15 4M697 1168l28 7M740 1194l20 4M667 1063l24 7M697 1111l26 7M711 1127l16 4M693 1146l35 9M689 1144l26 4M768 1188l19 -0M913 1129l8 -12M709 1163l28 5M951 1082l7 -14M962 1166l12 -18M637 1120l33 8M736 1131l29 5M907 1117l19 -25M774 1057l23 -1M690 1111l21 5M967 1121l11 -28M679 1173l12 3M644 1093l28 6M679 1167l17 4M770 1118l31 -0M702 1047l32 8" stroke="#0d85f8" stroke-width="5" fill="none" stroke-linecap="butt"/>
<path d="M746 1035l20 1M970 1083l11 -30M893 1234l29 -7M993 1197l12 -14M873 1238l19 -5M803 1050l13 -2M788 1211l31 -4M766 1045l32 -2M908 1180l14 -11M860 1189l27 -17M931 1058l19 -32M894 1230l17 -5M960 1256l26 -7M895 1218l29 -16M970 1163l7 -15M875 1217l30 -13M972 1225l25 -14M894 1255l27 -4M761 1047l27 -1M874 1063l20 -17M947 1187l17 -19M988 1139l8 -17" stroke="#000675" stroke-width="3" fill="none" stroke-linecap="butt"/>
<path d="M737 1152l23 4M776 1169l32 -1M718 1058l26 2M823 1126l33 -15M778 1147l30 -1M718 1162l36 8M790 1107l24 -4M736 1065l27 3M723 1049l23 3M713 1159l28 4M738 1082l22 1M760 1062l29 -2M817 1066l12 -3M727 1093l40 3M640 1057l14 2M747 1133l35 5M796 1092l38 -8M727 1050l34 4M724 1137l15 3M719 1089l25 3M753 1150l22 0M729 1169l33 3M741 1091l32 2M792 1187l16 -2M752 1100l33 -2M698 1118l39 5" stroke="#acd7ff" stroke-width="4" fill="none" stroke-linecap="butt"/>
<path d="M806 1156l12 -3M793 1217l29 0M750 1061l28 1M754 1097l30 -1M755 1215l14 1M804 1210l15 -0M923 1155l18 -31M839 1240l17 -2M693 1035l28 7M782 1082l18 -1M862 1054l28 -17M729 1037l38 6M918 1105l22 -28M779 1221l19 2M807 1229l21 -1M834 1057l29 -12M787 1214l39 -1M914 1154l17 -25M765 1135l31 -1M882 1144l9 -9M968 1173l7 -10M906 1096l16 -18M855 1050l21 -16M845 1244l31 -5M820 1221l23 -1M752 1224l39 5M783 1229l21 -0M842 1189l20 -7M782 1081l13 -2M883 1177l14 -9M872 1061l27 -22M719 1204l39 4M809 1228l12 -1M857 1195l12 -5M996 1074l7 -14M702 1036l21 4M803 1053l18 -4M912 1150l9 -10M814 1243l36 -4M856 1169l18 -9M810 1202l28 -2M791 1218l23 -1M655 1036l12 2M785 1136l25 -3M854 1182l16 -6M797 1211l21 -1M745 1225l24 1M696 1033l22 6M821 1212l14 -2M833 1217l27 -5M767 1042l29 -2M815 1229l24 -1M973 1175l18 -25M848 1208l17 -4" stroke="#000014" stroke-width="4" fill="none" stroke-linecap="butt"/>
<path d="M898 1095l10 -10M805 1056l18 -5M941 1153l14 -27M827 1154l22 -8M829 1076l33 -17M862 1078l19 -15M894 1129l16 -18M841 1080l22 -13M957 1134l8 -14M920 1170l18 -18M878 1108l26 -25M927 1085l13 -22M926 1146l21 -33M775 1053l26 -3M865 1109l14 -9M855 1136l15 -10M840 1126l28 -14M896 1152l10 -11M622 1083l35 8M836 1063l31 -20M960 1136l15 -34M814 1074l12 -4M902 1124l18 -18M779 1196l27 -2M811 1064l19 -4M792 1183l38 -5M950 1085l19 -31M937 1091l19 -31M860 1084l24 -20M915 1083l19 -29M812 1085l28 -10M808 1133l19 -6" stroke="#0533af" stroke-width="5" fill="none" stroke-linecap="butt"/>
<path d="M773 1159l22 -2M721 1141l33 6M773 1094l21 -2M773 1083l15 -0M798 1180l22 -1M696 1054l26 4M779 1080l14 -2M763 1113l22 1M663 1178l33 9M747 1067l14 2M774 1076l20 -2M701 1063l34 4M804 1136l20 -5M764 1161l32 -2M727 1142l15 2M856 1137l19 -14M728 1129l35 6M967 1093l11 -26M792 1064l23 -3M691 1045l19 5M762 1085l23 -1M717 1089l16 3M769 1108l37 -3M756 1128l35 -2M983 1166l7 -14M834 1086l26 -12M801 1139l35 -7M764 1071l27 1M758 1130l13 2M849 1144l29 -22M807 1076l28 -5M726 1135l19 3M753 1194l15 2M828 1171l29 -9M751 1147l34 2M780 1200l20 1M802 1147l19 -6M938 1069l6 -13M640 1138l35 9M754 1072l33 2M816 1106l17 -4M734 1138l26 2M702 1165l34 6M734 1129l29 5M971 1092l14 -33M811 1166l35 -10M755 1089l27 1M792 1060l39 -7M757 1144l29 1M725 1168l36 2M740 1193l14 3M732 1111l26 1M827 1171l23 -8M777 1130l25 -4M735 1139l22 2M696 1046l33 9M823 1134l35 -18M755 1177l32 -1M792 1132l19 -2M711 1160l14 4M740 1182l38 2M782 1181l31 -3M716 1179l18 2M700 1180l25 6" stroke="#0963db" stroke-width="4" fill="none" stroke-linecap="butt"/>
<path d="M857 1243l20 -1M863 1229l21 -5M762 1213l13 1M970 1122l9 -16M776 1211l34 -1M826 1211l37 -11M814 1237l34 -3M950 1177l10 -15M820 1238l37 -1M846 1202l34 -9M749 1096l32 -1M829 1052l33 -18M854 1199l28 -9M915 1060l15 -17M796 1228l38 2M831 1190l21 -5M856 1249l34 -3M819 1243l20 -2M845 1238l36 -3M725 1217l31 5M837 1207l36 -8M787 1229l31 -1M775 1218l16 0M846 1242l34 -7M850 1235l14 -3M737 1034l26 5M823 1196l31 -9M835 1203l28 -10M942 1174l9 -11M868 1208l15 -5M794 1213l22 -2M860 1210l33 -9" stroke="#00000c" stroke-width="4" fill="none" stroke-linecap="butt"/>
<path d="M881 1143l19 -16M671 1172l33 8M655 1065l26 4M953 1114l14 -31M812 1142l36 -13M671 1050l13 4M935 1106l7 -12M662 1087l30 8M721 1113l37 5M631 1086l29 4M687 1097l19 3M656 1089l26 6M701 1168l19 5M821 1155l20 -5M688 1125l22 5M690 1044l18 3M675 1167l22 4M689 1106l25 7M658 1120l27 8M857 1072l22 -15M661 1056l22 7M917 1176l26 -30M829 1173l13 -4M671 1158l36 5M839 1134l30 -15M667 1088l19 5M882 1121l13 -13M697 1110l21 4M690 1074l23 4M662 1151l24 4M671 1052l36 8M919 1106l8 -12M672 1089l23 3M675 1103l28 4M851 1095l15 -9M671 1130l30 7M944 1169l22 -33M651 1110l29 5M721 1114l17 4M644 1083l18 4M805 1149l18 -5M797 1178l21 -1M688 1179l37 7M898 1153l26 -30M961 1090l12 -23" stroke="#289aff" stroke-width="4" fill="none" stroke-linecap="butt"/>
<path d="M935 1163l14 -22M804 1058l25 -7M991 1145l17 -33M726 1202l20 3M956 1072l9 -22M814 1096l23 -9M867 1093l14 -12M792 1105l36 -8M820 1084l13 -5M876 1165l26 -23M844 1168l33 -20M823 1149l20 -6M899 1168l19 -21M818 1183l18 -4M954 1097l12 -25M919 1102l12 -16M839 1063l11 -5M831 1083l27 -10M872 1078l28 -26M935 1128l12 -22M842 1089l33 -16M897 1171l20 -17M883 1179l30 -22" stroke="#0533af" stroke-width="3" fill="none" stroke-linecap="butt"/>
<path d="M909 1204l27 -21M967 1129l6 -12M970 1164l7 -14M774 1048l25 -3M921 1262l34 -7M912 1188l16 -14M920 1152l12 -15M928 1117l12 -22M918 1120l12 -15M912 1074l19 -26M948 1078l9 -19M949 1247l18 -6M941 1232l14 -6M921 1134l10 -14M930 1239l35 -12M773 1048l32 -1M709 1194l37 7M870 1053l22 -15M883 1240l32 -7M824 1182l30 -10M980 1123l7 -13M943 1143l13 -27M887 1177l29 -23M747 1038l15 2M944 1243l18 -5M951 1090l12 -26M991 1230l14 -7M916 1210l22 -11M877 1149l29 -23M904 1043l14 -15M919 1163l22 -33M879 1076l20 -16M907 1134l14 -18M936 1088l11 -15M768 1041l20 1M867 1175l16 -9M987 1183l14 -24M960 1090l9 -19M931 1073l12 -19M966 1159l10 -20M979 1207l30 -25M960 1136l6 -11M965 1116l11 -21M910 1080l10 -11M980 1093l8 -15M946 1215l26 -19M974 1238l18 -8M984 1095l12 -25" stroke="#021792" stroke-width="3" fill="none" stroke-linecap="butt"/>
<path d="M850 1245l25 -3M851 1253l33 -5M851 1244l33 -2M979 1069l7 -17M841 1194l24 -7M778 1207l39 -2M793 1041l24 -5M828 1049l33 -14M859 1238l14 -3M824 1208l14 -2M846 1246l21 -2M821 1236l21 -1M858 1251l36 -2M840 1221l19 -5M818 1198l38 -6M846 1252l34 -1M821 1213l32 -7M819 1213l15 -3" stroke="#000004" stroke-width="3" fill="none" stroke-linecap="butt"/>
<path d="M784 1040l24 -3M806 1069l23 -7M762 1224l19 1M804 1192l14 -2M859 1233l27 -3M845 1197l13 -4M883 1156l16 -16M765 1040l37 -5M872 1077l17 -16M981 1108l16 -35M755 1112l22 3M829 1206l29 -5M850 1154l28 -15M779 1039l23 -1M766 1203l36 0M850 1098l12 -7M944 1098l14 -23M954 1073l13 -31M781 1209l30 1M980 1154l16 -32" stroke="#000014" stroke-width="5" fill="none" stroke-linecap="butt"/>
<path d="M698 1108l15 3M975 1133l5 -13M717 1187l20 4M720 1054l27 3M680 1092l14 2M831 1143l14 -5M675 1154l15 3M928 1115l19 -27M919 1100l19 -28M690 1048l25 4M658 1105l21 3M668 1106l16 3M931 1107l10 -17M770 1143l24 1M675 1063l24 7M713 1087l24 6M673 1183l25 6M670 1169l35 9M699 1056l12 4M895 1093l27 -28M855 1055l11 -7M965 1134l11 -27M981 1131l9 -16M664 1149l14 2M702 1103l22 3M753 1146l18 0M734 1076l39 3M648 1134l12 2M699 1075l17 3M672 1144l14 2M684 1124l26 7M726 1129l26 6M645 1082l37 11M686 1150l35 6M930 1103l13 -23M964 1105l15 -25M720 1092l14 3M666 1096l39 6M690 1081l33 9M698 1112l14 2M766 1192l17 1M760 1109l30 -0" stroke="#0d85f8" stroke-width="3" fill="none" stroke-linecap="butt"/>
<path d="M982 1245l25 -9M989 1167l9 -17M920 1238l29 -7M941 1051l15 -25M981 1136l16 -36M973 1156l17 -35M796 1210l33 -3M835 1043l28 -13M959 1198l12 -10M981 1196l12 -15M752 1047l26 1M811 1231l34 -2M889 1247l23 -4M969 1236l17 -6M987 1143l13 -31M775 1213l29 1M781 1051l25 -3M871 1209l36 -14M924 1201l12 -10M931 1178l12 -12M961 1177l17 -30M970 1186l17 -19M936 1251l36 -9M954 1197l21 -24M885 1062l18 -15M886 1249l39 -5M799 1243l18 -0M980 1087l8 -15M811 1187l39 -7M892 1202l24 -17M783 1050l26 -3M968 1188l25 -30M944 1218l21 -15M886 1240l20 -5M744 1045l22 3M854 1063l29 -19M933 1249l37 -10M888 1230l32 -13M914 1255l22 -5M743 1046l24 1M979 1173l17 -35M816 1237l19 -2M974 1051l7 -20M936 1254l25 -4M838 1181l22 -8" stroke="#000a84" stroke-width="4" fill="none" stroke-linecap="butt"/>
<path d="M847 1126l21 -11M804 1093l31 -9M797 1135l13 -1M821 1067l27 -11M801 1091l34 -10M779 1109l16 -2M781 1121l25 -4M762 1119l13 -0M832 1119l13 -5M630 1059l30 8M870 1085l31 -23M817 1165l25 -6M807 1159l12 -2M864 1073l21 -14M862 1089l13 -10M790 1055l24 -3M729 1195l29 2M749 1154l13 1M839 1169l26 -10M771 1195l33 1M793 1152l22 -3M743 1050l39 5M773 1138l26 -3M880 1143l20 -16M869 1155l11 -9M700 1046l14 2M827 1142l31 -16M799 1177l38 -6M755 1099l16 1M759 1132l14 2M861 1157l16 -11M837 1091l27 -12M855 1171l23 -10M765 1066l19 -0" stroke="#0851cc" stroke-width="5" fill="none" stroke-linecap="butt"/>
<path d="M841 1068l26 -16M708 1198l22 2M928 1148l17 -24M949 1101l14 -23M712 1202l14 2M884 1096l17 -18M869 1104l27 -24M782 1102l25 -2M757 1091l27 2M746 1188l32 1M982 1156l14 -34M788 1050l39 -8M977 1087l14 -34M919 1174l13 -13M944 1175l11 -15" stroke="#000038" stroke-width="4" fill="none" stroke-linecap="butt"/>
<path d="M849 1051l11 -6M939 1227l12 -5M918 1207l19 -15M817 1218l32 -1M849 1189l17 -5M924 1224l32 -16M756 1037l20 -0M975 1250l26 -7M829 1211l24 -6M877 1041l14 -13M769 1039l15 -1M765 1211l39 3M846 1207l26 -7M749 1042l23 0M936 1177l18 -20M895 1217l13 -6" stroke="#000056" stroke-width="5" fill="none" stroke-linecap="butt"/>
<path d="M773 1143l22 -2M990 1149l12 -33M828 1227l12 -1M913 1153l9 -12M989 1075l6 -11M920 1087l20 -31M833 1080l29 -11M884 1059l29 -26M937 1091l16 -25M738 1214l20 1M839 1131l30 -14M829 1093l32 -19M857 1053l24 -15M787 1169l18 -2M803 1173l18 -2M703 1196l12 2M914 1122l20 -22M843 1229l34 -4M832 1203l12 -3M974 1073l8 -21M853 1057l29 -19M763 1090l13 0M732 1222l37 2M990 1088l14 -28M907 1108l17 -18" stroke="#00002b" stroke-width="4" fill="none" stroke-linecap="butt"/>
<path d="M989 1103l13 -28M768 1147l29 -3M865 1117l23 -18M882 1121l16 -15M993 1128l8 -17M802 1069l26 -8M888 1066l14 -15M641 1121l15 3M914 1176l20 -20M771 1175l35 -0M831 1085l23 -11M764 1194l18 2M861 1120l19 -16M801 1187l20 -2M865 1157l27 -24M830 1161l17 -8M792 1058l23 -3M835 1149l16 -8M791 1098l22 -2M796 1111l19 -3M767 1130l21 1M791 1091l37 -10M816 1121l15 -5M818 1083l17 -5M774 1048l16 -2M991 1114l10 -20M899 1130l20 -21M858 1147l12 -6M796 1200l17 -1M800 1064l28 -6M824 1104l24 -11M790 1171l12 -2M758 1118l40 -2M802 1141l38 -8M767 1102l30 -4M812 1107l20 -4M764 1194l22 0M821 1124l34 -12M758 1059l38 -1M861 1099l28 -22M910 1092l12 -14M839 1117l32 -15M834 1176l17 -6M786 1119l38 -5M796 1062l22 -4M666 1183l35 4M896 1098l17 -16M825 1163l20 -6M860 1058l16 -12M864 1069l28 -23M785 1107l37 -6M931 1086l9 -17M754 1205l15 0M861 1082l25 -15" stroke="#0741bd" stroke-width="4" fill="none" stroke-linecap="butt"/>
<path d="M781 1181l36 -3M726 1184l12 2M799 1094l16 -2M788 1116l37 -10M982 1151l10 -20M735 1076l38 6M782 1180l16 1M767 1197l22 1M764 1062l36 -2M923 1085l8 -9M690 1185l25 3M710 1099l27 5M775 1108l34 -4M770 1111l35 -2M934 1156l7 -11M761 1186l16 1M734 1063l18 2M722 1095l12 1M730 1101l39 5M946 1143l19 -32M750 1074l20 3M713 1181l24 5M702 1057l32 7M735 1184l12 1M719 1186l36 6M775 1076l16 -1M780 1083l30 -5M724 1131l13 3M724 1095l20 4M659 1174l26 4M919 1072l12 -19M689 1097l15 2M796 1088l36 -6M639 1132l32 7M770 1112l21 -1M985 1149l11 -22M785 1092l34 -3M666 1183l26 5M706 1109l24 5M779 1137l22 0M739 1066l32 1M935 1150l15 -26M746 1112l38 3M701 1141l20 5M808 1168l33 -10M787 1107l20 -1M712 1123l30 7M637 1131l37 6M814 1085l33 -10M772 1163l34 -1M733 1068l32 5M979 1135l9 -22M693 1155l21 3M788 1172l36 -3M977 1118l14 -32" stroke="#0b74ea" stroke-width="4" fill="none" stroke-linecap="butt"/>
<path d="M921 1227l21 -11M945 1062l7 -14M787 1231l18 1M703 1198l30 3M807 1216l24 -3M942 1245l12 -3M976 1074l6 -12M885 1240l37 -11M965 1227l18 -11M819 1194l14 -3M955 1249l12 -3M833 1189l29 -8M952 1221l14 -7M730 1043l29 3M788 1240l25 -0M852 1039l14 -10M733 1042l13 2M909 1176l15 -13M982 1250l35 -11M840 1251l24 -1M986 1063l11 -28M797 1201l31 -2M990 1100l16 -36M953 1182l21 -27M842 1250l40 -1M776 1212l34 -2M857 1183l26 -11M791 1209l40 -1M762 1221l25 3M955 1061l15 -32M833 1220l15 -3M904 1251l31 -8M995 1055l9 -20M823 1237l22 -1M853 1249l19 -2M796 1224l16 -1" stroke="#000056" stroke-width="4" fill="none" stroke-linecap="butt"/>
<path d="M730 1088l27 2M710 1055l20 4M953 1127l17 -32M926 1071l8 -13M658 1152l30 8M709 1173l19 3M728 1078l19 3M681 1172l16 3M697 1148l28 6M703 1145l28 3M645 1157l33 5M678 1149l23 6M647 1136l17 2M656 1050l17 2M649 1113l21 6M654 1087l36 9M657 1166l25 6M868 1085l12 -8M698 1089l24 5M703 1087l31 6M665 1175l26 3M723 1068l15 1M714 1152l28 7M679 1100l18 2M686 1053l19 3M655 1110l33 5M651 1123l28 5M924 1112l17 -23M698 1089l25 3M740 1109l15 1M687 1177l34 10M657 1124l17 3M720 1115l15 2M840 1123l21 -9M673 1109l24 7M725 1151l32 7M720 1159l36 8M969 1096l17 -35M637 1107l34 4M946 1128l15 -25M957 1101l8 -20M694 1178l19 5M685 1078l30 9M875 1166l19 -13M861 1087l15 -9M687 1053l19 5M858 1160l12 -7M694 1144l24 5M724 1062l19 2M896 1176l19 -17M703 1053l19 2M671 1060l23 5" stroke="#1792ff" stroke-width="4" fill="none" stroke-linecap="butt"/>
<path d="M839 1222l13 -2M988 1221l18 -14M975 1203l21 -20M984 1126l17 -36M894 1224l13 -4M819 1211l17 -1M790 1218l18 0M756 1209l15 0M978 1194l20 -23M960 1086l17 -31M886 1229l37 -15M965 1204l24 -19M852 1054l12 -7M625 1095l24 3M820 1185l25 -6M987 1163l13 -36M982 1134l10 -20M990 1218l12 -7M642 1032l38 8M989 1251l13 -4M959 1072l7 -12M880 1254l18 -1M894 1248l24 -4M932 1220l28 -15M795 1225l13 -1M934 1207l32 -23M860 1060l22 -14M910 1211l28 -18M831 1038l13 -6M972 1157l14 -27" stroke="#000675" stroke-width="4" fill="none" stroke-linecap="butt"/>
<path d="M646 1149l16 2M866 1116l16 -11M804 1057l20 -6M893 1243l26 -6M788 1050l14 -3M833 1099l32 -16M944 1091l8 -14M839 1063l36 -17M864 1146l17 -14M905 1086l12 -15M957 1203l16 -15M964 1088l8 -16M889 1193l14 -8M958 1164l14 -27M918 1099l16 -20M937 1054l17 -32M911 1165l21 -26M796 1057l38 -9M869 1105l11 -7M894 1182l23 -21M884 1069l21 -19M724 1045l34 7M955 1108l9 -20M919 1254l30 -5M865 1180l19 -10M864 1099l30 -26M967 1092l10 -18M950 1163l14 -22M875 1098l22 -22M962 1248l34 -15M885 1058l23 -22M964 1140l6 -15M787 1055l32 -6M928 1044l9 -12M821 1183l21 -6M912 1107l22 -26M910 1141l8 -10M864 1144l17 -11M902 1116l22 -27M831 1066l36 -15M984 1096l10 -25M800 1193l17 -2M976 1117l6 -11M838 1082l27 -13M956 1164l11 -19M954 1115l19 -31M800 1189l22 -2M825 1157l25 -9M754 1049l28 1" stroke="#0425a0" stroke-width="4" fill="none" stroke-linecap="butt"/>
<path d="M940 1082l20 -34M984 1094l15 -29M739 1102l14 2M751 1197l26 1M723 1098l17 2M764 1119l17 1M699 1139l29 4M783 1183l17 -2M807 1182l26 -3M740 1180l24 4M989 1105l6 -14M790 1201l19 -2M714 1188l29 5M818 1169l16 -3M798 1160l31 -5M694 1049l26 3M776 1163l23 -1M717 1133l22 4" stroke="#0963db" stroke-width="3" fill="none" stroke-linecap="butt"/>
<path d="M732 1075l33 2M794 1131l22 -4M755 1172l39 0M716 1177l12 3M824 1099l13 -4M700 1128l37 8M710 1067l28 3M789 1078l14 -3M742 1060l13 2M755 1057l29 -1M775 1182l29 -3M745 1090l31 1M824 1122l12 -4M819 1097l27 -8" stroke="#acd7ff" stroke-width="5" fill="none" stroke-linecap="butt"/>
<path d="M699 1102l29 5M703 1108l23 3M692 1071l18 3M925 1141l17 -22M856 1118l13 -7M650 1083l23 3M947 1099l15 -25M880 1174l20 -16M679 1142l27 7M679 1117l24 4M919 1135l18 -30M670 1122l24 6M696 1077l18 3M667 1078l37 10M706 1044l21 4M870 1124l30 -23M639 1081l32 8M928 1101l17 -27M640 1081l20 6M663 1139l31 8M677 1144l36 8M678 1121l39 5M897 1091l18 -18" stroke="#289aff" stroke-width="5" fill="none" stroke-linecap="butt"/>
<path d="M963 1213l13 -8M965 1115l13 -22M935 1088l20 -34M942 1136l9 -16M904 1138l21 -27M958 1102l10 -16M964 1157l6 -12M908 1132l10 -14M866 1078l18 -15M883 1103l14 -13M843 1071l30 -18M877 1192l12 -7M930 1097l8 -12M971 1102l16 -30M682 1189l29 4M853 1130l18 -11M957 1070l14 -32M911 1128l9 -10M943 1117l10 -15M904 1169l23 -23M976 1143l14 -37M889 1073l15 -15M884 1094l16 -16M713 1201l22 3M917 1129l18 -29M902 1071l16 -19M836 1084l27 -12M966 1146l6 -11M716 1200l32 5M945 1193l14 -15M937 1106l12 -20M842 1168l31 -14" stroke="#0425a0" stroke-width="3" fill="none" stroke-linecap="butt"/>
<path d="M968 1170l10 -15M788 1152l24 -2M710 1164l17 4M696 1139l30 8M741 1043l21 2M778 1101l30 -2M740 1161l36 0M976 1160l10 -21M798 1078l15 -3M632 1082l13 3M736 1074l38 1M822 1147l28 -10M782 1093l15 -1M783 1153l34 -4M774 1100l39 -3M754 1179l21 2M964 1110l13 -23M752 1205l19 1M761 1152l35 -1M725 1161l25 2M709 1169l28 4M899 1072l22 -30M744 1108l19 2M771 1146l37 -3M629 1094l20 4M718 1181l25 2M757 1186l21 1M827 1076l16 -7" stroke="#0963db" stroke-width="5" fill="none" stroke-linecap="butt"/>
<path d="M982 1249l16 -5M875 1221l26 -7M929 1182l18 -22M762 1217l12 1M843 1239l20 -4M891 1200l16 -7M897 1057l20 -18M982 1069l12 -33M873 1188l15 -8M901 1177l17 -12M911 1238l26 -7M952 1198l24 -29M982 1229l26 -13M788 1233l32 1M891 1043l14 -13M990 1204l20 -17M969 1208l14 -11M929 1071l15 -27M869 1039l11 -9M884 1257l32 -6" stroke="#000266" stroke-width="5" fill="none" stroke-linecap="butt"/>
<path d="M959 1176l10 -11M810 1235l19 -1M760 1036l39 -4M860 1212l15 -4M790 1209l28 0M835 1232l27 -3M785 1208l22 -1M830 1208l27 -6M765 1228l27 3M959 1068l11 -20M820 1203l26 -4M824 1229l27 -2M850 1203l17 -5M844 1207l22 -6M815 1197l25 -3M853 1231l16 -2M869 1234l13 -3M862 1190l34 -18M807 1210l25 -1M960 1179l12 -19M871 1200l17 -6M837 1238l36 -4M833 1213l15 -1M856 1240l36 -8M824 1238l15 -1M856 1253l13 -1M892 1186l26 -17M820 1247l24 1M839 1230l38 -7M848 1211l27 -5M808 1208l30 -2M827 1199l39 -10M846 1246l25 -3M859 1188l17 -6M836 1212l34 -7M842 1196l15 -3M813 1205l37 -5M830 1214l32 -7M879 1184l15 -9M778 1211l28 -2M972 1184l18 -30M864 1246l32 -6M869 1188l27 -15M818 1205l32 -7M807 1220l30 -3M776 1038l26 -3M851 1224l27 -6M853 1253l19 -2M977 1069l7 -17" stroke="#000004" stroke-width="4" fill="none" stroke-linecap="butt"/>
<path d="M689 1154l17 3M658 1176l26 7M953 1089l16 -25M787 1125l23 -2M739 1092l22 3M780 1087l38 -2M934 1159l12 -19M692 1129l35 10M740 1176l23 2M745 1092l39 3M761 1127l39 0M696 1160l33 5M937 1118l11 -20M717 1066l37 8M706 1071l22 3M740 1193l14 2M755 1194l17 1M682 1062l33 6M758 1083l19 -0M693 1062l30 8M707 1064l32 3M990 1163l14 -33" stroke="#0b74ea" stroke-width="3" fill="none" stroke-linecap="butt"/>
<path d="M653 1041l24 5M960 1257l33 -11M962 1116l11 -26M945 1230l27 -14M982 1089l11 -27M950 1219l14 -7M964 1100l7 -13M911 1240l17 -5M912 1167l13 -16M926 1115l16 -23M742 1217l37 1M941 1163l16 -35M963 1069l15 -33M770 1041l16 1M870 1042l14 -12M946 1198l24 -30M954 1167l9 -14M980 1090l7 -15M909 1178l27 -27M914 1067l10 -10M904 1204l20 -13M980 1110l10 -26M931 1143l17 -23" stroke="#000a84" stroke-width="5" fill="none" stroke-linecap="butt"/>
<path d="M785 1070l14 -2M726 1072l25 3M742 1078l32 5M734 1122l20 1M843 1069l28 -18M647 1051l29 9M735 1104l30 5M766 1165l37 -1M798 1135l27 -6M764 1178l38 1M736 1109l35 1M843 1093l33 -22M768 1145l17 -1M797 1161l16 -1M633 1047l31 6M779 1063l29 -5M850 1120l14 -9M749 1084l29 1M779 1171l21 0M807 1173l38 -11M761 1197l34 -1M707 1046l17 2M842 1115l33 -19M758 1198l32 1M730 1178l32 3M746 1191l16 1M823 1175l34 -9M733 1086l17 2M781 1058l28 -3M873 1085l10 -8M752 1099l23 2M853 1129l21 -14M790 1100l21 -3M799 1070l21 -4M800 1190l24 -4M772 1147l22 -0M785 1084l22 -5M866 1150l12 -10" stroke="#7cc0ff" stroke-width="4" fill="none" stroke-linecap="butt"/>
<path d="M868 1106l22 -19M661 1054l36 6M707 1076l21 2M640 1083l33 10M846 1100l14 -7M677 1108l37 11M938 1160l18 -30M931 1153l21 -31M911 1130l9 -12M708 1134l15 3M930 1149l11 -19M895 1140l15 -15M642 1118l23 4M689 1085l25 5M872 1182l30 -22M709 1064l35 7M698 1140l37 7M931 1097l13 -18M678 1138l17 5M783 1130l17 -2M892 1087l10 -9M681 1063l26 6M658 1135l36 7M730 1057l28 6M729 1052l16 3M646 1080l16 4" stroke="#1792ff" stroke-width="5" fill="none" stroke-linecap="butt"/>
<path d="M865 1144l16 -13M949 1102l19 -35M832 1096l19 -7M881 1113l25 -22M942 1102l19 -31M849 1173l28 -18M845 1102l17 -9M909 1144l12 -13M920 1090l18 -25M712 1043l13 3M973 1089l8 -20M827 1170l28 -8M808 1073l33 -10M658 1042l31 9M625 1072l34 7M809 1119l17 -4M845 1175l31 -17M840 1061l15 -7M709 1045l24 4M817 1169l24 -5M882 1092l26 -27M843 1116l19 -11M816 1115l31 -14M840 1156l14 -8M830 1106l28 -11M901 1058l9 -9M923 1082l10 -15M949 1082l12 -20M866 1073l14 -9M802 1185l36 -8M819 1105l15 -4M816 1115l33 -13M910 1071l10 -11M954 1095l8 -15M848 1150l30 -20M948 1156l8 -12M869 1154l16 -13M966 1147l15 -29M835 1170l13 -5M695 1045l13 3M982 1145l15 -28M792 1197l19 -2M927 1163l9 -15" stroke="#0533af" stroke-width="4" fill="none" stroke-linecap="butt"/>
<path d="M720 1151l14 3M730 1146l20 3M702 1149l13 3M676 1101l16 4M658 1180l35 7M685 1123l23 3M675 1175l17 5M657 1078l34 8M735 1160l17 1M710 1147l28 4M751 1191l33 0M719 1161l18 4M701 1158l37 5M697 1142l12 2M744 1111l37 3M657 1075l17 5M692 1099l16 3M666 1159l23 5M663 1091l16 4M769 1159l39 1M671 1113l33 7M658 1090l34 10M671 1054l30 4M725 1051l17 4M779 1124l29 -1M743 1197l20 1M635 1090l27 8M671 1056l29 7M698 1146l27 5M662 1145l19 4M764 1091l33 1M781 1151l27 -2M789 1154l39 -6M707 1101l18 3M790 1172l39 -4M637 1115l18 3M721 1130l27 6M769 1194l25 2M705 1097l14 4M679 1163l36 8M667 1134l29 4M702 1050l26 3M706 1105l14 4M662 1158l30 7M675 1093l21 3M783 1121l16 -0M669 1125l32 8M736 1087l35 5" stroke="#deefff" stroke-width="3" fill="none" stroke-linecap="butt"/>
<path d="M810 1112l23 -8M630 1058l37 11M689 1058l14 3M836 1104l32 -17M656 1150l23 4M884 1163l20 -15M681 1155l12 2M661 1173l25 5M802 1081l28 -5M650 1161l28 4M645 1096l36 5M883 1078l23 -26M824 1108l32 -16M657 1066l16 4M924 1096l11 -14M825 1117l14 -5M937 1137l7 -13M632 1087l37 5M896 1170l21 -25M680 1080l18 4M845 1146l17 -9M888 1137l16 -16M646 1149l33 5M664 1122l16 4M851 1076l27 -16M796 1113l21 -6M669 1050l35 9" stroke="#289aff" stroke-width="3" fill="none" stroke-linecap="butt"/>
<path d="M786 1079l28 -5M978 1139l16 -30M764 1210l38 1M789 1110l26 -5M785 1075l39 -4M827 1181l32 -14M830 1101l13 -6M760 1163l35 1M651 1036l13 2" stroke="#00002b" stroke-width="5" fill="none" stroke-linecap="butt"/>
<path d="M822 1195l17 -4M852 1055l17 -9M843 1046l15 -8M773 1045l14 -1M859 1191l22 -9M788 1205l31 -0M994 1095l7 -15M752 1044l33 -1M915 1259l24 -4M920 1185l21 -21M877 1209l20 -9M906 1244l36 -10M863 1231l32 -8M944 1226l29 -20" stroke="#000056" stroke-width="3" fill="none" stroke-linecap="butt"/>
<path d="M863 1207l24 -7M790 1036l20 -1M697 1035l18 3M966 1074l12 -30M848 1242l22 -3M875 1188l26 -15M842 1201l18 -6M800 1218l36 -3M855 1252l34 -2M847 1218l34 -7M816 1216l36 -3M865 1226l14 -5M765 1226l38 2M815 1225l14 -0M953 1073l15 -37M826 1214l28 -3M883 1050l16 -13M831 1193l21 -7M833 1194l23 -7M945 1071l15 -30M865 1212l23 -10" stroke="#000004" stroke-width="5" fill="none" stroke-linecap="butt"/>
<path d="M903 1100l13 -17M833 1166l22 -10M925 1228l17 -7M901 1167l14 -12M739 1046l29 4M972 1225l25 -14M986 1223l19 -15M982 1101l11 -27M884 1075l29 -27M967 1181l12 -19M970 1191l18 -22M902 1147l22 -23M902 1117l27 -29M859 1140l22 -17M918 1169l21 -22M869 1067l14 -10M712 1201l22 3M949 1173l20 -34M931 1051l13 -18M925 1110l21 -29M934 1064l17 -32M959 1114l19 -34M955 1131l18 -34M805 1059l37 -12M918 1069l16 -26M743 1042l37 -0M857 1124l27 -17M920 1156l9 -13M894 1104l11 -10M763 1206l21 0M895 1124l11 -10M912 1115l21 -26" stroke="#0425a0" stroke-width="5" fill="none" stroke-linecap="butt"/>
<path d="M742 1167l37 3M841 1096l29 -19M860 1155l23 -18M854 1092l24 -13M873 1082l11 -10M822 1153l22 -7M755 1053l23 2M754 1095l36 3" stroke="#7cc0ff" stroke-width="5" fill="none" stroke-linecap="butt"/>
<path d="M932 1110l16 -23M884 1123l26 -23M914 1167l13 -13M939 1079l15 -26M951 1186l16 -21M738 1201l31 5M955 1132l14 -32M903 1054l25 -31M986 1087l5 -13M983 1126l15 -28M867 1175l32 -18M950 1114l16 -27M968 1211l23 -15M912 1096l8 -11M933 1135l17 -33M964 1212l14 -11M977 1117l7 -15M953 1202l16 -13M991 1133l6 -12M964 1058l6 -13M942 1138l12 -23M952 1150l11 -21M910 1188l15 -12M969 1066l9 -23M918 1222l34 -14M844 1185l25 -12M869 1241l32 -6M994 1060l11 -29M765 1049l34 -1M737 1218l17 4M969 1048l9 -24M902 1188l17 -14M873 1251l32 -6M919 1142l14 -21M984 1154l6 -13M941 1251l37 -14M924 1257l15 -1M897 1095l11 -12M905 1235l20 -6M883 1124l19 -17M988 1171l7 -12M984 1137l13 -23M936 1054l10 -18M848 1187l37 -14M930 1112l15 -20M897 1141l16 -20M895 1216l21 -10M904 1213l14 -7M891 1241l29 -7M906 1233l31 -13M957 1059l12 -22M988 1180l10 -13M821 1181l23 -5M974 1218l13 -10M867 1249l33 -6M897 1221l35 -12M947 1227l16 -8M953 1168l17 -30" stroke="#021792" stroke-width="4" fill="none" stroke-linecap="butt"/>
<path d="M994 1081l6 -14M757 1143l18 2M878 1184l17 -12M822 1227l28 -4M846 1184l18 -6M760 1223l26 4M985 1149l14 -34M788 1182l25 -4M802 1198l18 -3M831 1150l32 -14M983 1103l11 -21M701 1036l15 4" stroke="#00002b" stroke-width="3" fill="none" stroke-linecap="butt"/>
<path d="M825 1166l17 -5M815 1083l24 -8M751 1191l26 1M821 1102l23 -8M752 1175l25 1M780 1060l12 -1M708 1137l35 7M845 1064l12 -7M790 1109l36 -5" stroke="#acd7ff" stroke-width="3" fill="none" stroke-linecap="butt"/>
<path d="M897 1251l21 -4M757 1213l31 4M940 1242l12 -4M860 1188l34 -21M875 1256l39 -3M966 1215l15 -9M861 1063l31 -25M913 1218l30 -13M980 1237l18 -7M872 1202l29 -11M973 1211l26 -24M807 1229l33 1M678 1191l36 5M745 1211l18 2M785 1219l24 -1M788 1197l40 -2M966 1225l33 -20M827 1057l32 -13M827 1226l20 -4M980 1222l22 -13M988 1048l9 -21M821 1210l35 -10M810 1193l12 -1M920 1247l32 -12M846 1199l27 -9M988 1058l7 -20M877 1218l32 -13M820 1043l29 -10M778 1218l13 -0M900 1060l10 -12M803 1204l27 -5M805 1050l28 -8M919 1051l22 -29M875 1246l15 -2M874 1238l23 -7M883 1245l38 -12M911 1257l39 -9M903 1211l13 -6M987 1163l14 -26M889 1209l13 -7M842 1184l36 -13M899 1240l20 -4M864 1053l30 -24M867 1045l28 -20M870 1207l23 -7M947 1187l11 -10M868 1039l12 -10M798 1225l30 -1" stroke="#000266" stroke-width="4" fill="none" stroke-linecap="butt"/>
<path d="M840 1043l13 -7M781 1051l21 -3M765 1227l29 3M740 1033l20 4M806 1046l15 -4M724 1204l15 3M824 1146l13 -5M736 1222l36 2M928 1089l10 -15M782 1231l20 2M812 1209l32 -7" stroke="#000014" stroke-width="3" fill="none" stroke-linecap="butt"/>
<path d="M910 1234l25 -7M937 1190l20 -19M814 1043l19 -5M822 1192l15 -3M962 1188l16 -20M872 1226l29 -9M830 1185l23 -8M879 1204l30 -14M793 1210l19 -1M912 1247l26 -7M893 1191l30 -25M885 1222l36 -16M928 1186l20 -23M916 1159l21 -27M661 1034l31 6M932 1129l23 -32M973 1140l9 -18M690 1193l32 3M782 1050l32 -6M851 1178l19 -9M944 1095l10 -19M947 1240l16 -5M964 1095l6 -15M862 1258l36 -4M964 1258l32 -6M828 1053l19 -7M984 1194l20 -24M907 1216l26 -12M971 1067l13 -29M929 1061l20 -29M975 1158l8 -18M928 1073l14 -20M910 1177l25 -23M937 1192l23 -21M925 1227l32 -15" stroke="#000a84" stroke-width="3" fill="none" stroke-linecap="butt"/>
<path d="M828 1203l15 -3M788 1037l22 -3M933 1071l21 -30M860 1226l23 -8M860 1228l32 -7M766 1217l31 3M894 1183l16 -11M810 1230l26 1M824 1228l38 -6M673 1031l34 10M823 1228l20 -3M984 1075l10 -22M908 1075l17 -18" stroke="#00000c" stroke-width="5" fill="none" stroke-linecap="butt"/>
<path d="M881 1188l29 -21M932 1132l11 -20M869 1198l15 -7M857 1091l14 -11M964 1102l6 -15M839 1220l26 -3M725 1204l31 6M895 1146l27 -29M908 1149l23 -29M972 1141l13 -30M916 1089l17 -21M862 1106l27 -19M971 1142l15 -34M729 1210l36 4M782 1043l20 -2M878 1059l27 -21M843 1186l27 -11M784 1186l33 -4M810 1197l30 -4M761 1207l32 1M775 1220l17 1M780 1042l21 -4M759 1224l17 2M783 1156l24 -4M973 1140l8 -15M819 1201l23 -2M859 1236l14 -3M815 1248l32 1M951 1088l15 -28M753 1194l16 1M983 1124l10 -19M874 1058l22 -21" stroke="#00001e" stroke-width="4" fill="none" stroke-linecap="butt"/>
<path d="M883 1178l14 -8M946 1072l9 -14M974 1047l10 -24M942 1056l10 -18M991 1147l11 -23M959 1167l10 -14M750 1211l29 3M872 1221l32 -14M988 1099l15 -31M918 1248l31 -11M961 1206l18 -13M890 1200l27 -17M631 1096l16 4M893 1250l33 -4M967 1220l23 -16M855 1049l31 -19M927 1247l18 -3" stroke="#000675" stroke-width="5" fill="none" stroke-linecap="butt"/>
<path d="M801 1064l16 -4M774 1161l31 -4M807 1066l20 -4M831 1138l22 -9M777 1093l29 -2M895 1165l14 -12M764 1200l32 -0M742 1162l36 2M800 1109l16 -2M825 1087l33 -15M868 1088l28 -22M757 1079l28 -1M782 1160l13 -1M791 1136l23 -3M797 1182l12 -1M815 1163l29 -8M751 1059l36 3M806 1180l24 -3M765 1086l19 -1M791 1149l21 -4M740 1115l36 2M640 1152l33 7M810 1169l16 -4M807 1056l22 -4M729 1176l37 4M800 1064l34 -7M820 1056l13 -3M750 1184l16 1M830 1136l19 -7M743 1170l31 1M806 1118l23 -7M808 1088l29 -10M835 1087l16 -9M725 1095l32 2M894 1169l23 -28M735 1090l20 1M803 1101l39 -8M814 1066l18 -6M804 1088l15 -4M953 1177l16 -28M825 1146l19 -6M754 1071l13 1M836 1135l31 -17M745 1061l16 2M878 1106l20 -16M793 1152l34 -4M794 1078l15 -2M994 1139l5 -13M813 1074l25 -7M789 1100l39 -11M858 1097l13 -9M846 1141l30 -20M821 1160l20 -5M733 1159l39 6" stroke="#0851cc" stroke-width="4" fill="none" stroke-linecap="butt"/>
<path d="M867 1255l19 -0M807 1195l17 -1M849 1216l33 -9M974 1181l20 -30M938 1178l18 -24M803 1209l32 -6" stroke="#000047" stroke-width="5" fill="none" stroke-linecap="butt"/>
<path d="M805 1172l35 -10M799 1091l34 -7M936 1088l22 -31M782 1042l34 -4M731 1216l13 1M669 1035l21 5M638 1036l27 7M817 1247l18 1M727 1213l37 5M781 1222l28 -1M809 1047l21 -5M737 1213l35 1M964 1117l13 -29M960 1149l19 -32M769 1229l31 3M799 1070l38 -10" stroke="#00001e" stroke-width="3" fill="none" stroke-linecap="butt"/>
<path d="M837 1135l25 -13M798 1112l16 -3M822 1075l29 -9M849 1114l11 -5M824 1102l16 -7M906 1079l9 -11M859 1170l12 -7M818 1092l20 -6M866 1071l13 -8M757 1196l12 1M650 1145l14 4M793 1070l25 -4M739 1055l39 4M810 1068l34 -14" stroke="#7cc0ff" stroke-width="3" fill="none" stroke-linecap="butt"/>
<path d="M860 1216l28 -6M848 1184l25 -11M670 1034l36 8M899 1055l12 -15M922 1091l11 -14M864 1203l19 -6M968 1179l11 -17" stroke="#000038" stroke-width="5" fill="none" stroke-linecap="butt"/>
<path d="M843 1220l25 -3M831 1129l32 -16M814 1232l35 -1M804 1040l14 -4M891 1060l23 -27M808 1227l30 -1M807 1207l26 -1M901 1056l21 -22M775 1223l37 3M863 1049l17 -13M850 1191l29 -10" stroke="#00000c" stroke-width="3" fill="none" stroke-linecap="butt"/>
<path d="M727 1049l18 2M854 1065l13 -7M651 1102l29 8M802 1095l15 -4M660 1162l15 2M864 1135l18 -12M781 1159l23 -2M808 1109l27 -7M644 1088l21 5M680 1073l28 6M916 1094l11 -15M892 1119l22 -20M638 1087l17 5M776 1118l29 -2M666 1047l35 10M649 1111l28 7M693 1117l14 3M809 1157l16 -3M785 1150l12 -0M647 1147l15 2" stroke="#4eabff" stroke-width="5" fill="none" stroke-linecap="butt"/>
<path d="M874 1061l22 -22M940 1219l11 -6M915 1218l29 -14M755 1222l39 3M959 1186l10 -10M905 1245l16 -5M960 1225l21 -13M975 1055l6 -13M911 1236l28 -8M802 1227l23 -3M928 1073l21 -30M936 1224l30 -18M676 1041l30 4" stroke="#000266" stroke-width="3" fill="none" stroke-linecap="butt"/>
<path d="M741 1040l23 1M839 1150l31 -17M884 1060l21 -19M930 1064l11 -16M804 1222l39 -2M812 1171l17 -3M723 1212l16 1M968 1083l10 -21M819 1166l13 -5" stroke="#000038" stroke-width="3" fill="none" stroke-linecap="butt"/>
<path d="M787 1206l26 1M833 1205l37 -8M944 1126l18 -34M938 1142l17 -27M847 1099l24 -12M831 1239l15 -1M978 1139l13 -25M768 1214l35 -2M922 1129l10 -14M811 1086l25 -8M811 1218l33 -7M991 1080l12 -24" stroke="#00001e" stroke-width="5" fill="none" stroke-linecap="butt"/>
<path d="M824 1236l31 -5M854 1196l25 -8M814 1231l33 -2M635 1037l37 8M663 1033l28 4" stroke="#000047" stroke-width="3" fill="none" stroke-linecap="butt"/></g>
<polygon points="483.0,1012.0 510.0,1022.0 535.0,1029.0 560.0,1033.0 600.0,1036.0 650.0,1037.0 640.0,1060.0 637.0,1100.0 648.0,1130.0 652.0,1145.0 653.0,1180.0 649.0,1200.0 647.0,1225.0 655.0,1248.0 700.0,1258.0 757.0,1263.0 757.0,1270.0 700.0,1273.0 600.0,1271.0 500.0,1269.0 440.0,1269.0 400.0,1271.0 340.0,1272.0 318.0,1271.0 290.0,1258.0 265.0,1247.0 240.0,1232.0 229.0,1222.0 262.0,1210.0 276.0,1205.0 284.0,1196.0 287.0,1187.0 286.0,1178.0 298.0,1166.0 307.0,1164.0 339.0,1160.0 347.0,1146.0 373.0,1140.0 402.0,1116.0 415.0,1104.0 428.0,1100.0 437.0,1085.0 453.0,1073.0 461.0,1058.0 473.0,1049.0 476.0,1029.0" fill="#fff"/>
<path d="M645 1193l35 4M617 1113l51 9M629 1170l43 8M639 1207l34 7M636 1198l48 13M631 1199l29 5M610 1190l67 11M632 1127l41 10M659 1226l51 7M638 1152l56 10M647 1070l55 15M633 1126l27 3" stroke="#ffffff" stroke-width="4" fill="none" stroke-linecap="butt"/>
<path d="M654 1139l39 9M645 1189l53 9M652 1052l30 5M625 1128l42 11M646 1186l58 10M636 1180l51 8M647 1106l30 4M641 1097l52 11M663 1181l39 10M624 1150l33 6M648 1257l45 8M640 1072l36 11" stroke="#deefff" stroke-width="5" fill="none" stroke-linecap="butt"/>
<path d="M635 1147l66 19M655 1092l57 10M648 1092l31 6M625 1178l60 14M611 1166l66 13M646 1121l48 13M647 1192l64 7M613 1117l55 14M651 1229l39 10M652 1182l36 4M665 1069l37 6M613 1167l59 10M658 1226l37 4M617 1147l48 8M646 1091l33 8M652 1178l33 4M661 1058l37 10M609 1197l34 6M573 1233l58 6M605 1219l34 6M635 1194l34 6M600 1196l44 6M625 1218l44 6" stroke="#deefff" stroke-width="3" fill="none" stroke-linecap="butt"/>
<path d="M626 1198l42 6M640 1166l42 11M656 1122l41 10M631 1251l44 6M650 1067l56 16M631 1044l37 10M608 1210l67 9M656 1067l32 9M622 1214l66 6M621 1201l74 6M576 1199l56 6M627 1229l52 6M591 1232l68 6M631 1207l55 6" stroke="#deefff" stroke-width="4" fill="none" stroke-linecap="butt"/>
<path d="M616 1095l56 17M627 1151l32 8M634 1248l67 9M636 1180l58 12M643 1202l36 7M656 1057l24 6M626 1144l39 6M657 1147l25 4M646 1053l34 5" stroke="#ffffff" stroke-width="3" fill="none" stroke-linecap="butt"/>
<path d="M626 1052l38 7M657 1243l31 7M652 1110l64 15M623 1085l50 10M628 1121l37 5M654 1064l31 9M657 1052l42 12M631 1223l57 6M658 1243l45 4M640 1180l44 7M623 1090l45 13M641 1187l29 7" stroke="#ffffff" stroke-width="5" fill="none" stroke-linecap="butt"/>
<path d="M478.1 1008.2L476.7 1011.7L514.5 1023.5ZM474.7 1016.3L473.2 1020.2L501.3 1028.5ZM471.5 1024.1L470.1 1027.6L499.4 1036.8ZM469.5 1032.9L468.9 1037.2L511.0 1051.5ZM468.6 1038.7L468.2 1041.6L502.2 1053.7ZM466.8 1047.2L464.3 1049.1L493.1 1059.5ZM462.8 1050.2L460.3 1052.1L499.5 1066.9ZM459.4 1052.8L455.9 1055.4L499.4 1071.7ZM455.1 1056.4L453.3 1059.8L491.1 1074.0ZM450.8 1064.4L449.6 1066.7L480.7 1078.9ZM447.1 1070.9L443.5 1073.6L489.4 1092.0ZM441.5 1075.1L438.3 1077.5L473.4 1091.6ZM437.8 1077.8L434.5 1080.3L466.2 1092.9ZM432.0 1081.7L430.0 1085.1L469.2 1101.4ZM427.9 1088.6L425.9 1091.8L460.1 1106.1ZM423.6 1095.6L421.7 1098.9L458.8 1115.0ZM419.4 1098.3L415.0 1099.7L459.0 1119.8ZM412.9 1100.3L408.4 1101.7L443.4 1117.5ZM407.7 1103.0L405.4 1105.2L446.3 1124.5ZM402.1 1108.2L399.2 1110.9L443.5 1131.9ZM397.7 1112.4L395.6 1114.1L431.6 1131.8ZM391.6 1117.4L389.5 1119.1L435.4 1142.4ZM386.3 1121.7L384.3 1123.4L429.5 1146.7ZM381.4 1125.8L378.1 1128.5L413.1 1145.7ZM376.0 1130.2L373.9 1132.0L403.7 1147.4ZM372.6 1133.1L369.6 1135.5L417.9 1161.0Z" fill="#000"/>
<path d="M373.6 1134.8L363.4 1137.2L402.6 1166.6ZM352.5 1139.4L346.0 1140.9L382.8 1175.9ZM334.9 1155.3L328.5 1156.1L359.1 1192.1ZM310.8 1158.0L300.3 1159.3L335.9 1210.0Z" fill="#000"/>
<clipPath id="cst"><polygon points="164,1170 200,1171 236,1176 262,1196 275,1210 236,1226 164,1226"/></clipPath>
<g clip-path="url(#cst)"><path d="M174.6 1176.3L174.6 1225.0M180.0 1176.4L182.2 1225.0M185.0 1176.6L189.4 1225.0M190.0 1176.7L196.6 1225.0M197.0 1176.9L205.7 1225.0M202.5 1177.2L213.3 1225.0M208.0 1177.8L220.9 1225.0M214.0 1178.3L228.8 1225.0M219.0 1178.8L235.8 1225.0M224.0 1179.2L242.7 1225.0M229.0 1179.7L249.3 1224.5M234.0 1181.6L254.3 1222.3M238.6 1185.1L257.7 1220.2M243.5 1188.9L260.6 1218.0M248.5 1192.8L263.1 1215.8M255.0 1200.2L263.6 1212.8" stroke="#000" stroke-width="2.3" fill="none"/></g>
<circle cx="266" cy="1189" r="20.5" fill="#000"/>
<polygon points="232,1181 250,1172 270,1168 286,1178 280,1195 262,1210 250,1195" fill="#000"/>
</g>
<path d="M164.0 69.0V601.0M233.7 69.0V601.0M303.3 69.0V601.0M373.0 69.0V601.0M442.7 69.0V601.0M512.3 69.0V601.0M582.0 69.0V601.0M651.7 69.0V601.0M721.3 69.0V601.0M791.0 69.0V601.0M860.7 69.0V601.0M930.3 69.0V601.0M1000.0 69.0V601.0M1069.7 69.0V601.0M1139.3 69.0V601.0M1209.0 69.0V601.0M1278.7 69.0V601.0M1348.3 69.0V601.0M1418.0 69.0V601.0M1487.7 69.0V601.0M1557.3 69.0V601.0M1627.0 69.0V601.0M1696.7 69.0V601.0M1766.3 69.0V601.0M1836.0 69.0V601.0" stroke="#fff" stroke-width="3" stroke-dasharray="3 8" fill="none"/>
<path d="M164.0 133.8H1837.0M164.0 200.5H1837.0M164.0 267.2H1837.0M164.0 334.0H1837.0M164.0 400.8H1837.0M164.0 467.5H1837.0M164.0 534.2H1837.0" stroke="#fff" stroke-width="3" stroke-dasharray="3 8.024" fill="none"/>
<path d="M139.0 67.0H164.0M151.5 80.3H164.0M151.5 93.7H164.0M151.5 107.0H164.0M151.5 120.4H164.0M151.5 133.8H164.0M151.5 147.1H164.0M151.5 160.4H164.0M151.5 173.8H164.0M151.5 187.1H164.0M139.0 200.5H164.0M151.5 213.8H164.0M151.5 227.2H164.0M151.5 240.5H164.0M151.5 253.9H164.0M151.5 267.2H164.0M151.5 280.6H164.0M151.5 293.9H164.0M151.5 307.3H164.0M151.5 320.6H164.0M139.0 334.0H164.0M151.5 347.3H164.0M151.5 360.7H164.0M151.5 374.1H164.0M151.5 387.4H164.0M151.5 400.8H164.0M151.5 414.1H164.0M151.5 427.4H164.0M151.5 440.8H164.0M151.5 454.1H164.0M139.0 467.5H164.0M151.5 480.8H164.0M151.5 494.2H164.0M151.5 507.6H164.0M151.5 520.9H164.0M151.5 534.2H164.0M151.5 547.6H164.0M151.5 561.0H164.0M151.5 574.3H164.0M151.5 587.6H164.0M139.0 601.0H164.0M139.0 601.0H1836.0M164.0 601.0v9M233.7 601.0v4.5M303.3 601.0v4.5M373.0 601.0v9M442.7 601.0v4.5M512.3 601.0v4.5M582.0 601.0v9M651.7 601.0v4.5M721.3 601.0v4.5M791.0 601.0v9M860.7 601.0v4.5M930.3 601.0v4.5M1000.0 601.0v9M1069.7 601.0v4.5M1139.3 601.0v4.5M1209.0 601.0v9M1278.7 601.0v4.5M1348.3 601.0v4.5M1418.0 601.0v9M1487.7 601.0v4.5M1557.3 601.0v4.5M1627.0 601.0v9M1696.7 601.0v4.5M1766.3 601.0v4.5M1836.0 601.0v9" stroke="#222" stroke-width="1.6" fill="none"/>
<text x="129" y="89.6" text-anchor="end" font-size="36.3">90</text>
<text x="129" y="213.2" text-anchor="end" font-size="36.3">80</text>
<text x="129" y="346.7" text-anchor="end" font-size="36.3">70</text>
<text x="129" y="480.2" text-anchor="end" font-size="36.3">60</text>
<text x="129" y="601.3" text-anchor="end" font-size="36.3">50</text>
<text x="164.0" y="655.6" text-anchor="middle" font-size="36.3">0</text>
<text x="373.0" y="655.6" text-anchor="middle" font-size="36.3">3</text>
<text x="582.0" y="655.6" text-anchor="middle" font-size="36.3">6</text>
<text x="791.0" y="655.6" text-anchor="middle" font-size="36.3">9</text>
<text x="1000.0" y="655.6" text-anchor="middle" font-size="36.3">12</text>
<text x="1209.0" y="655.6" text-anchor="middle" font-size="36.3">15</text>
<text x="1418.0" y="655.6" text-anchor="middle" font-size="36.3">18</text>
<text x="1627.0" y="655.6" text-anchor="middle" font-size="36.3">21</text>
<text x="1836.0" y="655.6" text-anchor="middle" font-size="36.3">24</text>
<text x="1000" y="694.8" text-anchor="middle" font-size="37">Local Time (hours)</text>
<text x="1000" y="51.5" text-anchor="middle" font-size="41.6">Northern hemisphere</text>
<path d="M164.0 769.0V1300.0M233.7 769.0V1300.0M303.3 769.0V1300.0M373.0 769.0V1300.0M442.7 769.0V1300.0M512.3 769.0V1300.0M582.0 769.0V1300.0M651.7 769.0V1300.0M721.3 769.0V1300.0M791.0 769.0V1300.0M860.7 769.0V1300.0M930.3 769.0V1300.0M1000.0 769.0V1300.0M1069.7 769.0V1300.0M1139.3 769.0V1300.0M1209.0 769.0V1300.0M1278.7 769.0V1300.0M1348.3 769.0V1300.0M1418.0 769.0V1300.0M1487.7 769.0V1300.0M1557.3 769.0V1300.0M1627.0 769.0V1300.0M1696.7 769.0V1300.0M1766.3 769.0V1300.0M1836.0 769.0V1300.0" stroke="#fff" stroke-width="3" stroke-dasharray="3 8" fill="none"/>
<path d="M164.0 833.6H1837.0M164.0 900.2H1837.0M164.0 966.9H1837.0M164.0 1033.5H1837.0M164.0 1100.1H1837.0M164.0 1166.8H1837.0M164.0 1233.4H1837.0" stroke="#fff" stroke-width="3" stroke-dasharray="3 8.024" fill="none"/>
<path d="M139.0 767.0H164.0M151.5 780.3H164.0M151.5 793.6H164.0M151.5 807.0H164.0M151.5 820.3H164.0M151.5 833.6H164.0M151.5 847.0H164.0M151.5 860.3H164.0M151.5 873.6H164.0M151.5 886.9H164.0M139.0 900.2H164.0M151.5 913.6H164.0M151.5 926.9H164.0M151.5 940.2H164.0M151.5 953.5H164.0M151.5 966.9H164.0M151.5 980.2H164.0M151.5 993.5H164.0M151.5 1006.9H164.0M151.5 1020.2H164.0M139.0 1033.5H164.0M151.5 1046.8H164.0M151.5 1060.2H164.0M151.5 1073.5H164.0M151.5 1086.8H164.0M151.5 1100.1H164.0M151.5 1113.5H164.0M151.5 1126.8H164.0M151.5 1140.1H164.0M151.5 1153.4H164.0M139.0 1166.8H164.0M151.5 1180.1H164.0M151.5 1193.4H164.0M151.5 1206.7H164.0M151.5 1220.0H164.0M151.5 1233.4H164.0M151.5 1246.7H164.0M151.5 1260.0H164.0M151.5 1273.3H164.0M151.5 1286.7H164.0M139.0 1300.0H164.0M139.0 1300.0H1836.0M164.0 1300.0v9M233.7 1300.0v4.5M303.3 1300.0v4.5M373.0 1300.0v9M442.7 1300.0v4.5M512.3 1300.0v4.5M582.0 1300.0v9M651.7 1300.0v4.5M721.3 1300.0v4.5M791.0 1300.0v9M860.7 1300.0v4.5M930.3 1300.0v4.5M1000.0 1300.0v9M1069.7 1300.0v4.5M1139.3 1300.0v4.5M1209.0 1300.0v9M1278.7 1300.0v4.5M1348.3 1300.0v4.5M1418.0 1300.0v9M1487.7 1300.0v4.5M1557.3 1300.0v4.5M1627.0 1300.0v9M1696.7 1300.0v4.5M1766.3 1300.0v4.5M1836.0 1300.0v9" stroke="#222" stroke-width="1.6" fill="none"/>
<text x="129" y="789.6" text-anchor="end" font-size="36.3">-50</text>
<text x="129" y="913.0" text-anchor="end" font-size="36.3">-60</text>
<text x="129" y="1046.2" text-anchor="end" font-size="36.3">-70</text>
<text x="129" y="1179.5" text-anchor="end" font-size="36.3">-80</text>
<text x="129" y="1300.3" text-anchor="end" font-size="36.3">-90</text>
<text x="164.0" y="1354.6" text-anchor="middle" font-size="36.3">0</text>
<text x="373.0" y="1354.6" text-anchor="middle" font-size="36.3">3</text>
<text x="582.0" y="1354.6" text-anchor="middle" font-size="36.3">6</text>
<text x="791.0" y="1354.6" text-anchor="middle" font-size="36.3">9</text>
<text x="1000.0" y="1354.6" text-anchor="middle" font-size="36.3">12</text>
<text x="1209.0" y="1354.6" text-anchor="middle" font-size="36.3">15</text>
<text x="1418.0" y="1354.6" text-anchor="middle" font-size="36.3">18</text>
<text x="1627.0" y="1354.6" text-anchor="middle" font-size="36.3">21</text>
<text x="1836.0" y="1354.6" text-anchor="middle" font-size="36.3">24</text>
<text x="1000" y="1393.8" text-anchor="middle" font-size="37">Local Time (hours)</text>
<text x="1000" y="751" text-anchor="middle" font-size="41.6">Southern hemisphere</text>
<rect x="998" y="67.0" width="4" height="535.0" fill="#d4431a"/>
<rect x="998" y="767.0" width="4" height="534.0" fill="#d4431a"/>
<rect x="880.5" y="367.5" width="69" height="80" fill="none" stroke="#fff" stroke-width="2.6"/>
<rect x="880.5" y="887.5" width="69" height="80" fill="none" stroke="#fff" stroke-width="2.6"/>
<path d="M756 67V200.8" stroke="#fff" stroke-width="4" stroke-dasharray="15.6 15.85" stroke-dashoffset="7.9" fill="none"/>
<path d="M756 333.3V601.2" stroke="#fff" stroke-width="4" stroke-dasharray="15.6 15.85" fill="none"/>
<path d="M1739 770.2V1033.9" stroke="#fff" stroke-width="3.7" stroke-dasharray="16 7.8 4 7.6" fill="none"/>
<path d="M1739 1178.6V1300.6" stroke="#fff" stroke-width="3.7" stroke-dasharray="16 7.8 4 7.6" fill="none"/>
<linearGradient id="cb" x1="0" y1="0" x2="0" y2="1">
<stop offset="0" stop-color="#f4faff"/><stop offset="0.06" stop-color="#c4e2ff"/><stop offset="0.12" stop-color="#7cc0ff"/>
<stop offset="0.19" stop-color="#2c9cff"/><stop offset="0.26" stop-color="#0e8eff"/><stop offset="0.33" stop-color="#0a70e6"/>
<stop offset="0.42" stop-color="#0848c4"/><stop offset="0.51" stop-color="#0428a4"/><stop offset="0.60" stop-color="#000a84"/>
<stop offset="0.70" stop-color="#00005e"/><stop offset="0.80" stop-color="#000038"/><stop offset="0.90" stop-color="#000018"/>
<stop offset="1" stop-color="#000004"/></linearGradient>
<rect x="1851.5" y="1090" width="37.5" height="210" fill="url(#cb)" stroke="#000" stroke-width="2.4"/>
<text x="1898" y="1168.3" font-size="29.8">10</text>
<text x="1898" y="1299.8" font-size="29.8">1</text>
<text x="1837" y="1077.6" font-size="29">kR H<tspan font-size="12" dx="1.5" dy="4.2">2</tspan></text>
<path d="M1852 1257.4h2.6M1886 1257.4h2.6M1852 1232.3h2.6M1886 1232.3h2.6M1852 1214.5h2.6M1886 1214.5h2.6M1852 1200.7h2.6M1886 1200.7h2.6M1852 1189.5h2.6M1886 1189.5h2.6M1852 1179.9h2.6M1886 1179.9h2.6M1852 1171.7h2.6M1886 1171.7h2.6M1852 1164.4h2.6M1886 1164.4h2.6M1852 1115.1h2.6M1886 1115.1h2.6M1852 1090.0h2.6M1886 1090.0h2.6M1852 1157.9h4.5M1884 1157.9h4.5M1858.5 1090v2.5M1866.0 1090v2.5M1873.5 1090v2.5M1881.0 1090v2.5" stroke="#000" stroke-width="1.2" fill="none"/>
<text transform="translate(61 333.8) rotate(-90)" text-anchor="middle" font-size="35.4">Latitude (°)</text>
<text transform="translate(47.2 1033.6) rotate(-90)" text-anchor="middle" font-size="35.4">Latitude (°)</text>
</svg></body></html>
